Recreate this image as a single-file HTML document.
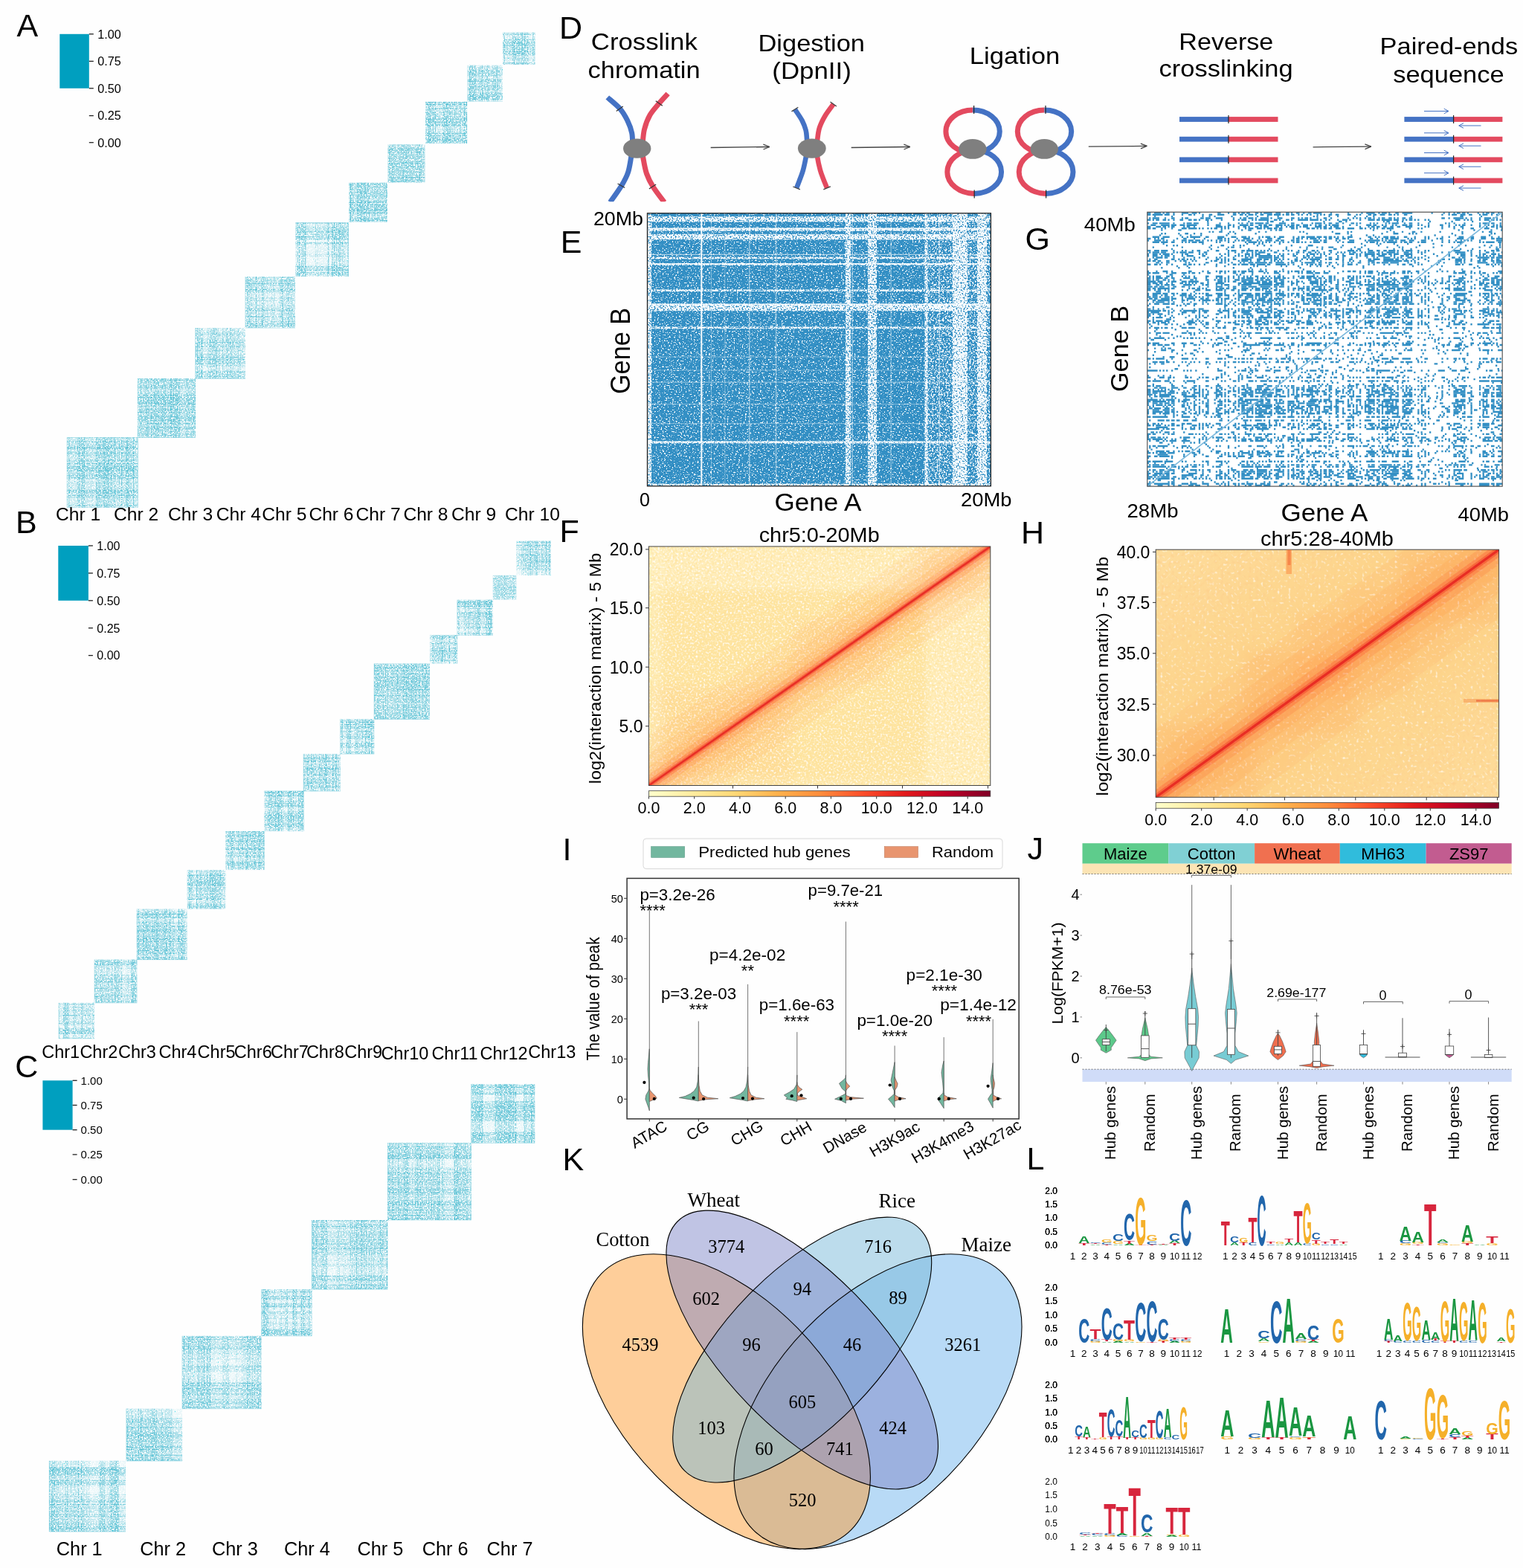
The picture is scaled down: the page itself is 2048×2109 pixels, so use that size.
<!DOCTYPE html>
<html><head><meta charset="utf-8"><title>Figure</title>
<style>
html,body{margin:0;padding:0;background:#fff;}
svg{display:block;}
.s{font-family:"Liberation Sans", Arial, sans-serif;}
.r{font-family:"Liberation Serif", "Times New Roman", serif;}
.b{font-family:"Liberation Sans", Arial, sans-serif;font-weight:bold;}
</style></head><body>
<svg width="2048" height="2109" viewBox="0 0 2048 2109">
<defs><pattern id="fine" width="2" height="2" patternUnits="userSpaceOnUse"><rect width="1" height="1" fill="rgba(0,160,190,0.35)"/></pattern><linearGradient id="ylorrd" x1="0" y1="0" x2="1" y2="0"><stop offset="0.000" stop-color="#ffffcc"/><stop offset="0.125" stop-color="#ffeda0"/><stop offset="0.250" stop-color="#fed976"/><stop offset="0.375" stop-color="#feb24c"/><stop offset="0.500" stop-color="#fd8d3c"/><stop offset="0.625" stop-color="#fc4e2a"/><stop offset="0.750" stop-color="#e31a1c"/><stop offset="0.875" stop-color="#bd0026"/><stop offset="1.000" stop-color="#800026"/></linearGradient></defs>
<rect width="2048" height="2109" fill="#fefefe"/>
<text class="s" x="22.5" y="49.3" font-size="43">A</text>
<rect x="80.3" y="45.8" width="39.5" height="73.0" fill="#009fbf"/>
<line x1="119.8" y1="45.8" x2="125.8" y2="45.8" stroke="#222" stroke-width="1.3"/>
<text class="s" x="131.3" y="51.6" font-size="16.2">1.00</text>
<line x1="119.8" y1="82.4" x2="125.8" y2="82.4" stroke="#222" stroke-width="1.3"/>
<text class="s" x="131.3" y="88.2" font-size="16.2">0.75</text>
<line x1="119.8" y1="118.8" x2="125.8" y2="118.8" stroke="#222" stroke-width="1.3"/>
<text class="s" x="131.3" y="124.6" font-size="16.2">0.50</text>
<line x1="119.8" y1="155.6" x2="125.8" y2="155.6" stroke="#222" stroke-width="1.3"/>
<text class="s" x="131.3" y="161.4" font-size="16.2">0.25</text>
<line x1="119.8" y1="191.7" x2="125.8" y2="191.7" stroke="#222" stroke-width="1.3"/>
<text class="s" x="131.3" y="197.5" font-size="16.2">0.00</text>
<rect x="90.0" y="588.5" width="95.3" height="94.1" fill="rgba(0,160,190,0.05)"/>
<rect x="90.0" y="678.5" width="95.3" height="4.06" fill="rgba(0,160,190,0.10)"/>
<rect x="90.0" y="588.5" width="4.11" height="94.1" fill="rgba(0,160,190,0.10)"/>
<rect x="90.0" y="667.7" width="95.3" height="10.88" fill="rgba(0,160,190,0.08)"/>
<rect x="94.1" y="588.5" width="11.02" height="94.1" fill="rgba(0,160,190,0.08)"/>
<rect x="90.0" y="658.9" width="95.3" height="8.80" fill="rgba(0,160,190,0.14)"/>
<rect x="105.1" y="588.5" width="8.91" height="94.1" fill="rgba(0,160,190,0.14)"/>
<rect x="90.0" y="652.4" width="95.3" height="6.49" fill="rgba(0,160,190,0.04)"/>
<rect x="114.0" y="588.5" width="6.58" height="94.1" fill="rgba(0,160,190,0.04)"/>
<rect x="90.0" y="645.0" width="95.3" height="7.34" fill="rgba(0,160,190,0.04)"/>
<rect x="120.6" y="588.5" width="7.43" height="94.1" fill="rgba(0,160,190,0.04)"/>
<rect x="90.0" y="636.0" width="95.3" height="9.06" fill="rgba(0,160,190,0.14)"/>
<rect x="128.0" y="588.5" width="9.18" height="94.1" fill="rgba(0,160,190,0.14)"/>
<rect x="90.0" y="632.7" width="95.3" height="3.23" fill="rgba(0,160,190,0.11)"/>
<rect x="137.2" y="588.5" width="3.27" height="94.1" fill="rgba(0,160,190,0.11)"/>
<rect x="90.0" y="627.1" width="95.3" height="5.66" fill="rgba(0,160,190,0.14)"/>
<rect x="140.5" y="588.5" width="5.74" height="94.1" fill="rgba(0,160,190,0.14)"/>
<rect x="90.0" y="617.2" width="95.3" height="9.93" fill="rgba(0,160,190,0.11)"/>
<rect x="146.2" y="588.5" width="10.05" height="94.1" fill="rgba(0,160,190,0.11)"/>
<rect x="90.0" y="606.2" width="95.3" height="10.96" fill="rgba(0,160,190,0.08)"/>
<rect x="156.3" y="588.5" width="11.10" height="94.1" fill="rgba(0,160,190,0.08)"/>
<rect x="90.0" y="601.8" width="95.3" height="4.42" fill="rgba(0,160,190,0.14)"/>
<rect x="167.4" y="588.5" width="4.48" height="94.1" fill="rgba(0,160,190,0.14)"/>
<rect x="90.0" y="595.8" width="95.3" height="5.96" fill="rgba(0,160,190,0.13)"/>
<rect x="171.9" y="588.5" width="6.03" height="94.1" fill="rgba(0,160,190,0.13)"/>
<rect x="90.0" y="588.5" width="95.3" height="7.31" fill="rgba(0,160,190,0.11)"/>
<rect x="177.9" y="588.5" width="7.41" height="94.1" fill="rgba(0,160,190,0.11)"/>
<path d="M90.0,682.6h95.3M90.0,663.5h95.3M90.0,657.4h95.3M90.0,655.2h95.3M90.0,653.1h95.3M90.0,650.2h95.3M90.0,648.5h95.3M90.0,637.9h95.3M90.0,635.7h95.3M90.0,625.3h95.3M90.0,620.7h95.3M90.0,615.0h95.3M90.0,599.4h95.3M90.0,597.7h95.3M90.0,588.5v94.1M109.4,588.5v94.1M115.5,588.5v94.1M117.7,588.5v94.1M119.9,588.5v94.1M122.8,588.5v94.1M124.5,588.5v94.1M135.3,588.5v94.1M137.5,588.5v94.1M148.1,588.5v94.1M152.7,588.5v94.1M158.4,588.5v94.1M174.3,588.5v94.1M176.0,588.5v94.1" stroke="rgb(0,160,190)" stroke-opacity="0.18" stroke-width="0.9" fill="none"/>
<path d="M90.0,679.8h95.3M90.0,668.5h95.3M90.0,612.9h95.3M90.0,608.3h95.3M90.0,588.5h95.3M92.9,588.5v94.1M104.3,588.5v94.1M160.6,588.5v94.1M165.2,588.5v94.1M185.3,588.5v94.1" stroke="rgb(0,160,190)" stroke-opacity="0.32" stroke-width="0.9" fill="none"/>
<path d="M90.0,666.3h95.3M90.0,661.7h95.3M90.0,659.6h95.3M90.0,642.8h95.3M90.0,640.0h95.3M90.0,633.5h95.3M90.0,631.8h95.3M90.0,629.6h95.3M90.0,627.4h95.3M90.0,623.5h95.3M90.0,619.0h95.3M90.0,610.0h95.3M90.0,603.3h95.3M90.0,601.6h95.3M90.0,594.2h95.3M106.5,588.5v94.1M111.1,588.5v94.1M113.3,588.5v94.1M130.3,588.5v94.1M133.1,588.5v94.1M139.7,588.5v94.1M141.5,588.5v94.1M143.7,588.5v94.1M145.9,588.5v94.1M149.8,588.5v94.1M154.5,588.5v94.1M163.5,588.5v94.1M170.3,588.5v94.1M172.1,588.5v94.1M179.5,588.5v94.1" stroke="rgb(0,160,190)" stroke-opacity="0.50" stroke-width="0.9" fill="none"/>
<rect x="185.3" y="509.0" width="77.7" height="79.5" fill="rgba(0,160,190,0.05)"/>
<rect x="185.3" y="582.0" width="77.7" height="6.54" fill="rgba(0,160,190,0.11)"/>
<rect x="185.3" y="509.0" width="6.39" height="79.5" fill="rgba(0,160,190,0.11)"/>
<rect x="185.3" y="573.1" width="77.7" height="8.88" fill="rgba(0,160,190,0.14)"/>
<rect x="191.7" y="509.0" width="8.68" height="79.5" fill="rgba(0,160,190,0.14)"/>
<rect x="185.3" y="567.3" width="77.7" height="5.73" fill="rgba(0,160,190,0.11)"/>
<rect x="200.4" y="509.0" width="5.60" height="79.5" fill="rgba(0,160,190,0.11)"/>
<rect x="185.3" y="560.7" width="77.7" height="6.69" fill="rgba(0,160,190,0.14)"/>
<rect x="206.0" y="509.0" width="6.54" height="79.5" fill="rgba(0,160,190,0.14)"/>
<rect x="185.3" y="554.8" width="77.7" height="5.86" fill="rgba(0,160,190,0.11)"/>
<rect x="212.5" y="509.0" width="5.73" height="79.5" fill="rgba(0,160,190,0.11)"/>
<rect x="185.3" y="550.1" width="77.7" height="4.74" fill="rgba(0,160,190,0.10)"/>
<rect x="218.2" y="509.0" width="4.63" height="79.5" fill="rgba(0,160,190,0.10)"/>
<rect x="185.3" y="547.2" width="77.7" height="2.89" fill="rgba(0,160,190,0.11)"/>
<rect x="222.9" y="509.0" width="2.82" height="79.5" fill="rgba(0,160,190,0.11)"/>
<rect x="185.3" y="543.6" width="77.7" height="3.54" fill="rgba(0,160,190,0.10)"/>
<rect x="225.7" y="509.0" width="3.46" height="79.5" fill="rgba(0,160,190,0.10)"/>
<rect x="185.3" y="535.7" width="77.7" height="7.89" fill="rgba(0,160,190,0.14)"/>
<rect x="229.2" y="509.0" width="7.71" height="79.5" fill="rgba(0,160,190,0.14)"/>
<rect x="185.3" y="532.0" width="77.7" height="3.76" fill="rgba(0,160,190,0.14)"/>
<rect x="236.9" y="509.0" width="3.67" height="79.5" fill="rgba(0,160,190,0.14)"/>
<rect x="185.3" y="527.9" width="77.7" height="4.09" fill="rgba(0,160,190,0.13)"/>
<rect x="240.5" y="509.0" width="4.00" height="79.5" fill="rgba(0,160,190,0.13)"/>
<rect x="185.3" y="522.5" width="77.7" height="5.41" fill="rgba(0,160,190,0.04)"/>
<rect x="244.5" y="509.0" width="5.28" height="79.5" fill="rgba(0,160,190,0.04)"/>
<rect x="185.3" y="517.0" width="77.7" height="5.46" fill="rgba(0,160,190,0.14)"/>
<rect x="249.8" y="509.0" width="5.34" height="79.5" fill="rgba(0,160,190,0.14)"/>
<rect x="185.3" y="513.1" width="77.7" height="3.90" fill="rgba(0,160,190,0.14)"/>
<rect x="255.2" y="509.0" width="3.81" height="79.5" fill="rgba(0,160,190,0.14)"/>
<rect x="185.3" y="509.0" width="77.7" height="4.12" fill="rgba(0,160,190,0.14)"/>
<rect x="259.0" y="509.0" width="4.02" height="79.5" fill="rgba(0,160,190,0.14)"/>
<path d="M185.3,585.6h77.7M185.3,577.9h77.7M185.3,566.9h77.7M185.3,557.0h77.7M185.3,527.0h77.7M185.3,523.0h77.7M185.3,518.5h77.7M185.3,514.0h77.7M185.3,509.5h77.7M188.2,509.0v79.5M195.6,509.0v79.5M206.4,509.0v79.5M216.1,509.0v79.5M245.4,509.0v79.5M249.3,509.0v79.5M253.7,509.0v79.5M258.1,509.0v79.5M262.5,509.0v79.5" stroke="rgb(0,160,190)" stroke-opacity="0.18" stroke-width="0.9" fill="none"/>
<path d="M185.3,588.5h77.7M185.3,583.8h77.7M185.3,576.1h77.7M185.3,574.3h77.7M185.3,552.5h77.7M185.3,546.6h77.7M185.3,520.7h77.7M185.3,511.7h77.7M185.3,509.0v79.5M189.9,509.0v79.5M197.4,509.0v79.5M199.2,509.0v79.5M220.5,509.0v79.5M226.2,509.0v79.5M251.5,509.0v79.5M260.3,509.0v79.5" stroke="rgb(0,160,190)" stroke-opacity="0.32" stroke-width="0.9" fill="none"/>
<path d="M185.3,569.8h77.7M185.3,565.1h77.7M185.3,562.2h77.7M185.3,559.9h77.7M185.3,554.7h77.7M185.3,550.7h77.7M185.3,543.7h77.7M185.3,541.9h77.7M185.3,539.0h77.7M185.3,536.7h77.7M185.3,534.5h77.7M185.3,531.6h77.7M203.6,509.0v79.5M208.2,509.0v79.5M211.0,509.0v79.5M213.2,509.0v79.5M218.3,509.0v79.5M222.3,509.0v79.5M229.1,509.0v79.5M230.8,509.0v79.5M233.7,509.0v79.5M235.9,509.0v79.5M238.1,509.0v79.5M241.0,509.0v79.5" stroke="rgb(0,160,190)" stroke-opacity="0.50" stroke-width="0.9" fill="none"/>
<rect x="263.0" y="441.0" width="67.0" height="68.0" fill="rgba(0,160,190,0.05)"/>
<rect x="263.0" y="506.1" width="67.0" height="2.95" fill="rgba(0,160,190,0.14)"/>
<rect x="263.0" y="441.0" width="2.90" height="68.0" fill="rgba(0,160,190,0.14)"/>
<rect x="263.0" y="503.0" width="67.0" height="3.08" fill="rgba(0,160,190,0.08)"/>
<rect x="265.9" y="441.0" width="3.03" height="68.0" fill="rgba(0,160,190,0.08)"/>
<rect x="263.0" y="498.6" width="67.0" height="4.39" fill="rgba(0,160,190,0.13)"/>
<rect x="268.9" y="441.0" width="4.33" height="68.0" fill="rgba(0,160,190,0.13)"/>
<rect x="263.0" y="493.1" width="67.0" height="5.51" fill="rgba(0,160,190,0.01)"/>
<rect x="273.3" y="441.0" width="5.42" height="68.0" fill="rgba(0,160,190,0.01)"/>
<rect x="263.0" y="486.6" width="67.0" height="6.47" fill="rgba(0,160,190,0.08)"/>
<rect x="278.7" y="441.0" width="6.38" height="68.0" fill="rgba(0,160,190,0.08)"/>
<rect x="263.0" y="480.1" width="67.0" height="6.54" fill="rgba(0,160,190,0.13)"/>
<rect x="285.1" y="441.0" width="6.44" height="68.0" fill="rgba(0,160,190,0.13)"/>
<rect x="263.0" y="475.3" width="67.0" height="4.74" fill="rgba(0,160,190,0.08)"/>
<rect x="291.5" y="441.0" width="4.67" height="68.0" fill="rgba(0,160,190,0.08)"/>
<rect x="263.0" y="472.8" width="67.0" height="2.56" fill="rgba(0,160,190,0.01)"/>
<rect x="296.2" y="441.0" width="2.52" height="68.0" fill="rgba(0,160,190,0.01)"/>
<rect x="263.0" y="466.5" width="67.0" height="6.26" fill="rgba(0,160,190,0.10)"/>
<rect x="298.7" y="441.0" width="6.17" height="68.0" fill="rgba(0,160,190,0.10)"/>
<rect x="263.0" y="459.0" width="67.0" height="7.54" fill="rgba(0,160,190,0.11)"/>
<rect x="304.9" y="441.0" width="7.43" height="68.0" fill="rgba(0,160,190,0.11)"/>
<rect x="263.0" y="452.6" width="67.0" height="6.41" fill="rgba(0,160,190,0.08)"/>
<rect x="312.3" y="441.0" width="6.32" height="68.0" fill="rgba(0,160,190,0.08)"/>
<rect x="263.0" y="447.5" width="67.0" height="5.04" fill="rgba(0,160,190,0.13)"/>
<rect x="318.6" y="441.0" width="4.97" height="68.0" fill="rgba(0,160,190,0.13)"/>
<rect x="263.0" y="441.6" width="67.0" height="5.90" fill="rgba(0,160,190,0.04)"/>
<rect x="323.6" y="441.0" width="5.81" height="68.0" fill="rgba(0,160,190,0.04)"/>
<rect x="263.0" y="441.0" width="67.0" height="0.61" fill="rgba(0,160,190,0.04)"/>
<rect x="329.4" y="441.0" width="0.60" height="68.0" fill="rgba(0,160,190,0.04)"/>
<path d="M263.0,491.8h67.0M263.0,478.6h67.0M263.0,463.9h67.0M263.0,455.9h67.0M263.0,450.7h67.0M263.0,447.8h67.0M263.0,444.9h67.0M279.9,441.0v68.0M292.9,441.0v68.0M307.4,441.0v68.0M315.4,441.0v68.0M320.4,441.0v68.0M323.3,441.0v68.0M326.1,441.0v68.0" stroke="rgb(0,160,190)" stroke-opacity="0.18" stroke-width="0.9" fill="none"/>
<path d="M263.0,503.2h67.0M263.0,486.7h67.0M263.0,476.4h67.0M263.0,471.9h67.0M263.0,458.1h67.0M268.7,441.0v68.0M285.0,441.0v68.0M295.1,441.0v68.0M299.5,441.0v68.0M313.2,441.0v68.0" stroke="rgb(0,160,190)" stroke-opacity="0.32" stroke-width="0.9" fill="none"/>
<path d="M263.0,509.0h67.0M263.0,506.1h67.0M263.0,500.3h67.0M263.0,488.9h67.0M263.0,483.8h67.0M263.0,480.9h67.0M263.0,466.1h67.0M263.0,461.0h67.0M263.0,441.0v68.0M265.9,441.0v68.0M271.6,441.0v68.0M282.8,441.0v68.0M287.9,441.0v68.0M290.7,441.0v68.0M305.2,441.0v68.0M310.3,441.0v68.0" stroke="rgb(0,160,190)" stroke-opacity="0.50" stroke-width="0.9" fill="none"/>
<rect x="330.0" y="372.0" width="67.0" height="69.0" fill="rgba(0,160,190,0.05)"/>
<rect x="330.0" y="432.9" width="67.0" height="8.15" fill="rgba(0,160,190,0.10)"/>
<rect x="330.0" y="372.0" width="7.91" height="69.0" fill="rgba(0,160,190,0.10)"/>
<rect x="330.0" y="425.0" width="67.0" height="7.87" fill="rgba(0,160,190,0.11)"/>
<rect x="337.9" y="372.0" width="7.64" height="69.0" fill="rgba(0,160,190,0.11)"/>
<rect x="330.0" y="418.6" width="67.0" height="6.35" fill="rgba(0,160,190,0.04)"/>
<rect x="345.6" y="372.0" width="6.17" height="69.0" fill="rgba(0,160,190,0.04)"/>
<rect x="330.0" y="412.5" width="67.0" height="6.13" fill="rgba(0,160,190,0.10)"/>
<rect x="351.7" y="372.0" width="5.96" height="69.0" fill="rgba(0,160,190,0.10)"/>
<rect x="330.0" y="404.9" width="67.0" height="7.60" fill="rgba(0,160,190,0.04)"/>
<rect x="357.7" y="372.0" width="7.37" height="69.0" fill="rgba(0,160,190,0.04)"/>
<rect x="330.0" y="399.8" width="67.0" height="5.11" fill="rgba(0,160,190,0.08)"/>
<rect x="365.1" y="372.0" width="4.96" height="69.0" fill="rgba(0,160,190,0.08)"/>
<rect x="330.0" y="396.3" width="67.0" height="3.45" fill="rgba(0,160,190,0.01)"/>
<rect x="370.0" y="372.0" width="3.35" height="69.0" fill="rgba(0,160,190,0.01)"/>
<rect x="330.0" y="394.0" width="67.0" height="2.34" fill="rgba(0,160,190,0.04)"/>
<rect x="373.4" y="372.0" width="2.28" height="69.0" fill="rgba(0,160,190,0.04)"/>
<rect x="330.0" y="387.6" width="67.0" height="6.36" fill="rgba(0,160,190,0.14)"/>
<rect x="375.6" y="372.0" width="6.18" height="69.0" fill="rgba(0,160,190,0.14)"/>
<rect x="330.0" y="384.4" width="67.0" height="3.21" fill="rgba(0,160,190,0.13)"/>
<rect x="381.8" y="372.0" width="3.12" height="69.0" fill="rgba(0,160,190,0.13)"/>
<rect x="330.0" y="377.0" width="67.0" height="7.42" fill="rgba(0,160,190,0.13)"/>
<rect x="384.9" y="372.0" width="7.20" height="69.0" fill="rgba(0,160,190,0.13)"/>
<rect x="330.0" y="373.5" width="67.0" height="3.48" fill="rgba(0,160,190,0.11)"/>
<rect x="392.1" y="372.0" width="3.38" height="69.0" fill="rgba(0,160,190,0.11)"/>
<rect x="330.0" y="372.0" width="67.0" height="1.53" fill="rgba(0,160,190,0.11)"/>
<rect x="395.5" y="372.0" width="1.49" height="69.0" fill="rgba(0,160,190,0.11)"/>
<path d="M330.0,423.1h67.0M330.0,421.3h67.0M330.0,410.6h67.0M330.0,404.7h67.0M330.0,401.1h67.0M330.0,391.4h67.0M330.0,383.7h67.0M330.0,379.1h67.0M330.0,373.9h67.0M347.4,372.0v69.0M349.1,372.0v69.0M359.5,372.0v69.0M365.2,372.0v69.0M368.7,372.0v69.0M378.2,372.0v69.0M385.7,372.0v69.0M390.1,372.0v69.0M395.1,372.0v69.0" stroke="rgb(0,160,190)" stroke-opacity="0.18" stroke-width="0.9" fill="none"/>
<path d="M330.0,441.0h67.0M330.0,432.8h67.0M330.0,415.9h67.0M330.0,376.9h67.0M330.0,372.0v69.0M337.9,372.0v69.0M354.4,372.0v69.0M392.3,372.0v69.0" stroke="rgb(0,160,190)" stroke-opacity="0.32" stroke-width="0.9" fill="none"/>
<path d="M330.0,438.1h67.0M330.0,435.8h67.0M330.0,426.0h67.0M330.0,417.7h67.0M330.0,389.6h67.0M330.0,381.4h67.0M332.9,372.0v69.0M335.1,372.0v69.0M344.5,372.0v69.0M352.7,372.0v69.0M379.9,372.0v69.0M387.9,372.0v69.0" stroke="rgb(0,160,190)" stroke-opacity="0.50" stroke-width="0.9" fill="none"/>
<rect x="397.4" y="299.6" width="71.1" height="72.4" fill="rgba(0,160,190,0.05)"/>
<rect x="397.4" y="363.6" width="71.1" height="8.43" fill="rgba(0,160,190,0.11)"/>
<rect x="397.4" y="299.6" width="8.28" height="72.4" fill="rgba(0,160,190,0.11)"/>
<rect x="397.4" y="356.6" width="71.1" height="6.94" fill="rgba(0,160,190,0.11)"/>
<rect x="405.7" y="299.6" width="6.82" height="72.4" fill="rgba(0,160,190,0.11)"/>
<rect x="397.4" y="351.9" width="71.1" height="4.72" fill="rgba(0,160,190,0.01)"/>
<rect x="412.5" y="299.6" width="4.64" height="72.4" fill="rgba(0,160,190,0.01)"/>
<rect x="397.4" y="345.1" width="71.1" height="6.82" fill="rgba(0,160,190,0.01)"/>
<rect x="417.1" y="299.6" width="6.70" height="72.4" fill="rgba(0,160,190,0.01)"/>
<rect x="397.4" y="337.0" width="71.1" height="8.12" fill="rgba(0,160,190,0.04)"/>
<rect x="423.8" y="299.6" width="7.97" height="72.4" fill="rgba(0,160,190,0.04)"/>
<rect x="397.4" y="329.0" width="71.1" height="8.01" fill="rgba(0,160,190,0.04)"/>
<rect x="431.8" y="299.6" width="7.86" height="72.4" fill="rgba(0,160,190,0.04)"/>
<rect x="397.4" y="326.3" width="71.1" height="2.67" fill="rgba(0,160,190,0.14)"/>
<rect x="439.7" y="299.6" width="2.62" height="72.4" fill="rgba(0,160,190,0.14)"/>
<rect x="397.4" y="321.7" width="71.1" height="4.57" fill="rgba(0,160,190,0.01)"/>
<rect x="442.3" y="299.6" width="4.49" height="72.4" fill="rgba(0,160,190,0.01)"/>
<rect x="397.4" y="313.9" width="71.1" height="7.79" fill="rgba(0,160,190,0.14)"/>
<rect x="446.8" y="299.6" width="7.65" height="72.4" fill="rgba(0,160,190,0.14)"/>
<rect x="397.4" y="309.2" width="71.1" height="4.72" fill="rgba(0,160,190,0.14)"/>
<rect x="454.4" y="299.6" width="4.64" height="72.4" fill="rgba(0,160,190,0.14)"/>
<rect x="397.4" y="300.9" width="71.1" height="8.34" fill="rgba(0,160,190,0.08)"/>
<rect x="459.1" y="299.6" width="8.19" height="72.4" fill="rgba(0,160,190,0.08)"/>
<rect x="397.4" y="299.6" width="71.1" height="1.26" fill="rgba(0,160,190,0.13)"/>
<rect x="467.3" y="299.6" width="1.24" height="72.4" fill="rgba(0,160,190,0.13)"/>
<path d="M397.4,344.4h71.1M397.4,342.2h71.1M397.4,304.6h71.1M424.5,299.6v72.4M426.7,299.6v72.4M463.6,299.6v72.4" stroke="rgb(0,160,190)" stroke-opacity="0.18" stroke-width="0.9" fill="none"/>
<path d="M397.4,369.1h71.1M397.4,361.0h71.1M397.4,315.8h71.1M397.4,312.9h71.1M397.4,308.2h71.1M397.4,306.4h71.1M400.3,299.6v72.4M408.2,299.6v72.4M452.6,299.6v72.4M455.5,299.6v72.4M460.1,299.6v72.4M461.9,299.6v72.4" stroke="rgb(0,160,190)" stroke-opacity="0.32" stroke-width="0.9" fill="none"/>
<path d="M397.4,366.8h71.1M397.4,363.3h71.1M397.4,358.8h71.1M397.4,326.7h71.1M397.4,321.6h71.1M397.4,318.7h71.1M397.4,311.1h71.1M397.4,299.9h71.1M402.5,299.6v72.4M406.0,299.6v72.4M410.4,299.6v72.4M441.8,299.6v72.4M446.9,299.6v72.4M449.8,299.6v72.4M457.2,299.6v72.4M468.2,299.6v72.4" stroke="rgb(0,160,190)" stroke-opacity="0.50" stroke-width="0.9" fill="none"/>
<rect x="469.3" y="245.7" width="51.7" height="52.9" fill="rgba(0,160,190,0.05)"/>
<rect x="469.3" y="292.8" width="51.7" height="5.77" fill="rgba(0,160,190,0.14)"/>
<rect x="469.3" y="245.7" width="5.64" height="52.9" fill="rgba(0,160,190,0.14)"/>
<rect x="469.3" y="288.5" width="51.7" height="4.35" fill="rgba(0,160,190,0.04)"/>
<rect x="474.9" y="245.7" width="4.25" height="52.9" fill="rgba(0,160,190,0.04)"/>
<rect x="469.3" y="282.4" width="51.7" height="6.12" fill="rgba(0,160,190,0.14)"/>
<rect x="479.2" y="245.7" width="5.98" height="52.9" fill="rgba(0,160,190,0.14)"/>
<rect x="469.3" y="278.3" width="51.7" height="4.08" fill="rgba(0,160,190,0.14)"/>
<rect x="485.2" y="245.7" width="3.99" height="52.9" fill="rgba(0,160,190,0.14)"/>
<rect x="469.3" y="275.3" width="51.7" height="2.98" fill="rgba(0,160,190,0.14)"/>
<rect x="489.2" y="245.7" width="2.91" height="52.9" fill="rgba(0,160,190,0.14)"/>
<rect x="469.3" y="272.9" width="51.7" height="2.38" fill="rgba(0,160,190,0.08)"/>
<rect x="492.1" y="245.7" width="2.32" height="52.9" fill="rgba(0,160,190,0.08)"/>
<rect x="469.3" y="270.9" width="51.7" height="2.06" fill="rgba(0,160,190,0.13)"/>
<rect x="494.4" y="245.7" width="2.02" height="52.9" fill="rgba(0,160,190,0.13)"/>
<rect x="469.3" y="267.6" width="51.7" height="3.26" fill="rgba(0,160,190,0.08)"/>
<rect x="496.4" y="245.7" width="3.19" height="52.9" fill="rgba(0,160,190,0.08)"/>
<rect x="469.3" y="262.0" width="51.7" height="5.62" fill="rgba(0,160,190,0.13)"/>
<rect x="499.6" y="245.7" width="5.49" height="52.9" fill="rgba(0,160,190,0.13)"/>
<rect x="469.3" y="256.4" width="51.7" height="5.54" fill="rgba(0,160,190,0.10)"/>
<rect x="505.1" y="245.7" width="5.41" height="52.9" fill="rgba(0,160,190,0.10)"/>
<rect x="469.3" y="250.7" width="51.7" height="5.78" fill="rgba(0,160,190,0.11)"/>
<rect x="510.5" y="245.7" width="5.65" height="52.9" fill="rgba(0,160,190,0.11)"/>
<rect x="469.3" y="245.7" width="51.7" height="4.95" fill="rgba(0,160,190,0.08)"/>
<rect x="516.2" y="245.7" width="4.84" height="52.9" fill="rgba(0,160,190,0.08)"/>
<rect x="469.3" y="245.7" width="51.7" height="0.01" fill="rgba(0,160,190,0.14)"/>
<rect x="521.0" y="245.7" width="0.01" height="52.9" fill="rgba(0,160,190,0.14)"/>
<path d="M469.3,292.3h51.7M469.3,289.4h51.7M469.3,279.5h51.7M469.3,266.2h51.7M469.3,257.4h51.7M469.3,255.2h51.7M469.3,250.7h51.7M475.5,245.7v52.9M478.3,245.7v52.9M488.0,245.7v52.9M501.0,245.7v52.9M509.6,245.7v52.9M511.8,245.7v52.9M516.2,245.7v52.9" stroke="rgb(0,160,190)" stroke-opacity="0.18" stroke-width="0.9" fill="none"/>
<path d="M469.3,294.5h51.7M469.3,270.7h51.7M469.3,263.3h51.7M469.3,261.0h51.7M469.3,259.2h51.7M469.3,252.9h51.7M469.3,248.9h51.7M473.3,245.7v52.9M496.6,245.7v52.9M503.8,245.7v52.9M506.0,245.7v52.9M507.8,245.7v52.9M514.0,245.7v52.9M517.9,245.7v52.9" stroke="rgb(0,160,190)" stroke-opacity="0.32" stroke-width="0.9" fill="none"/>
<path d="M469.3,296.3h51.7M469.3,286.4h51.7M469.3,283.5h51.7M469.3,281.7h51.7M469.3,277.2h51.7M469.3,275.4h51.7M469.3,272.5h51.7M469.3,247.1h51.7M471.5,245.7v52.9M481.2,245.7v52.9M484.0,245.7v52.9M485.8,245.7v52.9M490.2,245.7v52.9M492.0,245.7v52.9M494.8,245.7v52.9M519.7,245.7v52.9" stroke="rgb(0,160,190)" stroke-opacity="0.50" stroke-width="0.9" fill="none"/>
<rect x="521.5" y="194.2" width="49.9" height="51.5" fill="rgba(0,160,190,0.05)"/>
<rect x="521.5" y="240.9" width="49.9" height="4.84" fill="rgba(0,160,190,0.10)"/>
<rect x="521.5" y="194.2" width="4.69" height="51.5" fill="rgba(0,160,190,0.10)"/>
<rect x="521.5" y="239.2" width="49.9" height="1.62" fill="rgba(0,160,190,0.10)"/>
<rect x="526.2" y="194.2" width="1.57" height="51.5" fill="rgba(0,160,190,0.10)"/>
<rect x="521.5" y="237.4" width="49.9" height="1.81" fill="rgba(0,160,190,0.14)"/>
<rect x="527.8" y="194.2" width="1.75" height="51.5" fill="rgba(0,160,190,0.14)"/>
<rect x="521.5" y="232.2" width="49.9" height="5.27" fill="rgba(0,160,190,0.11)"/>
<rect x="529.5" y="194.2" width="5.11" height="51.5" fill="rgba(0,160,190,0.11)"/>
<rect x="521.5" y="226.9" width="49.9" height="5.30" fill="rgba(0,160,190,0.10)"/>
<rect x="534.6" y="194.2" width="5.13" height="51.5" fill="rgba(0,160,190,0.10)"/>
<rect x="521.5" y="223.6" width="49.9" height="3.23" fill="rgba(0,160,190,0.10)"/>
<rect x="539.8" y="194.2" width="3.13" height="51.5" fill="rgba(0,160,190,0.10)"/>
<rect x="521.5" y="218.7" width="49.9" height="4.98" fill="rgba(0,160,190,0.14)"/>
<rect x="542.9" y="194.2" width="4.82" height="51.5" fill="rgba(0,160,190,0.14)"/>
<rect x="521.5" y="213.9" width="49.9" height="4.74" fill="rgba(0,160,190,0.10)"/>
<rect x="547.7" y="194.2" width="4.60" height="51.5" fill="rgba(0,160,190,0.10)"/>
<rect x="521.5" y="211.1" width="49.9" height="2.83" fill="rgba(0,160,190,0.10)"/>
<rect x="552.3" y="194.2" width="2.75" height="51.5" fill="rgba(0,160,190,0.10)"/>
<rect x="521.5" y="206.5" width="49.9" height="4.55" fill="rgba(0,160,190,0.08)"/>
<rect x="555.1" y="194.2" width="4.41" height="51.5" fill="rgba(0,160,190,0.08)"/>
<rect x="521.5" y="203.7" width="49.9" height="2.82" fill="rgba(0,160,190,0.10)"/>
<rect x="559.5" y="194.2" width="2.73" height="51.5" fill="rgba(0,160,190,0.10)"/>
<rect x="521.5" y="200.5" width="49.9" height="3.17" fill="rgba(0,160,190,0.14)"/>
<rect x="562.2" y="194.2" width="3.08" height="51.5" fill="rgba(0,160,190,0.14)"/>
<rect x="521.5" y="197.4" width="49.9" height="3.16" fill="rgba(0,160,190,0.08)"/>
<rect x="565.3" y="194.2" width="3.06" height="51.5" fill="rgba(0,160,190,0.08)"/>
<rect x="521.5" y="195.2" width="49.9" height="2.19" fill="rgba(0,160,190,0.04)"/>
<rect x="568.3" y="194.2" width="2.13" height="51.5" fill="rgba(0,160,190,0.04)"/>
<rect x="521.5" y="194.2" width="49.9" height="0.97" fill="rgba(0,160,190,0.14)"/>
<rect x="570.5" y="194.2" width="0.94" height="51.5" fill="rgba(0,160,190,0.14)"/>
<path d="M521.5,233.7h49.9M521.5,229.1h49.9M521.5,222.3h49.9M521.5,208.0h49.9M521.5,202.8h49.9M521.5,196.2h49.9M533.2,194.2v51.5M537.6,194.2v51.5M544.2,194.2v51.5M558.0,194.2v51.5M563.1,194.2v51.5M569.5,194.2v51.5" stroke="rgb(0,160,190)" stroke-opacity="0.18" stroke-width="0.9" fill="none"/>
<path d="M521.5,241.2h49.9M521.5,235.9h49.9M521.5,231.4h49.9M521.5,226.9h49.9M521.5,217.8h49.9M521.5,214.8h49.9M521.5,212.6h49.9M521.5,210.3h49.9M521.5,199.2h49.9M525.9,194.2v51.5M531.0,194.2v51.5M535.4,194.2v51.5M539.8,194.2v51.5M548.6,194.2v51.5M551.4,194.2v51.5M553.6,194.2v51.5M555.8,194.2v51.5M566.6,194.2v51.5" stroke="rgb(0,160,190)" stroke-opacity="0.32" stroke-width="0.9" fill="none"/>
<path d="M521.5,243.4h49.9M521.5,238.9h49.9M521.5,224.6h49.9M521.5,220.0h49.9M521.5,205.1h49.9M521.5,201.0h49.9M523.7,194.2v51.5M528.1,194.2v51.5M542.0,194.2v51.5M546.4,194.2v51.5M560.9,194.2v51.5M564.8,194.2v51.5" stroke="rgb(0,160,190)" stroke-opacity="0.50" stroke-width="0.9" fill="none"/>
<rect x="572.0" y="136.9" width="56.2" height="56.2" fill="rgba(0,160,190,0.05)"/>
<rect x="572.0" y="190.2" width="56.2" height="2.93" fill="rgba(0,160,190,0.13)"/>
<rect x="572.0" y="136.9" width="2.93" height="56.2" fill="rgba(0,160,190,0.13)"/>
<rect x="572.0" y="186.0" width="56.2" height="4.13" fill="rgba(0,160,190,0.14)"/>
<rect x="574.9" y="136.9" width="4.13" height="56.2" fill="rgba(0,160,190,0.14)"/>
<rect x="572.0" y="179.5" width="56.2" height="6.53" fill="rgba(0,160,190,0.13)"/>
<rect x="579.1" y="136.9" width="6.53" height="56.2" fill="rgba(0,160,190,0.13)"/>
<rect x="572.0" y="172.8" width="56.2" height="6.74" fill="rgba(0,160,190,0.04)"/>
<rect x="585.6" y="136.9" width="6.74" height="56.2" fill="rgba(0,160,190,0.04)"/>
<rect x="572.0" y="169.8" width="56.2" height="2.95" fill="rgba(0,160,190,0.01)"/>
<rect x="592.3" y="136.9" width="2.95" height="56.2" fill="rgba(0,160,190,0.01)"/>
<rect x="572.0" y="164.6" width="56.2" height="5.27" fill="rgba(0,160,190,0.14)"/>
<rect x="595.3" y="136.9" width="5.27" height="56.2" fill="rgba(0,160,190,0.14)"/>
<rect x="572.0" y="158.6" width="56.2" height="5.96" fill="rgba(0,160,190,0.11)"/>
<rect x="600.5" y="136.9" width="5.96" height="56.2" fill="rgba(0,160,190,0.11)"/>
<rect x="572.0" y="156.0" width="56.2" height="2.63" fill="rgba(0,160,190,0.11)"/>
<rect x="606.5" y="136.9" width="2.63" height="56.2" fill="rgba(0,160,190,0.11)"/>
<rect x="572.0" y="149.6" width="56.2" height="6.35" fill="rgba(0,160,190,0.08)"/>
<rect x="609.1" y="136.9" width="6.35" height="56.2" fill="rgba(0,160,190,0.08)"/>
<rect x="572.0" y="146.7" width="56.2" height="2.92" fill="rgba(0,160,190,0.04)"/>
<rect x="615.5" y="136.9" width="2.92" height="56.2" fill="rgba(0,160,190,0.04)"/>
<rect x="572.0" y="144.6" width="56.2" height="2.07" fill="rgba(0,160,190,0.08)"/>
<rect x="618.4" y="136.9" width="2.07" height="56.2" fill="rgba(0,160,190,0.08)"/>
<rect x="572.0" y="142.6" width="56.2" height="2.01" fill="rgba(0,160,190,0.11)"/>
<rect x="620.5" y="136.9" width="2.01" height="56.2" fill="rgba(0,160,190,0.11)"/>
<rect x="572.0" y="140.1" width="56.2" height="2.46" fill="rgba(0,160,190,0.14)"/>
<rect x="622.5" y="136.9" width="2.46" height="56.2" fill="rgba(0,160,190,0.14)"/>
<rect x="572.0" y="138.0" width="56.2" height="2.13" fill="rgba(0,160,190,0.14)"/>
<rect x="625.0" y="136.9" width="2.13" height="56.2" fill="rgba(0,160,190,0.14)"/>
<rect x="572.0" y="136.9" width="56.2" height="1.12" fill="rgba(0,160,190,0.11)"/>
<rect x="627.1" y="136.9" width="1.12" height="56.2" fill="rgba(0,160,190,0.11)"/>
<path d="M572.0,184.7h56.2M572.0,177.5h56.2M572.0,174.6h56.2M572.0,158.6h56.2M572.0,156.4h56.2M572.0,149.1h56.2M580.4,136.9v56.2M587.6,136.9v56.2M590.5,136.9v56.2M606.5,136.9v56.2M608.7,136.9v56.2M616.0,136.9v56.2" stroke="rgb(0,160,190)" stroke-opacity="0.18" stroke-width="0.9" fill="none"/>
<path d="M572.0,190.9h56.2M572.0,182.5h56.2M572.0,167.1h56.2M572.0,162.5h56.2M572.0,153.5h56.2M572.0,151.3h56.2M574.2,136.9v56.2M582.6,136.9v56.2M598.0,136.9v56.2M602.6,136.9v56.2M611.6,136.9v56.2M613.8,136.9v56.2" stroke="rgb(0,160,190)" stroke-opacity="0.32" stroke-width="0.9" fill="none"/>
<path d="M572.0,188.7h56.2M572.0,186.9h56.2M572.0,179.7h56.2M572.0,168.9h56.2M572.0,164.3h56.2M572.0,160.3h56.2M572.0,146.2h56.2M572.0,140.5h56.2M572.0,137.7h56.2M576.4,136.9v56.2M578.2,136.9v56.2M585.4,136.9v56.2M596.2,136.9v56.2M600.8,136.9v56.2M604.8,136.9v56.2M618.9,136.9v56.2M624.6,136.9v56.2M627.4,136.9v56.2" stroke="rgb(0,160,190)" stroke-opacity="0.50" stroke-width="0.9" fill="none"/>
<rect x="628.8" y="87.7" width="47.2" height="48.6" fill="rgba(0,160,190,0.05)"/>
<rect x="628.8" y="134.3" width="47.2" height="2.03" fill="rgba(0,160,190,0.04)"/>
<rect x="628.8" y="87.7" width="1.97" height="48.6" fill="rgba(0,160,190,0.04)"/>
<rect x="628.8" y="129.0" width="47.2" height="5.31" fill="rgba(0,160,190,0.13)"/>
<rect x="630.8" y="87.7" width="5.16" height="48.6" fill="rgba(0,160,190,0.13)"/>
<rect x="628.8" y="124.3" width="47.2" height="4.64" fill="rgba(0,160,190,0.13)"/>
<rect x="635.9" y="87.7" width="4.51" height="48.6" fill="rgba(0,160,190,0.13)"/>
<rect x="628.8" y="122.0" width="47.2" height="2.31" fill="rgba(0,160,190,0.04)"/>
<rect x="640.4" y="87.7" width="2.25" height="48.6" fill="rgba(0,160,190,0.04)"/>
<rect x="628.8" y="119.2" width="47.2" height="2.77" fill="rgba(0,160,190,0.08)"/>
<rect x="642.7" y="87.7" width="2.69" height="48.6" fill="rgba(0,160,190,0.08)"/>
<rect x="628.8" y="116.9" width="47.2" height="2.34" fill="rgba(0,160,190,0.14)"/>
<rect x="645.4" y="87.7" width="2.27" height="48.6" fill="rgba(0,160,190,0.14)"/>
<rect x="628.8" y="114.6" width="47.2" height="2.29" fill="rgba(0,160,190,0.11)"/>
<rect x="647.6" y="87.7" width="2.23" height="48.6" fill="rgba(0,160,190,0.11)"/>
<rect x="628.8" y="112.8" width="47.2" height="1.83" fill="rgba(0,160,190,0.13)"/>
<rect x="649.9" y="87.7" width="1.78" height="48.6" fill="rgba(0,160,190,0.13)"/>
<rect x="628.8" y="110.9" width="47.2" height="1.90" fill="rgba(0,160,190,0.14)"/>
<rect x="651.6" y="87.7" width="1.85" height="48.6" fill="rgba(0,160,190,0.14)"/>
<rect x="628.8" y="106.5" width="47.2" height="4.34" fill="rgba(0,160,190,0.13)"/>
<rect x="653.5" y="87.7" width="4.21" height="48.6" fill="rgba(0,160,190,0.13)"/>
<rect x="628.8" y="104.1" width="47.2" height="2.39" fill="rgba(0,160,190,0.01)"/>
<rect x="657.7" y="87.7" width="2.32" height="48.6" fill="rgba(0,160,190,0.01)"/>
<rect x="628.8" y="99.4" width="47.2" height="4.72" fill="rgba(0,160,190,0.10)"/>
<rect x="660.0" y="87.7" width="4.58" height="48.6" fill="rgba(0,160,190,0.10)"/>
<rect x="628.8" y="97.8" width="47.2" height="1.61" fill="rgba(0,160,190,0.14)"/>
<rect x="664.6" y="87.7" width="1.56" height="48.6" fill="rgba(0,160,190,0.14)"/>
<rect x="628.8" y="92.0" width="47.2" height="5.78" fill="rgba(0,160,190,0.11)"/>
<rect x="666.2" y="87.7" width="5.62" height="48.6" fill="rgba(0,160,190,0.11)"/>
<rect x="628.8" y="89.7" width="47.2" height="2.34" fill="rgba(0,160,190,0.10)"/>
<rect x="671.8" y="87.7" width="2.27" height="48.6" fill="rgba(0,160,190,0.10)"/>
<rect x="628.8" y="87.7" width="47.2" height="1.99" fill="rgba(0,160,190,0.01)"/>
<rect x="674.1" y="87.7" width="1.93" height="48.6" fill="rgba(0,160,190,0.01)"/>
<path d="M628.8,136.3h47.2M628.8,118.9h47.2M628.8,87.7v48.6M645.7,87.7v48.6" stroke="rgb(0,160,190)" stroke-opacity="0.18" stroke-width="0.9" fill="none"/>
<path d="M628.8,125.2h47.2M628.8,120.7h47.2M628.8,106.9h47.2M628.8,101.0h47.2M628.8,98.0h47.2M639.6,87.7v48.6M644.0,87.7v48.6M657.4,87.7v48.6M663.1,87.7v48.6M666.0,87.7v48.6" stroke="rgb(0,160,190)" stroke-opacity="0.32" stroke-width="0.9" fill="none"/>
<path d="M628.8,133.4h47.2M628.8,131.5h47.2M628.8,129.3h47.2M628.8,127.0h47.2M628.8,115.9h47.2M628.8,109.1h47.2M628.8,95.8h47.2M631.7,87.7v48.6M633.4,87.7v48.6M635.6,87.7v48.6M637.8,87.7v48.6M648.6,87.7v48.6M655.2,87.7v48.6M668.2,87.7v48.6" stroke="rgb(0,160,190)" stroke-opacity="0.50" stroke-width="0.9" fill="none"/>
<rect x="676.0" y="43.6" width="43.6" height="43.5" fill="rgba(0,160,190,0.05)"/>
<rect x="676.0" y="84.7" width="43.6" height="2.40" fill="rgba(0,160,190,0.10)"/>
<rect x="676.0" y="43.6" width="2.41" height="43.5" fill="rgba(0,160,190,0.10)"/>
<rect x="676.0" y="81.6" width="43.6" height="3.07" fill="rgba(0,160,190,0.01)"/>
<rect x="678.4" y="43.6" width="3.07" height="43.5" fill="rgba(0,160,190,0.01)"/>
<rect x="676.0" y="79.9" width="43.6" height="1.70" fill="rgba(0,160,190,0.10)"/>
<rect x="681.5" y="43.6" width="1.71" height="43.5" fill="rgba(0,160,190,0.10)"/>
<rect x="676.0" y="74.9" width="43.6" height="5.05" fill="rgba(0,160,190,0.04)"/>
<rect x="683.2" y="43.6" width="5.06" height="43.5" fill="rgba(0,160,190,0.04)"/>
<rect x="676.0" y="70.5" width="43.6" height="4.40" fill="rgba(0,160,190,0.10)"/>
<rect x="688.2" y="43.6" width="4.41" height="43.5" fill="rgba(0,160,190,0.10)"/>
<rect x="676.0" y="67.2" width="43.6" height="3.29" fill="rgba(0,160,190,0.13)"/>
<rect x="692.7" y="43.6" width="3.29" height="43.5" fill="rgba(0,160,190,0.13)"/>
<rect x="676.0" y="62.6" width="43.6" height="4.59" fill="rgba(0,160,190,0.08)"/>
<rect x="695.9" y="43.6" width="4.60" height="43.5" fill="rgba(0,160,190,0.08)"/>
<rect x="676.0" y="57.7" width="43.6" height="4.88" fill="rgba(0,160,190,0.14)"/>
<rect x="700.5" y="43.6" width="4.89" height="43.5" fill="rgba(0,160,190,0.14)"/>
<rect x="676.0" y="53.0" width="43.6" height="4.76" fill="rgba(0,160,190,0.14)"/>
<rect x="705.4" y="43.6" width="4.77" height="43.5" fill="rgba(0,160,190,0.14)"/>
<rect x="676.0" y="51.4" width="43.6" height="1.56" fill="rgba(0,160,190,0.08)"/>
<rect x="710.2" y="43.6" width="1.57" height="43.5" fill="rgba(0,160,190,0.08)"/>
<rect x="676.0" y="47.6" width="43.6" height="3.77" fill="rgba(0,160,190,0.01)"/>
<rect x="711.8" y="43.6" width="3.77" height="43.5" fill="rgba(0,160,190,0.01)"/>
<rect x="676.0" y="43.6" width="43.6" height="4.04" fill="rgba(0,160,190,0.11)"/>
<rect x="715.6" y="43.6" width="4.05" height="43.5" fill="rgba(0,160,190,0.11)"/>
<path d="M676.0,78.1h43.6M676.0,63.2h43.6M685.0,43.6v43.5M700.0,43.6v43.5" stroke="rgb(0,160,190)" stroke-opacity="0.18" stroke-width="0.9" fill="none"/>
<path d="M676.0,73.5h43.6M676.0,66.7h43.6M676.0,64.9h43.6M676.0,56.4h43.6M676.0,53.5h43.6M676.0,46.3h43.6M689.6,43.6v43.5M696.5,43.6v43.5M698.2,43.6v43.5M706.8,43.6v43.5M709.7,43.6v43.5M716.9,43.6v43.5" stroke="rgb(0,160,190)" stroke-opacity="0.32" stroke-width="0.9" fill="none"/>
<path d="M676.0,84.9h43.6M676.0,71.7h43.6M676.0,69.5h43.6M676.0,61.0h43.6M676.0,58.1h43.6M678.2,43.6v43.5M691.4,43.6v43.5M693.6,43.6v43.5M702.2,43.6v43.5M705.0,43.6v43.5" stroke="rgb(0,160,190)" stroke-opacity="0.50" stroke-width="0.9" fill="none"/>
<text class="s" x="75.1" y="700.0" font-size="24.6">Chr 1</text>
<text class="s" x="153.0" y="700.0" font-size="24.6">Chr 2</text>
<text class="s" x="226.1" y="700.0" font-size="24.6">Chr 3</text>
<text class="s" x="290.8" y="700.0" font-size="24.6">Chr 4</text>
<text class="s" x="352.3" y="700.0" font-size="24.6">Chr 5</text>
<text class="s" x="415.4" y="700.0" font-size="24.6">Chr 6</text>
<text class="s" x="478.5" y="700.0" font-size="24.6">Chr 7</text>
<text class="s" x="542.4" y="700.0" font-size="24.6">Chr 8</text>
<text class="s" x="607.1" y="700.0" font-size="24.6">Chr 9</text>
<text class="s" x="679.0" y="700.0" font-size="24.6">Chr 10</text>
<text class="s" x="21.0" y="717.0" font-size="43">B</text>
<rect x="78.3" y="734.0" width="40.6" height="73.8" fill="#009fbf"/>
<line x1="118.9" y1="734.0" x2="124.9" y2="734.0" stroke="#222" stroke-width="1.3"/>
<text class="s" x="130.3" y="739.8" font-size="16">1.00</text>
<line x1="118.9" y1="770.9" x2="124.9" y2="770.9" stroke="#222" stroke-width="1.3"/>
<text class="s" x="130.3" y="776.7" font-size="16">0.75</text>
<line x1="118.9" y1="807.8" x2="124.9" y2="807.8" stroke="#222" stroke-width="1.3"/>
<text class="s" x="130.3" y="813.6" font-size="16">0.50</text>
<line x1="118.9" y1="844.7" x2="124.9" y2="844.7" stroke="#222" stroke-width="1.3"/>
<text class="s" x="130.3" y="850.5" font-size="16">0.25</text>
<line x1="118.9" y1="881.6" x2="124.9" y2="881.6" stroke="#222" stroke-width="1.3"/>
<text class="s" x="130.3" y="887.4" font-size="16">0.00</text>
<rect x="79.1" y="1348.8" width="48.0" height="48.0" fill="rgba(0,160,190,0.05)"/>
<rect x="79.1" y="1395.2" width="48.0" height="1.64" fill="rgba(0,160,190,0.11)"/>
<rect x="79.1" y="1348.8" width="1.64" height="48.0" fill="rgba(0,160,190,0.11)"/>
<rect x="79.1" y="1390.5" width="48.0" height="4.61" fill="rgba(0,160,190,0.01)"/>
<rect x="80.7" y="1348.8" width="4.61" height="48.0" fill="rgba(0,160,190,0.01)"/>
<rect x="79.1" y="1388.5" width="48.0" height="2.06" fill="rgba(0,160,190,0.14)"/>
<rect x="85.4" y="1348.8" width="2.06" height="48.0" fill="rgba(0,160,190,0.14)"/>
<rect x="79.1" y="1383.1" width="48.0" height="5.40" fill="rgba(0,160,190,0.10)"/>
<rect x="87.4" y="1348.8" width="5.40" height="48.0" fill="rgba(0,160,190,0.10)"/>
<rect x="79.1" y="1378.6" width="48.0" height="4.51" fill="rgba(0,160,190,0.01)"/>
<rect x="92.8" y="1348.8" width="4.51" height="48.0" fill="rgba(0,160,190,0.01)"/>
<rect x="79.1" y="1375.3" width="48.0" height="3.33" fill="rgba(0,160,190,0.10)"/>
<rect x="97.3" y="1348.8" width="3.33" height="48.0" fill="rgba(0,160,190,0.10)"/>
<rect x="79.1" y="1371.8" width="48.0" height="3.43" fill="rgba(0,160,190,0.11)"/>
<rect x="100.6" y="1348.8" width="3.43" height="48.0" fill="rgba(0,160,190,0.11)"/>
<rect x="79.1" y="1367.6" width="48.0" height="4.24" fill="rgba(0,160,190,0.04)"/>
<rect x="104.1" y="1348.8" width="4.24" height="48.0" fill="rgba(0,160,190,0.04)"/>
<rect x="79.1" y="1364.8" width="48.0" height="2.74" fill="rgba(0,160,190,0.13)"/>
<rect x="108.3" y="1348.8" width="2.74" height="48.0" fill="rgba(0,160,190,0.13)"/>
<rect x="79.1" y="1361.9" width="48.0" height="2.96" fill="rgba(0,160,190,0.04)"/>
<rect x="111.1" y="1348.8" width="2.96" height="48.0" fill="rgba(0,160,190,0.04)"/>
<rect x="79.1" y="1358.5" width="48.0" height="3.44" fill="rgba(0,160,190,0.11)"/>
<rect x="114.0" y="1348.8" width="3.44" height="48.0" fill="rgba(0,160,190,0.11)"/>
<rect x="79.1" y="1354.0" width="48.0" height="4.40" fill="rgba(0,160,190,0.10)"/>
<rect x="117.4" y="1348.8" width="4.40" height="48.0" fill="rgba(0,160,190,0.10)"/>
<rect x="79.1" y="1351.3" width="48.0" height="2.71" fill="rgba(0,160,190,0.04)"/>
<rect x="121.9" y="1348.8" width="2.71" height="48.0" fill="rgba(0,160,190,0.04)"/>
<rect x="79.1" y="1348.8" width="48.0" height="2.54" fill="rgba(0,160,190,0.08)"/>
<rect x="124.6" y="1348.8" width="2.54" height="48.0" fill="rgba(0,160,190,0.08)"/>
<path d="M79.1,1374.4h48.0M79.1,1370.0h48.0M79.1,1363.4h48.0M79.1,1359.4h48.0M79.1,1354.8h48.0M101.5,1348.8v48.0M105.9,1348.8v48.0M112.5,1348.8v48.0M116.5,1348.8v48.0M121.1,1348.8v48.0" stroke="rgb(0,160,190)" stroke-opacity="0.18" stroke-width="0.9" fill="none"/>
<path d="M79.1,1396.8h48.0M79.1,1383.4h48.0M79.1,1376.6h48.0M79.1,1350.8h48.0M79.1,1348.8v48.0M92.5,1348.8v48.0M99.3,1348.8v48.0M125.1,1348.8v48.0" stroke="rgb(0,160,190)" stroke-opacity="0.32" stroke-width="0.9" fill="none"/>
<path d="M79.1,1390.0h48.0M79.1,1387.8h48.0M79.1,1385.6h48.0M79.1,1365.6h48.0M85.9,1348.8v48.0M88.1,1348.8v48.0M90.3,1348.8v48.0M110.3,1348.8v48.0" stroke="rgb(0,160,190)" stroke-opacity="0.50" stroke-width="0.9" fill="none"/>
<rect x="127.1" y="1290.6" width="57.3" height="58.2" fill="rgba(0,160,190,0.05)"/>
<rect x="127.1" y="1346.7" width="57.3" height="2.10" fill="rgba(0,160,190,0.14)"/>
<rect x="127.1" y="1290.6" width="2.07" height="58.2" fill="rgba(0,160,190,0.14)"/>
<rect x="127.1" y="1342.8" width="57.3" height="3.95" fill="rgba(0,160,190,0.14)"/>
<rect x="129.2" y="1290.6" width="3.89" height="58.2" fill="rgba(0,160,190,0.14)"/>
<rect x="127.1" y="1339.3" width="57.3" height="3.45" fill="rgba(0,160,190,0.10)"/>
<rect x="133.1" y="1290.6" width="3.40" height="58.2" fill="rgba(0,160,190,0.10)"/>
<rect x="127.1" y="1334.3" width="57.3" height="5.00" fill="rgba(0,160,190,0.14)"/>
<rect x="136.5" y="1290.6" width="4.92" height="58.2" fill="rgba(0,160,190,0.14)"/>
<rect x="127.1" y="1330.2" width="57.3" height="4.11" fill="rgba(0,160,190,0.10)"/>
<rect x="141.4" y="1290.6" width="4.04" height="58.2" fill="rgba(0,160,190,0.10)"/>
<rect x="127.1" y="1327.7" width="57.3" height="2.48" fill="rgba(0,160,190,0.10)"/>
<rect x="145.4" y="1290.6" width="2.44" height="58.2" fill="rgba(0,160,190,0.10)"/>
<rect x="127.1" y="1325.6" width="57.3" height="2.07" fill="rgba(0,160,190,0.11)"/>
<rect x="147.9" y="1290.6" width="2.04" height="58.2" fill="rgba(0,160,190,0.11)"/>
<rect x="127.1" y="1322.8" width="57.3" height="2.87" fill="rgba(0,160,190,0.11)"/>
<rect x="149.9" y="1290.6" width="2.83" height="58.2" fill="rgba(0,160,190,0.11)"/>
<rect x="127.1" y="1321.0" width="57.3" height="1.82" fill="rgba(0,160,190,0.04)"/>
<rect x="152.7" y="1290.6" width="1.79" height="58.2" fill="rgba(0,160,190,0.04)"/>
<rect x="127.1" y="1318.0" width="57.3" height="3.00" fill="rgba(0,160,190,0.14)"/>
<rect x="154.5" y="1290.6" width="2.95" height="58.2" fill="rgba(0,160,190,0.14)"/>
<rect x="127.1" y="1311.3" width="57.3" height="6.70" fill="rgba(0,160,190,0.10)"/>
<rect x="157.5" y="1290.6" width="6.59" height="58.2" fill="rgba(0,160,190,0.10)"/>
<rect x="127.1" y="1306.0" width="57.3" height="5.23" fill="rgba(0,160,190,0.01)"/>
<rect x="164.1" y="1290.6" width="5.15" height="58.2" fill="rgba(0,160,190,0.01)"/>
<rect x="127.1" y="1299.5" width="57.3" height="6.48" fill="rgba(0,160,190,0.04)"/>
<rect x="169.2" y="1290.6" width="6.38" height="58.2" fill="rgba(0,160,190,0.04)"/>
<rect x="127.1" y="1293.8" width="57.3" height="5.73" fill="rgba(0,160,190,0.13)"/>
<rect x="175.6" y="1290.6" width="5.64" height="58.2" fill="rgba(0,160,190,0.13)"/>
<rect x="127.1" y="1290.6" width="57.3" height="3.22" fill="rgba(0,160,190,0.14)"/>
<rect x="181.2" y="1290.6" width="3.17" height="58.2" fill="rgba(0,160,190,0.14)"/>
<path d="M127.1,1343.7h57.3M127.1,1324.9h57.3M127.1,1302.5h57.3M132.2,1290.6v58.2M150.6,1290.6v58.2M172.6,1290.6v58.2" stroke="rgb(0,160,190)" stroke-opacity="0.18" stroke-width="0.9" fill="none"/>
<path d="M127.1,1348.8h57.3M127.1,1346.6h57.3M127.1,1340.8h57.3M127.1,1339.0h57.3M127.1,1331.6h57.3M127.1,1329.4h57.3M127.1,1318.0h57.3M127.1,1315.7h57.3M127.1,1311.7h57.3M127.1,1292.9h57.3M127.1,1290.6v58.2M129.3,1290.6v58.2M135.0,1290.6v58.2M136.8,1290.6v58.2M144.0,1290.6v58.2M146.2,1290.6v58.2M157.5,1290.6v58.2M159.7,1290.6v58.2M163.6,1290.6v58.2M182.1,1290.6v58.2" stroke="rgb(0,160,190)" stroke-opacity="0.32" stroke-width="0.9" fill="none"/>
<path d="M127.1,1320.9h57.3M127.1,1297.4h57.3M127.1,1295.2h57.3M154.6,1290.6v58.2M177.7,1290.6v58.2M179.9,1290.6v58.2" stroke="rgb(0,160,190)" stroke-opacity="0.50" stroke-width="0.9" fill="none"/>
<rect x="184.4" y="1222.6" width="67.3" height="68.0" fill="rgba(0,160,190,0.05)"/>
<rect x="184.4" y="1283.9" width="67.3" height="6.71" fill="rgba(0,160,190,0.10)"/>
<rect x="184.4" y="1222.6" width="6.65" height="68.0" fill="rgba(0,160,190,0.10)"/>
<rect x="184.4" y="1279.3" width="67.3" height="4.55" fill="rgba(0,160,190,0.11)"/>
<rect x="191.0" y="1222.6" width="4.50" height="68.0" fill="rgba(0,160,190,0.11)"/>
<rect x="184.4" y="1276.1" width="67.3" height="3.24" fill="rgba(0,160,190,0.13)"/>
<rect x="195.5" y="1222.6" width="3.21" height="68.0" fill="rgba(0,160,190,0.13)"/>
<rect x="184.4" y="1268.1" width="67.3" height="7.97" fill="rgba(0,160,190,0.13)"/>
<rect x="198.8" y="1222.6" width="7.89" height="68.0" fill="rgba(0,160,190,0.13)"/>
<rect x="184.4" y="1263.4" width="67.3" height="4.75" fill="rgba(0,160,190,0.10)"/>
<rect x="206.6" y="1222.6" width="4.70" height="68.0" fill="rgba(0,160,190,0.10)"/>
<rect x="184.4" y="1261.1" width="67.3" height="2.26" fill="rgba(0,160,190,0.14)"/>
<rect x="211.3" y="1222.6" width="2.24" height="68.0" fill="rgba(0,160,190,0.14)"/>
<rect x="184.4" y="1257.8" width="67.3" height="3.27" fill="rgba(0,160,190,0.10)"/>
<rect x="213.6" y="1222.6" width="3.24" height="68.0" fill="rgba(0,160,190,0.10)"/>
<rect x="184.4" y="1252.0" width="67.3" height="5.89" fill="rgba(0,160,190,0.11)"/>
<rect x="216.8" y="1222.6" width="5.83" height="68.0" fill="rgba(0,160,190,0.11)"/>
<rect x="184.4" y="1244.6" width="67.3" height="7.36" fill="rgba(0,160,190,0.14)"/>
<rect x="222.7" y="1222.6" width="7.28" height="68.0" fill="rgba(0,160,190,0.14)"/>
<rect x="184.4" y="1239.6" width="67.3" height="4.95" fill="rgba(0,160,190,0.13)"/>
<rect x="229.9" y="1222.6" width="4.90" height="68.0" fill="rgba(0,160,190,0.13)"/>
<rect x="184.4" y="1234.8" width="67.3" height="4.89" fill="rgba(0,160,190,0.01)"/>
<rect x="234.8" y="1222.6" width="4.84" height="68.0" fill="rgba(0,160,190,0.01)"/>
<rect x="184.4" y="1229.5" width="67.3" height="5.24" fill="rgba(0,160,190,0.14)"/>
<rect x="239.7" y="1222.6" width="5.18" height="68.0" fill="rgba(0,160,190,0.14)"/>
<rect x="184.4" y="1224.7" width="67.3" height="4.78" fill="rgba(0,160,190,0.10)"/>
<rect x="244.9" y="1222.6" width="4.73" height="68.0" fill="rgba(0,160,190,0.10)"/>
<rect x="184.4" y="1222.6" width="67.3" height="2.14" fill="rgba(0,160,190,0.01)"/>
<rect x="249.6" y="1222.6" width="2.12" height="68.0" fill="rgba(0,160,190,0.01)"/>
<path d="M184.4,1280.4h67.3M184.4,1273.7h67.3M184.4,1271.5h67.3M184.4,1259.5h67.3M184.4,1257.3h67.3M184.4,1255.0h67.3M184.4,1241.5h67.3M184.4,1231.2h67.3M184.4,1227.2h67.3M194.5,1222.6v68.0M201.1,1222.6v68.0M203.3,1222.6v68.0M215.2,1222.6v68.0M217.4,1222.6v68.0M219.6,1222.6v68.0M233.0,1222.6v68.0M243.1,1222.6v68.0M247.1,1222.6v68.0" stroke="rgb(0,160,190)" stroke-opacity="0.18" stroke-width="0.9" fill="none"/>
<path d="M184.4,1275.9h67.3M184.4,1269.3h67.3M198.9,1222.6v68.0M205.5,1222.6v68.0" stroke="rgb(0,160,190)" stroke-opacity="0.32" stroke-width="0.9" fill="none"/>
<path d="M184.4,1290.6h67.3M184.4,1288.4h67.3M184.4,1282.2h67.3M184.4,1278.2h67.3M184.4,1266.4h67.3M184.4,1264.1h67.3M184.4,1262.4h67.3M184.4,1252.8h67.3M184.4,1251.0h67.3M184.4,1245.9h67.3M184.4,1234.1h67.3M184.4,1229.5h67.3M184.4,1222.6v68.0M186.6,1222.6v68.0M192.8,1222.6v68.0M196.7,1222.6v68.0M208.4,1222.6v68.0M210.6,1222.6v68.0M212.3,1222.6v68.0M221.8,1222.6v68.0M223.6,1222.6v68.0M228.6,1222.6v68.0M240.3,1222.6v68.0M244.9,1222.6v68.0" stroke="rgb(0,160,190)" stroke-opacity="0.50" stroke-width="0.9" fill="none"/>
<rect x="251.7" y="1170.1" width="51.6" height="52.5" fill="rgba(0,160,190,0.05)"/>
<rect x="251.7" y="1220.6" width="51.6" height="2.00" fill="rgba(0,160,190,0.10)"/>
<rect x="251.7" y="1170.1" width="1.97" height="52.5" fill="rgba(0,160,190,0.10)"/>
<rect x="251.7" y="1216.2" width="51.6" height="4.41" fill="rgba(0,160,190,0.11)"/>
<rect x="253.7" y="1170.1" width="4.34" height="52.5" fill="rgba(0,160,190,0.11)"/>
<rect x="251.7" y="1214.5" width="51.6" height="1.71" fill="rgba(0,160,190,0.14)"/>
<rect x="258.0" y="1170.1" width="1.68" height="52.5" fill="rgba(0,160,190,0.14)"/>
<rect x="251.7" y="1210.0" width="51.6" height="4.47" fill="rgba(0,160,190,0.01)"/>
<rect x="259.7" y="1170.1" width="4.39" height="52.5" fill="rgba(0,160,190,0.01)"/>
<rect x="251.7" y="1204.8" width="51.6" height="5.24" fill="rgba(0,160,190,0.14)"/>
<rect x="264.1" y="1170.1" width="5.15" height="52.5" fill="rgba(0,160,190,0.14)"/>
<rect x="251.7" y="1200.2" width="51.6" height="4.61" fill="rgba(0,160,190,0.08)"/>
<rect x="269.2" y="1170.1" width="4.53" height="52.5" fill="rgba(0,160,190,0.08)"/>
<rect x="251.7" y="1198.0" width="51.6" height="2.13" fill="rgba(0,160,190,0.14)"/>
<rect x="273.8" y="1170.1" width="2.09" height="52.5" fill="rgba(0,160,190,0.14)"/>
<rect x="251.7" y="1193.8" width="51.6" height="4.28" fill="rgba(0,160,190,0.13)"/>
<rect x="275.9" y="1170.1" width="4.20" height="52.5" fill="rgba(0,160,190,0.13)"/>
<rect x="251.7" y="1190.1" width="51.6" height="3.67" fill="rgba(0,160,190,0.10)"/>
<rect x="280.1" y="1170.1" width="3.61" height="52.5" fill="rgba(0,160,190,0.10)"/>
<rect x="251.7" y="1185.0" width="51.6" height="5.12" fill="rgba(0,160,190,0.14)"/>
<rect x="283.7" y="1170.1" width="5.03" height="52.5" fill="rgba(0,160,190,0.14)"/>
<rect x="251.7" y="1178.9" width="51.6" height="6.02" fill="rgba(0,160,190,0.10)"/>
<rect x="288.7" y="1170.1" width="5.92" height="52.5" fill="rgba(0,160,190,0.10)"/>
<rect x="251.7" y="1174.5" width="51.6" height="4.39" fill="rgba(0,160,190,0.14)"/>
<rect x="294.6" y="1170.1" width="4.31" height="52.5" fill="rgba(0,160,190,0.14)"/>
<rect x="251.7" y="1170.1" width="51.6" height="4.45" fill="rgba(0,160,190,0.04)"/>
<rect x="298.9" y="1170.1" width="4.37" height="52.5" fill="rgba(0,160,190,0.04)"/>
<path d="M251.7,1204.9h51.6M251.7,1196.9h51.6M251.7,1172.2h51.6M269.1,1170.1v52.5M277.0,1170.1v52.5M301.2,1170.1v52.5" stroke="rgb(0,160,190)" stroke-opacity="0.18" stroke-width="0.9" fill="none"/>
<path d="M251.7,1217.5h51.6M251.7,1203.1h51.6M251.7,1194.6h51.6M251.7,1188.8h51.6M251.7,1182.5h51.6M251.7,1180.3h51.6M256.8,1170.1v52.5M270.8,1170.1v52.5M279.2,1170.1v52.5M284.9,1170.1v52.5M291.1,1170.1v52.5M293.3,1170.1v52.5" stroke="rgb(0,160,190)" stroke-opacity="0.32" stroke-width="0.9" fill="none"/>
<path d="M251.7,1219.7h51.6M251.7,1209.4h51.6M251.7,1190.6h51.6M251.7,1187.0h51.6M251.7,1184.8h51.6M251.7,1177.4h51.6M254.6,1170.1v52.5M264.7,1170.1v52.5M283.2,1170.1v52.5M286.7,1170.1v52.5M288.9,1170.1v52.5M296.1,1170.1v52.5" stroke="rgb(0,160,190)" stroke-opacity="0.50" stroke-width="0.9" fill="none"/>
<rect x="303.3" y="1118.1" width="52.1" height="52.0" fill="rgba(0,160,190,0.05)"/>
<rect x="303.3" y="1166.7" width="52.1" height="3.42" fill="rgba(0,160,190,0.04)"/>
<rect x="303.3" y="1118.1" width="3.42" height="52.0" fill="rgba(0,160,190,0.04)"/>
<rect x="303.3" y="1160.8" width="52.1" height="5.89" fill="rgba(0,160,190,0.11)"/>
<rect x="306.7" y="1118.1" width="5.90" height="52.0" fill="rgba(0,160,190,0.11)"/>
<rect x="303.3" y="1158.6" width="52.1" height="2.18" fill="rgba(0,160,190,0.10)"/>
<rect x="312.6" y="1118.1" width="2.19" height="52.0" fill="rgba(0,160,190,0.10)"/>
<rect x="303.3" y="1153.0" width="52.1" height="5.59" fill="rgba(0,160,190,0.04)"/>
<rect x="314.8" y="1118.1" width="5.61" height="52.0" fill="rgba(0,160,190,0.04)"/>
<rect x="303.3" y="1148.2" width="52.1" height="4.82" fill="rgba(0,160,190,0.08)"/>
<rect x="320.4" y="1118.1" width="4.83" height="52.0" fill="rgba(0,160,190,0.08)"/>
<rect x="303.3" y="1145.1" width="52.1" height="3.09" fill="rgba(0,160,190,0.13)"/>
<rect x="325.2" y="1118.1" width="3.10" height="52.0" fill="rgba(0,160,190,0.13)"/>
<rect x="303.3" y="1143.2" width="52.1" height="1.90" fill="rgba(0,160,190,0.04)"/>
<rect x="328.3" y="1118.1" width="1.90" height="52.0" fill="rgba(0,160,190,0.04)"/>
<rect x="303.3" y="1139.5" width="52.1" height="3.72" fill="rgba(0,160,190,0.14)"/>
<rect x="330.2" y="1118.1" width="3.72" height="52.0" fill="rgba(0,160,190,0.14)"/>
<rect x="303.3" y="1134.1" width="52.1" height="5.42" fill="rgba(0,160,190,0.08)"/>
<rect x="334.0" y="1118.1" width="5.43" height="52.0" fill="rgba(0,160,190,0.08)"/>
<rect x="303.3" y="1128.1" width="52.1" height="5.96" fill="rgba(0,160,190,0.11)"/>
<rect x="339.4" y="1118.1" width="5.97" height="52.0" fill="rgba(0,160,190,0.11)"/>
<rect x="303.3" y="1125.2" width="52.1" height="2.94" fill="rgba(0,160,190,0.11)"/>
<rect x="345.4" y="1118.1" width="2.94" height="52.0" fill="rgba(0,160,190,0.11)"/>
<rect x="303.3" y="1122.7" width="52.1" height="2.52" fill="rgba(0,160,190,0.14)"/>
<rect x="348.3" y="1118.1" width="2.52" height="52.0" fill="rgba(0,160,190,0.14)"/>
<rect x="303.3" y="1119.0" width="52.1" height="3.66" fill="rgba(0,160,190,0.11)"/>
<rect x="350.8" y="1118.1" width="3.67" height="52.0" fill="rgba(0,160,190,0.11)"/>
<rect x="303.3" y="1118.1" width="52.1" height="0.89" fill="rgba(0,160,190,0.14)"/>
<rect x="354.5" y="1118.1" width="0.89" height="52.0" fill="rgba(0,160,190,0.14)"/>
<path d="M303.3,1168.3h52.1M303.3,1127.7h52.1M303.3,1120.9h52.1M305.1,1118.1v52.0M345.8,1118.1v52.0M352.6,1118.1v52.0" stroke="rgb(0,160,190)" stroke-opacity="0.18" stroke-width="0.9" fill="none"/>
<path d="M303.3,1166.1h52.1M303.3,1163.3h52.1M303.3,1159.3h52.1M303.3,1152.5h52.1M303.3,1150.3h52.1M303.3,1147.5h52.1M303.3,1136.7h52.1M303.3,1134.5h52.1M303.3,1129.9h52.1M303.3,1123.1h52.1M307.3,1118.1v52.0M310.1,1118.1v52.0M314.1,1118.1v52.0M320.9,1118.1v52.0M323.1,1118.1v52.0M326.0,1118.1v52.0M336.7,1118.1v52.0M338.9,1118.1v52.0M343.6,1118.1v52.0M350.4,1118.1v52.0" stroke="rgb(0,160,190)" stroke-opacity="0.32" stroke-width="0.9" fill="none"/>
<path d="M303.3,1161.1h52.1M303.3,1142.4h52.1M303.3,1140.7h52.1M303.3,1131.7h52.1M303.3,1124.9h52.1M303.3,1118.7h52.1M312.3,1118.1v52.0M331.0,1118.1v52.0M332.8,1118.1v52.0M341.8,1118.1v52.0M348.6,1118.1v52.0M354.8,1118.1v52.0" stroke="rgb(0,160,190)" stroke-opacity="0.50" stroke-width="0.9" fill="none"/>
<rect x="355.4" y="1064.0" width="52.8" height="54.1" fill="rgba(0,160,190,0.05)"/>
<rect x="355.4" y="1114.4" width="52.8" height="3.74" fill="rgba(0,160,190,0.04)"/>
<rect x="355.4" y="1064.0" width="3.65" height="54.1" fill="rgba(0,160,190,0.04)"/>
<rect x="355.4" y="1110.1" width="52.8" height="4.23" fill="rgba(0,160,190,0.10)"/>
<rect x="359.0" y="1064.0" width="4.13" height="54.1" fill="rgba(0,160,190,0.10)"/>
<rect x="355.4" y="1106.2" width="52.8" height="3.90" fill="rgba(0,160,190,0.11)"/>
<rect x="363.2" y="1064.0" width="3.81" height="54.1" fill="rgba(0,160,190,0.11)"/>
<rect x="355.4" y="1099.9" width="52.8" height="6.35" fill="rgba(0,160,190,0.08)"/>
<rect x="367.0" y="1064.0" width="6.20" height="54.1" fill="rgba(0,160,190,0.08)"/>
<rect x="355.4" y="1097.8" width="52.8" height="2.10" fill="rgba(0,160,190,0.11)"/>
<rect x="373.2" y="1064.0" width="2.05" height="54.1" fill="rgba(0,160,190,0.11)"/>
<rect x="355.4" y="1095.5" width="52.8" height="2.24" fill="rgba(0,160,190,0.11)"/>
<rect x="375.2" y="1064.0" width="2.19" height="54.1" fill="rgba(0,160,190,0.11)"/>
<rect x="355.4" y="1091.1" width="52.8" height="4.47" fill="rgba(0,160,190,0.14)"/>
<rect x="377.4" y="1064.0" width="4.36" height="54.1" fill="rgba(0,160,190,0.14)"/>
<rect x="355.4" y="1085.9" width="52.8" height="5.17" fill="rgba(0,160,190,0.01)"/>
<rect x="381.8" y="1064.0" width="5.04" height="54.1" fill="rgba(0,160,190,0.01)"/>
<rect x="355.4" y="1081.8" width="52.8" height="4.10" fill="rgba(0,160,190,0.14)"/>
<rect x="386.8" y="1064.0" width="4.00" height="54.1" fill="rgba(0,160,190,0.14)"/>
<rect x="355.4" y="1077.1" width="52.8" height="4.67" fill="rgba(0,160,190,0.14)"/>
<rect x="390.8" y="1064.0" width="4.56" height="54.1" fill="rgba(0,160,190,0.14)"/>
<rect x="355.4" y="1071.3" width="52.8" height="5.79" fill="rgba(0,160,190,0.04)"/>
<rect x="395.4" y="1064.0" width="5.66" height="54.1" fill="rgba(0,160,190,0.04)"/>
<rect x="355.4" y="1069.2" width="52.8" height="2.13" fill="rgba(0,160,190,0.14)"/>
<rect x="401.1" y="1064.0" width="2.08" height="54.1" fill="rgba(0,160,190,0.14)"/>
<rect x="355.4" y="1064.0" width="52.8" height="5.19" fill="rgba(0,160,190,0.14)"/>
<rect x="403.1" y="1064.0" width="5.07" height="54.1" fill="rgba(0,160,190,0.14)"/>
<path d="M355.4,1115.8h52.8M355.4,1107.3h52.8M355.4,1075.0h52.8M355.4,1068.3h52.8M357.6,1064.0v54.1M366.0,1064.0v54.1M397.4,1064.0v54.1M404.0,1064.0v54.1" stroke="rgb(0,160,190)" stroke-opacity="0.18" stroke-width="0.9" fill="none"/>
<path d="M355.4,1105.0h52.8M355.4,1100.5h52.8M355.4,1094.7h52.8M355.4,1085.0h52.8M355.4,1083.2h52.8M355.4,1080.9h52.8M355.4,1078.0h52.8M368.2,1064.0v54.1M372.6,1064.0v54.1M378.3,1064.0v54.1M387.7,1064.0v54.1M389.5,1064.0v54.1M391.7,1064.0v54.1M394.6,1064.0v54.1" stroke="rgb(0,160,190)" stroke-opacity="0.32" stroke-width="0.9" fill="none"/>
<path d="M355.4,1111.3h52.8M355.4,1109.1h52.8M355.4,1102.8h52.8M355.4,1098.7h52.8M355.4,1096.9h52.8M355.4,1070.5h52.8M355.4,1066.0h52.8M355.4,1064.2h52.8M362.0,1064.0v54.1M364.2,1064.0v54.1M370.4,1064.0v54.1M374.3,1064.0v54.1M376.1,1064.0v54.1M401.8,1064.0v54.1M406.2,1064.0v54.1M408.0,1064.0v54.1" stroke="rgb(0,160,190)" stroke-opacity="0.50" stroke-width="0.9" fill="none"/>
<rect x="408.2" y="1014.0" width="49.6" height="50.0" fill="rgba(0,160,190,0.05)"/>
<rect x="408.2" y="1062.5" width="49.6" height="1.54" fill="rgba(0,160,190,0.14)"/>
<rect x="408.2" y="1014.0" width="1.53" height="50.0" fill="rgba(0,160,190,0.14)"/>
<rect x="408.2" y="1056.6" width="49.6" height="5.89" fill="rgba(0,160,190,0.11)"/>
<rect x="409.7" y="1014.0" width="5.84" height="50.0" fill="rgba(0,160,190,0.11)"/>
<rect x="408.2" y="1051.3" width="49.6" height="5.29" fill="rgba(0,160,190,0.11)"/>
<rect x="415.6" y="1014.0" width="5.25" height="50.0" fill="rgba(0,160,190,0.11)"/>
<rect x="408.2" y="1045.4" width="49.6" height="5.87" fill="rgba(0,160,190,0.08)"/>
<rect x="420.8" y="1014.0" width="5.83" height="50.0" fill="rgba(0,160,190,0.08)"/>
<rect x="408.2" y="1042.4" width="49.6" height="3.01" fill="rgba(0,160,190,0.08)"/>
<rect x="426.6" y="1014.0" width="2.99" height="50.0" fill="rgba(0,160,190,0.08)"/>
<rect x="408.2" y="1038.0" width="49.6" height="4.43" fill="rgba(0,160,190,0.11)"/>
<rect x="429.6" y="1014.0" width="4.39" height="50.0" fill="rgba(0,160,190,0.11)"/>
<rect x="408.2" y="1035.9" width="49.6" height="2.11" fill="rgba(0,160,190,0.11)"/>
<rect x="434.0" y="1014.0" width="2.09" height="50.0" fill="rgba(0,160,190,0.11)"/>
<rect x="408.2" y="1033.1" width="49.6" height="2.73" fill="rgba(0,160,190,0.13)"/>
<rect x="436.1" y="1014.0" width="2.71" height="50.0" fill="rgba(0,160,190,0.13)"/>
<rect x="408.2" y="1028.7" width="49.6" height="4.40" fill="rgba(0,160,190,0.14)"/>
<rect x="438.8" y="1014.0" width="4.36" height="50.0" fill="rgba(0,160,190,0.14)"/>
<rect x="408.2" y="1025.0" width="49.6" height="3.68" fill="rgba(0,160,190,0.04)"/>
<rect x="443.2" y="1014.0" width="3.66" height="50.0" fill="rgba(0,160,190,0.04)"/>
<rect x="408.2" y="1020.5" width="49.6" height="4.58" fill="rgba(0,160,190,0.14)"/>
<rect x="446.8" y="1014.0" width="4.54" height="50.0" fill="rgba(0,160,190,0.14)"/>
<rect x="408.2" y="1018.7" width="49.6" height="1.79" fill="rgba(0,160,190,0.14)"/>
<rect x="451.4" y="1014.0" width="1.78" height="50.0" fill="rgba(0,160,190,0.14)"/>
<rect x="408.2" y="1015.5" width="49.6" height="3.14" fill="rgba(0,160,190,0.04)"/>
<rect x="453.2" y="1014.0" width="3.12" height="50.0" fill="rgba(0,160,190,0.04)"/>
<rect x="408.2" y="1014.0" width="49.6" height="1.53" fill="rgba(0,160,190,0.11)"/>
<rect x="456.3" y="1014.0" width="1.52" height="50.0" fill="rgba(0,160,190,0.11)"/>
<path d="M408.2,1039.4h49.6M408.2,1028.5h49.6M408.2,1016.8h49.6M432.6,1014.0v50.0M443.4,1014.0v50.0M455.1,1014.0v50.0" stroke="rgb(0,160,190)" stroke-opacity="0.18" stroke-width="0.9" fill="none"/>
<path d="M408.2,1064.0h49.6M408.2,1058.9h49.6M408.2,1057.1h49.6M408.2,1050.2h49.6M408.2,1037.2h49.6M408.2,1014.0v50.0M413.3,1014.0v50.0M415.0,1014.0v50.0M421.8,1014.0v50.0M434.8,1014.0v50.0" stroke="rgb(0,160,190)" stroke-opacity="0.32" stroke-width="0.9" fill="none"/>
<path d="M408.2,1053.1h49.6M408.2,1048.0h49.6M408.2,1042.3h49.6M408.2,1034.9h49.6M408.2,1033.2h49.6M408.2,1024.1h49.6M408.2,1019.6h49.6M419.0,1014.0v50.0M424.0,1014.0v50.0M429.8,1014.0v50.0M437.0,1014.0v50.0M438.8,1014.0v50.0M447.8,1014.0v50.0M452.2,1014.0v50.0" stroke="rgb(0,160,190)" stroke-opacity="0.50" stroke-width="0.9" fill="none"/>
<rect x="457.8" y="967.2" width="45.5" height="46.8" fill="rgba(0,160,190,0.05)"/>
<rect x="457.8" y="1010.5" width="45.5" height="3.54" fill="rgba(0,160,190,0.11)"/>
<rect x="457.8" y="967.2" width="3.44" height="46.8" fill="rgba(0,160,190,0.11)"/>
<rect x="457.8" y="1005.9" width="45.5" height="4.53" fill="rgba(0,160,190,0.01)"/>
<rect x="461.2" y="967.2" width="4.40" height="46.8" fill="rgba(0,160,190,0.01)"/>
<rect x="457.8" y="1001.7" width="45.5" height="4.24" fill="rgba(0,160,190,0.14)"/>
<rect x="465.6" y="967.2" width="4.12" height="46.8" fill="rgba(0,160,190,0.14)"/>
<rect x="457.8" y="999.6" width="45.5" height="2.05" fill="rgba(0,160,190,0.10)"/>
<rect x="469.8" y="967.2" width="1.99" height="46.8" fill="rgba(0,160,190,0.10)"/>
<rect x="457.8" y="994.7" width="45.5" height="4.98" fill="rgba(0,160,190,0.01)"/>
<rect x="471.8" y="967.2" width="4.84" height="46.8" fill="rgba(0,160,190,0.01)"/>
<rect x="457.8" y="991.9" width="45.5" height="2.73" fill="rgba(0,160,190,0.08)"/>
<rect x="476.6" y="967.2" width="2.65" height="46.8" fill="rgba(0,160,190,0.08)"/>
<rect x="457.8" y="989.8" width="45.5" height="2.17" fill="rgba(0,160,190,0.14)"/>
<rect x="479.2" y="967.2" width="2.11" height="46.8" fill="rgba(0,160,190,0.14)"/>
<rect x="457.8" y="986.0" width="45.5" height="3.80" fill="rgba(0,160,190,0.10)"/>
<rect x="481.4" y="967.2" width="3.70" height="46.8" fill="rgba(0,160,190,0.10)"/>
<rect x="457.8" y="983.7" width="45.5" height="2.26" fill="rgba(0,160,190,0.13)"/>
<rect x="485.1" y="967.2" width="2.19" height="46.8" fill="rgba(0,160,190,0.13)"/>
<rect x="457.8" y="978.9" width="45.5" height="4.86" fill="rgba(0,160,190,0.08)"/>
<rect x="487.2" y="967.2" width="4.73" height="46.8" fill="rgba(0,160,190,0.08)"/>
<rect x="457.8" y="973.9" width="45.5" height="4.94" fill="rgba(0,160,190,0.14)"/>
<rect x="492.0" y="967.2" width="4.80" height="46.8" fill="rgba(0,160,190,0.14)"/>
<rect x="457.8" y="972.3" width="45.5" height="1.58" fill="rgba(0,160,190,0.08)"/>
<rect x="496.8" y="967.2" width="1.54" height="46.8" fill="rgba(0,160,190,0.08)"/>
<rect x="457.8" y="968.0" width="45.5" height="4.31" fill="rgba(0,160,190,0.14)"/>
<rect x="498.3" y="967.2" width="4.19" height="46.8" fill="rgba(0,160,190,0.14)"/>
<rect x="457.8" y="967.2" width="45.5" height="0.82" fill="rgba(0,160,190,0.14)"/>
<rect x="502.5" y="967.2" width="0.80" height="46.8" fill="rgba(0,160,190,0.14)"/>
<path d="M457.8,988.2h45.5M457.8,969.6h45.5M482.9,967.2v46.8M500.9,967.2v46.8" stroke="rgb(0,160,190)" stroke-opacity="0.18" stroke-width="0.9" fill="none"/>
<path d="M457.8,1014.0h45.5M457.8,1011.7h45.5M457.8,1004.7h45.5M457.8,1002.5h45.5M457.8,993.4h45.5M457.8,991.1h45.5M457.8,983.7h45.5M457.8,977.3h45.5M457.8,967.2v46.8M460.0,967.2v46.8M466.8,967.2v46.8M469.0,967.2v46.8M477.8,967.2v46.8M480.0,967.2v46.8M487.3,967.2v46.8M493.4,967.2v46.8" stroke="rgb(0,160,190)" stroke-opacity="0.32" stroke-width="0.9" fill="none"/>
<path d="M457.8,1000.2h45.5M457.8,979.2h45.5M457.8,974.4h45.5M457.8,971.5h45.5M471.2,967.2v46.8M491.7,967.2v46.8M496.3,967.2v46.8M499.2,967.2v46.8" stroke="rgb(0,160,190)" stroke-opacity="0.50" stroke-width="0.9" fill="none"/>
<rect x="503.3" y="892.6" width="74.6" height="74.6" fill="rgba(0,160,190,0.05)"/>
<rect x="503.3" y="963.1" width="74.6" height="4.11" fill="rgba(0,160,190,0.11)"/>
<rect x="503.3" y="892.6" width="4.11" height="74.6" fill="rgba(0,160,190,0.11)"/>
<rect x="503.3" y="960.5" width="74.6" height="2.61" fill="rgba(0,160,190,0.14)"/>
<rect x="507.4" y="892.6" width="2.61" height="74.6" fill="rgba(0,160,190,0.14)"/>
<rect x="503.3" y="952.5" width="74.6" height="7.97" fill="rgba(0,160,190,0.10)"/>
<rect x="510.0" y="892.6" width="7.97" height="74.6" fill="rgba(0,160,190,0.10)"/>
<rect x="503.3" y="948.5" width="74.6" height="3.96" fill="rgba(0,160,190,0.10)"/>
<rect x="518.0" y="892.6" width="3.96" height="74.6" fill="rgba(0,160,190,0.10)"/>
<rect x="503.3" y="944.0" width="74.6" height="4.55" fill="rgba(0,160,190,0.08)"/>
<rect x="522.0" y="892.6" width="4.55" height="74.6" fill="rgba(0,160,190,0.08)"/>
<rect x="503.3" y="940.8" width="74.6" height="3.14" fill="rgba(0,160,190,0.11)"/>
<rect x="526.5" y="892.6" width="3.14" height="74.6" fill="rgba(0,160,190,0.11)"/>
<rect x="503.3" y="936.6" width="74.6" height="4.25" fill="rgba(0,160,190,0.08)"/>
<rect x="529.7" y="892.6" width="4.25" height="74.6" fill="rgba(0,160,190,0.08)"/>
<rect x="503.3" y="928.1" width="74.6" height="8.54" fill="rgba(0,160,190,0.14)"/>
<rect x="533.9" y="892.6" width="8.54" height="74.6" fill="rgba(0,160,190,0.14)"/>
<rect x="503.3" y="923.3" width="74.6" height="4.77" fill="rgba(0,160,190,0.11)"/>
<rect x="542.4" y="892.6" width="4.77" height="74.6" fill="rgba(0,160,190,0.11)"/>
<rect x="503.3" y="919.5" width="74.6" height="3.75" fill="rgba(0,160,190,0.08)"/>
<rect x="547.2" y="892.6" width="3.75" height="74.6" fill="rgba(0,160,190,0.08)"/>
<rect x="503.3" y="913.6" width="74.6" height="5.94" fill="rgba(0,160,190,0.11)"/>
<rect x="551.0" y="892.6" width="5.94" height="74.6" fill="rgba(0,160,190,0.11)"/>
<rect x="503.3" y="911.0" width="74.6" height="2.57" fill="rgba(0,160,190,0.10)"/>
<rect x="556.9" y="892.6" width="2.57" height="74.6" fill="rgba(0,160,190,0.10)"/>
<rect x="503.3" y="906.3" width="74.6" height="4.74" fill="rgba(0,160,190,0.11)"/>
<rect x="559.5" y="892.6" width="4.74" height="74.6" fill="rgba(0,160,190,0.11)"/>
<rect x="503.3" y="898.0" width="74.6" height="8.27" fill="rgba(0,160,190,0.08)"/>
<rect x="564.2" y="892.6" width="8.27" height="74.6" fill="rgba(0,160,190,0.08)"/>
<rect x="503.3" y="892.6" width="74.6" height="5.42" fill="rgba(0,160,190,0.11)"/>
<rect x="572.5" y="892.6" width="5.42" height="74.6" fill="rgba(0,160,190,0.11)"/>
<path d="M503.3,961.5h74.6M503.3,957.1h74.6M503.3,942.3h74.6M503.3,940.1h74.6M503.3,937.9h74.6M503.3,909.3h74.6M503.3,904.3h74.6M503.3,893.1h74.6M509.0,892.6v74.6M513.4,892.6v74.6M528.2,892.6v74.6M530.4,892.6v74.6M532.6,892.6v74.6M561.2,892.6v74.6M566.2,892.6v74.6M577.4,892.6v74.6" stroke="rgb(0,160,190)" stroke-opacity="0.18" stroke-width="0.9" fill="none"/>
<path d="M503.3,965.4h74.6M503.3,963.2h74.6M503.3,959.3h74.6M503.3,954.9h74.6M503.3,952.0h74.6M503.3,949.2h74.6M503.3,944.5h74.6M503.3,926.1h74.6M503.3,919.5h74.6M503.3,912.9h74.6M503.3,895.3h74.6M505.1,892.6v74.6M507.3,892.6v74.6M511.2,892.6v74.6M515.6,892.6v74.6M518.5,892.6v74.6M521.3,892.6v74.6M526.0,892.6v74.6M544.4,892.6v74.6M551.0,892.6v74.6M557.6,892.6v74.6M575.2,892.6v74.6" stroke="rgb(0,160,190)" stroke-opacity="0.32" stroke-width="0.9" fill="none"/>
<path d="M503.3,967.2h74.6M503.3,935.7h74.6M503.3,927.8h74.6M503.3,923.9h74.6M503.3,921.7h74.6M503.3,917.3h74.6M503.3,915.1h74.6M503.3,911.1h74.6M503.3,906.5h74.6M503.3,902.1h74.6M503.3,899.2h74.6M503.3,897.5h74.6M503.3,892.6v74.6M534.8,892.6v74.6M542.7,892.6v74.6M546.6,892.6v74.6M548.8,892.6v74.6M553.2,892.6v74.6M555.4,892.6v74.6M559.4,892.6v74.6M564.0,892.6v74.6M568.4,892.6v74.6M571.3,892.6v74.6M573.0,892.6v74.6" stroke="rgb(0,160,190)" stroke-opacity="0.50" stroke-width="0.9" fill="none"/>
<rect x="577.9" y="854.5" width="36.9" height="38.1" fill="rgba(0,160,190,0.05)"/>
<rect x="577.9" y="889.5" width="36.9" height="3.05" fill="rgba(0,160,190,0.01)"/>
<rect x="577.9" y="854.5" width="2.96" height="38.1" fill="rgba(0,160,190,0.01)"/>
<rect x="577.9" y="887.8" width="36.9" height="1.72" fill="rgba(0,160,190,0.14)"/>
<rect x="580.9" y="854.5" width="1.67" height="38.1" fill="rgba(0,160,190,0.14)"/>
<rect x="577.9" y="886.4" width="36.9" height="1.46" fill="rgba(0,160,190,0.08)"/>
<rect x="582.5" y="854.5" width="1.41" height="38.1" fill="rgba(0,160,190,0.08)"/>
<rect x="577.9" y="885.0" width="36.9" height="1.41" fill="rgba(0,160,190,0.08)"/>
<rect x="583.9" y="854.5" width="1.37" height="38.1" fill="rgba(0,160,190,0.08)"/>
<rect x="577.9" y="881.4" width="36.9" height="3.59" fill="rgba(0,160,190,0.13)"/>
<rect x="585.3" y="854.5" width="3.47" height="38.1" fill="rgba(0,160,190,0.13)"/>
<rect x="577.9" y="879.1" width="36.9" height="2.24" fill="rgba(0,160,190,0.11)"/>
<rect x="588.8" y="854.5" width="2.17" height="38.1" fill="rgba(0,160,190,0.11)"/>
<rect x="577.9" y="877.0" width="36.9" height="2.11" fill="rgba(0,160,190,0.13)"/>
<rect x="590.9" y="854.5" width="2.05" height="38.1" fill="rgba(0,160,190,0.13)"/>
<rect x="577.9" y="874.2" width="36.9" height="2.83" fill="rgba(0,160,190,0.14)"/>
<rect x="593.0" y="854.5" width="2.74" height="38.1" fill="rgba(0,160,190,0.14)"/>
<rect x="577.9" y="872.8" width="36.9" height="1.40" fill="rgba(0,160,190,0.08)"/>
<rect x="595.7" y="854.5" width="1.36" height="38.1" fill="rgba(0,160,190,0.08)"/>
<rect x="577.9" y="870.9" width="36.9" height="1.92" fill="rgba(0,160,190,0.10)"/>
<rect x="597.1" y="854.5" width="1.86" height="38.1" fill="rgba(0,160,190,0.10)"/>
<rect x="577.9" y="867.5" width="36.9" height="3.37" fill="rgba(0,160,190,0.04)"/>
<rect x="599.0" y="854.5" width="3.27" height="38.1" fill="rgba(0,160,190,0.04)"/>
<rect x="577.9" y="863.8" width="36.9" height="3.70" fill="rgba(0,160,190,0.14)"/>
<rect x="602.2" y="854.5" width="3.58" height="38.1" fill="rgba(0,160,190,0.14)"/>
<rect x="577.9" y="859.5" width="36.9" height="4.29" fill="rgba(0,160,190,0.01)"/>
<rect x="605.8" y="854.5" width="4.15" height="38.1" fill="rgba(0,160,190,0.01)"/>
<rect x="577.9" y="857.3" width="36.9" height="2.16" fill="rgba(0,160,190,0.08)"/>
<rect x="610.0" y="854.5" width="2.09" height="38.1" fill="rgba(0,160,190,0.08)"/>
<rect x="577.9" y="854.5" width="36.9" height="2.85" fill="rgba(0,160,190,0.11)"/>
<rect x="612.0" y="854.5" width="2.76" height="38.1" fill="rgba(0,160,190,0.11)"/>
<path d="M577.9,886.7h36.9M577.9,883.7h36.9M577.9,881.5h36.9M577.9,876.9h36.9M577.9,869.9h36.9M583.6,854.5v38.1M586.5,854.5v38.1M588.7,854.5v38.1M593.1,854.5v38.1M599.9,854.5v38.1" stroke="rgb(0,160,190)" stroke-opacity="0.18" stroke-width="0.9" fill="none"/>
<path d="M577.9,888.5h36.9M577.9,879.2h36.9M577.9,872.2h36.9M577.9,859.2h36.9M577.9,854.7h36.9M581.9,854.5v38.1M590.9,854.5v38.1M597.7,854.5v38.1M610.2,854.5v38.1M614.6,854.5v38.1" stroke="rgb(0,160,190)" stroke-opacity="0.32" stroke-width="0.9" fill="none"/>
<path d="M577.9,875.1h36.9M577.9,865.1h36.9M577.9,856.9h36.9M594.8,854.5v38.1M604.5,854.5v38.1M612.4,854.5v38.1" stroke="rgb(0,160,190)" stroke-opacity="0.50" stroke-width="0.9" fill="none"/>
<rect x="614.8" y="806.6" width="48.0" height="47.9" fill="rgba(0,160,190,0.05)"/>
<rect x="614.8" y="851.4" width="48.0" height="3.10" fill="rgba(0,160,190,0.13)"/>
<rect x="614.8" y="806.6" width="3.10" height="47.9" fill="rgba(0,160,190,0.13)"/>
<rect x="614.8" y="845.9" width="48.0" height="5.46" fill="rgba(0,160,190,0.01)"/>
<rect x="617.9" y="806.6" width="5.47" height="47.9" fill="rgba(0,160,190,0.01)"/>
<rect x="614.8" y="841.7" width="48.0" height="4.27" fill="rgba(0,160,190,0.11)"/>
<rect x="623.4" y="806.6" width="4.27" height="47.9" fill="rgba(0,160,190,0.11)"/>
<rect x="614.8" y="840.1" width="48.0" height="1.61" fill="rgba(0,160,190,0.08)"/>
<rect x="627.6" y="806.6" width="1.61" height="47.9" fill="rgba(0,160,190,0.08)"/>
<rect x="614.8" y="838.1" width="48.0" height="1.94" fill="rgba(0,160,190,0.10)"/>
<rect x="629.3" y="806.6" width="1.94" height="47.9" fill="rgba(0,160,190,0.10)"/>
<rect x="614.8" y="833.5" width="48.0" height="4.60" fill="rgba(0,160,190,0.04)"/>
<rect x="631.2" y="806.6" width="4.61" height="47.9" fill="rgba(0,160,190,0.04)"/>
<rect x="614.8" y="829.8" width="48.0" height="3.74" fill="rgba(0,160,190,0.10)"/>
<rect x="635.8" y="806.6" width="3.75" height="47.9" fill="rgba(0,160,190,0.10)"/>
<rect x="614.8" y="827.8" width="48.0" height="2.00" fill="rgba(0,160,190,0.13)"/>
<rect x="639.6" y="806.6" width="2.00" height="47.9" fill="rgba(0,160,190,0.13)"/>
<rect x="614.8" y="822.3" width="48.0" height="5.50" fill="rgba(0,160,190,0.14)"/>
<rect x="641.6" y="806.6" width="5.51" height="47.9" fill="rgba(0,160,190,0.14)"/>
<rect x="614.8" y="817.5" width="48.0" height="4.78" fill="rgba(0,160,190,0.04)"/>
<rect x="647.1" y="806.6" width="4.79" height="47.9" fill="rgba(0,160,190,0.04)"/>
<rect x="614.8" y="811.8" width="48.0" height="5.74" fill="rgba(0,160,190,0.14)"/>
<rect x="651.9" y="806.6" width="5.75" height="47.9" fill="rgba(0,160,190,0.14)"/>
<rect x="614.8" y="807.8" width="48.0" height="4.01" fill="rgba(0,160,190,0.14)"/>
<rect x="657.6" y="806.6" width="4.02" height="47.9" fill="rgba(0,160,190,0.14)"/>
<rect x="614.8" y="806.6" width="48.0" height="1.16" fill="rgba(0,160,190,0.04)"/>
<rect x="661.6" y="806.6" width="1.16" height="47.9" fill="rgba(0,160,190,0.04)"/>
<path d="M614.8,854.5h48.0M614.8,836.7h48.0M614.8,835.0h48.0M614.8,832.8h48.0M614.8,830.6h48.0M614.8,818.3h48.0M614.8,806.6v47.9M632.6,806.6v47.9M634.4,806.6v47.9M636.6,806.6v47.9M638.8,806.6v47.9M651.1,806.6v47.9" stroke="rgb(0,160,190)" stroke-opacity="0.18" stroke-width="0.9" fill="none"/>
<path d="M614.8,852.3h48.0M614.8,844.0h48.0M614.8,838.9h48.0M614.8,828.4h48.0M614.8,826.2h48.0M617.0,806.6v47.9M625.4,806.6v47.9M630.4,806.6v47.9M641.0,806.6v47.9M643.2,806.6v47.9" stroke="rgb(0,160,190)" stroke-opacity="0.32" stroke-width="0.9" fill="none"/>
<path d="M614.8,824.4h48.0M614.8,815.4h48.0M614.8,812.6h48.0M614.8,810.8h48.0M614.8,809.1h48.0M644.9,806.6v47.9M654.0,806.6v47.9M656.8,806.6v47.9M658.6,806.6v47.9M660.3,806.6v47.9" stroke="rgb(0,160,190)" stroke-opacity="0.50" stroke-width="0.9" fill="none"/>
<rect x="662.8" y="773.8" width="31.5" height="32.8" fill="rgba(0,160,190,0.05)"/>
<rect x="662.8" y="803.9" width="31.5" height="2.65" fill="rgba(0,160,190,0.11)"/>
<rect x="662.8" y="773.8" width="2.55" height="32.8" fill="rgba(0,160,190,0.11)"/>
<rect x="662.8" y="802.9" width="31.5" height="1.05" fill="rgba(0,160,190,0.14)"/>
<rect x="665.3" y="773.8" width="1.00" height="32.8" fill="rgba(0,160,190,0.14)"/>
<rect x="662.8" y="800.2" width="31.5" height="2.66" fill="rgba(0,160,190,0.08)"/>
<rect x="666.4" y="773.8" width="2.56" height="32.8" fill="rgba(0,160,190,0.08)"/>
<rect x="662.8" y="798.0" width="31.5" height="2.21" fill="rgba(0,160,190,0.13)"/>
<rect x="668.9" y="773.8" width="2.12" height="32.8" fill="rgba(0,160,190,0.13)"/>
<rect x="662.8" y="795.3" width="31.5" height="2.74" fill="rgba(0,160,190,0.08)"/>
<rect x="671.0" y="773.8" width="2.64" height="32.8" fill="rgba(0,160,190,0.08)"/>
<rect x="662.8" y="793.2" width="31.5" height="2.07" fill="rgba(0,160,190,0.11)"/>
<rect x="673.7" y="773.8" width="1.99" height="32.8" fill="rgba(0,160,190,0.11)"/>
<rect x="662.8" y="789.4" width="31.5" height="3.83" fill="rgba(0,160,190,0.14)"/>
<rect x="675.7" y="773.8" width="3.68" height="32.8" fill="rgba(0,160,190,0.14)"/>
<rect x="662.8" y="786.8" width="31.5" height="2.58" fill="rgba(0,160,190,0.10)"/>
<rect x="679.3" y="773.8" width="2.47" height="32.8" fill="rgba(0,160,190,0.10)"/>
<rect x="662.8" y="785.4" width="31.5" height="1.36" fill="rgba(0,160,190,0.11)"/>
<rect x="681.8" y="773.8" width="1.31" height="32.8" fill="rgba(0,160,190,0.11)"/>
<rect x="662.8" y="781.8" width="31.5" height="3.65" fill="rgba(0,160,190,0.08)"/>
<rect x="683.1" y="773.8" width="3.50" height="32.8" fill="rgba(0,160,190,0.08)"/>
<rect x="662.8" y="778.7" width="31.5" height="3.09" fill="rgba(0,160,190,0.04)"/>
<rect x="686.6" y="773.8" width="2.97" height="32.8" fill="rgba(0,160,190,0.04)"/>
<rect x="662.8" y="775.8" width="31.5" height="2.94" fill="rgba(0,160,190,0.14)"/>
<rect x="689.6" y="773.8" width="2.82" height="32.8" fill="rgba(0,160,190,0.14)"/>
<rect x="662.8" y="774.1" width="31.5" height="1.61" fill="rgba(0,160,190,0.11)"/>
<rect x="692.4" y="773.8" width="1.55" height="32.8" fill="rgba(0,160,190,0.11)"/>
<rect x="662.8" y="773.8" width="31.5" height="0.35" fill="rgba(0,160,190,0.13)"/>
<rect x="694.0" y="773.8" width="0.33" height="32.8" fill="rgba(0,160,190,0.13)"/>
<path d="M662.8,802.5h31.5M662.8,800.2h31.5M662.8,793.1h31.5M662.8,787.8h31.5M662.8,785.5h31.5M662.8,782.5h31.5M662.8,780.7h31.5M666.8,773.8v32.8M669.0,773.8v32.8M675.8,773.8v32.8M680.8,773.8v32.8M683.0,773.8v32.8M685.9,773.8v32.8M687.7,773.8v32.8" stroke="rgb(0,160,190)" stroke-opacity="0.18" stroke-width="0.9" fill="none"/>
<path d="M662.8,797.9h31.5M662.8,794.9h31.5M662.8,790.1h31.5M662.8,778.4h31.5M671.2,773.8v32.8M674.0,773.8v32.8M678.6,773.8v32.8M689.9,773.8v32.8" stroke="rgb(0,160,190)" stroke-opacity="0.32" stroke-width="0.9" fill="none"/>
<rect x="694.3" y="727.5" width="46.4" height="46.3" fill="rgba(0,160,190,0.05)"/>
<rect x="694.3" y="770.8" width="46.4" height="3.04" fill="rgba(0,160,190,0.01)"/>
<rect x="694.3" y="727.5" width="3.05" height="46.3" fill="rgba(0,160,190,0.01)"/>
<rect x="694.3" y="766.4" width="46.4" height="4.33" fill="rgba(0,160,190,0.01)"/>
<rect x="697.3" y="727.5" width="4.34" height="46.3" fill="rgba(0,160,190,0.01)"/>
<rect x="694.3" y="763.8" width="46.4" height="2.64" fill="rgba(0,160,190,0.08)"/>
<rect x="701.7" y="727.5" width="2.65" height="46.3" fill="rgba(0,160,190,0.08)"/>
<rect x="694.3" y="761.8" width="46.4" height="2.04" fill="rgba(0,160,190,0.01)"/>
<rect x="704.3" y="727.5" width="2.04" height="46.3" fill="rgba(0,160,190,0.01)"/>
<rect x="694.3" y="759.1" width="46.4" height="2.61" fill="rgba(0,160,190,0.08)"/>
<rect x="706.4" y="727.5" width="2.62" height="46.3" fill="rgba(0,160,190,0.08)"/>
<rect x="694.3" y="753.6" width="46.4" height="5.50" fill="rgba(0,160,190,0.14)"/>
<rect x="709.0" y="727.5" width="5.51" height="46.3" fill="rgba(0,160,190,0.14)"/>
<rect x="694.3" y="749.6" width="46.4" height="4.06" fill="rgba(0,160,190,0.08)"/>
<rect x="714.5" y="727.5" width="4.06" height="46.3" fill="rgba(0,160,190,0.08)"/>
<rect x="694.3" y="745.0" width="46.4" height="4.61" fill="rgba(0,160,190,0.13)"/>
<rect x="718.6" y="727.5" width="4.62" height="46.3" fill="rgba(0,160,190,0.13)"/>
<rect x="694.3" y="742.4" width="46.4" height="2.59" fill="rgba(0,160,190,0.04)"/>
<rect x="723.2" y="727.5" width="2.60" height="46.3" fill="rgba(0,160,190,0.04)"/>
<rect x="694.3" y="739.7" width="46.4" height="2.67" fill="rgba(0,160,190,0.01)"/>
<rect x="725.8" y="727.5" width="2.67" height="46.3" fill="rgba(0,160,190,0.01)"/>
<rect x="694.3" y="737.7" width="46.4" height="2.06" fill="rgba(0,160,190,0.10)"/>
<rect x="728.5" y="727.5" width="2.06" height="46.3" fill="rgba(0,160,190,0.10)"/>
<rect x="694.3" y="735.1" width="46.4" height="2.59" fill="rgba(0,160,190,0.14)"/>
<rect x="730.5" y="727.5" width="2.60" height="46.3" fill="rgba(0,160,190,0.14)"/>
<rect x="694.3" y="732.9" width="46.4" height="2.20" fill="rgba(0,160,190,0.14)"/>
<rect x="733.1" y="727.5" width="2.21" height="46.3" fill="rgba(0,160,190,0.14)"/>
<rect x="694.3" y="729.1" width="46.4" height="3.79" fill="rgba(0,160,190,0.10)"/>
<rect x="735.3" y="727.5" width="3.80" height="46.3" fill="rgba(0,160,190,0.10)"/>
<rect x="694.3" y="727.5" width="46.4" height="1.57" fill="rgba(0,160,190,0.08)"/>
<rect x="739.1" y="727.5" width="1.57" height="46.3" fill="rgba(0,160,190,0.08)"/>
<path d="M694.3,766.3h46.4M694.3,759.1h46.4M694.3,756.9h46.4M694.3,750.3h46.4M694.3,748.6h46.4M694.3,744.6h46.4M694.3,742.4h46.4M701.8,727.5v46.3M709.0,727.5v46.3M711.2,727.5v46.3M717.8,727.5v46.3M719.6,727.5v46.3M723.6,727.5v46.3M725.8,727.5v46.3" stroke="rgb(0,160,190)" stroke-opacity="0.18" stroke-width="0.9" fill="none"/>
<path d="M694.3,764.1h46.4M694.3,761.3h46.4M694.3,752.5h46.4M694.3,739.6h46.4M704.0,727.5v46.3M706.8,727.5v46.3M715.6,727.5v46.3M728.6,727.5v46.3" stroke="rgb(0,160,190)" stroke-opacity="0.32" stroke-width="0.9" fill="none"/>
<path d="M694.3,754.7h46.4M694.3,746.4h46.4M694.3,733.8h46.4M694.3,729.2h46.4M713.4,727.5v46.3M721.8,727.5v46.3M734.3,727.5v46.3M739.0,727.5v46.3" stroke="rgb(0,160,190)" stroke-opacity="0.50" stroke-width="0.9" fill="none"/>
<text class="s" x="56.2" y="1422.6" font-size="23.5">Chr1</text>
<text class="s" x="107.4" y="1422.6" font-size="23.5">Chr2</text>
<text class="s" x="159.0" y="1422.6" font-size="23.5">Chr3</text>
<text class="s" x="213.5" y="1422.6" font-size="23.5">Chr4</text>
<text class="s" x="265.6" y="1422.6" font-size="23.5">Chr5</text>
<text class="s" x="314.8" y="1422.6" font-size="23.5">Chr6</text>
<text class="s" x="364.0" y="1422.6" font-size="23.5">Chr7</text>
<text class="s" x="411.9" y="1422.6" font-size="23.5">Chr8</text>
<text class="s" x="463.2" y="1422.6" font-size="23.5">Chr9</text>
<text class="s" x="512.4" y="1424.6" font-size="23.5">Chr10</text>
<text class="s" x="580.4" y="1424.6" font-size="23.5">Chr11</text>
<text class="s" x="645.6" y="1424.6" font-size="23.5">Chr12</text>
<text class="s" x="710.3" y="1422.6" font-size="23.5">Chr13</text>
<text class="s" x="20.3" y="1448.6" font-size="43">C</text>
<rect x="57.4" y="1453.3" width="40.2" height="66.4" fill="#009fbf"/>
<line x1="97.6" y1="1453.3" x2="103.6" y2="1453.3" stroke="#222" stroke-width="1.3"/>
<text class="s" x="108.6" y="1458.7" font-size="15">1.00</text>
<line x1="97.6" y1="1486.5" x2="103.6" y2="1486.5" stroke="#222" stroke-width="1.3"/>
<text class="s" x="108.6" y="1491.9" font-size="15">0.75</text>
<line x1="97.6" y1="1519.7" x2="103.6" y2="1519.7" stroke="#222" stroke-width="1.3"/>
<text class="s" x="108.6" y="1525.1" font-size="15">0.50</text>
<line x1="97.6" y1="1552.9" x2="103.6" y2="1552.9" stroke="#222" stroke-width="1.3"/>
<text class="s" x="108.6" y="1558.3" font-size="15">0.25</text>
<line x1="97.6" y1="1586.5" x2="103.6" y2="1586.5" stroke="#222" stroke-width="1.3"/>
<text class="s" x="108.6" y="1591.9" font-size="15">0.00</text>
<rect x="66.4" y="1964.8" width="102.5" height="95.1" fill="rgba(0,160,190,0.05)"/>
<rect x="66.4" y="2051.9" width="102.5" height="7.97" fill="rgba(0,160,190,0.14)"/>
<rect x="66.4" y="1964.8" width="8.59" height="95.1" fill="rgba(0,160,190,0.14)"/>
<rect x="66.4" y="2040.8" width="102.5" height="11.13" fill="rgba(0,160,190,0.10)"/>
<rect x="75.0" y="1964.8" width="12.00" height="95.1" fill="rgba(0,160,190,0.10)"/>
<rect x="66.4" y="2035.0" width="102.5" height="5.82" fill="rgba(0,160,190,0.13)"/>
<rect x="87.0" y="1964.8" width="6.27" height="95.1" fill="rgba(0,160,190,0.13)"/>
<rect x="66.4" y="2027.2" width="102.5" height="7.75" fill="rgba(0,160,190,0.08)"/>
<rect x="93.3" y="1964.8" width="8.35" height="95.1" fill="rgba(0,160,190,0.08)"/>
<rect x="66.4" y="2023.0" width="102.5" height="4.24" fill="rgba(0,160,190,0.13)"/>
<rect x="101.6" y="1964.8" width="4.57" height="95.1" fill="rgba(0,160,190,0.13)"/>
<rect x="66.4" y="2017.3" width="102.5" height="5.69" fill="rgba(0,160,190,0.08)"/>
<rect x="106.2" y="1964.8" width="6.14" height="95.1" fill="rgba(0,160,190,0.08)"/>
<rect x="66.4" y="2009.0" width="102.5" height="8.26" fill="rgba(0,160,190,0.04)"/>
<rect x="112.3" y="1964.8" width="8.90" height="95.1" fill="rgba(0,160,190,0.04)"/>
<rect x="66.4" y="1998.5" width="102.5" height="10.53" fill="rgba(0,160,190,0.01)"/>
<rect x="121.2" y="1964.8" width="11.35" height="95.1" fill="rgba(0,160,190,0.01)"/>
<rect x="66.4" y="1989.8" width="102.5" height="8.76" fill="rgba(0,160,190,0.14)"/>
<rect x="132.6" y="1964.8" width="9.44" height="95.1" fill="rgba(0,160,190,0.14)"/>
<rect x="66.4" y="1984.4" width="102.5" height="5.34" fill="rgba(0,160,190,0.04)"/>
<rect x="142.0" y="1964.8" width="5.75" height="95.1" fill="rgba(0,160,190,0.04)"/>
<rect x="66.4" y="1973.4" width="102.5" height="11.04" fill="rgba(0,160,190,0.14)"/>
<rect x="147.8" y="1964.8" width="11.90" height="95.1" fill="rgba(0,160,190,0.14)"/>
<rect x="66.4" y="1965.6" width="102.5" height="7.78" fill="rgba(0,160,190,0.01)"/>
<rect x="159.7" y="1964.8" width="8.38" height="95.1" fill="rgba(0,160,190,0.01)"/>
<rect x="66.4" y="1964.8" width="102.5" height="0.79" fill="rgba(0,160,190,0.04)"/>
<rect x="168.0" y="1964.8" width="0.85" height="95.1" fill="rgba(0,160,190,0.04)"/>
<path d="M66.4,2046.2h102.5M66.4,2043.6h102.5M66.4,2031.5h102.5M66.4,2027.2h102.5M66.4,2015.8h102.5M66.4,2013.2h102.5M66.4,2010.5h102.5M66.4,1986.8h102.5M81.1,1964.8v95.1M84.0,1964.8v95.1M97.0,1964.8v95.1M101.6,1964.8v95.1M113.9,1964.8v95.1M116.8,1964.8v95.1M119.6,1964.8v95.1M145.2,1964.8v95.1" stroke="rgb(0,160,190)" stroke-opacity="0.18" stroke-width="0.9" fill="none"/>
<path d="M66.4,2057.2h102.5M66.4,2050.9h102.5M66.4,2048.9h102.5M66.4,2039.5h102.5M66.4,2037.4h102.5M66.4,2033.2h102.5M66.4,2028.9h102.5M66.4,2017.9h102.5M66.4,1996.2h102.5M66.4,1994.2h102.5M66.4,1991.5h102.5M66.4,1984.2h102.5M66.4,1980.1h102.5M69.3,1964.8v95.1M76.1,1964.8v95.1M78.3,1964.8v95.1M88.4,1964.8v95.1M90.6,1964.8v95.1M95.2,1964.8v95.1M99.8,1964.8v95.1M111.7,1964.8v95.1M135.0,1964.8v95.1M137.2,1964.8v95.1M140.1,1964.8v95.1M148.0,1964.8v95.1M152.4,1964.8v95.1" stroke="rgb(0,160,190)" stroke-opacity="0.32" stroke-width="0.9" fill="none"/>
<path d="M66.4,2059.9h102.5M66.4,2055.6h102.5M66.4,2053.6h102.5M66.4,2023.6h102.5M66.4,2019.9h102.5M66.4,1982.1h102.5M66.4,1978.0h102.5M66.4,1976.4h102.5M66.4,1974.4h102.5M66.4,1964.8v95.1M71.0,1964.8v95.1M73.2,1964.8v95.1M105.6,1964.8v95.1M109.5,1964.8v95.1M150.2,1964.8v95.1M154.6,1964.8v95.1M156.4,1964.8v95.1M158.6,1964.8v95.1" stroke="rgb(0,160,190)" stroke-opacity="0.50" stroke-width="0.9" fill="none"/>
<rect x="170.1" y="1894.7" width="75.0" height="70.1" fill="rgba(0,160,190,0.05)"/>
<rect x="170.1" y="1960.2" width="75.0" height="4.62" fill="rgba(0,160,190,0.10)"/>
<rect x="170.1" y="1894.7" width="4.94" height="70.1" fill="rgba(0,160,190,0.10)"/>
<rect x="170.1" y="1954.7" width="75.0" height="5.52" fill="rgba(0,160,190,0.11)"/>
<rect x="175.0" y="1894.7" width="5.91" height="70.1" fill="rgba(0,160,190,0.11)"/>
<rect x="170.1" y="1946.6" width="75.0" height="8.09" fill="rgba(0,160,190,0.14)"/>
<rect x="180.9" y="1894.7" width="8.66" height="70.1" fill="rgba(0,160,190,0.14)"/>
<rect x="170.1" y="1943.7" width="75.0" height="2.85" fill="rgba(0,160,190,0.11)"/>
<rect x="189.6" y="1894.7" width="3.05" height="70.1" fill="rgba(0,160,190,0.11)"/>
<rect x="170.1" y="1938.3" width="75.0" height="5.39" fill="rgba(0,160,190,0.08)"/>
<rect x="192.7" y="1894.7" width="5.77" height="70.1" fill="rgba(0,160,190,0.08)"/>
<rect x="170.1" y="1935.6" width="75.0" height="2.70" fill="rgba(0,160,190,0.10)"/>
<rect x="198.4" y="1894.7" width="2.89" height="70.1" fill="rgba(0,160,190,0.10)"/>
<rect x="170.1" y="1927.2" width="75.0" height="8.37" fill="rgba(0,160,190,0.14)"/>
<rect x="201.3" y="1894.7" width="8.95" height="70.1" fill="rgba(0,160,190,0.14)"/>
<rect x="170.1" y="1924.9" width="75.0" height="2.32" fill="rgba(0,160,190,0.08)"/>
<rect x="210.3" y="1894.7" width="2.48" height="70.1" fill="rgba(0,160,190,0.08)"/>
<rect x="170.1" y="1921.0" width="75.0" height="3.93" fill="rgba(0,160,190,0.14)"/>
<rect x="212.8" y="1894.7" width="4.20" height="70.1" fill="rgba(0,160,190,0.14)"/>
<rect x="170.1" y="1912.8" width="75.0" height="8.19" fill="rgba(0,160,190,0.11)"/>
<rect x="217.0" y="1894.7" width="8.76" height="70.1" fill="rgba(0,160,190,0.11)"/>
<rect x="170.1" y="1906.8" width="75.0" height="6.00" fill="rgba(0,160,190,0.10)"/>
<rect x="225.7" y="1894.7" width="6.42" height="70.1" fill="rgba(0,160,190,0.10)"/>
<rect x="170.1" y="1898.9" width="75.0" height="7.92" fill="rgba(0,160,190,0.01)"/>
<rect x="232.1" y="1894.7" width="8.47" height="70.1" fill="rgba(0,160,190,0.01)"/>
<rect x="170.1" y="1894.7" width="75.0" height="4.19" fill="rgba(0,160,190,0.01)"/>
<rect x="240.6" y="1894.7" width="4.49" height="70.1" fill="rgba(0,160,190,0.01)"/>
<path d="M170.1,1961.1h75.0M170.1,1959.0h75.0M170.1,1953.3h75.0M170.1,1943.6h75.0M170.1,1925.7h75.0M170.1,1910.5h75.0M170.1,1908.5h75.0M174.1,1894.7v70.1M176.3,1894.7v70.1M182.4,1894.7v70.1M192.8,1894.7v70.1M211.9,1894.7v70.1M228.2,1894.7v70.1M230.4,1894.7v70.1" stroke="rgb(0,160,190)" stroke-opacity="0.18" stroke-width="0.9" fill="none"/>
<path d="M170.1,1940.9h75.0M170.1,1938.9h75.0M170.1,1936.8h75.0M170.1,1934.2h75.0M170.1,1915.2h75.0M170.1,1912.6h75.0M195.6,1894.7v70.1M197.8,1894.7v70.1M200.0,1894.7v70.1M202.9,1894.7v70.1M223.1,1894.7v70.1M226.0,1894.7v70.1" stroke="rgb(0,160,190)" stroke-opacity="0.32" stroke-width="0.9" fill="none"/>
<path d="M170.1,1964.8h75.0M170.1,1963.2h75.0M170.1,1957.4h75.0M170.1,1949.6h75.0M170.1,1946.9h75.0M170.1,1945.3h75.0M170.1,1932.1h75.0M170.1,1930.0h75.0M170.1,1927.4h75.0M170.1,1920.0h75.0M170.1,1894.7v70.1M171.9,1894.7v70.1M178.0,1894.7v70.1M186.4,1894.7v70.1M189.2,1894.7v70.1M191.0,1894.7v70.1M205.1,1894.7v70.1M207.3,1894.7v70.1M210.1,1894.7v70.1M218.1,1894.7v70.1" stroke="rgb(0,160,190)" stroke-opacity="0.50" stroke-width="0.9" fill="none"/>
<rect x="245.1" y="1796.8" width="106.6" height="97.9" fill="rgba(0,160,190,0.05)"/>
<rect x="245.1" y="1883.3" width="106.6" height="11.44" fill="rgba(0,160,190,0.13)"/>
<rect x="245.1" y="1796.8" width="12.46" height="97.9" fill="rgba(0,160,190,0.13)"/>
<rect x="245.1" y="1876.1" width="106.6" height="7.12" fill="rgba(0,160,190,0.11)"/>
<rect x="257.6" y="1796.8" width="7.75" height="97.9" fill="rgba(0,160,190,0.11)"/>
<rect x="245.1" y="1866.0" width="106.6" height="10.10" fill="rgba(0,160,190,0.13)"/>
<rect x="265.3" y="1796.8" width="10.99" height="97.9" fill="rgba(0,160,190,0.13)"/>
<rect x="245.1" y="1859.6" width="106.6" height="6.44" fill="rgba(0,160,190,0.13)"/>
<rect x="276.3" y="1796.8" width="7.01" height="97.9" fill="rgba(0,160,190,0.13)"/>
<rect x="245.1" y="1853.7" width="106.6" height="5.93" fill="rgba(0,160,190,0.04)"/>
<rect x="283.3" y="1796.8" width="6.46" height="97.9" fill="rgba(0,160,190,0.04)"/>
<rect x="245.1" y="1844.9" width="106.6" height="8.75" fill="rgba(0,160,190,0.01)"/>
<rect x="289.8" y="1796.8" width="9.53" height="97.9" fill="rgba(0,160,190,0.01)"/>
<rect x="245.1" y="1836.3" width="106.6" height="8.57" fill="rgba(0,160,190,0.08)"/>
<rect x="299.3" y="1796.8" width="9.33" height="97.9" fill="rgba(0,160,190,0.08)"/>
<rect x="245.1" y="1829.0" width="106.6" height="7.35" fill="rgba(0,160,190,0.01)"/>
<rect x="308.6" y="1796.8" width="8.00" height="97.9" fill="rgba(0,160,190,0.01)"/>
<rect x="245.1" y="1820.1" width="106.6" height="8.92" fill="rgba(0,160,190,0.04)"/>
<rect x="316.6" y="1796.8" width="9.71" height="97.9" fill="rgba(0,160,190,0.04)"/>
<rect x="245.1" y="1809.5" width="106.6" height="10.54" fill="rgba(0,160,190,0.13)"/>
<rect x="326.4" y="1796.8" width="11.47" height="97.9" fill="rgba(0,160,190,0.13)"/>
<rect x="245.1" y="1799.1" width="106.6" height="10.42" fill="rgba(0,160,190,0.10)"/>
<rect x="337.8" y="1796.8" width="11.35" height="97.9" fill="rgba(0,160,190,0.10)"/>
<rect x="245.1" y="1796.8" width="106.6" height="2.32" fill="rgba(0,160,190,0.10)"/>
<rect x="349.2" y="1796.8" width="2.53" height="97.9" fill="rgba(0,160,190,0.10)"/>
<path d="M245.1,1889.0h106.6M245.1,1871.5h106.6M245.1,1861.8h106.6M245.1,1844.2h106.6M245.1,1842.2h106.6M245.1,1840.1h106.6M245.1,1827.8h106.6M245.1,1821.0h106.6M245.1,1810.4h106.6M245.1,1803.2h106.6M251.3,1796.8v97.9M270.4,1796.8v97.9M281.0,1796.8v97.9M300.1,1796.8v97.9M302.3,1796.8v97.9M304.5,1796.8v97.9M317.9,1796.8v97.9M325.4,1796.8v97.9M336.8,1796.8v97.9M344.8,1796.8v97.9" stroke="rgb(0,160,190)" stroke-opacity="0.18" stroke-width="0.9" fill="none"/>
<path d="M245.1,1894.7h106.6M245.1,1885.0h106.6M245.1,1882.4h106.6M245.1,1875.7h106.6M245.1,1874.1h106.6M245.1,1869.8h106.6M245.1,1838.1h106.6M245.1,1812.1h106.6M245.1,1807.8h106.6M245.1,1805.2h106.6M245.1,1796.8v97.9M255.7,1796.8v97.9M258.5,1796.8v97.9M265.8,1796.8v97.9M267.5,1796.8v97.9M272.2,1796.8v97.9M306.7,1796.8v97.9M335.1,1796.8v97.9M339.7,1796.8v97.9M342.6,1796.8v97.9" stroke="rgb(0,160,190)" stroke-opacity="0.32" stroke-width="0.9" fill="none"/>
<path d="M245.1,1892.7h106.6M245.1,1887.0h106.6M245.1,1867.8h106.6M245.1,1863.8h106.6M245.1,1860.2h106.6M245.1,1814.1h106.6M245.1,1801.2h106.6M245.1,1798.5h106.6M247.3,1796.8v97.9M253.5,1796.8v97.9M274.4,1796.8v97.9M278.8,1796.8v97.9M282.7,1796.8v97.9M332.9,1796.8v97.9M347.0,1796.8v97.9M349.8,1796.8v97.9" stroke="rgb(0,160,190)" stroke-opacity="0.50" stroke-width="0.9" fill="none"/>
<rect x="351.7" y="1734.0" width="68.0" height="62.8" fill="rgba(0,160,190,0.05)"/>
<rect x="351.7" y="1794.7" width="68.0" height="2.06" fill="rgba(0,160,190,0.11)"/>
<rect x="351.7" y="1734.0" width="2.23" height="62.8" fill="rgba(0,160,190,0.11)"/>
<rect x="351.7" y="1792.3" width="68.0" height="2.40" fill="rgba(0,160,190,0.14)"/>
<rect x="353.9" y="1734.0" width="2.60" height="62.8" fill="rgba(0,160,190,0.14)"/>
<rect x="351.7" y="1787.2" width="68.0" height="5.09" fill="rgba(0,160,190,0.13)"/>
<rect x="356.5" y="1734.0" width="5.51" height="62.8" fill="rgba(0,160,190,0.13)"/>
<rect x="351.7" y="1784.5" width="68.0" height="2.78" fill="rgba(0,160,190,0.10)"/>
<rect x="362.0" y="1734.0" width="3.01" height="62.8" fill="rgba(0,160,190,0.10)"/>
<rect x="351.7" y="1778.1" width="68.0" height="6.35" fill="rgba(0,160,190,0.04)"/>
<rect x="365.0" y="1734.0" width="6.87" height="62.8" fill="rgba(0,160,190,0.04)"/>
<rect x="351.7" y="1774.8" width="68.0" height="3.33" fill="rgba(0,160,190,0.01)"/>
<rect x="371.9" y="1734.0" width="3.61" height="62.8" fill="rgba(0,160,190,0.01)"/>
<rect x="351.7" y="1769.5" width="68.0" height="5.24" fill="rgba(0,160,190,0.04)"/>
<rect x="375.5" y="1734.0" width="5.67" height="62.8" fill="rgba(0,160,190,0.04)"/>
<rect x="351.7" y="1763.7" width="68.0" height="5.81" fill="rgba(0,160,190,0.08)"/>
<rect x="381.2" y="1734.0" width="6.29" height="62.8" fill="rgba(0,160,190,0.08)"/>
<rect x="351.7" y="1759.1" width="68.0" height="4.67" fill="rgba(0,160,190,0.01)"/>
<rect x="387.5" y="1734.0" width="5.06" height="62.8" fill="rgba(0,160,190,0.01)"/>
<rect x="351.7" y="1752.5" width="68.0" height="6.53" fill="rgba(0,160,190,0.13)"/>
<rect x="392.6" y="1734.0" width="7.07" height="62.8" fill="rgba(0,160,190,0.13)"/>
<rect x="351.7" y="1749.1" width="68.0" height="3.47" fill="rgba(0,160,190,0.01)"/>
<rect x="399.6" y="1734.0" width="3.75" height="62.8" fill="rgba(0,160,190,0.01)"/>
<rect x="351.7" y="1745.9" width="68.0" height="3.18" fill="rgba(0,160,190,0.14)"/>
<rect x="403.4" y="1734.0" width="3.44" height="62.8" fill="rgba(0,160,190,0.14)"/>
<rect x="351.7" y="1743.2" width="68.0" height="2.72" fill="rgba(0,160,190,0.11)"/>
<rect x="406.8" y="1734.0" width="2.95" height="62.8" fill="rgba(0,160,190,0.11)"/>
<rect x="351.7" y="1738.0" width="68.0" height="5.21" fill="rgba(0,160,190,0.04)"/>
<rect x="409.8" y="1734.0" width="5.64" height="62.8" fill="rgba(0,160,190,0.04)"/>
<rect x="351.7" y="1734.0" width="68.0" height="3.95" fill="rgba(0,160,190,0.14)"/>
<rect x="415.4" y="1734.0" width="4.28" height="62.8" fill="rgba(0,160,190,0.14)"/>
<path d="M351.7,1782.4h68.0M351.7,1780.3h68.0M351.7,1778.3h68.0M351.7,1773.6h68.0M351.7,1772.0h68.0M351.7,1742.6h68.0M351.7,1739.9h68.0M367.3,1734.0v62.8M369.5,1734.0v62.8M371.7,1734.0v62.8M376.8,1734.0v62.8M378.5,1734.0v62.8M410.4,1734.0v62.8M413.3,1734.0v62.8" stroke="rgb(0,160,190)" stroke-opacity="0.18" stroke-width="0.9" fill="none"/>
<path d="M351.7,1796.8h68.0M351.7,1766.3h68.0M351.7,1764.7h68.0M351.7,1755.8h68.0M351.7,1753.7h68.0M351.7,1734.0v62.8M384.7,1734.0v62.8M386.5,1734.0v62.8M396.1,1734.0v62.8M398.3,1734.0v62.8" stroke="rgb(0,160,190)" stroke-opacity="0.32" stroke-width="0.9" fill="none"/>
<path d="M351.7,1794.8h68.0M351.7,1793.1h68.0M351.7,1791.1h68.0M351.7,1789.1h68.0M351.7,1757.4h68.0M351.7,1746.8h68.0M351.7,1744.2h68.0M351.7,1737.9h68.0M353.9,1734.0v62.8M355.7,1734.0v62.8M357.9,1734.0v62.8M360.1,1734.0v62.8M394.4,1734.0v62.8M405.8,1734.0v62.8M408.7,1734.0v62.8M415.5,1734.0v62.8" stroke="rgb(0,160,190)" stroke-opacity="0.50" stroke-width="0.9" fill="none"/>
<rect x="419.7" y="1641.0" width="101.7" height="93.0" fill="rgba(0,160,190,0.05)"/>
<rect x="419.7" y="1730.1" width="101.7" height="3.91" fill="rgba(0,160,190,0.13)"/>
<rect x="419.7" y="1641.0" width="4.28" height="93.0" fill="rgba(0,160,190,0.13)"/>
<rect x="419.7" y="1723.1" width="101.7" height="7.00" fill="rgba(0,160,190,0.10)"/>
<rect x="424.0" y="1641.0" width="7.65" height="93.0" fill="rgba(0,160,190,0.10)"/>
<rect x="419.7" y="1719.8" width="101.7" height="3.25" fill="rgba(0,160,190,0.14)"/>
<rect x="431.6" y="1641.0" width="3.56" height="93.0" fill="rgba(0,160,190,0.14)"/>
<rect x="419.7" y="1715.0" width="101.7" height="4.84" fill="rgba(0,160,190,0.11)"/>
<rect x="435.2" y="1641.0" width="5.29" height="93.0" fill="rgba(0,160,190,0.11)"/>
<rect x="419.7" y="1704.0" width="101.7" height="11.04" fill="rgba(0,160,190,0.01)"/>
<rect x="440.5" y="1641.0" width="12.08" height="93.0" fill="rgba(0,160,190,0.01)"/>
<rect x="419.7" y="1700.7" width="101.7" height="3.23" fill="rgba(0,160,190,0.14)"/>
<rect x="452.6" y="1641.0" width="3.53" height="93.0" fill="rgba(0,160,190,0.14)"/>
<rect x="419.7" y="1690.2" width="101.7" height="10.57" fill="rgba(0,160,190,0.04)"/>
<rect x="456.1" y="1641.0" width="11.56" height="93.0" fill="rgba(0,160,190,0.04)"/>
<rect x="419.7" y="1684.9" width="101.7" height="5.30" fill="rgba(0,160,190,0.08)"/>
<rect x="467.6" y="1641.0" width="5.80" height="93.0" fill="rgba(0,160,190,0.08)"/>
<rect x="419.7" y="1680.5" width="101.7" height="4.35" fill="rgba(0,160,190,0.13)"/>
<rect x="473.4" y="1641.0" width="4.76" height="93.0" fill="rgba(0,160,190,0.13)"/>
<rect x="419.7" y="1673.9" width="101.7" height="6.62" fill="rgba(0,160,190,0.14)"/>
<rect x="478.2" y="1641.0" width="7.24" height="93.0" fill="rgba(0,160,190,0.14)"/>
<rect x="419.7" y="1663.1" width="101.7" height="10.78" fill="rgba(0,160,190,0.11)"/>
<rect x="485.4" y="1641.0" width="11.79" height="93.0" fill="rgba(0,160,190,0.11)"/>
<rect x="419.7" y="1657.7" width="101.7" height="5.38" fill="rgba(0,160,190,0.10)"/>
<rect x="497.2" y="1641.0" width="5.88" height="93.0" fill="rgba(0,160,190,0.10)"/>
<rect x="419.7" y="1652.3" width="101.7" height="5.48" fill="rgba(0,160,190,0.08)"/>
<rect x="503.1" y="1641.0" width="5.99" height="93.0" fill="rgba(0,160,190,0.08)"/>
<rect x="419.7" y="1647.2" width="101.7" height="5.04" fill="rgba(0,160,190,0.14)"/>
<rect x="509.1" y="1641.0" width="5.51" height="93.0" fill="rgba(0,160,190,0.14)"/>
<rect x="419.7" y="1641.0" width="101.7" height="6.21" fill="rgba(0,160,190,0.10)"/>
<rect x="514.6" y="1641.0" width="6.80" height="93.0" fill="rgba(0,160,190,0.10)"/>
<path d="M419.7,1730.4h101.7M419.7,1718.5h101.7M419.7,1700.4h101.7M419.7,1695.2h101.7M419.7,1693.2h101.7M419.7,1681.3h101.7M419.7,1677.3h101.7M419.7,1674.7h101.7M419.7,1671.0h101.7M419.7,1658.6h101.7M419.7,1652.3h101.7M423.7,1641.0v93.0M436.6,1641.0v93.0M456.4,1641.0v93.0M462.2,1641.0v93.0M464.4,1641.0v93.0M477.3,1641.0v93.0M481.7,1641.0v93.0M484.6,1641.0v93.0M488.6,1641.0v93.0M502.2,1641.0v93.0M509.0,1641.0v93.0" stroke="rgb(0,160,190)" stroke-opacity="0.18" stroke-width="0.9" fill="none"/>
<path d="M419.7,1732.4h101.7M419.7,1722.1h101.7M419.7,1720.5h101.7M419.7,1686.9h101.7M419.7,1684.9h101.7M419.7,1669.4h101.7M419.7,1667.4h101.7M419.7,1663.8h101.7M419.7,1661.2h101.7M419.7,1656.9h101.7M419.7,1647.1h101.7M421.5,1641.0v93.0M432.7,1641.0v93.0M434.4,1641.0v93.0M471.2,1641.0v93.0M473.4,1641.0v93.0M490.3,1641.0v93.0M492.5,1641.0v93.0M496.5,1641.0v93.0M499.3,1641.0v93.0M504.0,1641.0v93.0M514.7,1641.0v93.0" stroke="rgb(0,160,190)" stroke-opacity="0.32" stroke-width="0.9" fill="none"/>
<path d="M419.7,1734.0h101.7M419.7,1728.4h101.7M419.7,1716.5h101.7M419.7,1679.3h101.7M419.7,1673.0h101.7M419.7,1649.7h101.7M419.7,1641.9h101.7M419.7,1641.0v93.0M425.9,1641.0v93.0M438.8,1641.0v93.0M479.5,1641.0v93.0M486.4,1641.0v93.0M511.9,1641.0v93.0M520.5,1641.0v93.0" stroke="rgb(0,160,190)" stroke-opacity="0.50" stroke-width="0.9" fill="none"/>
<rect x="521.4" y="1537.3" width="112.3" height="103.7" fill="rgba(0,160,190,0.05)"/>
<rect x="521.4" y="1636.2" width="112.3" height="4.82" fill="rgba(0,160,190,0.13)"/>
<rect x="521.4" y="1537.3" width="5.21" height="103.7" fill="rgba(0,160,190,0.13)"/>
<rect x="521.4" y="1627.2" width="112.3" height="9.00" fill="rgba(0,160,190,0.14)"/>
<rect x="526.6" y="1537.3" width="9.75" height="103.7" fill="rgba(0,160,190,0.14)"/>
<rect x="521.4" y="1619.2" width="112.3" height="7.96" fill="rgba(0,160,190,0.08)"/>
<rect x="536.4" y="1537.3" width="8.62" height="103.7" fill="rgba(0,160,190,0.08)"/>
<rect x="521.4" y="1614.4" width="112.3" height="4.84" fill="rgba(0,160,190,0.14)"/>
<rect x="545.0" y="1537.3" width="5.24" height="103.7" fill="rgba(0,160,190,0.14)"/>
<rect x="521.4" y="1604.8" width="112.3" height="9.58" fill="rgba(0,160,190,0.08)"/>
<rect x="550.2" y="1537.3" width="10.37" height="103.7" fill="rgba(0,160,190,0.08)"/>
<rect x="521.4" y="1594.0" width="112.3" height="10.80" fill="rgba(0,160,190,0.10)"/>
<rect x="560.6" y="1537.3" width="11.69" height="103.7" fill="rgba(0,160,190,0.10)"/>
<rect x="521.4" y="1581.8" width="112.3" height="12.20" fill="rgba(0,160,190,0.10)"/>
<rect x="572.3" y="1537.3" width="13.22" height="103.7" fill="rgba(0,160,190,0.10)"/>
<rect x="521.4" y="1576.7" width="112.3" height="5.15" fill="rgba(0,160,190,0.11)"/>
<rect x="585.5" y="1537.3" width="5.58" height="103.7" fill="rgba(0,160,190,0.11)"/>
<rect x="521.4" y="1571.1" width="112.3" height="5.60" fill="rgba(0,160,190,0.08)"/>
<rect x="591.1" y="1537.3" width="6.07" height="103.7" fill="rgba(0,160,190,0.08)"/>
<rect x="521.4" y="1558.9" width="112.3" height="12.13" fill="rgba(0,160,190,0.01)"/>
<rect x="597.1" y="1537.3" width="13.13" height="103.7" fill="rgba(0,160,190,0.01)"/>
<rect x="521.4" y="1552.5" width="112.3" height="6.41" fill="rgba(0,160,190,0.14)"/>
<rect x="610.3" y="1537.3" width="6.94" height="103.7" fill="rgba(0,160,190,0.14)"/>
<rect x="521.4" y="1541.2" width="112.3" height="11.35" fill="rgba(0,160,190,0.11)"/>
<rect x="617.2" y="1537.3" width="12.29" height="103.7" fill="rgba(0,160,190,0.11)"/>
<rect x="521.4" y="1537.3" width="112.3" height="3.87" fill="rgba(0,160,190,0.08)"/>
<rect x="629.5" y="1537.3" width="4.19" height="103.7" fill="rgba(0,160,190,0.08)"/>
<path d="M521.4,1637.3h112.3M521.4,1631.0h112.3M521.4,1622.7h112.3M521.4,1615.0h112.3M521.4,1610.3h112.3M521.4,1588.2h112.3M521.4,1581.9h112.3M521.4,1571.1h112.3M521.4,1549.2h112.3M525.4,1537.3v103.7M532.2,1537.3v103.7M541.2,1537.3v103.7M549.6,1537.3v103.7M554.6,1537.3v103.7M578.6,1537.3v103.7M585.4,1537.3v103.7M597.1,1537.3v103.7M620.8,1537.3v103.7" stroke="rgb(0,160,190)" stroke-opacity="0.18" stroke-width="0.9" fill="none"/>
<path d="M521.4,1641.0h112.3M521.4,1624.7h112.3M521.4,1606.3h112.3M521.4,1602.2h112.3M521.4,1598.1h112.3M521.4,1592.9h112.3M521.4,1590.2h112.3M521.4,1586.6h112.3M521.4,1583.9h112.3M521.4,1579.2h112.3M521.4,1573.1h112.3M521.4,1551.2h112.3M521.4,1546.5h112.3M521.4,1544.5h112.3M521.4,1542.5h112.3M521.4,1537.8h112.3M521.4,1537.3v103.7M539.0,1537.3v103.7M559.0,1537.3v103.7M563.4,1537.3v103.7M567.8,1537.3v103.7M573.5,1537.3v103.7M576.4,1537.3v103.7M580.4,1537.3v103.7M583.2,1537.3v103.7M588.3,1537.3v103.7M594.9,1537.3v103.7M618.6,1537.3v103.7M623.7,1537.3v103.7M625.9,1537.3v103.7M628.1,1537.3v103.7M633.2,1537.3v103.7" stroke="rgb(0,160,190)" stroke-opacity="0.32" stroke-width="0.9" fill="none"/>
<path d="M521.4,1639.4h112.3M521.4,1634.7h112.3M521.4,1627.4h112.3M521.4,1620.7h112.3M521.4,1619.1h112.3M521.4,1617.0h112.3M521.4,1604.2h112.3M521.4,1600.2h112.3M521.4,1577.2h112.3M521.4,1557.9h112.3M521.4,1555.9h112.3M521.4,1553.8h112.3M523.2,1537.3v103.7M528.2,1537.3v103.7M536.1,1537.3v103.7M543.4,1537.3v103.7M545.2,1537.3v103.7M547.4,1537.3v103.7M561.2,1537.3v103.7M565.6,1537.3v103.7M590.5,1537.3v103.7M611.4,1537.3v103.7M613.6,1537.3v103.7M615.8,1537.3v103.7" stroke="rgb(0,160,190)" stroke-opacity="0.50" stroke-width="0.9" fill="none"/>
<rect x="633.7" y="1458.2" width="85.6" height="79.1" fill="rgba(0,160,190,0.05)"/>
<rect x="633.7" y="1531.9" width="85.6" height="5.43" fill="rgba(0,160,190,0.11)"/>
<rect x="633.7" y="1458.2" width="5.88" height="79.1" fill="rgba(0,160,190,0.11)"/>
<rect x="633.7" y="1527.5" width="85.6" height="4.35" fill="rgba(0,160,190,0.11)"/>
<rect x="639.6" y="1458.2" width="4.71" height="79.1" fill="rgba(0,160,190,0.11)"/>
<rect x="633.7" y="1522.2" width="85.6" height="5.30" fill="rgba(0,160,190,0.13)"/>
<rect x="644.3" y="1458.2" width="5.74" height="79.1" fill="rgba(0,160,190,0.13)"/>
<rect x="633.7" y="1515.1" width="85.6" height="7.16" fill="rgba(0,160,190,0.01)"/>
<rect x="650.0" y="1458.2" width="7.75" height="79.1" fill="rgba(0,160,190,0.01)"/>
<rect x="633.7" y="1508.4" width="85.6" height="6.62" fill="rgba(0,160,190,0.01)"/>
<rect x="657.8" y="1458.2" width="7.16" height="79.1" fill="rgba(0,160,190,0.01)"/>
<rect x="633.7" y="1499.9" width="85.6" height="8.54" fill="rgba(0,160,190,0.14)"/>
<rect x="664.9" y="1458.2" width="9.24" height="79.1" fill="rgba(0,160,190,0.14)"/>
<rect x="633.7" y="1497.0" width="85.6" height="2.90" fill="rgba(0,160,190,0.14)"/>
<rect x="674.2" y="1458.2" width="3.14" height="79.1" fill="rgba(0,160,190,0.14)"/>
<rect x="633.7" y="1487.7" width="85.6" height="9.31" fill="rgba(0,160,190,0.13)"/>
<rect x="677.3" y="1458.2" width="10.08" height="79.1" fill="rgba(0,160,190,0.13)"/>
<rect x="633.7" y="1483.9" width="85.6" height="3.77" fill="rgba(0,160,190,0.13)"/>
<rect x="687.4" y="1458.2" width="4.08" height="79.1" fill="rgba(0,160,190,0.13)"/>
<rect x="633.7" y="1481.1" width="85.6" height="2.81" fill="rgba(0,160,190,0.14)"/>
<rect x="691.5" y="1458.2" width="3.05" height="79.1" fill="rgba(0,160,190,0.14)"/>
<rect x="633.7" y="1472.1" width="85.6" height="9.01" fill="rgba(0,160,190,0.01)"/>
<rect x="694.5" y="1458.2" width="9.75" height="79.1" fill="rgba(0,160,190,0.01)"/>
<rect x="633.7" y="1465.4" width="85.6" height="6.72" fill="rgba(0,160,190,0.14)"/>
<rect x="704.3" y="1458.2" width="7.28" height="79.1" fill="rgba(0,160,190,0.14)"/>
<rect x="633.7" y="1458.2" width="85.6" height="7.16" fill="rgba(0,160,190,0.14)"/>
<rect x="711.6" y="1458.2" width="7.74" height="79.1" fill="rgba(0,160,190,0.14)"/>
<path d="M633.7,1505.2h85.6M633.7,1497.9h85.6M633.7,1491.8h85.6M633.7,1486.5h85.6M633.7,1465.1h85.6M633.7,1459.2h85.6M668.5,1458.2v79.1M676.4,1458.2v79.1M683.0,1458.2v79.1M688.7,1458.2v79.1M711.8,1458.2v79.1M718.2,1458.2v79.1" stroke="rgb(0,160,190)" stroke-opacity="0.18" stroke-width="0.9" fill="none"/>
<path d="M633.7,1537.3h85.6M633.7,1535.3h85.6M633.7,1533.2h85.6M633.7,1531.6h85.6M633.7,1529.6h85.6M633.7,1525.9h85.6M633.7,1506.8h85.6M633.7,1503.1h85.6M633.7,1499.5h85.6M633.7,1484.9h85.6M633.7,1469.4h85.6M633.7,1460.9h85.6M633.7,1458.2v79.1M635.9,1458.2v79.1M638.1,1458.2v79.1M639.9,1458.2v79.1M642.1,1458.2v79.1M646.0,1458.2v79.1M666.7,1458.2v79.1M670.7,1458.2v79.1M674.6,1458.2v79.1M690.5,1458.2v79.1M707.2,1458.2v79.1M716.4,1458.2v79.1" stroke="rgb(0,160,190)" stroke-opacity="0.32" stroke-width="0.9" fill="none"/>
<path d="M633.7,1527.5h85.6M633.7,1523.9h85.6M633.7,1501.1h85.6M633.7,1495.8h85.6M633.7,1493.8h85.6M633.7,1490.1h85.6M633.7,1488.1h85.6M633.7,1482.2h85.6M633.7,1471.4h85.6M633.7,1462.5h85.6M644.3,1458.2v79.1M648.2,1458.2v79.1M672.9,1458.2v79.1M678.6,1458.2v79.1M680.8,1458.2v79.1M684.7,1458.2v79.1M686.9,1458.2v79.1M693.3,1458.2v79.1M705.0,1458.2v79.1M714.7,1458.2v79.1" stroke="rgb(0,160,190)" stroke-opacity="0.50" stroke-width="0.9" fill="none"/>
<text class="s" x="75.8" y="2091.9" font-size="25.3">Chr 1</text>
<text class="s" x="188.2" y="2091.9" font-size="25.3">Chr 2</text>
<text class="s" x="284.9" y="2091.9" font-size="25.3">Chr 3</text>
<text class="s" x="382.0" y="2091.9" font-size="25.3">Chr 4</text>
<text class="s" x="480.4" y="2091.9" font-size="25.3">Chr 5</text>
<text class="s" x="567.7" y="2091.9" font-size="25.3">Chr 6</text>
<text class="s" x="654.6" y="2091.9" font-size="25.3">Chr 7</text>
<filter id="abcw" filterUnits="userSpaceOnUse" x="0" y="0" width="760" height="2109"><feTurbulence type="fractalNoise" baseFrequency="0.55" numOctaves="2" seed="4"/><feColorMatrix type="matrix" values="0 0 0 0 1 0 0 0 0 1 0 0 0 0 1 6 0 0 0 -3.0"/><feComposite in2="SourceAlpha" operator="in"/></filter>
<filter id="abcc" filterUnits="userSpaceOnUse" x="0" y="0" width="760" height="2109"><feTurbulence type="fractalNoise" baseFrequency="0.6" numOctaves="2" seed="9"/><feColorMatrix type="matrix" values="0 0 0 0 0 0 0 0 0 0.63 0 0 0 0 0.75 5 0 0 0 -3.5"/><feComposite in2="SourceAlpha" operator="in"/></filter>
<g filter="url(#abcc)"><rect x="90.0" y="588.5" width="95.3" height="94.1"/><rect x="185.3" y="509.0" width="77.7" height="79.5"/><rect x="263.0" y="441.0" width="67.0" height="68.0"/><rect x="330.0" y="372.0" width="67.0" height="69.0"/><rect x="397.4" y="299.6" width="71.1" height="72.4"/><rect x="469.3" y="245.7" width="51.7" height="52.9"/><rect x="521.5" y="194.2" width="49.9" height="51.5"/><rect x="572.0" y="136.9" width="56.2" height="56.2"/><rect x="628.8" y="87.7" width="47.2" height="48.6"/><rect x="676.0" y="43.6" width="43.6" height="43.5"/><rect x="79.1" y="1348.8" width="48.0" height="48.0"/><rect x="127.1" y="1290.6" width="57.3" height="58.2"/><rect x="184.4" y="1222.6" width="67.3" height="68.0"/><rect x="251.7" y="1170.1" width="51.6" height="52.5"/><rect x="303.3" y="1118.1" width="52.1" height="52.0"/><rect x="355.4" y="1064.0" width="52.8" height="54.1"/><rect x="408.2" y="1014.0" width="49.6" height="50.0"/><rect x="457.8" y="967.2" width="45.5" height="46.8"/><rect x="503.3" y="892.6" width="74.6" height="74.6"/><rect x="577.9" y="854.5" width="36.9" height="38.1"/><rect x="614.8" y="806.6" width="48.0" height="47.9"/><rect x="662.8" y="773.8" width="31.5" height="32.8"/><rect x="694.3" y="727.5" width="46.4" height="46.3"/><rect x="66.4" y="1964.8" width="102.5" height="95.1"/><rect x="170.1" y="1894.7" width="75.0" height="70.1"/><rect x="245.1" y="1796.8" width="106.6" height="97.9"/><rect x="351.7" y="1734.0" width="68.0" height="62.8"/><rect x="419.7" y="1641.0" width="101.7" height="93.0"/><rect x="521.4" y="1537.3" width="112.3" height="103.7"/><rect x="633.7" y="1458.2" width="85.6" height="79.1"/></g>
<g filter="url(#abcw)"><rect x="90.0" y="588.5" width="95.3" height="94.1"/><rect x="185.3" y="509.0" width="77.7" height="79.5"/><rect x="263.0" y="441.0" width="67.0" height="68.0"/><rect x="330.0" y="372.0" width="67.0" height="69.0"/><rect x="397.4" y="299.6" width="71.1" height="72.4"/><rect x="469.3" y="245.7" width="51.7" height="52.9"/><rect x="521.5" y="194.2" width="49.9" height="51.5"/><rect x="572.0" y="136.9" width="56.2" height="56.2"/><rect x="628.8" y="87.7" width="47.2" height="48.6"/><rect x="676.0" y="43.6" width="43.6" height="43.5"/><rect x="79.1" y="1348.8" width="48.0" height="48.0"/><rect x="127.1" y="1290.6" width="57.3" height="58.2"/><rect x="184.4" y="1222.6" width="67.3" height="68.0"/><rect x="251.7" y="1170.1" width="51.6" height="52.5"/><rect x="303.3" y="1118.1" width="52.1" height="52.0"/><rect x="355.4" y="1064.0" width="52.8" height="54.1"/><rect x="408.2" y="1014.0" width="49.6" height="50.0"/><rect x="457.8" y="967.2" width="45.5" height="46.8"/><rect x="503.3" y="892.6" width="74.6" height="74.6"/><rect x="577.9" y="854.5" width="36.9" height="38.1"/><rect x="614.8" y="806.6" width="48.0" height="47.9"/><rect x="662.8" y="773.8" width="31.5" height="32.8"/><rect x="694.3" y="727.5" width="46.4" height="46.3"/><rect x="66.4" y="1964.8" width="102.5" height="95.1"/><rect x="170.1" y="1894.7" width="75.0" height="70.1"/><rect x="245.1" y="1796.8" width="106.6" height="97.9"/><rect x="351.7" y="1734.0" width="68.0" height="62.8"/><rect x="419.7" y="1641.0" width="101.7" height="93.0"/><rect x="521.4" y="1537.3" width="112.3" height="103.7"/><rect x="633.7" y="1458.2" width="85.6" height="79.1"/></g>
<text class="s" x="752.0" y="52.0" font-size="43">D</text>
<text class="s" x="794.8" y="67.3" font-size="31.5" textLength="143.0" lengthAdjust="spacingAndGlyphs">Crosslink</text>
<text class="s" x="790.6" y="105.0" font-size="31.5" textLength="151.0" lengthAdjust="spacingAndGlyphs">chromatin</text>
<text class="s" x="1019.5" y="69.4" font-size="31.5" textLength="143.5" lengthAdjust="spacingAndGlyphs">Digestion</text>
<text class="s" x="1038.3" y="105.8" font-size="31.5" textLength="106.5" lengthAdjust="spacingAndGlyphs">(DpnII)</text>
<text class="s" x="1303.8" y="86.2" font-size="31.5" textLength="121.5" lengthAdjust="spacingAndGlyphs">Ligation</text>
<text class="s" x="1585.3" y="66.7" font-size="31.5" textLength="127.0" lengthAdjust="spacingAndGlyphs">Reverse</text>
<text class="s" x="1558.6" y="103.2" font-size="31.5" textLength="180.0" lengthAdjust="spacingAndGlyphs">crosslinking</text>
<text class="s" x="1855.6" y="72.8" font-size="31.5" textLength="185.5" lengthAdjust="spacingAndGlyphs">Paired-ends</text>
<text class="s" x="1873.2" y="110.9" font-size="31.5" textLength="149.5" lengthAdjust="spacingAndGlyphs">sequence</text>
<clipPath id="xclip"><rect x="790" y="100" width="130" height="171.2"/></clipPath>
<g clip-path="url(#xclip)">
<path d="M816.8,131.0 C819.6,133.5 829.2,141.0 833.7,146.2 C838.2,151.4 841.1,156.7 843.8,162.2 C846.5,167.7 848.6,173.5 849.7,179.0 C850.8,184.5 850.5,192.3 850.6,195.0" fill="none" stroke="#4472c4" stroke-width="7"/>
<path d="M849.5,204.0 C849.3,205.5 849.2,208.3 848.4,213.0 C847.6,217.7 846.5,226.0 844.5,232.0 C842.5,238.0 840.2,242.3 836.2,249.0 C832.2,255.7 823.1,268.2 820.5,272.0" fill="none" stroke="#4472c4" stroke-width="7"/>
<path d="M898.1,126.0 C896.2,128.1 890.7,133.8 886.7,138.6 C882.7,143.4 877.5,148.7 874.1,154.6 C870.7,160.5 868.2,167.3 866.5,174.0 C864.8,180.7 864.4,191.5 864.0,195.0" fill="none" stroke="#e34a5f" stroke-width="7"/>
<path d="M864.3,204.0 C864.4,205.3 863.9,207.1 864.8,212.0 C865.7,216.9 867.2,226.9 869.5,233.5 C871.8,240.1 874.3,245.0 878.3,251.4 C882.3,257.8 890.8,268.6 893.3,272.0" fill="none" stroke="#e34a5f" stroke-width="7"/>
</g>
<line x1="828.8" y1="149.4" x2="837.8" y2="143.0" stroke="#333" stroke-width="1.2"/>
<line x1="830.6" y1="246.9" x2="840.2" y2="252.4" stroke="#333" stroke-width="1.2"/>
<line x1="881.8" y1="135.8" x2="890.8" y2="142.2" stroke="#333" stroke-width="1.2"/>
<line x1="872.9" y1="254.0" x2="882.1" y2="248.0" stroke="#333" stroke-width="1.2"/>
<ellipse cx="856.7" cy="199.7" rx="18.7" ry="13.1" fill="#7f7f7f"/>
<path d="M1068.9,147.1 C1070.5,149.6 1076.1,157.4 1078.6,162.1 C1081.0,166.8 1082.5,170.8 1083.6,175.0 C1084.7,179.2 1084.7,183.0 1085.0,187.1 C1085.3,191.2 1085.7,195.4 1085.5,199.6 C1085.3,203.8 1084.5,207.3 1083.6,212.1 C1082.7,216.9 1081.4,223.5 1080.0,228.6 C1078.6,233.7 1076.5,238.8 1075.0,242.9 C1073.5,247.0 1071.8,251.2 1071.1,252.9" fill="none" stroke="#4472c4" stroke-width="6.6"/>
<path d="M1120.7,140.0 C1118.9,142.5 1113.1,149.8 1110.0,155.0 C1106.9,160.2 1103.9,166.1 1102.1,171.4 C1100.3,176.8 1099.8,182.4 1099.3,187.1 C1098.8,191.8 1098.8,195.4 1098.8,199.6 C1098.8,203.8 1098.6,207.3 1099.3,212.1 C1100.0,216.9 1101.6,223.8 1102.9,228.6 C1104.2,233.4 1105.6,236.6 1107.1,240.7 C1108.6,244.8 1111.3,250.9 1112.1,252.9" fill="none" stroke="#e34a5f" stroke-width="6.6"/>
<line x1="1073.3" y1="144.3" x2="1064.5" y2="149.9" stroke="#444" stroke-width="1.3"/>
<line x1="1066.3" y1="251.0" x2="1075.9" y2="254.8" stroke="#444" stroke-width="1.3"/>
<line x1="1124.9" y1="143.0" x2="1116.5" y2="137.0" stroke="#444" stroke-width="1.3"/>
<line x1="1107.3" y1="254.9" x2="1116.9" y2="250.9" stroke="#444" stroke-width="1.3"/>
<ellipse cx="1091.8" cy="199.6" rx="18.9" ry="13.2" fill="#7f7f7f"/>
<line x1="955.7" y1="198.5" x2="1034.8" y2="197.5" stroke="#444" stroke-width="1.3"/>
<line x1="1034.8" y1="197.5" x2="1026.5" y2="201.0" stroke="#444" stroke-width="1.3"/>
<line x1="1034.8" y1="197.5" x2="1026.4" y2="194.2" stroke="#444" stroke-width="1.3"/>
<line x1="1144.7" y1="198.5" x2="1223.8" y2="197.5" stroke="#444" stroke-width="1.3"/>
<line x1="1223.8" y1="197.5" x2="1215.5" y2="201.0" stroke="#444" stroke-width="1.3"/>
<line x1="1223.8" y1="197.5" x2="1215.4" y2="194.2" stroke="#444" stroke-width="1.3"/>
<line x1="1463.8" y1="197.2" x2="1542.3" y2="196.4" stroke="#444" stroke-width="1.3"/>
<line x1="1542.3" y1="196.4" x2="1534.0" y2="199.9" stroke="#444" stroke-width="1.3"/>
<line x1="1542.3" y1="196.4" x2="1533.9" y2="193.1" stroke="#444" stroke-width="1.3"/>
<line x1="1765.6" y1="197.8" x2="1843.8" y2="197.2" stroke="#444" stroke-width="1.3"/>
<line x1="1843.8" y1="197.2" x2="1835.5" y2="200.6" stroke="#444" stroke-width="1.3"/>
<line x1="1843.8" y1="197.2" x2="1835.4" y2="193.9" stroke="#444" stroke-width="1.3"/>
<path d="M1308.1,148.0 A36.2,28.8 0 0 0 1308.1,205.6" fill="none" stroke="#e34a5f" stroke-width="7"/>
<path d="M1308.1,148.0 A36.2,28.8 0 0 1 1308.1,205.6" fill="none" stroke="#4472c4" stroke-width="7"/>
<line x1="1309.6" y1="142.0" x2="1309.6" y2="153.0" stroke="#222" stroke-width="1.2"/>
<path d="M1310.2,202.0 A36.4,29.2 0 0 0 1310.2,260.4" fill="none" stroke="#e34a5f" stroke-width="7"/>
<path d="M1310.2,202.0 A36.4,29.2 0 0 1 1310.2,260.4" fill="none" stroke="#4472c4" stroke-width="7"/>
<line x1="1310.2" y1="255.4" x2="1310.2" y2="266.4" stroke="#222" stroke-width="1.2"/>
<ellipse cx="1307.9" cy="200.4" rx="18.7" ry="13.4" fill="#7f7f7f"/>
<path d="M1404.5,148.0 A36.2,28.8 0 0 0 1404.5,205.6" fill="none" stroke="#e34a5f" stroke-width="7"/>
<path d="M1404.5,148.0 A36.2,28.8 0 0 1 1404.5,205.6" fill="none" stroke="#4472c4" stroke-width="7"/>
<line x1="1406.0" y1="142.0" x2="1406.0" y2="153.0" stroke="#222" stroke-width="1.2"/>
<path d="M1406.6,202.0 A36.4,29.2 0 0 0 1406.6,260.4" fill="none" stroke="#e34a5f" stroke-width="7"/>
<path d="M1406.6,202.0 A36.4,29.2 0 0 1 1406.6,260.4" fill="none" stroke="#4472c4" stroke-width="7"/>
<line x1="1406.6" y1="255.4" x2="1406.6" y2="266.4" stroke="#222" stroke-width="1.2"/>
<ellipse cx="1404.3" cy="200.4" rx="18.7" ry="13.4" fill="#7f7f7f"/>
<rect x="1586.0" y="157.1" width="66.0" height="6.8" fill="#4472c4"/>
<rect x="1652.0" y="157.1" width="66.5" height="6.8" fill="#e34a5f"/>
<line x1="1652.0" y1="155.0" x2="1652.0" y2="166.0" stroke="#222" stroke-width="1.2"/>
<rect x="1888.4" y="157.1" width="66.2" height="6.8" fill="#4472c4"/>
<rect x="1954.6" y="157.1" width="65.8" height="6.8" fill="#e34a5f"/>
<line x1="1954.6" y1="155.0" x2="1954.6" y2="166.0" stroke="#222" stroke-width="1.2"/>
<rect x="1586.0" y="183.8" width="66.0" height="6.8" fill="#4472c4"/>
<rect x="1652.0" y="183.8" width="66.5" height="6.8" fill="#e34a5f"/>
<line x1="1652.0" y1="181.7" x2="1652.0" y2="192.7" stroke="#222" stroke-width="1.2"/>
<rect x="1888.4" y="183.8" width="66.2" height="6.8" fill="#4472c4"/>
<rect x="1954.6" y="183.8" width="65.8" height="6.8" fill="#e34a5f"/>
<line x1="1954.6" y1="181.7" x2="1954.6" y2="192.7" stroke="#222" stroke-width="1.2"/>
<rect x="1586.0" y="211.4" width="66.0" height="6.8" fill="#4472c4"/>
<rect x="1652.0" y="211.4" width="66.5" height="6.8" fill="#e34a5f"/>
<line x1="1652.0" y1="209.3" x2="1652.0" y2="220.3" stroke="#222" stroke-width="1.2"/>
<rect x="1888.4" y="211.4" width="66.2" height="6.8" fill="#4472c4"/>
<rect x="1954.6" y="211.4" width="65.8" height="6.8" fill="#e34a5f"/>
<line x1="1954.6" y1="209.3" x2="1954.6" y2="220.3" stroke="#222" stroke-width="1.2"/>
<rect x="1586.0" y="239.5" width="66.0" height="6.8" fill="#4472c4"/>
<rect x="1652.0" y="239.5" width="66.5" height="6.8" fill="#e34a5f"/>
<line x1="1652.0" y1="237.4" x2="1652.0" y2="248.4" stroke="#222" stroke-width="1.2"/>
<rect x="1888.4" y="239.5" width="66.2" height="6.8" fill="#4472c4"/>
<rect x="1954.6" y="239.5" width="65.8" height="6.8" fill="#e34a5f"/>
<line x1="1954.6" y1="237.4" x2="1954.6" y2="248.4" stroke="#222" stroke-width="1.2"/>
<line x1="1915.0" y1="149.5" x2="1948.0" y2="149.5" stroke="#4472c4" stroke-width="1.0"/>
<line x1="1948.0" y1="149.5" x2="1941.8" y2="152.8" stroke="#4472c4" stroke-width="1.0"/>
<line x1="1948.0" y1="149.5" x2="1941.8" y2="146.2" stroke="#4472c4" stroke-width="1.0"/>
<line x1="1915.0" y1="178.8" x2="1948.0" y2="178.8" stroke="#4472c4" stroke-width="1.0"/>
<line x1="1948.0" y1="178.8" x2="1941.8" y2="182.1" stroke="#4472c4" stroke-width="1.0"/>
<line x1="1948.0" y1="178.8" x2="1941.8" y2="175.5" stroke="#4472c4" stroke-width="1.0"/>
<line x1="1915.0" y1="205.5" x2="1948.0" y2="205.5" stroke="#4472c4" stroke-width="1.0"/>
<line x1="1948.0" y1="205.5" x2="1941.8" y2="208.8" stroke="#4472c4" stroke-width="1.0"/>
<line x1="1948.0" y1="205.5" x2="1941.8" y2="202.2" stroke="#4472c4" stroke-width="1.0"/>
<line x1="1915.0" y1="232.7" x2="1948.0" y2="232.7" stroke="#4472c4" stroke-width="1.0"/>
<line x1="1948.0" y1="232.7" x2="1941.8" y2="236.0" stroke="#4472c4" stroke-width="1.0"/>
<line x1="1948.0" y1="232.7" x2="1941.8" y2="229.4" stroke="#4472c4" stroke-width="1.0"/>
<line x1="1991.5" y1="169.0" x2="1961.8" y2="169.0" stroke="#4472c4" stroke-width="1.0"/>
<line x1="1961.8" y1="169.0" x2="1968.0" y2="165.7" stroke="#4472c4" stroke-width="1.0"/>
<line x1="1961.8" y1="169.0" x2="1968.0" y2="172.3" stroke="#4472c4" stroke-width="1.0"/>
<line x1="1991.5" y1="196.2" x2="1961.8" y2="196.2" stroke="#4472c4" stroke-width="1.0"/>
<line x1="1961.8" y1="196.2" x2="1968.0" y2="192.9" stroke="#4472c4" stroke-width="1.0"/>
<line x1="1961.8" y1="196.2" x2="1968.0" y2="199.5" stroke="#4472c4" stroke-width="1.0"/>
<line x1="1991.5" y1="224.2" x2="1961.8" y2="224.2" stroke="#4472c4" stroke-width="1.0"/>
<line x1="1961.8" y1="224.2" x2="1968.0" y2="220.9" stroke="#4472c4" stroke-width="1.0"/>
<line x1="1961.8" y1="224.2" x2="1968.0" y2="227.5" stroke="#4472c4" stroke-width="1.0"/>
<line x1="1991.5" y1="253.0" x2="1961.8" y2="253.0" stroke="#4472c4" stroke-width="1.0"/>
<line x1="1961.8" y1="253.0" x2="1968.0" y2="249.7" stroke="#4472c4" stroke-width="1.0"/>
<line x1="1961.8" y1="253.0" x2="1968.0" y2="256.3" stroke="#4472c4" stroke-width="1.0"/>
<text class="s" x="753.8" y="340.0" font-size="43">E</text>
<rect x="870.5" y="286.8" width="461.9" height="367.0" fill="rgb(51,143,196)"/>
<filter id="esp1" filterUnits="userSpaceOnUse" x="870.5" y="286.8" width="461.9" height="367.0"><feTurbulence type="fractalNoise" baseFrequency="0.45 0.6" numOctaves="2" seed="3"/><feColorMatrix type="matrix" values="0 0 0 0 1 0 0 0 0 1 0 0 0 0 1 10 0 0 0 -6.000"/></filter>
<rect x="870.5" y="286.8" width="461.9" height="367.0" fill="#fff" filter="url(#esp1)"/>
<filter id="esp2" filterUnits="userSpaceOnUse" x="1244" y="286.8" width="88.4" height="367.0"><feTurbulence type="fractalNoise" baseFrequency="0.5 0.4" numOctaves="2" seed="8"/><feColorMatrix type="matrix" values="0 0 0 0 1 0 0 0 0 1 0 0 0 0 1 8 0 0 0 -4.400"/></filter>
<rect x="1244" y="286.8" width="88.4" height="367.0" fill="#fff" filter="url(#esp2)"/>
<filter id="eband" filterUnits="userSpaceOnUse" x="870.5" y="286.8" width="461.9" height="367.0"><feTurbulence type="fractalNoise" baseFrequency="0.5 0.5" numOctaves="2" seed="21"/><feColorMatrix type="matrix" values="0 0 0 0 1 0 0 0 0 1 0 0 0 0 1 9 0 0 0 -3.7"/><feComposite in2="SourceAlpha" operator="in"/></filter>
<g filter="url(#eband)">
<rect x="870.5" y="291.3" width="461.9" height="7.1" fill="#000"/>
<rect x="870.5" y="306.6" width="461.9" height="4.1" fill="#000"/>
<rect x="870.5" y="314.8" width="461.9" height="7.5" fill="#000"/>
<rect x="870.5" y="345.6" width="461.9" height="2.7" fill="#000"/>
<rect x="870.5" y="354.0" width="461.9" height="2.8" fill="#000"/>
<rect x="870.5" y="389.3" width="461.9" height="2.7" fill="#000"/>
<rect x="870.5" y="408.5" width="461.9" height="9.7" fill="#000"/>
<rect x="870.5" y="439.4" width="461.9" height="2.8" fill="#000"/>
<rect x="870.5" y="593.5" width="461.9" height="3.0" fill="#000"/>
<rect x="870.5" y="650.5" width="461.9" height="3.3" fill="#000"/>
<rect x="870.5" y="286.8" width="5.5" height="367.0" fill="#000"/>
<rect x="1137.0" y="286.8" width="7.0" height="367.0" fill="#000"/>
<rect x="1167.0" y="286.8" width="12.0" height="367.0" fill="#000"/>
<rect x="1243.5" y="286.8" width="4.0" height="367.0" fill="#000"/>
<rect x="1281.0" y="286.8" width="20.0" height="367.0" fill="#000"/>
<rect x="1314.0" y="286.8" width="13.0" height="367.0" fill="#000"/>
</g>
<rect x="870.5" y="306.6" width="461.9" height="1.9" fill="#fff" opacity="0.8"/>
<rect x="870.5" y="341.8" width="461.9" height="1.2" fill="#fff" opacity="0.6"/>
<rect x="870.5" y="354.0" width="461.9" height="1.5" fill="#fff" opacity="0.8"/>
<rect x="870.5" y="408.5" width="461.9" height="2.0" fill="#fff" opacity="0.7"/>
<rect x="870.5" y="479.5" width="461.9" height="1.0" fill="#fff" opacity="0.35"/>
<rect x="870.5" y="497.5" width="461.9" height="1.0" fill="#fff" opacity="0.35"/>
<rect x="870.5" y="513.5" width="461.9" height="1.3" fill="#fff" opacity="0.4"/>
<rect x="870.5" y="543.0" width="461.9" height="1.2" fill="#fff" opacity="0.35"/>
<rect x="870.5" y="569.0" width="461.9" height="1.2" fill="#fff" opacity="0.35"/>
<rect x="870.5" y="593.5" width="461.9" height="1.5" fill="#fff" opacity="0.6"/>
<rect x="942.3" y="286.8" width="2.0" height="367.0" fill="#fff" opacity="0.95"/>
<rect x="956.0" y="286.8" width="1.0" height="367.0" fill="#fff" opacity="0.35"/>
<rect x="974.3" y="286.8" width="1.0" height="367.0" fill="#fff" opacity="0.35"/>
<rect x="1007.0" y="286.8" width="1.5" height="367.0" fill="#fff" opacity="0.45"/>
<rect x="1042.8" y="286.8" width="1.5" height="367.0" fill="#fff" opacity="0.45"/>
<rect x="1145.5" y="286.8" width="1.3" height="367.0" fill="#fff" opacity="0.45"/>
<rect x="1197.5" y="286.8" width="1.3" height="367.0" fill="#fff" opacity="0.4"/>
<rect x="1262.5" y="286.8" width="1.5" height="367.0" fill="#fff" opacity="0.45"/>
<line x1="870.5" y1="653.8" x2="1332.4" y2="286.8" stroke="#2a7fb5" stroke-width="1" opacity="0.5"/>
<rect x="870.5" y="286.8" width="461.9" height="367.0" fill="none" stroke="#222" stroke-width="1.3"/>
<text class="s" x="864.9" y="302.6" font-size="26" text-anchor="end" textLength="67.0" lengthAdjust="spacingAndGlyphs">20Mb</text>
<text class="s" x="860.0" y="681.2" font-size="25">0</text>
<text class="s" x="1041.5" y="687.0" font-size="33" textLength="117.0" lengthAdjust="spacingAndGlyphs">Gene A</text>
<text class="s" x="1292.0" y="681.0" font-size="26" textLength="68.5" lengthAdjust="spacingAndGlyphs">20Mb</text>
<text class="s" font-size="36" transform="translate(846.5,530) rotate(-90)" textLength="116" lengthAdjust="spacingAndGlyphs">Gene B</text>
<text class="s" x="1378.5" y="336.0" font-size="43">G</text>
<rect x="1542.8" y="285.3" width="477.4" height="368.8" fill="#fff"/>
<path d="M1542.8,286.53h477.4" stroke="rgb(51,143,196)" stroke-width="2.46" stroke-dasharray="4.6,4.6,9.2,2.3,2.3,2.3,4.6,4.6,2.3,9.2,9.2,4.6,6.9,2.3,2.3,23,4.6,9.2,2.3,4.6,4.6,2.3,2.3,2.3,4.6,2.3,4.6,6.9,4.6,2.3,2.3,2.3,11.5,4.6,6.9,6.9,4.6,2.3,2.3,4.6,4.6,4.6,2.3,4.6,4.6,2.3,11.5,11.5,2.3,20.7,2.3,16.1,2.3,4.6,11.5,4.6,2.3,2.3,6.9,2.3,2.3,6.9,4.6,4.6,13.8,25.2,2.3,13.8,2.3,4.6,2.3,4.6,2.3,2.3,4.6,2.3,4.6,2.3,2.3,11.5,2.3,4.6,2.3,2.3,4.6,2.3,4.6,4.6,2.3,4.6"/>
<path d="M1542.8,288.83h477.4" stroke="rgb(51,143,196)" stroke-width="2.46" stroke-dasharray="4.6,2.3,13.8,2.3,6.9,4.6,2.3,9.2,2.3,6.9,4.6,2.3,2.3,9.2,2.3,6.9,4.6,6.9,9.2,11.5,4.6,4.6,4.6,2.3,2.3,2.3,6.9,2.3,2.3,4.6,4.6,4.6,6.9,2.3,9.2,2.3,2.3,2.3,4.6,2.3,4.6,4.6,2.3,2.3,2.3,4.6,2.3,2.3,2.3,6.9,2.3,2.3,2.3,2.3,2.3,4.6,4.6,4.6,4.6,11.5,4.6,6.9,2.3,2.3,2.3,9.2,4.6,2.3,4.6,4.6,6.9,4.6,4.6,2.3,2.3,2.3,2.3,6.9,4.6,45.9,2.3,6.9,2.3,2.3,6.9,4.6,6.9,4.6,4.6,9.2,2.3,2.3,6.9,4.6,2.3,4.6,2.3,4.6,2.3,0"/>
<path d="M1542.8,291.14h477.4" stroke="rgb(51,143,196)" stroke-width="2.46" stroke-dasharray="0,9.2,2.3,20.7,2.3,39,2.3,6.9,2.3,4.6,2.3,20.7,2.3,18.4,2.3,11.5,2.3,11.5,2.3,11.5,2.3,45.9,2.3,2.3,2.3,13.8,2.3,9.2,2.3,20.7,2.3,13.8,2.3,6.9,2.3,48.2,2.3,64.3,4.6,23,2.3,25.2,2.3,0"/>
<path d="M1542.8,293.44h477.4" stroke="rgb(51,143,196)" stroke-width="2.46" stroke-dasharray="0,2.3,2.3,2.3,9.2,6.9,2.3,6.9,4.6,9.2,2.3,2.3,4.6,16.1,4.6,2.3,6.9,6.9,9.2,13.8,2.3,6.9,2.3,2.3,4.6,2.3,6.9,2.3,2.3,4.6,11.5,2.3,2.3,6.9,6.9,11.5,4.6,4.6,2.3,2.3,2.3,2.3,4.6,2.3,2.3,6.9,2.3,6.9,4.6,4.6,2.3,20.7,2.3,4.6,2.3,2.3,2.3,2.3,2.3,4.6,2.3,2.3,4.6,2.3,2.3,4.6,2.3,2.3,4.6,4.6,4.6,2.3,2.3,2.3,2.3,4.6,4.6,4.6,4.6,39,4.6,4.6,2.3,4.6,13.8,2.3,2.3,4.6,2.3,9.2,2.3,4.6,9.2,2.3,2.3,2.3,2.3,6.9"/>
<path d="M1542.8,295.75h477.4" stroke="rgb(51,143,196)" stroke-width="2.46" stroke-dasharray="4.6,2.3,2.3,2.3,4.6,4.6,4.6,2.3,2.3,4.6,2.3,6.9,4.6,6.9,4.6,2.3,4.6,2.3,2.3,6.9,4.6,2.3,2.3,11.5,2.3,13.8,2.3,4.6,2.3,2.3,6.9,6.9,2.3,2.3,2.3,2.3,13.8,6.9,4.6,2.3,2.3,6.9,4.6,2.3,2.3,6.9,13.8,2.3,11.5,2.3,2.3,4.6,2.3,2.3,2.3,9.2,2.3,4.6,6.9,2.3,2.3,11.5,2.3,9.2,9.2,2.3,4.6,2.3,13.8,2.3,6.9,4.6,2.3,2.3,2.3,2.3,4.6,2.3,2.3,2.3,2.3,6.9,2.3,2.3,2.3,34.4,6.9,4.6,2.3,2.3,2.3,2.3,2.3,9.2,2.3,4.6,6.9,2.3,4.6,2.3,2.3,2.3,2.3,2.3"/>
<path d="M1542.8,298.05h477.4" stroke="rgb(51,143,196)" stroke-width="2.46" stroke-dasharray="0,80.3,2.3,52.8,2.3,23,2.3,2.3,4.6,11.5,2.3,52.8,2.3,18.4,4.6,4.6,2.3,48.2,2.3,2.3,4.6,9.2,2.3,4.6,2.3,34.4,2.3,27.5,2.3,25.2,2.3,20.7,2.3,16.1"/>
<path d="M1542.8,300.36h477.4" stroke="rgb(51,143,196)" stroke-width="2.46" stroke-dasharray="2.3,4.6,6.9,2.3,13.8,4.6,2.3,11.5,2.3,2.3,6.9,2.3,6.9,11.5,2.3,13.8,2.3,9.2,2.3,11.5,2.3,2.3,2.3,4.6,2.3,2.3,4.6,2.3,11.5,2.3,4.6,13.8,9.2,6.9,4.6,9.2,2.3,11.5,2.3,2.3,9.2,2.3,2.3,4.6,4.6,4.6,4.6,4.6,2.3,9.2,4.6,2.3,2.3,2.3,2.3,11.5,2.3,2.3,2.3,2.3,2.3,9.2,2.3,2.3,2.3,2.3,9.2,6.9,2.3,4.6,4.6,6.9,2.3,11.5,2.3,20.7,2.3,2.3,2.3,4.6,2.3,11.5,2.3,18.4,2.3,2.3,9.2,2.3,4.6,6.9,2.3,2.3"/>
<path d="M1542.8,302.66h477.4" stroke="rgb(51,143,196)" stroke-width="2.46" stroke-dasharray="0,4.6,6.9,6.9,11.5,2.3,6.9,4.6,6.9,2.3,13.8,13.8,2.3,9.2,6.9,9.2,4.6,2.3,2.3,6.9,11.5,2.3,4.6,6.9,4.6,2.3,4.6,2.3,4.6,4.6,9.2,2.3,2.3,2.3,2.3,2.3,4.6,2.3,4.6,4.6,6.9,2.3,2.3,4.6,2.3,2.3,4.6,4.6,2.3,2.3,2.3,2.3,9.2,13.8,2.3,6.9,2.3,11.5,6.9,2.3,4.6,6.9,2.3,2.3,2.3,6.9,2.3,2.3,2.3,6.9,6.9,2.3,4.6,6.9,2.3,2.3,2.3,6.9,2.3,13.8,4.6,6.9,2.3,6.9,2.3,2.3,2.3,2.3,4.6,6.9,2.3,9.2,2.3,4.6,2.3,2.3,2.3,4.6,2.3,2.3,2.3,2.3,2.3,2.3"/>
<path d="M1542.8,304.97h477.4" stroke="rgb(51,143,196)" stroke-width="2.46" stroke-dasharray="4.6,6.9,6.9,2.3,4.6,2.3,2.3,2.3,4.6,11.5,2.3,2.3,4.6,4.6,2.3,27.5,9.2,2.3,2.3,2.3,2.3,4.6,2.3,4.6,2.3,4.6,4.6,2.3,2.3,6.9,4.6,2.3,2.3,2.3,6.9,9.2,4.6,2.3,2.3,4.6,2.3,2.3,6.9,2.3,2.3,2.3,2.3,2.3,6.9,9.2,9.2,2.3,4.6,4.6,2.3,2.3,6.9,4.6,2.3,20.7,2.3,9.2,2.3,2.3,4.6,2.3,4.6,4.6,4.6,4.6,4.6,4.6,4.6,6.9,9.2,16.1,2.3,2.3,2.3,16.1,2.3,6.9,2.3,4.6,2.3,6.9,4.6,20.7,2.3,6.9,2.3,4.6,4.6,2.3,2.3,2.3,4.6,0"/>
<path d="M1542.8,307.27h477.4" stroke="rgb(51,143,196)" stroke-width="2.46" stroke-dasharray="4.6,2.3,4.6,6.9,2.3,2.3,2.3,6.9,2.3,11.5,6.9,2.3,11.5,2.3,2.3,2.3,2.3,4.6,2.3,2.3,2.3,2.3,4.6,4.6,2.3,2.3,2.3,2.3,2.3,11.5,2.3,6.9,2.3,2.3,6.9,4.6,6.9,2.3,2.3,2.3,6.9,2.3,4.6,2.3,4.6,11.5,4.6,2.3,2.3,11.5,4.6,2.3,4.6,2.3,2.3,2.3,2.3,2.3,4.6,2.3,4.6,4.6,6.9,2.3,2.3,4.6,9.2,6.9,4.6,2.3,2.3,4.6,2.3,2.3,2.3,2.3,2.3,4.6,4.6,2.3,9.2,20.7,2.3,9.2,2.3,2.3,2.3,25.2,2.3,13.8,2.3,9.2,2.3,9.2,4.6,13.8,6.9,9.2,2.3,4.6,2.3,0"/>
<path d="M1542.8,309.58h477.4" stroke="rgb(51,143,196)" stroke-width="2.46" stroke-dasharray="0,18.4,2.3,20.7,4.6,52.8,2.3,25.2,2.3,6.9,4.6,25.2,2.3,4.6,2.3,2.3,4.6,121.6,2.3,20.7,2.3,89.5,2.3,18.4,2.3,20.7,2.3,11.5,2.3,0"/>
<path d="M1542.8,311.88h477.4" stroke="rgb(51,143,196)" stroke-width="2.46" stroke-dasharray="0,82.6,2.3,2.3,2.3,6.9,4.6,9.2,2.3,2.3,2.3,32.1,2.3,6.9,2.3,43.6,2.3,2.3,2.3,36.7,2.3,18.4,2.3,2.3,2.3,45.9,2.3,6.9,2.3,9.2,2.3,11.5,4.6,6.9,2.3,23,2.3,27.5,2.3,25.2,2.3,6.9,4.6,13.8"/>
<path d="M1542.8,314.19h477.4" stroke="rgb(51,143,196)" stroke-width="2.46" stroke-dasharray="0,18.4,2.3,2.3,2.3,16.1,2.3,6.9,4.6,6.9,2.3,6.9,2.3,34.4,2.3,6.9,2.3,25.2,2.3,66.6,2.3,36.7,6.9,9.2,2.3,43.6,2.3,13.8,6.9,13.8,2.3,2.3,2.3,2.3,2.3,45.9,2.3,11.5,2.3,36.7,2.3,2.3,2.3,9.2"/>
<path d="M1542.8,316.49h477.4" stroke="rgb(51,143,196)" stroke-width="2.46" stroke-dasharray="0,16.1,2.3,25.2,2.3,11.5,2.3,11.5,2.3,32.1,2.3,165.3,2.3,18.4,2.3,6.9,2.3,80.3,2.3,25.2,2.3,43.6,2.3,16.1"/>
<path d="M1542.8,318.80h477.4" stroke="rgb(51,143,196)" stroke-width="2.46" stroke-dasharray="0,6.9,9.2,4.6,9.2,16.1,2.3,4.6,2.3,2.3,13.8,6.9,4.6,11.5,9.2,9.2,6.9,6.9,6.9,2.3,2.3,11.5,2.3,2.3,2.3,2.3,6.9,4.6,2.3,4.6,6.9,11.5,2.3,4.6,2.3,2.3,4.6,2.3,11.5,2.3,6.9,2.3,4.6,2.3,4.6,2.3,2.3,2.3,2.3,4.6,2.3,4.6,6.9,20.7,4.6,4.6,2.3,2.3,2.3,4.6,6.9,2.3,6.9,2.3,2.3,6.9,4.6,9.2,2.3,11.5,2.3,2.3,2.3,16.1,2.3,6.9,2.3,11.5,6.9,9.2,4.6,9.2,6.9,6.9,2.3,6.9,2.3,4.6"/>
<path d="M1542.8,321.10h477.4" stroke="rgb(51,143,196)" stroke-width="2.46" stroke-dasharray="4.6,4.6,2.3,2.3,2.3,2.3,4.6,16.1,2.3,6.9,4.6,9.2,2.3,11.5,2.3,16.1,6.9,2.3,2.3,2.3,2.3,9.2,2.3,6.9,9.2,2.3,2.3,6.9,2.3,9.2,6.9,6.9,4.6,16.1,2.3,2.3,4.6,2.3,2.3,4.6,2.3,2.3,9.2,2.3,2.3,6.9,2.3,2.3,4.6,4.6,4.6,4.6,4.6,2.3,2.3,13.8,2.3,11.5,4.6,4.6,2.3,4.6,2.3,2.3,4.6,2.3,11.5,11.5,2.3,2.3,2.3,2.3,2.3,11.5,2.3,2.3,2.3,9.2,2.3,2.3,4.6,18.4,9.2,9.2,4.6,9.2,6.9,6.9,4.6,2.3,9.2,0"/>
<path d="M1542.8,323.41h477.4" stroke="rgb(51,143,196)" stroke-width="2.46" stroke-dasharray="2.3,6.9,9.2,2.3,2.3,2.3,2.3,6.9,2.3,9.2,6.9,2.3,6.9,2.3,6.9,2.3,2.3,4.6,2.3,2.3,2.3,4.6,2.3,2.3,4.6,2.3,2.3,2.3,2.3,6.9,2.3,2.3,2.3,2.3,4.6,2.3,6.9,6.9,2.3,2.3,2.3,4.6,9.2,4.6,4.6,2.3,4.6,9.2,4.6,2.3,4.6,18.4,6.9,2.3,2.3,2.3,4.6,11.5,2.3,2.3,2.3,11.5,6.9,13.8,2.3,2.3,16.1,2.3,2.3,2.3,2.3,2.3,6.9,2.3,2.3,4.6,6.9,4.6,6.9,9.2,6.9,6.9,2.3,11.5,2.3,6.9,2.3,6.9,2.3,4.6,2.3,2.3,2.3,2.3,2.3,2.3,2.3,9.2,2.3,20.7,9.2,0"/>
<path d="M1542.8,325.71h477.4" stroke="rgb(51,143,196)" stroke-width="2.46" stroke-dasharray="0,6.9,9.2,2.3,9.2,4.6,4.6,9.2,2.3,2.3,2.3,2.3,2.3,2.3,6.9,2.3,6.9,16.1,2.3,2.3,2.3,9.2,2.3,4.6,2.3,13.8,2.3,2.3,11.5,2.3,2.3,2.3,2.3,2.3,2.3,2.3,2.3,4.6,2.3,4.6,2.3,2.3,2.3,4.6,2.3,4.6,2.3,2.3,4.6,2.3,2.3,2.3,2.3,4.6,2.3,2.3,9.2,4.6,4.6,13.8,2.3,4.6,2.3,4.6,9.2,16.1,2.3,2.3,6.9,2.3,2.3,6.9,2.3,2.3,13.8,4.6,2.3,2.3,4.6,2.3,4.6,6.9,2.3,2.3,6.9,20.7,2.3,6.9,2.3,4.6,2.3,2.3,9.2,20.7,2.3,2.3,2.3,2.3,11.5,4.6,4.6,2.3"/>
<path d="M1542.8,328.02h477.4" stroke="rgb(51,143,196)" stroke-width="2.46" stroke-dasharray="0,20.7,2.3,50.5,2.3,57.4,2.3,6.9,2.3,4.6,2.3,2.3,2.3,20.7,2.3,107.9,2.3,18.4,2.3,2.3,2.3,16.1,2.3,16.1,2.3,32.1,2.3,34.4,2.3,50.5,2.3,2.3"/>
<path d="M1542.8,330.32h477.4" stroke="rgb(51,143,196)" stroke-width="2.46" stroke-dasharray="0,25.2,2.3,6.9,2.3,2.3,2.3,43.6,2.3,11.5,4.6,11.5,2.3,6.9,2.3,2.3,2.3,16.1,2.3,6.9,2.3,6.9,2.3,25.2,2.3,20.7,6.9,39,2.3,27.5,2.3,16.1,2.3,23,2.3,27.5,2.3,27.5,2.3,20.7,2.3,6.9,2.3,23,2.3,6.9,2.3,9.2,2.3,2.3"/>
<path d="M1542.8,332.63h477.4" stroke="rgb(51,143,196)" stroke-width="2.46" stroke-dasharray="0,6.9,2.3,36.7,2.3,34.4,2.3,9.2,2.3,11.5,2.3,2.3,4.6,6.9,2.3,59.7,2.3,16.1,2.3,6.9,2.3,11.5,2.3,4.6,2.3,6.9,6.9,9.2,2.3,16.1,2.3,6.9,2.3,32.1,2.3,13.8,2.3,2.3,2.3,16.1,2.3,20.7,2.3,23,2.3,34.4,2.3,11.5,2.3,6.9,2.3,2.3,2.3,2.3"/>
<path d="M1542.8,334.93h477.4" stroke="rgb(51,143,196)" stroke-width="2.46" stroke-dasharray="0,32.1,2.3,50.5,2.3,18.4,2.3,27.5,2.3,25.2,2.3,20.7,2.3,25.2,2.3,18.4,2.3,13.8,4.6,18.4,2.3,6.9,4.6,9.2,2.3,32.1,2.3,9.2,2.3,9.2,2.3,64.3,2.3,13.8,2.3,29.8,4.6,4.6"/>
<path d="M1542.8,337.24h477.4" stroke="rgb(51,143,196)" stroke-width="2.46" stroke-dasharray="4.6,4.6,6.9,2.3,9.2,6.9,2.3,9.2,2.3,2.3,2.3,6.9,2.3,4.6,4.6,9.2,2.3,9.2,4.6,11.5,2.3,2.3,6.9,6.9,4.6,2.3,9.2,2.3,4.6,2.3,2.3,2.3,2.3,2.3,2.3,2.3,2.3,6.9,2.3,4.6,2.3,4.6,2.3,2.3,2.3,6.9,2.3,4.6,4.6,6.9,4.6,2.3,2.3,13.8,4.6,20.7,9.2,2.3,2.3,2.3,2.3,9.2,6.9,4.6,4.6,4.6,4.6,2.3,9.2,2.3,2.3,4.6,2.3,2.3,9.2,6.9,2.3,6.9,2.3,2.3,2.3,32.1,9.2,9.2,2.3,2.3,2.3,9.2,2.3,4.6,2.3,6.9,4.6,2.3,4.6,4.6"/>
<path d="M1542.8,339.54h477.4" stroke="rgb(51,143,196)" stroke-width="2.46" stroke-dasharray="0,2.3,2.3,2.3,9.2,2.3,6.9,9.2,2.3,2.3,2.3,2.3,9.2,2.3,6.9,6.9,2.3,4.6,4.6,27.5,2.3,6.9,2.3,6.9,2.3,4.6,2.3,4.6,2.3,2.3,2.3,2.3,9.2,11.5,4.6,25.2,4.6,4.6,2.3,4.6,4.6,4.6,2.3,2.3,2.3,4.6,2.3,6.9,2.3,6.9,2.3,2.3,2.3,2.3,2.3,4.6,2.3,2.3,4.6,6.9,2.3,2.3,2.3,2.3,9.2,4.6,2.3,2.3,2.3,4.6,11.5,2.3,2.3,6.9,6.9,2.3,2.3,6.9,2.3,2.3,2.3,2.3,2.3,20.7,2.3,6.9,2.3,6.9,13.8,6.9,2.3,9.2,2.3,6.9,4.6,4.6,2.3,9.2,2.3,0"/>
<path d="M1542.8,341.85h477.4" stroke="rgb(51,143,196)" stroke-width="2.46" stroke-dasharray="2.3,4.6,6.9,2.3,2.3,2.3,9.2,2.3,2.3,11.5,2.3,2.3,4.6,13.8,2.3,2.3,2.3,2.3,2.3,16.1,2.3,4.6,2.3,2.3,2.3,11.5,2.3,6.9,6.9,2.3,2.3,2.3,6.9,9.2,4.6,11.5,2.3,2.3,2.3,4.6,2.3,4.6,2.3,2.3,2.3,11.5,2.3,2.3,6.9,2.3,2.3,2.3,2.3,2.3,2.3,4.6,2.3,6.9,2.3,6.9,2.3,6.9,6.9,2.3,2.3,2.3,2.3,4.6,13.8,2.3,4.6,2.3,6.9,2.3,4.6,2.3,6.9,6.9,11.5,11.5,2.3,13.8,2.3,18.4,2.3,9.2,2.3,2.3,6.9,6.9,2.3,9.2,2.3,2.3,4.6,6.9,6.9,2.3,2.3,4.6"/>
<path d="M1542.8,344.15h477.4" stroke="rgb(51,143,196)" stroke-width="2.46" stroke-dasharray="2.3,4.6,6.9,4.6,2.3,2.3,6.9,4.6,2.3,9.2,2.3,4.6,9.2,11.5,4.6,20.7,2.3,6.9,2.3,6.9,2.3,2.3,2.3,2.3,2.3,2.3,2.3,2.3,2.3,2.3,2.3,2.3,2.3,2.3,18.4,2.3,2.3,2.3,2.3,2.3,4.6,11.5,4.6,9.2,2.3,2.3,4.6,4.6,2.3,6.9,2.3,4.6,2.3,13.8,2.3,4.6,4.6,13.8,2.3,2.3,2.3,4.6,4.6,4.6,4.6,4.6,9.2,6.9,2.3,2.3,2.3,6.9,4.6,2.3,4.6,2.3,2.3,16.1,2.3,13.8,2.3,13.8,2.3,13.8,6.9,6.9,2.3,4.6,2.3,2.3,2.3,2.3,2.3,2.3,2.3,2.3,2.3,2.3,2.3,4.6,6.9,0"/>
<path d="M1542.8,346.46h477.4" stroke="rgb(51,143,196)" stroke-width="2.46" stroke-dasharray="0,6.9,2.3,2.3,9.2,2.3,4.6,6.9,2.3,11.5,2.3,11.5,2.3,4.6,2.3,9.2,2.3,9.2,2.3,2.3,2.3,4.6,2.3,9.2,2.3,13.8,4.6,2.3,4.6,6.9,18.4,2.3,6.9,4.6,2.3,16.1,2.3,6.9,4.6,2.3,2.3,2.3,2.3,2.3,9.2,9.2,4.6,6.9,2.3,4.6,2.3,9.2,2.3,4.6,2.3,11.5,2.3,6.9,2.3,2.3,2.3,6.9,9.2,4.6,2.3,2.3,2.3,2.3,2.3,6.9,6.9,2.3,2.3,2.3,2.3,2.3,2.3,6.9,2.3,29.8,4.6,4.6,2.3,2.3,4.6,16.1,16.1,2.3,4.6,2.3,9.2,0"/>
<path d="M1542.8,348.76h477.4" stroke="rgb(51,143,196)" stroke-width="2.46" stroke-dasharray="0,2.3,2.3,4.6,4.6,18.4,4.6,4.6,2.3,2.3,4.6,2.3,2.3,2.3,2.3,2.3,2.3,13.8,2.3,11.5,4.6,2.3,2.3,2.3,2.3,2.3,2.3,4.6,4.6,6.9,13.8,6.9,6.9,2.3,6.9,2.3,2.3,2.3,4.6,2.3,2.3,2.3,2.3,4.6,2.3,6.9,4.6,4.6,2.3,4.6,2.3,2.3,13.8,6.9,2.3,2.3,4.6,4.6,4.6,4.6,2.3,6.9,4.6,20.7,4.6,2.3,9.2,4.6,13.8,2.3,4.6,4.6,2.3,2.3,2.3,6.9,2.3,4.6,2.3,6.9,2.3,20.7,4.6,4.6,2.3,6.9,9.2,2.3,2.3,6.9,2.3,9.2,2.3,2.3,6.9,4.6,2.3,4.6,4.6,4.6"/>
<path d="M1542.8,351.07h477.4" stroke="rgb(51,143,196)" stroke-width="2.46" stroke-dasharray="4.6,2.3,4.6,2.3,4.6,6.9,4.6,6.9,2.3,4.6,2.3,2.3,4.6,6.9,2.3,2.3,2.3,18.4,2.3,2.3,4.6,4.6,2.3,2.3,2.3,2.3,2.3,11.5,2.3,2.3,9.2,2.3,2.3,6.9,4.6,4.6,2.3,6.9,2.3,2.3,2.3,2.3,2.3,2.3,2.3,11.5,2.3,2.3,4.6,2.3,2.3,13.8,4.6,2.3,2.3,2.3,2.3,27.5,2.3,6.9,2.3,2.3,2.3,6.9,2.3,9.2,9.2,11.5,25.2,2.3,6.9,2.3,2.3,2.3,2.3,16.1,2.3,11.5,4.6,18.4,9.2,2.3,2.3,6.9,2.3,6.9,4.6,2.3,4.6,6.9,4.6,2.3,6.9,2.3"/>
<path d="M1542.8,353.37h477.4" stroke="rgb(51,143,196)" stroke-width="2.46" stroke-dasharray="0,11.5,4.6,2.3,2.3,4.6,4.6,20.7,2.3,2.3,2.3,20.7,4.6,13.8,4.6,2.3,2.3,6.9,2.3,9.2,2.3,2.3,2.3,4.6,6.9,2.3,16.1,2.3,4.6,4.6,11.5,4.6,2.3,2.3,4.6,9.2,2.3,2.3,13.8,4.6,4.6,4.6,2.3,2.3,4.6,4.6,2.3,6.9,2.3,4.6,2.3,2.3,2.3,6.9,4.6,9.2,2.3,2.3,4.6,2.3,4.6,2.3,9.2,2.3,11.5,11.5,2.3,6.9,2.3,2.3,2.3,25.2,2.3,4.6,2.3,13.8,4.6,2.3,2.3,2.3,2.3,16.1,13.8,6.9,2.3,2.3,9.2,0"/>
<path d="M1542.8,355.68h477.4" stroke="rgb(51,143,196)" stroke-width="2.46" stroke-dasharray="4.6,4.6,4.6,2.3,2.3,6.9,2.3,4.6,2.3,13.8,4.6,2.3,4.6,2.3,2.3,4.6,2.3,4.6,2.3,13.8,2.3,13.8,2.3,4.6,4.6,2.3,2.3,2.3,9.2,2.3,6.9,2.3,11.5,2.3,4.6,6.9,13.8,2.3,2.3,4.6,2.3,9.2,2.3,4.6,2.3,2.3,4.6,2.3,2.3,2.3,4.6,9.2,2.3,9.2,2.3,4.6,2.3,4.6,6.9,4.6,2.3,13.8,2.3,4.6,2.3,11.5,2.3,4.6,2.3,9.2,2.3,4.6,4.6,4.6,4.6,6.9,2.3,2.3,2.3,18.4,2.3,23,6.9,2.3,2.3,6.9,4.6,18.4,4.6,2.3,2.3,2.3,2.3,2.3,2.3,2.3,2.3,0"/>
<path d="M1542.8,357.98h477.4" stroke="rgb(51,143,196)" stroke-width="2.46" stroke-dasharray="0,39,2.3,11.5,2.3,36.7,2.3,9.2,2.3,36.7,2.3,2.3,2.3,9.2,2.3,18.4,2.3,4.6,2.3,13.8,2.3,13.8,2.3,6.9,2.3,2.3,2.3,6.9,2.3,4.6,2.3,11.5,2.3,25.2,2.3,64.3,2.3,23,2.3,11.5,2.3,45.9,2.3,18.4,2.3,9.2,2.3,0"/>
<path d="M1542.8,360.29h477.4" stroke="rgb(51,143,196)" stroke-width="2.46" stroke-dasharray="0,18.4,2.3,20.7,2.3,11.5,2.3,57.4,2.3,20.7,2.3,64.3,2.3,43.6,2.3,36.7,2.3,146.9,2.3,4.6,2.3,29.8"/>
<path d="M1542.8,362.59h477.4" stroke="rgb(51,143,196)" stroke-width="2.46" stroke-dasharray="0,135.4,2.3,2.3,2.3,9.2,2.3,4.6,2.3,20.7,2.3,25.2,2.3,158.4,2.3,20.7,2.3,27.5,2.3,52.8"/>
<path d="M1542.8,364.90h477.4" stroke="rgb(51,143,196)" stroke-width="2.46" stroke-dasharray="2.3,9.2,2.3,6.9,6.9,4.6,2.3,20.7,4.6,13.8,2.3,4.6,2.3,9.2,2.3,2.3,4.6,2.3,2.3,2.3,2.3,4.6,4.6,2.3,2.3,2.3,6.9,2.3,6.9,6.9,6.9,2.3,2.3,9.2,4.6,2.3,2.3,2.3,2.3,4.6,2.3,2.3,2.3,2.3,6.9,2.3,2.3,4.6,6.9,2.3,2.3,11.5,2.3,4.6,2.3,16.1,2.3,4.6,4.6,2.3,4.6,4.6,2.3,4.6,2.3,2.3,6.9,4.6,2.3,6.9,2.3,11.5,2.3,9.2,4.6,2.3,4.6,6.9,4.6,6.9,2.3,13.8,2.3,4.6,2.3,4.6,2.3,6.9,2.3,9.2,4.6,6.9,2.3,9.2,2.3,23,6.9,0"/>
<path d="M1542.8,367.20h477.4" stroke="rgb(51,143,196)" stroke-width="2.46" stroke-dasharray="4.6,2.3,9.2,9.2,2.3,4.6,6.9,6.9,6.9,2.3,2.3,2.3,4.6,4.6,2.3,9.2,4.6,11.5,2.3,4.6,2.3,9.2,4.6,6.9,4.6,9.2,2.3,13.8,2.3,2.3,2.3,6.9,6.9,11.5,2.3,11.5,2.3,2.3,2.3,4.6,9.2,2.3,6.9,4.6,6.9,11.5,2.3,27.5,2.3,4.6,2.3,2.3,6.9,6.9,2.3,2.3,9.2,2.3,6.9,2.3,2.3,4.6,4.6,2.3,2.3,2.3,2.3,6.9,2.3,11.5,2.3,32.1,4.6,2.3,9.2,6.9,2.3,2.3,2.3,4.6,2.3,2.3,4.6,9.2,2.3,2.3,2.3,2.3,4.6,0"/>
<path d="M1542.8,369.51h477.4" stroke="rgb(51,143,196)" stroke-width="2.46" stroke-dasharray="2.3,27.5,4.6,13.8,2.3,68.9,2.3,2.3,2.3,13.8,2.3,34.4,2.3,43.6,2.3,84.9,2.3,2.3,2.3,9.2,2.3,98.7,2.3,18.4,2.3,6.9,2.3,18.4"/>
<path d="M1542.8,371.81h477.4" stroke="rgb(51,143,196)" stroke-width="2.46" stroke-dasharray="0,2.3,2.3,2.3,2.3,2.3,6.9,6.9,4.6,2.3,2.3,11.5,2.3,2.3,2.3,2.3,2.3,4.6,2.3,13.8,4.6,9.2,9.2,6.9,2.3,4.6,2.3,4.6,2.3,4.6,2.3,2.3,2.3,2.3,2.3,4.6,4.6,4.6,2.3,2.3,2.3,2.3,2.3,4.6,2.3,2.3,4.6,2.3,2.3,11.5,2.3,4.6,2.3,2.3,4.6,2.3,11.5,2.3,2.3,4.6,2.3,6.9,4.6,2.3,2.3,16.1,4.6,2.3,2.3,2.3,2.3,2.3,2.3,2.3,2.3,2.3,6.9,2.3,2.3,13.8,4.6,20.7,6.9,2.3,2.3,16.1,2.3,2.3,2.3,25.2,4.6,2.3,2.3,9.2,2.3,9.2,2.3,13.8,2.3,4.6,2.3,6.9,6.9,4.6"/>
<path d="M1542.8,374.12h477.4" stroke="rgb(51,143,196)" stroke-width="2.46" stroke-dasharray="4.6,2.3,2.3,2.3,9.2,2.3,4.6,4.6,4.6,11.5,9.2,4.6,4.6,11.5,2.3,11.5,2.3,2.3,4.6,2.3,2.3,2.3,2.3,4.6,2.3,4.6,2.3,2.3,4.6,2.3,9.2,4.6,2.3,2.3,6.9,2.3,2.3,2.3,2.3,2.3,9.2,2.3,4.6,2.3,2.3,4.6,2.3,6.9,6.9,2.3,6.9,2.3,4.6,2.3,4.6,2.3,2.3,4.6,4.6,2.3,2.3,9.2,2.3,4.6,2.3,2.3,4.6,2.3,2.3,2.3,2.3,13.8,4.6,4.6,2.3,2.3,2.3,2.3,2.3,4.6,2.3,2.3,2.3,6.9,11.5,13.8,2.3,4.6,2.3,20.7,2.3,6.9,2.3,11.5,9.2,6.9,2.3,9.2,2.3,4.6,4.6,4.6,9.2,4.6,2.3,0"/>
<path d="M1542.8,376.42h477.4" stroke="rgb(51,143,196)" stroke-width="2.46" stroke-dasharray="4.6,2.3,2.3,2.3,4.6,4.6,4.6,2.3,2.3,4.6,2.3,6.9,2.3,11.5,4.6,2.3,2.3,11.5,4.6,6.9,2.3,2.3,6.9,2.3,2.3,2.3,2.3,6.9,6.9,2.3,16.1,2.3,4.6,2.3,4.6,2.3,6.9,4.6,4.6,2.3,6.9,16.1,2.3,13.8,4.6,4.6,4.6,2.3,2.3,4.6,2.3,2.3,4.6,2.3,2.3,2.3,2.3,4.6,2.3,6.9,6.9,2.3,2.3,9.2,2.3,2.3,2.3,4.6,2.3,2.3,4.6,2.3,2.3,4.6,2.3,4.6,6.9,6.9,2.3,2.3,2.3,2.3,4.6,6.9,2.3,2.3,2.3,2.3,2.3,11.5,2.3,6.9,2.3,6.9,2.3,4.6,13.8,16.1,2.3,6.9,9.2,2.3,4.6,2.3,9.2,0"/>
<path d="M1542.8,378.73h477.4" stroke="rgb(51,143,196)" stroke-width="2.46" stroke-dasharray="11.5,2.3,6.9,6.9,2.3,2.3,6.9,6.9,6.9,2.3,13.8,11.5,2.3,11.5,6.9,2.3,2.3,2.3,2.3,4.6,4.6,6.9,6.9,2.3,6.9,4.6,4.6,2.3,6.9,2.3,4.6,2.3,4.6,4.6,4.6,4.6,2.3,2.3,2.3,4.6,4.6,2.3,2.3,9.2,11.5,2.3,2.3,2.3,4.6,2.3,4.6,6.9,2.3,9.2,6.9,6.9,2.3,2.3,2.3,4.6,2.3,2.3,4.6,9.2,2.3,2.3,13.8,2.3,2.3,2.3,2.3,6.9,4.6,2.3,6.9,9.2,2.3,2.3,2.3,2.3,2.3,9.2,2.3,4.6,2.3,4.6,4.6,9.2,6.9,2.3,2.3,2.3,2.3,2.3,2.3,9.2,2.3,2.3,2.3,9.2,4.6,2.3,4.6,2.3,2.3,0"/>
<path d="M1542.8,381.03h477.4" stroke="rgb(51,143,196)" stroke-width="2.46" stroke-dasharray="4.6,2.3,6.9,2.3,4.6,4.6,2.3,4.6,2.3,9.2,4.6,2.3,2.3,2.3,2.3,2.3,2.3,2.3,2.3,4.6,4.6,4.6,2.3,9.2,11.5,18.4,4.6,2.3,23,2.3,13.8,4.6,11.5,9.2,4.6,2.3,2.3,6.9,2.3,6.9,11.5,2.3,2.3,2.3,2.3,6.9,2.3,6.9,2.3,13.8,6.9,2.3,6.9,9.2,2.3,4.6,2.3,2.3,4.6,4.6,9.2,2.3,4.6,4.6,2.3,2.3,9.2,2.3,2.3,6.9,2.3,4.6,2.3,4.6,2.3,2.3,2.3,2.3,2.3,4.6,4.6,2.3,2.3,6.9,2.3,2.3,6.9,2.3,4.6,18.4,6.9,2.3,4.6,2.3,4.6,2.3,4.6,2.3,2.3,0"/>
<path d="M1542.8,383.34h477.4" stroke="rgb(51,143,196)" stroke-width="2.46" stroke-dasharray="4.6,6.9,4.6,2.3,2.3,2.3,6.9,2.3,4.6,11.5,11.5,2.3,2.3,9.2,2.3,2.3,4.6,9.2,2.3,4.6,2.3,2.3,6.9,11.5,2.3,2.3,13.8,9.2,18.4,2.3,6.9,2.3,4.6,9.2,2.3,4.6,2.3,18.4,2.3,4.6,2.3,2.3,4.6,2.3,2.3,11.5,4.6,4.6,2.3,2.3,2.3,2.3,2.3,11.5,4.6,2.3,13.8,2.3,29.8,4.6,13.8,20.7,2.3,4.6,2.3,18.4,2.3,4.6,2.3,4.6,2.3,4.6,2.3,11.5,2.3,4.6,4.6,2.3,4.6,6.9,9.2,2.3,2.3,0"/>
<path d="M1542.8,385.64h477.4" stroke="rgb(51,143,196)" stroke-width="2.46" stroke-dasharray="6.9,2.3,4.6,2.3,6.9,4.6,2.3,4.6,4.6,6.9,4.6,4.6,2.3,11.5,2.3,9.2,2.3,9.2,9.2,6.9,2.3,4.6,4.6,6.9,6.9,2.3,11.5,4.6,13.8,4.6,4.6,2.3,6.9,4.6,2.3,11.5,2.3,4.6,2.3,2.3,4.6,4.6,11.5,2.3,2.3,4.6,2.3,6.9,4.6,13.8,9.2,2.3,2.3,11.5,9.2,4.6,6.9,4.6,4.6,2.3,9.2,6.9,11.5,16.1,2.3,29.8,2.3,9.2,2.3,4.6,4.6,6.9,2.3,16.1,6.9,2.3,2.3,4.6,2.3,2.3,4.6,0"/>
<path d="M1542.8,387.95h477.4" stroke="rgb(51,143,196)" stroke-width="2.46" stroke-dasharray="4.6,2.3,4.6,2.3,16.1,2.3,4.6,18.4,2.3,2.3,4.6,2.3,4.6,2.3,2.3,2.3,2.3,11.5,2.3,2.3,6.9,2.3,4.6,4.6,4.6,6.9,9.2,4.6,2.3,2.3,6.9,2.3,9.2,2.3,2.3,4.6,2.3,13.8,2.3,4.6,4.6,2.3,9.2,2.3,4.6,2.3,4.6,4.6,4.6,2.3,2.3,6.9,4.6,2.3,4.6,6.9,2.3,2.3,2.3,4.6,2.3,6.9,2.3,6.9,4.6,2.3,4.6,2.3,2.3,4.6,2.3,2.3,2.3,2.3,9.2,2.3,16.1,20.7,2.3,2.3,2.3,6.9,2.3,6.9,2.3,2.3,6.9,4.6,11.5,2.3,2.3,6.9,2.3,2.3,2.3,4.6,2.3,2.3,4.6,11.5,2.3,2.3,6.9,0"/>
<path d="M1542.8,390.25h477.4" stroke="rgb(51,143,196)" stroke-width="2.46" stroke-dasharray="4.6,4.6,2.3,2.3,4.6,4.6,2.3,2.3,2.3,16.1,2.3,4.6,2.3,9.2,6.9,6.9,6.9,6.9,9.2,2.3,2.3,6.9,4.6,4.6,2.3,2.3,6.9,4.6,2.3,4.6,6.9,2.3,2.3,2.3,2.3,2.3,2.3,4.6,4.6,2.3,2.3,9.2,2.3,4.6,2.3,4.6,2.3,2.3,2.3,4.6,4.6,2.3,2.3,2.3,16.1,2.3,4.6,6.9,2.3,4.6,2.3,4.6,2.3,4.6,2.3,16.1,11.5,2.3,4.6,4.6,9.2,4.6,2.3,2.3,4.6,6.9,2.3,2.3,4.6,6.9,2.3,2.3,2.3,9.2,2.3,23,2.3,4.6,16.1,25.2,11.5,4.6,2.3,2.3,2.3,2.3"/>
<path d="M1542.8,392.56h477.4" stroke="rgb(51,143,196)" stroke-width="2.46" stroke-dasharray="0,11.5,6.9,9.2,2.3,32.1,2.3,39,2.3,16.1,2.3,34.4,9.2,9.2,2.3,2.3,2.3,25.2,2.3,6.9,2.3,13.8,2.3,4.6,2.3,13.8,2.3,6.9,2.3,4.6,2.3,20.7,2.3,13.8,2.3,2.3,2.3,4.6,2.3,2.3,2.3,18.4,2.3,2.3,2.3,25.2,2.3,48.2,4.6,25.2,2.3,13.8"/>
<path d="M1542.8,394.86h477.4" stroke="rgb(51,143,196)" stroke-width="2.46" stroke-dasharray="2.3,4.6,11.5,2.3,6.9,4.6,4.6,2.3,2.3,4.6,6.9,4.6,2.3,4.6,2.3,2.3,2.3,2.3,2.3,2.3,4.6,9.2,9.2,2.3,2.3,11.5,2.3,2.3,2.3,2.3,13.8,4.6,6.9,2.3,13.8,4.6,11.5,4.6,2.3,2.3,4.6,2.3,4.6,4.6,2.3,2.3,4.6,2.3,9.2,2.3,2.3,2.3,2.3,6.9,2.3,4.6,2.3,9.2,2.3,4.6,6.9,2.3,2.3,2.3,2.3,2.3,2.3,2.3,4.6,9.2,2.3,4.6,6.9,4.6,2.3,4.6,4.6,2.3,2.3,2.3,4.6,2.3,4.6,2.3,2.3,4.6,2.3,4.6,2.3,2.3,2.3,9.2,2.3,6.9,2.3,6.9,2.3,4.6,16.1,16.1,2.3,2.3,9.2,2.3,2.3,2.3,4.6,2.3,2.3,2.3"/>
<path d="M1542.8,397.17h477.4" stroke="rgb(51,143,196)" stroke-width="2.46" stroke-dasharray="2.3,4.6,6.9,4.6,2.3,2.3,4.6,6.9,2.3,6.9,9.2,2.3,4.6,2.3,2.3,13.8,9.2,6.9,6.9,2.3,6.9,4.6,2.3,4.6,6.9,4.6,9.2,2.3,6.9,2.3,2.3,2.3,4.6,2.3,2.3,4.6,2.3,2.3,9.2,2.3,2.3,2.3,2.3,4.6,4.6,2.3,2.3,4.6,20.7,9.2,4.6,4.6,2.3,9.2,2.3,2.3,4.6,11.5,2.3,9.2,4.6,2.3,2.3,2.3,4.6,2.3,2.3,2.3,6.9,4.6,6.9,9.2,2.3,2.3,4.6,4.6,4.6,6.9,2.3,20.7,2.3,13.8,16.1,6.9,2.3,9.2,2.3,4.6,2.3,2.3,2.3,2.3,4.6,2.3,2.3,4.6,2.3,0"/>
<path d="M1542.8,399.47h477.4" stroke="rgb(51,143,196)" stroke-width="2.46" stroke-dasharray="4.6,2.3,6.9,2.3,2.3,4.6,6.9,2.3,2.3,11.5,2.3,2.3,2.3,2.3,6.9,2.3,2.3,2.3,2.3,2.3,2.3,4.6,2.3,11.5,4.6,9.2,2.3,11.5,4.6,4.6,11.5,2.3,2.3,2.3,2.3,2.3,6.9,4.6,2.3,6.9,2.3,4.6,2.3,4.6,2.3,6.9,2.3,2.3,2.3,2.3,4.6,9.2,6.9,2.3,2.3,4.6,4.6,2.3,4.6,4.6,4.6,13.8,4.6,2.3,4.6,18.4,4.6,2.3,4.6,4.6,2.3,2.3,2.3,2.3,2.3,2.3,6.9,4.6,9.2,2.3,2.3,11.5,2.3,2.3,2.3,2.3,2.3,11.5,2.3,9.2,4.6,4.6,4.6,9.2,2.3,23,2.3,2.3,4.6,2.3,2.3,6.9,2.3,2.3,2.3,0"/>
<path d="M1542.8,401.78h477.4" stroke="rgb(51,143,196)" stroke-width="2.46" stroke-dasharray="0,2.3,4.6,2.3,4.6,4.6,11.5,2.3,6.9,6.9,2.3,4.6,11.5,6.9,4.6,2.3,4.6,9.2,4.6,2.3,2.3,2.3,6.9,6.9,2.3,2.3,2.3,6.9,4.6,4.6,2.3,2.3,2.3,2.3,9.2,4.6,4.6,2.3,11.5,25.2,4.6,2.3,6.9,2.3,2.3,2.3,2.3,2.3,2.3,2.3,4.6,2.3,4.6,4.6,4.6,4.6,2.3,4.6,4.6,2.3,2.3,6.9,2.3,4.6,2.3,2.3,6.9,4.6,4.6,6.9,9.2,4.6,4.6,4.6,9.2,2.3,2.3,11.5,2.3,6.9,2.3,16.1,2.3,6.9,2.3,6.9,6.9,4.6,4.6,23,4.6,4.6,2.3,6.9,2.3,4.6"/>
<path d="M1542.8,404.08h477.4" stroke="rgb(51,143,196)" stroke-width="2.46" stroke-dasharray="2.3,4.6,4.6,2.3,16.1,2.3,2.3,11.5,4.6,2.3,2.3,6.9,2.3,4.6,2.3,2.3,11.5,2.3,2.3,2.3,4.6,2.3,2.3,2.3,2.3,6.9,2.3,6.9,2.3,2.3,6.9,6.9,4.6,2.3,11.5,2.3,9.2,2.3,2.3,2.3,2.3,2.3,2.3,9.2,2.3,11.5,4.6,2.3,2.3,2.3,2.3,2.3,11.5,2.3,2.3,9.2,2.3,2.3,4.6,4.6,4.6,4.6,2.3,6.9,2.3,6.9,2.3,2.3,2.3,2.3,6.9,4.6,2.3,4.6,4.6,2.3,2.3,4.6,6.9,4.6,2.3,2.3,4.6,2.3,2.3,11.5,2.3,2.3,2.3,2.3,2.3,16.1,2.3,4.6,2.3,9.2,13.8,2.3,4.6,11.5,2.3,6.9,4.6,2.3,4.6,6.9,2.3,2.3"/>
<path d="M1542.8,406.39h477.4" stroke="rgb(51,143,196)" stroke-width="2.46" stroke-dasharray="0,6.9,2.3,2.3,11.5,4.6,2.3,4.6,2.3,9.2,2.3,9.2,2.3,13.8,2.3,2.3,2.3,13.8,2.3,2.3,2.3,2.3,2.3,4.6,2.3,4.6,2.3,6.9,16.1,4.6,2.3,4.6,13.8,2.3,2.3,2.3,2.3,4.6,2.3,4.6,2.3,4.6,2.3,2.3,4.6,4.6,2.3,4.6,2.3,2.3,6.9,4.6,2.3,2.3,4.6,2.3,4.6,6.9,6.9,6.9,2.3,13.8,2.3,6.9,11.5,2.3,4.6,4.6,18.4,6.9,13.8,11.5,2.3,2.3,2.3,6.9,2.3,11.5,2.3,13.8,4.6,6.9,4.6,4.6,2.3,9.2,2.3,6.9,2.3,4.6,4.6,6.9,6.9,0"/>
<path d="M1542.8,408.69h477.4" stroke="rgb(51,143,196)" stroke-width="2.46" stroke-dasharray="0,2.3,2.3,4.6,6.9,4.6,9.2,2.3,4.6,11.5,2.3,2.3,4.6,4.6,4.6,6.9,2.3,4.6,2.3,9.2,9.2,2.3,2.3,2.3,2.3,4.6,2.3,4.6,2.3,2.3,4.6,2.3,2.3,4.6,2.3,2.3,6.9,2.3,2.3,4.6,2.3,2.3,2.3,2.3,9.2,2.3,2.3,4.6,2.3,2.3,4.6,11.5,9.2,4.6,11.5,2.3,4.6,2.3,4.6,2.3,4.6,13.8,2.3,4.6,2.3,13.8,9.2,4.6,6.9,4.6,4.6,2.3,6.9,2.3,6.9,2.3,6.9,2.3,6.9,4.6,2.3,6.9,2.3,18.4,4.6,13.8,4.6,2.3,6.9,9.2,2.3,9.2,2.3,2.3,2.3,4.6,2.3,2.3,2.3,4.6,9.2,0"/>
<path d="M1542.8,411.00h477.4" stroke="rgb(51,143,196)" stroke-width="2.46" stroke-dasharray="2.3,36.7,2.3,2.3,2.3,4.6,2.3,9.2,2.3,39,4.6,9.2,2.3,9.2,2.3,11.5,2.3,2.3,2.3,4.6,4.6,6.9,2.3,9.2,2.3,20.7,2.3,25.2,2.3,2.3,2.3,2.3,2.3,18.4,2.3,9.2,2.3,11.5,2.3,2.3,2.3,87.2,2.3,18.4,2.3,18.4,2.3,13.8,2.3,36.7,2.3,2.3"/>
<path d="M1542.8,413.30h477.4" stroke="rgb(51,143,196)" stroke-width="2.46" stroke-dasharray="0,6.9,2.3,16.1,4.6,73.4,2.3,29.8,4.6,9.2,2.3,11.5,4.6,32.1,2.3,2.3,2.3,32.1,2.3,39,2.3,18.4,2.3,4.6,2.3,9.2,2.3,4.6,2.3,2.3,2.3,6.9,2.3,4.6,2.3,34.4,2.3,4.6,4.6,4.6,2.3,16.1,2.3,4.6,2.3,29.8,2.3,18.4"/>
<path d="M1542.8,415.61h477.4" stroke="rgb(51,143,196)" stroke-width="2.46" stroke-dasharray="4.6,2.3,2.3,4.6,2.3,4.6,2.3,9.2,2.3,11.5,2.3,13.8,2.3,4.6,6.9,20.7,2.3,4.6,2.3,2.3,2.3,2.3,2.3,6.9,2.3,2.3,4.6,4.6,2.3,2.3,2.3,2.3,9.2,4.6,4.6,2.3,2.3,2.3,4.6,9.2,2.3,6.9,4.6,11.5,2.3,2.3,2.3,2.3,6.9,2.3,6.9,11.5,4.6,2.3,2.3,6.9,2.3,2.3,9.2,4.6,2.3,16.1,6.9,2.3,4.6,2.3,11.5,2.3,9.2,6.9,4.6,2.3,4.6,6.9,2.3,6.9,2.3,2.3,2.3,11.5,2.3,4.6,2.3,4.6,2.3,2.3,6.9,2.3,2.3,13.8,2.3,13.8,9.2,4.6,2.3,2.3,2.3,6.9"/>
<path d="M1542.8,417.91h477.4" stroke="rgb(51,143,196)" stroke-width="2.46" stroke-dasharray="18.4,2.3,4.6,2.3,2.3,4.6,2.3,6.9,2.3,2.3,18.4,2.3,2.3,2.3,9.2,11.5,4.6,2.3,9.2,6.9,2.3,2.3,2.3,2.3,13.8,4.6,4.6,2.3,4.6,4.6,6.9,6.9,6.9,6.9,2.3,9.2,4.6,4.6,2.3,2.3,6.9,2.3,2.3,4.6,4.6,2.3,2.3,6.9,13.8,2.3,2.3,6.9,6.9,2.3,6.9,4.6,2.3,2.3,9.2,2.3,4.6,9.2,16.1,6.9,9.2,9.2,2.3,2.3,2.3,6.9,2.3,11.5,2.3,2.3,2.3,6.9,2.3,4.6,11.5,2.3,4.6,2.3,2.3,11.5,9.2,2.3,2.3,2.3,4.6,2.3,2.3,2.3,2.3,2.3"/>
<path d="M1542.8,420.22h477.4" stroke="rgb(51,143,196)" stroke-width="2.46" stroke-dasharray="2.3,2.3,11.5,11.5,2.3,2.3,2.3,11.5,6.9,6.9,4.6,4.6,2.3,4.6,4.6,16.1,4.6,6.9,2.3,4.6,4.6,6.9,11.5,9.2,16.1,2.3,2.3,2.3,4.6,2.3,6.9,4.6,2.3,2.3,4.6,4.6,2.3,2.3,2.3,9.2,9.2,2.3,2.3,6.9,2.3,2.3,2.3,6.9,2.3,6.9,2.3,2.3,6.9,2.3,2.3,2.3,2.3,2.3,2.3,6.9,6.9,6.9,4.6,6.9,11.5,4.6,2.3,4.6,2.3,2.3,9.2,6.9,2.3,2.3,2.3,6.9,2.3,13.8,2.3,2.3,2.3,11.5,2.3,6.9,2.3,2.3,2.3,6.9,2.3,13.8,9.2,2.3,2.3,4.6,9.2,0"/>
<path d="M1542.8,422.52h477.4" stroke="rgb(51,143,196)" stroke-width="2.46" stroke-dasharray="4.6,2.3,2.3,4.6,6.9,6.9,2.3,11.5,2.3,2.3,2.3,20.7,2.3,20.7,4.6,11.5,2.3,4.6,2.3,11.5,11.5,20.7,4.6,4.6,2.3,2.3,4.6,9.2,2.3,2.3,4.6,4.6,2.3,16.1,4.6,2.3,2.3,6.9,4.6,4.6,2.3,2.3,4.6,6.9,2.3,2.3,4.6,13.8,2.3,11.5,2.3,6.9,2.3,6.9,9.2,2.3,6.9,2.3,2.3,4.6,6.9,2.3,2.3,6.9,2.3,2.3,2.3,25.2,2.3,16.1,11.5,20.7,2.3,2.3,2.3,4.6,9.2,4.6,2.3,2.3,2.3,0"/>
<path d="M1542.8,424.83h477.4" stroke="rgb(51,143,196)" stroke-width="2.46" stroke-dasharray="4.6,11.5,2.3,4.6,2.3,6.9,2.3,20.7,2.3,6.9,2.3,2.3,2.3,2.3,2.3,4.6,2.3,20.7,2.3,2.3,2.3,4.6,4.6,2.3,2.3,2.3,2.3,4.6,2.3,2.3,4.6,9.2,4.6,4.6,4.6,4.6,9.2,2.3,2.3,13.8,2.3,16.1,4.6,2.3,4.6,9.2,4.6,2.3,4.6,4.6,6.9,2.3,2.3,6.9,2.3,6.9,2.3,9.2,2.3,2.3,2.3,2.3,2.3,4.6,2.3,2.3,2.3,2.3,2.3,2.3,6.9,13.8,2.3,2.3,4.6,11.5,6.9,2.3,2.3,2.3,2.3,6.9,4.6,13.8,2.3,4.6,4.6,9.2,2.3,6.9,2.3,16.1,4.6,2.3,2.3,2.3,2.3,2.3,4.6,4.6"/>
<path d="M1542.8,427.13h477.4" stroke="rgb(51,143,196)" stroke-width="2.46" stroke-dasharray="2.3,4.6,2.3,2.3,9.2,9.2,2.3,2.3,2.3,13.8,2.3,11.5,2.3,2.3,2.3,4.6,4.6,11.5,2.3,4.6,2.3,2.3,2.3,2.3,2.3,6.9,2.3,2.3,2.3,2.3,4.6,2.3,4.6,2.3,2.3,6.9,18.4,2.3,4.6,2.3,4.6,6.9,2.3,2.3,2.3,2.3,2.3,6.9,2.3,6.9,4.6,4.6,2.3,4.6,2.3,4.6,2.3,4.6,2.3,4.6,4.6,4.6,2.3,4.6,4.6,6.9,2.3,9.2,9.2,2.3,2.3,2.3,4.6,6.9,6.9,2.3,11.5,4.6,2.3,2.3,9.2,4.6,2.3,2.3,2.3,6.9,2.3,16.1,2.3,6.9,2.3,4.6,4.6,9.2,2.3,6.9,4.6,6.9,2.3,2.3,2.3,18.4,2.3,2.3,2.3,0"/>
<path d="M1542.8,429.44h477.4" stroke="rgb(51,143,196)" stroke-width="2.46" stroke-dasharray="0,6.9,2.3,16.1,6.9,27.5,2.3,4.6,2.3,18.4,2.3,45.9,2.3,6.9,2.3,2.3,4.6,2.3,4.6,16.1,2.3,18.4,2.3,16.1,2.3,34.4,2.3,2.3,2.3,55.1,2.3,25.2,2.3,41.3,6.9,2.3,2.3,2.3,2.3,2.3,2.3,6.9,2.3,39,2.3,20.7"/>
<path d="M1542.8,431.74h477.4" stroke="rgb(51,143,196)" stroke-width="2.46" stroke-dasharray="4.6,2.3,2.3,2.3,9.2,2.3,6.9,4.6,2.3,18.4,6.9,2.3,2.3,2.3,2.3,2.3,2.3,16.1,6.9,18.4,2.3,2.3,2.3,2.3,4.6,2.3,6.9,4.6,9.2,4.6,4.6,2.3,2.3,6.9,2.3,2.3,4.6,2.3,4.6,2.3,4.6,2.3,6.9,6.9,6.9,4.6,2.3,34.4,2.3,4.6,4.6,2.3,2.3,2.3,2.3,2.3,2.3,4.6,2.3,2.3,9.2,4.6,2.3,2.3,4.6,2.3,2.3,2.3,6.9,2.3,2.3,4.6,2.3,2.3,2.3,4.6,2.3,11.5,2.3,39,4.6,6.9,4.6,27.5,2.3,4.6,6.9,2.3,4.6,4.6"/>
<path d="M1542.8,434.05h477.4" stroke="rgb(51,143,196)" stroke-width="2.46" stroke-dasharray="2.3,4.6,4.6,2.3,2.3,2.3,6.9,2.3,2.3,23,11.5,6.9,2.3,4.6,4.6,11.5,2.3,6.9,2.3,2.3,4.6,2.3,4.6,9.2,2.3,4.6,4.6,4.6,4.6,4.6,4.6,2.3,2.3,2.3,2.3,2.3,4.6,2.3,2.3,9.2,6.9,6.9,2.3,2.3,4.6,2.3,9.2,4.6,2.3,2.3,2.3,9.2,2.3,6.9,6.9,2.3,4.6,4.6,2.3,2.3,2.3,13.8,11.5,4.6,4.6,2.3,18.4,9.2,4.6,2.3,6.9,6.9,2.3,2.3,2.3,2.3,2.3,2.3,2.3,16.1,2.3,6.9,2.3,4.6,2.3,4.6,4.6,4.6,2.3,20.7,2.3,4.6,4.6,16.1"/>
<path d="M1542.8,436.35h477.4" stroke="rgb(51,143,196)" stroke-width="2.46" stroke-dasharray="0,2.3,2.3,9.2,2.3,6.9,4.6,4.6,2.3,4.6,2.3,6.9,2.3,4.6,4.6,4.6,2.3,6.9,2.3,2.3,4.6,9.2,2.3,23,6.9,2.3,2.3,4.6,4.6,6.9,9.2,2.3,6.9,6.9,6.9,4.6,2.3,16.1,4.6,9.2,9.2,13.8,2.3,4.6,4.6,6.9,2.3,4.6,2.3,9.2,4.6,13.8,2.3,4.6,2.3,6.9,4.6,4.6,4.6,2.3,4.6,6.9,2.3,9.2,9.2,6.9,2.3,2.3,2.3,2.3,4.6,27.5,2.3,4.6,9.2,2.3,4.6,6.9,2.3,6.9,16.1,4.6,2.3,2.3,6.9,2.3"/>
<path d="M1542.8,438.66h477.4" stroke="rgb(51,143,196)" stroke-width="2.46" stroke-dasharray="0,4.6,2.3,36.7,2.3,29.8,2.3,13.8,2.3,9.2,2.3,20.7,2.3,9.2,2.3,9.2,2.3,82.6,2.3,2.3,2.3,20.7,2.3,16.1,2.3,16.1,4.6,73.4,2.3,9.2,2.3,11.5,4.6,45.9,2.3,18.4,2.3,2.3"/>
<path d="M1542.8,440.96h477.4" stroke="rgb(51,143,196)" stroke-width="2.46" stroke-dasharray="0,2.3,2.3,4.6,6.9,2.3,2.3,2.3,4.6,4.6,2.3,11.5,6.9,2.3,9.2,13.8,4.6,4.6,2.3,4.6,4.6,2.3,4.6,9.2,4.6,13.8,2.3,2.3,4.6,2.3,4.6,2.3,4.6,2.3,4.6,2.3,2.3,4.6,11.5,2.3,4.6,11.5,2.3,2.3,4.6,2.3,2.3,6.9,2.3,4.6,4.6,4.6,2.3,2.3,4.6,6.9,2.3,4.6,2.3,11.5,2.3,2.3,2.3,2.3,4.6,2.3,4.6,4.6,4.6,2.3,2.3,4.6,2.3,2.3,4.6,2.3,2.3,2.3,6.9,4.6,2.3,2.3,9.2,6.9,2.3,11.5,2.3,27.5,2.3,4.6,2.3,6.9,4.6,23,9.2,2.3,4.6,2.3,6.9,2.3"/>
<path d="M1542.8,443.27h477.4" stroke="rgb(51,143,196)" stroke-width="2.46" stroke-dasharray="0,11.5,2.3,23,2.3,29.8,2.3,43.6,2.3,6.9,2.3,20.7,2.3,2.3,2.3,6.9,2.3,13.8,2.3,4.6,4.6,9.2,2.3,29.8,2.3,27.5,2.3,4.6,2.3,43.6,2.3,32.1,2.3,4.6,2.3,36.7,4.6,27.5,2.3,45.9,2.3,2.3"/>
<path d="M1542.8,445.57h477.4" stroke="rgb(51,143,196)" stroke-width="2.46" stroke-dasharray="0,9.2,2.3,41.3,2.3,16.1,2.3,13.8,2.3,36.7,2.3,34.4,2.3,2.3,2.3,52.8,2.3,52.8,2.3,2.3,4.6,43.6,2.3,11.5,2.3,32.1,2.3,50.5,2.3,27.5,2.3,9.2,2.3,2.3"/>
<path d="M1542.8,447.88h477.4" stroke="rgb(51,143,196)" stroke-width="2.46" stroke-dasharray="0,2.3,2.3,6.9,6.9,2.3,9.2,16.1,6.9,2.3,4.6,2.3,2.3,4.6,2.3,2.3,2.3,2.3,2.3,9.2,2.3,2.3,2.3,6.9,2.3,9.2,4.6,4.6,2.3,2.3,2.3,2.3,6.9,4.6,9.2,4.6,2.3,2.3,4.6,2.3,2.3,2.3,2.3,9.2,4.6,2.3,4.6,2.3,2.3,4.6,2.3,4.6,2.3,2.3,4.6,2.3,2.3,9.2,2.3,6.9,2.3,2.3,4.6,16.1,6.9,2.3,2.3,6.9,2.3,4.6,2.3,2.3,2.3,9.2,18.4,2.3,9.2,2.3,6.9,11.5,2.3,2.3,2.3,2.3,2.3,20.7,2.3,13.8,6.9,4.6,2.3,11.5,2.3,4.6,4.6,2.3,6.9,4.6,2.3,4.6,6.9,2.3"/>
<path d="M1542.8,450.18h477.4" stroke="rgb(51,143,196)" stroke-width="2.46" stroke-dasharray="0,11.5,2.3,18.4,2.3,23,2.3,2.3,2.3,71.2,2.3,78,2.3,4.6,2.3,18.4,2.3,6.9,2.3,18.4,2.3,32.1,2.3,25.2,2.3,4.6,2.3,34.4,2.3,2.3,2.3,48.2,2.3,6.9,2.3,11.5,2.3,18.4"/>
<path d="M1542.8,452.49h477.4" stroke="rgb(51,143,196)" stroke-width="2.46" stroke-dasharray="0,16.1,2.3,20.7,2.3,2.3,2.3,59.7,4.6,13.8,2.3,4.6,2.3,2.3,2.3,64.3,2.3,2.3,2.3,13.8,2.3,11.5,2.3,34.4,4.6,2.3,2.3,34.4,2.3,9.2,2.3,16.1,2.3,2.3,4.6,71.2,2.3,18.4,2.3,27.5"/>
<path d="M1542.8,454.79h477.4" stroke="rgb(51,143,196)" stroke-width="2.46" stroke-dasharray="0,2.3,2.3,4.6,13.8,4.6,2.3,4.6,2.3,11.5,2.3,2.3,2.3,2.3,4.6,2.3,2.3,2.3,2.3,4.6,2.3,16.1,6.9,4.6,4.6,6.9,2.3,9.2,2.3,6.9,2.3,11.5,16.1,6.9,4.6,9.2,2.3,2.3,4.6,2.3,2.3,4.6,4.6,6.9,2.3,4.6,2.3,4.6,2.3,2.3,2.3,4.6,6.9,4.6,2.3,4.6,2.3,4.6,2.3,4.6,2.3,2.3,2.3,11.5,2.3,2.3,2.3,6.9,4.6,4.6,4.6,4.6,9.2,16.1,2.3,9.2,2.3,11.5,2.3,2.3,2.3,6.9,2.3,2.3,2.3,6.9,2.3,4.6,9.2,2.3,2.3,9.2,2.3,9.2,2.3,2.3,2.3,2.3,4.6,4.6,2.3,6.9,4.6,0"/>
<path d="M1542.8,457.10h477.4" stroke="rgb(51,143,196)" stroke-width="2.46" stroke-dasharray="0,4.6,4.6,13.8,2.3,59.7,2.3,4.6,2.3,6.9,2.3,9.2,2.3,48.2,2.3,41.3,2.3,43.6,4.6,80.3,2.3,32.1,2.3,11.5,2.3,2.3,2.3,27.5,2.3,13.8,2.3,20.7,2.3,6.9,2.3,6.9"/>
<path d="M1542.8,459.40h477.4" stroke="rgb(51,143,196)" stroke-width="2.46" stroke-dasharray="0,71.2,2.3,29.8,4.6,18.4,2.3,27.5,2.3,2.3,2.3,140,2.3,18.4,2.3,23,4.6,2.3,2.3,27.5,2.3,18.4,2.3,13.8,2.3,27.5,2.3,6.9,2.3,13.8"/>
<path d="M1542.8,461.71h477.4" stroke="rgb(51,143,196)" stroke-width="2.46" stroke-dasharray="4.6,2.3,9.2,16.1,4.6,9.2,6.9,4.6,4.6,11.5,2.3,4.6,2.3,6.9,2.3,2.3,6.9,13.8,4.6,9.2,4.6,11.5,2.3,2.3,11.5,2.3,4.6,9.2,2.3,2.3,2.3,9.2,4.6,9.2,2.3,4.6,20.7,4.6,2.3,2.3,2.3,4.6,6.9,13.8,2.3,2.3,2.3,13.8,2.3,2.3,4.6,2.3,2.3,2.3,4.6,4.6,6.9,4.6,2.3,2.3,4.6,4.6,2.3,2.3,9.2,34.4,2.3,11.5,2.3,11.5,4.6,11.5,4.6,6.9,2.3,2.3,11.5,2.3,2.3,2.3,2.3,6.9"/>
<path d="M1542.8,464.01h477.4" stroke="rgb(51,143,196)" stroke-width="2.46" stroke-dasharray="2.3,4.6,4.6,2.3,6.9,2.3,6.9,4.6,2.3,11.5,2.3,11.5,4.6,2.3,2.3,16.1,2.3,2.3,4.6,6.9,2.3,2.3,2.3,18.4,23,4.6,9.2,4.6,13.8,4.6,2.3,2.3,4.6,4.6,2.3,2.3,2.3,2.3,6.9,2.3,4.6,2.3,4.6,4.6,4.6,13.8,2.3,11.5,4.6,6.9,2.3,2.3,4.6,2.3,2.3,4.6,2.3,2.3,2.3,4.6,2.3,2.3,6.9,2.3,2.3,4.6,2.3,9.2,11.5,9.2,2.3,4.6,4.6,20.7,4.6,2.3,4.6,6.9,9.2,2.3,2.3,6.9,2.3,6.9,2.3,6.9,4.6,4.6,2.3,4.6,2.3,2.3,4.6,0"/>
<path d="M1542.8,466.32h477.4" stroke="rgb(51,143,196)" stroke-width="2.46" stroke-dasharray="0,20.7,2.3,25.2,2.3,36.7,2.3,32.1,2.3,4.6,2.3,6.9,2.3,43.6,2.3,4.6,2.3,9.2,2.3,34.4,2.3,20.7,2.3,34.4,2.3,16.1,2.3,13.8,2.3,52.8,2.3,6.9,2.3,13.8,6.9,6.9,4.6,39,2.3,4.6"/>
<path d="M1542.8,468.62h477.4" stroke="rgb(51,143,196)" stroke-width="2.46" stroke-dasharray="0,9.2,2.3,6.9,2.3,2.3,2.3,2.3,4.6,36.7,2.3,41.3,2.3,18.4,2.3,2.3,2.3,18.4,2.3,2.3,2.3,13.8,2.3,9.2,2.3,91.8,2.3,59.7,2.3,4.6,2.3,27.5,2.3,2.3,2.3,27.5,4.6,2.3,2.3,18.4,2.3,29.8"/>
<path d="M1542.8,470.93h477.4" stroke="rgb(51,143,196)" stroke-width="2.46" stroke-dasharray="2.3,16.1,6.9,6.9,4.6,9.2,2.3,13.8,4.6,29.8,2.3,4.6,2.3,2.3,2.3,18.4,9.2,18.4,2.3,2.3,2.3,9.2,4.6,2.3,4.6,18.4,2.3,16.1,4.6,2.3,6.9,11.5,2.3,6.9,2.3,4.6,2.3,4.6,2.3,4.6,2.3,4.6,4.6,9.2,4.6,18.4,2.3,4.6,2.3,4.6,2.3,9.2,2.3,2.3,6.9,11.5,2.3,2.3,2.3,16.1,2.3,9.2,2.3,4.6,11.5,2.3,2.3,20.7,2.3,2.3,9.2,2.3,2.3,6.9,6.9,0"/>
<path d="M1542.8,473.23h477.4" stroke="rgb(51,143,196)" stroke-width="2.46" stroke-dasharray="0,9.2,2.3,20.7,2.3,32.1,2.3,4.6,2.3,16.1,2.3,32.1,2.3,2.3,2.3,59.7,2.3,13.8,2.3,20.7,2.3,11.5,2.3,43.6,2.3,13.8,2.3,87.2,2.3,57.4,2.3,18.4"/>
<path d="M1542.8,475.54h477.4" stroke="rgb(51,143,196)" stroke-width="2.46" stroke-dasharray="0,39,2.3,9.2,2.3,4.6,4.6,34.4,2.3,41.3,4.6,4.6,2.3,39,2.3,9.2,2.3,29.8,2.3,11.5,2.3,13.8,2.3,16.1,2.3,16.1,2.3,11.5,2.3,20.7,4.6,27.5,2.3,18.4,2.3,6.9,2.3,18.4,2.3,6.9,2.3,25.2,2.3,18.4"/>
<path d="M1542.8,477.84h477.4" stroke="rgb(51,143,196)" stroke-width="2.46" stroke-dasharray="0,6.9,2.3,36.7,2.3,13.8,2.3,41.3,4.6,18.4,2.3,6.9,2.3,18.4,2.3,25.2,2.3,66.6,2.3,16.1,2.3,13.8,2.3,20.7,4.6,112.5,2.3,45.9"/>
<path d="M1542.8,480.15h477.4" stroke="rgb(51,143,196)" stroke-width="2.46" stroke-dasharray="0,20.7,2.3,6.9,6.9,71.2,6.9,36.7,2.3,32.1,2.3,2.3,2.3,34.4,2.3,39,2.3,32.1,2.3,4.6,2.3,16.1,2.3,36.7,2.3,107.9"/>
<path d="M1542.8,482.45h477.4" stroke="rgb(51,143,196)" stroke-width="2.46" stroke-dasharray="4.6,2.3,2.3,2.3,11.5,9.2,2.3,11.5,9.2,4.6,2.3,2.3,2.3,11.5,4.6,11.5,6.9,2.3,2.3,11.5,2.3,2.3,2.3,2.3,4.6,2.3,2.3,2.3,4.6,4.6,13.8,2.3,4.6,4.6,2.3,4.6,6.9,2.3,4.6,9.2,2.3,2.3,2.3,2.3,6.9,4.6,11.5,4.6,2.3,2.3,4.6,4.6,2.3,6.9,2.3,9.2,4.6,2.3,2.3,4.6,2.3,9.2,2.3,2.3,2.3,9.2,9.2,4.6,9.2,4.6,11.5,6.9,2.3,9.2,4.6,18.4,2.3,4.6,2.3,6.9,4.6,2.3,2.3,2.3,4.6,18.4,2.3,2.3,6.9,4.6,4.6,2.3,2.3,2.3,2.3,2.3"/>
<path d="M1542.8,484.76h477.4" stroke="rgb(51,143,196)" stroke-width="2.46" stroke-dasharray="0,25.2,2.3,146.9,2.3,13.8,2.3,2.3,2.3,16.1,2.3,20.7,2.3,18.4,2.3,27.5,2.3,16.1,6.9,13.8,2.3,34.4,2.3,48.2,2.3,9.2,2.3,34.4,2.3,4.6,2.3,6.9"/>
<path d="M1542.8,487.06h477.4" stroke="rgb(51,143,196)" stroke-width="2.46" stroke-dasharray="0,6.9,6.9,2.3,6.9,2.3,4.6,4.6,2.3,9.2,2.3,2.3,2.3,4.6,2.3,2.3,2.3,4.6,2.3,6.9,4.6,9.2,2.3,2.3,2.3,4.6,2.3,2.3,2.3,4.6,4.6,2.3,2.3,2.3,4.6,2.3,2.3,2.3,2.3,6.9,2.3,6.9,2.3,4.6,2.3,6.9,4.6,2.3,4.6,2.3,4.6,4.6,2.3,11.5,2.3,2.3,2.3,4.6,2.3,2.3,4.6,16.1,4.6,2.3,4.6,13.8,6.9,2.3,2.3,2.3,2.3,4.6,2.3,6.9,2.3,4.6,2.3,4.6,2.3,2.3,11.5,9.2,4.6,2.3,9.2,6.9,2.3,2.3,2.3,2.3,2.3,20.7,2.3,13.8,2.3,11.5,2.3,6.9,2.3,9.2,2.3,2.3,2.3,2.3,4.6,2.3,2.3,4.6,6.9,2.3"/>
<path d="M1542.8,489.37h477.4" stroke="rgb(51,143,196)" stroke-width="2.46" stroke-dasharray="0,2.3,2.3,4.6,2.3,6.9,4.6,32.1,2.3,20.7,2.3,2.3,2.3,18.4,2.3,43.6,2.3,6.9,2.3,36.7,2.3,20.7,2.3,55.1,2.3,16.1,2.3,2.3,2.3,16.1,2.3,27.5,2.3,34.4,4.6,39,2.3,13.8,4.6,27.5"/>
<path d="M1542.8,491.67h477.4" stroke="rgb(51,143,196)" stroke-width="2.46" stroke-dasharray="0,41.3,2.3,9.2,2.3,48.2,2.3,39,2.3,2.3,2.3,48.2,2.3,32.1,2.3,32.1,2.3,39,2.3,133.1,2.3,20.7,2.3,6.9"/>
<path d="M1542.8,493.98h477.4" stroke="rgb(51,143,196)" stroke-width="2.46" stroke-dasharray="0,2.3,2.3,75.7,2.3,25.2,2.3,6.9,2.3,16.1,2.3,23,2.3,6.9,2.3,4.6,2.3,6.9,4.6,9.2,2.3,32.1,2.3,20.7,4.6,34.4,2.3,34.4,2.3,4.6,2.3,11.5,2.3,48.2,2.3,20.7,2.3,16.1,2.3,29.8"/>
<path d="M1542.8,496.28h477.4" stroke="rgb(51,143,196)" stroke-width="2.46" stroke-dasharray="0,36.7,4.6,52.8,2.3,34.4,2.3,4.6,2.3,4.6,2.3,18.4,2.3,18.4,2.3,11.5,2.3,4.6,2.3,20.7,2.3,32.1,2.3,9.2,2.3,16.1,2.3,4.6,4.6,101,2.3,18.4,4.6,11.5,2.3,25.2,2.3,4.6"/>
<path d="M1542.8,498.59h477.4" stroke="rgb(51,143,196)" stroke-width="2.46" stroke-dasharray="13.8,2.3,2.3,2.3,2.3,2.3,2.3,4.6,2.3,13.8,2.3,2.3,2.3,2.3,2.3,4.6,2.3,27.5,6.9,20.7,2.3,2.3,6.9,4.6,4.6,2.3,4.6,9.2,6.9,4.6,9.2,9.2,2.3,2.3,2.3,4.6,2.3,11.5,2.3,2.3,9.2,4.6,4.6,2.3,4.6,9.2,2.3,16.1,4.6,4.6,2.3,2.3,2.3,6.9,4.6,2.3,4.6,2.3,18.4,4.6,2.3,2.3,2.3,6.9,2.3,2.3,6.9,11.5,2.3,6.9,2.3,11.5,9.2,9.2,6.9,4.6,6.9,27.5,2.3,2.3,4.6,6.9,2.3,2.3,2.3,0"/>
<path d="M1542.8,500.89h477.4" stroke="rgb(51,143,196)" stroke-width="2.46" stroke-dasharray="0,103.3,2.3,11.5,2.3,16.1,2.3,2.3,2.3,27.5,2.3,20.7,2.3,11.5,2.3,2.3,2.3,20.7,2.3,11.5,2.3,2.3,2.3,34.4,2.3,16.1,2.3,2.3,2.3,13.8,2.3,9.2,4.6,13.8,2.3,71.2,2.3,43.6"/>
<path d="M1542.8,503.20h477.4" stroke="rgb(51,143,196)" stroke-width="2.46" stroke-dasharray="0,73.4,2.3,23,2.3,2.3,2.3,18.4,2.3,11.5,2.3,50.5,2.3,23,2.3,6.9,2.3,11.5,2.3,6.9,2.3,9.2,2.3,45.9,2.3,64.3,2.3,9.2,2.3,29.8,2.3,48.2,2.3,6.9"/>
<path d="M1542.8,505.50h477.4" stroke="rgb(51,143,196)" stroke-width="2.46" stroke-dasharray="2.3,11.5,2.3,4.6,2.3,6.9,2.3,18.4,2.3,45.9,2.3,6.9,2.3,11.5,2.3,2.3,2.3,4.6,2.3,9.2,2.3,6.9,2.3,2.3,2.3,43.6,2.3,11.5,2.3,9.2,4.6,27.5,2.3,4.6,2.3,64.3,4.6,4.6,2.3,29.8,2.3,4.6,2.3,73.4,2.3,16.1"/>
<path d="M1542.8,507.81h477.4" stroke="rgb(51,143,196)" stroke-width="2.46" stroke-dasharray="4.6,11.5,6.9,4.6,4.6,2.3,2.3,13.8,4.6,2.3,2.3,9.2,2.3,2.3,2.3,2.3,4.6,9.2,4.6,2.3,2.3,20.7,2.3,2.3,2.3,4.6,6.9,6.9,9.2,6.9,2.3,6.9,4.6,2.3,4.6,2.3,2.3,4.6,2.3,6.9,2.3,2.3,2.3,4.6,6.9,6.9,4.6,4.6,2.3,6.9,2.3,2.3,4.6,6.9,2.3,6.9,2.3,2.3,2.3,2.3,2.3,2.3,2.3,6.9,4.6,2.3,4.6,2.3,4.6,2.3,4.6,2.3,9.2,2.3,2.3,6.9,2.3,4.6,2.3,11.5,2.3,6.9,2.3,20.7,4.6,16.1,2.3,4.6,4.6,2.3,2.3,13.8,2.3,2.3,4.6,2.3,2.3,2.3,4.6,2.3,9.2,0"/>
<path d="M1542.8,510.11h477.4" stroke="rgb(51,143,196)" stroke-width="2.46" stroke-dasharray="0,9.2,2.3,16.1,2.3,36.7,2.3,18.4,2.3,2.3,2.3,16.1,2.3,9.2,2.3,2.3,2.3,32.1,2.3,39,2.3,18.4,2.3,36.7,2.3,64.3,2.3,27.5,2.3,6.9,2.3,13.8,2.3,16.1,2.3,9.2,2.3,6.9,2.3,13.8,2.3,36.7"/>
<path d="M1542.8,512.42h477.4" stroke="rgb(51,143,196)" stroke-width="2.46" stroke-dasharray="4.6,2.3,11.5,4.6,6.9,4.6,2.3,11.5,2.3,2.3,11.5,13.8,4.6,16.1,2.3,2.3,2.3,9.2,4.6,2.3,2.3,11.5,6.9,2.3,2.3,4.6,9.2,2.3,4.6,2.3,4.6,2.3,2.3,2.3,2.3,6.9,2.3,2.3,2.3,9.2,2.3,2.3,4.6,2.3,2.3,2.3,2.3,2.3,4.6,4.6,2.3,6.9,2.3,20.7,4.6,2.3,2.3,6.9,2.3,9.2,9.2,2.3,2.3,4.6,2.3,2.3,6.9,4.6,6.9,4.6,4.6,2.3,2.3,11.5,2.3,6.9,2.3,2.3,2.3,2.3,2.3,13.8,2.3,4.6,2.3,2.3,2.3,4.6,2.3,6.9,2.3,18.4,13.8,2.3,16.1,0"/>
<path d="M1542.8,514.72h477.4" stroke="rgb(51,143,196)" stroke-width="2.46" stroke-dasharray="0,29.8,2.3,18.4,2.3,9.2,2.3,112.5,2.3,36.7,2.3,29.8,2.3,4.6,2.3,43.6,2.3,32.1,2.3,4.6,2.3,23,2.3,34.4,2.3,57.4,2.3,9.2,2.3,0"/>
<path d="M1542.8,517.03h477.4" stroke="rgb(51,143,196)" stroke-width="2.46" stroke-dasharray="0,6.9,2.3,23,2.3,59.7,2.3,36.7,2.3,20.7,4.6,68.9,2.3,2.3,2.3,4.6,2.3,27.5,2.3,6.9,4.6,4.6,2.3,11.5,2.3,6.9,2.3,2.3,4.6,87.2,2.3,66.6"/>
<path d="M1542.8,519.33h477.4" stroke="rgb(51,143,196)" stroke-width="2.46" stroke-dasharray="4.6,2.3,2.3,2.3,6.9,13.8,4.6,9.2,2.3,13.8,4.6,2.3,2.3,6.9,4.6,9.2,6.9,9.2,2.3,6.9,2.3,6.9,4.6,2.3,2.3,11.5,9.2,4.6,6.9,4.6,4.6,2.3,2.3,2.3,2.3,2.3,2.3,2.3,4.6,11.5,2.3,4.6,2.3,2.3,6.9,4.6,2.3,4.6,2.3,2.3,4.6,13.8,2.3,4.6,9.2,2.3,2.3,9.2,2.3,2.3,9.2,2.3,4.6,4.6,6.9,4.6,2.3,4.6,2.3,4.6,2.3,2.3,2.3,2.3,2.3,9.2,2.3,2.3,2.3,2.3,2.3,2.3,2.3,6.9,2.3,6.9,2.3,6.9,2.3,2.3,4.6,4.6,11.5,2.3,2.3,11.5,2.3,6.9,4.6,2.3,2.3,4.6,6.9,2.3"/>
<path d="M1542.8,521.64h477.4" stroke="rgb(51,143,196)" stroke-width="2.46" stroke-dasharray="0,9.2,4.6,2.3,9.2,6.9,9.2,6.9,4.6,6.9,4.6,4.6,2.3,13.8,2.3,4.6,2.3,2.3,4.6,9.2,2.3,2.3,2.3,4.6,2.3,4.6,2.3,2.3,6.9,6.9,6.9,4.6,4.6,9.2,2.3,11.5,2.3,4.6,4.6,2.3,4.6,2.3,4.6,4.6,6.9,2.3,2.3,2.3,2.3,11.5,4.6,6.9,2.3,6.9,2.3,2.3,2.3,2.3,2.3,4.6,2.3,9.2,2.3,6.9,4.6,9.2,4.6,2.3,6.9,6.9,2.3,2.3,2.3,4.6,4.6,2.3,2.3,13.8,4.6,16.1,2.3,2.3,2.3,13.8,4.6,6.9,4.6,6.9,2.3,9.2,2.3,2.3,2.3,6.9,2.3,2.3,2.3,4.6,4.6,2.3"/>
<path d="M1542.8,523.94h477.4" stroke="rgb(51,143,196)" stroke-width="2.46" stroke-dasharray="4.6,2.3,2.3,4.6,2.3,2.3,2.3,2.3,2.3,2.3,2.3,2.3,2.3,6.9,2.3,13.8,2.3,2.3,4.6,2.3,2.3,2.3,2.3,2.3,2.3,11.5,4.6,2.3,2.3,2.3,2.3,9.2,2.3,4.6,2.3,2.3,6.9,2.3,4.6,4.6,9.2,2.3,9.2,2.3,2.3,2.3,9.2,6.9,2.3,4.6,2.3,2.3,4.6,2.3,4.6,2.3,9.2,4.6,2.3,9.2,2.3,2.3,4.6,4.6,2.3,6.9,2.3,6.9,4.6,9.2,2.3,6.9,4.6,2.3,2.3,4.6,2.3,4.6,6.9,2.3,6.9,4.6,2.3,4.6,2.3,2.3,2.3,2.3,4.6,2.3,2.3,2.3,2.3,2.3,6.9,29.8,2.3,6.9,9.2,2.3,2.3,18.4,2.3,4.6,6.9,4.6,2.3,2.3,6.9,2.3"/>
<path d="M1542.8,526.25h477.4" stroke="rgb(51,143,196)" stroke-width="2.46" stroke-dasharray="4.6,2.3,18.4,4.6,6.9,11.5,2.3,2.3,2.3,6.9,2.3,4.6,2.3,2.3,2.3,4.6,2.3,9.2,6.9,9.2,4.6,2.3,4.6,2.3,2.3,6.9,4.6,2.3,4.6,2.3,2.3,2.3,2.3,2.3,6.9,11.5,6.9,2.3,2.3,4.6,2.3,4.6,2.3,2.3,2.3,6.9,2.3,2.3,18.4,2.3,4.6,4.6,2.3,6.9,6.9,2.3,2.3,4.6,4.6,2.3,2.3,6.9,2.3,9.2,2.3,2.3,11.5,2.3,4.6,6.9,2.3,2.3,2.3,9.2,2.3,2.3,2.3,2.3,2.3,13.8,2.3,25.2,2.3,13.8,6.9,2.3,6.9,6.9,2.3,16.1,6.9,13.8,2.3,2.3"/>
<path d="M1542.8,528.55h477.4" stroke="rgb(51,143,196)" stroke-width="2.46" stroke-dasharray="4.6,2.3,6.9,2.3,2.3,4.6,2.3,2.3,9.2,2.3,2.3,4.6,6.9,2.3,2.3,4.6,9.2,2.3,2.3,4.6,2.3,6.9,4.6,2.3,4.6,2.3,2.3,2.3,2.3,11.5,2.3,2.3,16.1,2.3,25.2,2.3,2.3,6.9,2.3,4.6,2.3,4.6,2.3,2.3,2.3,4.6,2.3,9.2,4.6,2.3,4.6,6.9,4.6,4.6,2.3,4.6,4.6,4.6,2.3,2.3,2.3,2.3,2.3,2.3,2.3,6.9,2.3,6.9,4.6,2.3,2.3,2.3,6.9,4.6,13.8,2.3,4.6,6.9,2.3,2.3,6.9,11.5,2.3,2.3,2.3,13.8,2.3,4.6,2.3,4.6,2.3,6.9,16.1,2.3,6.9,9.2,2.3,2.3,9.2,2.3,4.6,2.3,9.2,0"/>
<path d="M1542.8,530.86h477.4" stroke="rgb(51,143,196)" stroke-width="2.46" stroke-dasharray="6.9,2.3,2.3,4.6,16.1,13.8,6.9,6.9,4.6,4.6,2.3,2.3,2.3,2.3,4.6,9.2,9.2,2.3,2.3,9.2,4.6,6.9,6.9,2.3,6.9,11.5,13.8,4.6,6.9,9.2,2.3,2.3,4.6,2.3,4.6,2.3,16.1,4.6,2.3,6.9,4.6,2.3,2.3,6.9,2.3,13.8,2.3,4.6,2.3,18.4,9.2,4.6,9.2,6.9,6.9,2.3,2.3,6.9,11.5,2.3,2.3,4.6,2.3,4.6,2.3,20.7,2.3,6.9,2.3,4.6,4.6,4.6,6.9,6.9,2.3,9.2,2.3,2.3,2.3,2.3,2.3,4.6,2.3,4.6,6.9,2.3"/>
<path d="M1542.8,533.16h477.4" stroke="rgb(51,143,196)" stroke-width="2.46" stroke-dasharray="0,2.3,2.3,4.6,4.6,2.3,13.8,2.3,4.6,11.5,18.4,2.3,2.3,2.3,2.3,2.3,2.3,11.5,4.6,2.3,2.3,2.3,2.3,2.3,2.3,6.9,2.3,2.3,2.3,4.6,4.6,4.6,4.6,2.3,4.6,2.3,6.9,2.3,6.9,2.3,4.6,2.3,9.2,2.3,2.3,6.9,6.9,2.3,2.3,4.6,4.6,2.3,4.6,6.9,2.3,9.2,4.6,6.9,2.3,2.3,6.9,4.6,6.9,2.3,6.9,6.9,6.9,2.3,2.3,2.3,4.6,4.6,2.3,4.6,4.6,4.6,4.6,4.6,6.9,2.3,4.6,6.9,2.3,2.3,2.3,2.3,2.3,2.3,2.3,9.2,2.3,4.6,2.3,13.8,4.6,6.9,4.6,6.9,4.6,11.5,6.9,4.6,4.6,2.3,9.2,0"/>
<path d="M1542.8,535.47h477.4" stroke="rgb(51,143,196)" stroke-width="2.46" stroke-dasharray="0,4.6,2.3,11.5,2.3,11.5,2.3,2.3,2.3,11.5,2.3,9.2,2.3,11.5,4.6,11.5,2.3,29.8,4.6,29.8,2.3,36.7,4.6,18.4,2.3,20.7,2.3,13.8,2.3,11.5,2.3,20.7,2.3,27.5,2.3,50.5,2.3,6.9,2.3,4.6,2.3,34.4,2.3,43.6"/>
<path d="M1542.8,537.77h477.4" stroke="rgb(51,143,196)" stroke-width="2.46" stroke-dasharray="13.8,2.3,2.3,2.3,2.3,2.3,11.5,4.6,2.3,4.6,9.2,6.9,2.3,2.3,2.3,9.2,2.3,6.9,2.3,4.6,2.3,4.6,2.3,2.3,2.3,11.5,6.9,2.3,18.4,2.3,4.6,2.3,6.9,4.6,4.6,2.3,4.6,18.4,2.3,16.1,11.5,2.3,2.3,2.3,9.2,6.9,4.6,11.5,2.3,2.3,2.3,4.6,6.9,6.9,11.5,2.3,4.6,4.6,20.7,4.6,2.3,2.3,9.2,6.9,2.3,2.3,2.3,6.9,2.3,13.8,2.3,18.4,4.6,2.3,6.9,4.6,4.6,11.5,4.6,2.3,2.3,4.6,4.6,4.6,2.3,2.3,2.3,0"/>
<path d="M1542.8,540.08h477.4" stroke="rgb(51,143,196)" stroke-width="2.46" stroke-dasharray="4.6,2.3,18.4,2.3,2.3,2.3,4.6,4.6,2.3,2.3,6.9,9.2,2.3,9.2,2.3,4.6,2.3,11.5,6.9,2.3,2.3,2.3,4.6,4.6,2.3,2.3,2.3,2.3,9.2,2.3,2.3,6.9,9.2,4.6,4.6,6.9,2.3,2.3,2.3,2.3,2.3,4.6,9.2,2.3,4.6,4.6,2.3,4.6,11.5,2.3,4.6,2.3,4.6,2.3,4.6,4.6,11.5,4.6,2.3,9.2,2.3,2.3,2.3,4.6,2.3,2.3,9.2,4.6,2.3,2.3,11.5,2.3,2.3,2.3,4.6,4.6,4.6,2.3,4.6,2.3,2.3,9.2,2.3,4.6,4.6,6.9,2.3,25.2,13.8,4.6,2.3,11.5,2.3,2.3,6.9,4.6,4.6,2.3,2.3,2.3,2.3,2.3"/>
<path d="M1542.8,542.38h477.4" stroke="rgb(51,143,196)" stroke-width="2.46" stroke-dasharray="2.3,4.6,6.9,2.3,4.6,2.3,6.9,2.3,4.6,11.5,2.3,2.3,2.3,2.3,2.3,2.3,2.3,4.6,2.3,2.3,2.3,2.3,4.6,6.9,2.3,4.6,4.6,13.8,4.6,2.3,9.2,2.3,6.9,4.6,4.6,2.3,4.6,2.3,6.9,6.9,11.5,4.6,9.2,4.6,9.2,2.3,11.5,4.6,2.3,6.9,2.3,4.6,2.3,4.6,4.6,4.6,2.3,4.6,2.3,2.3,2.3,9.2,2.3,4.6,2.3,2.3,9.2,2.3,2.3,4.6,2.3,2.3,11.5,2.3,2.3,6.9,2.3,2.3,9.2,6.9,2.3,27.5,4.6,11.5,9.2,4.6,2.3,4.6,2.3,2.3,2.3,9.2,2.3,2.3,2.3,2.3,2.3,6.9,2.3,2.3,4.6,2.3,2.3,0"/>
<path d="M1542.8,544.69h477.4" stroke="rgb(51,143,196)" stroke-width="2.46" stroke-dasharray="2.3,4.6,2.3,2.3,9.2,2.3,2.3,2.3,4.6,2.3,2.3,9.2,4.6,2.3,2.3,6.9,4.6,11.5,4.6,11.5,6.9,2.3,2.3,2.3,2.3,4.6,2.3,4.6,2.3,2.3,9.2,4.6,2.3,2.3,23,2.3,2.3,2.3,2.3,11.5,4.6,2.3,4.6,2.3,2.3,9.2,16.1,16.1,2.3,4.6,2.3,13.8,4.6,2.3,2.3,2.3,2.3,2.3,2.3,4.6,6.9,4.6,2.3,4.6,6.9,2.3,4.6,2.3,4.6,2.3,2.3,9.2,9.2,4.6,2.3,6.9,4.6,39,2.3,2.3,11.5,6.9,2.3,9.2,2.3,2.3,2.3,2.3,4.6,2.3,4.6,4.6,6.9,0"/>
<path d="M1542.8,546.99h477.4" stroke="rgb(51,143,196)" stroke-width="2.46" stroke-dasharray="0,2.3,2.3,2.3,2.3,11.5,2.3,2.3,2.3,4.6,2.3,11.5,4.6,4.6,2.3,4.6,2.3,4.6,2.3,6.9,4.6,11.5,2.3,6.9,2.3,11.5,2.3,2.3,2.3,2.3,4.6,9.2,2.3,4.6,4.6,2.3,13.8,4.6,6.9,2.3,2.3,4.6,2.3,2.3,4.6,2.3,4.6,2.3,4.6,4.6,4.6,4.6,6.9,4.6,11.5,2.3,6.9,11.5,4.6,2.3,2.3,2.3,2.3,4.6,2.3,2.3,9.2,9.2,2.3,2.3,23,4.6,4.6,20.7,2.3,16.1,2.3,6.9,4.6,4.6,2.3,4.6,11.5,2.3,2.3,6.9,2.3,13.8,9.2,2.3,6.9,4.6,4.6,0"/>
<path d="M1542.8,549.30h477.4" stroke="rgb(51,143,196)" stroke-width="2.46" stroke-dasharray="0,2.3,4.6,2.3,9.2,4.6,6.9,4.6,2.3,13.8,2.3,2.3,2.3,4.6,2.3,4.6,2.3,9.2,2.3,9.2,2.3,2.3,4.6,9.2,2.3,4.6,2.3,6.9,4.6,2.3,9.2,2.3,2.3,2.3,4.6,4.6,6.9,4.6,11.5,6.9,2.3,2.3,2.3,2.3,11.5,4.6,2.3,2.3,4.6,2.3,2.3,2.3,2.3,4.6,2.3,4.6,4.6,4.6,4.6,4.6,2.3,16.1,2.3,4.6,2.3,2.3,2.3,2.3,9.2,2.3,2.3,4.6,2.3,4.6,2.3,2.3,11.5,4.6,2.3,2.3,4.6,2.3,4.6,9.2,2.3,6.9,2.3,4.6,2.3,13.8,4.6,9.2,2.3,2.3,4.6,2.3,2.3,6.9,2.3,9.2,2.3,4.6,2.3,6.9,4.6,2.3,9.2,0"/>
<path d="M1542.8,551.60h477.4" stroke="rgb(51,143,196)" stroke-width="2.46" stroke-dasharray="2.3,4.6,9.2,4.6,9.2,2.3,4.6,13.8,2.3,4.6,2.3,2.3,2.3,4.6,2.3,2.3,2.3,4.6,2.3,9.2,6.9,4.6,2.3,2.3,2.3,4.6,2.3,2.3,4.6,2.3,16.1,2.3,16.1,4.6,2.3,4.6,4.6,2.3,6.9,2.3,9.2,9.2,4.6,2.3,2.3,2.3,4.6,2.3,2.3,2.3,2.3,4.6,6.9,2.3,2.3,4.6,4.6,4.6,2.3,4.6,4.6,2.3,2.3,2.3,2.3,9.2,2.3,2.3,4.6,2.3,2.3,2.3,4.6,2.3,2.3,4.6,11.5,2.3,2.3,4.6,6.9,2.3,4.6,6.9,2.3,2.3,2.3,2.3,2.3,27.5,4.6,4.6,6.9,2.3,2.3,11.5,2.3,2.3,4.6,6.9,6.9,6.9,2.3,6.9,2.3,2.3"/>
<path d="M1542.8,553.91h477.4" stroke="rgb(51,143,196)" stroke-width="2.46" stroke-dasharray="2.3,4.6,13.8,2.3,6.9,2.3,4.6,2.3,2.3,4.6,4.6,4.6,2.3,6.9,2.3,2.3,2.3,2.3,2.3,2.3,4.6,9.2,4.6,6.9,6.9,2.3,4.6,9.2,4.6,2.3,4.6,2.3,2.3,2.3,2.3,2.3,11.5,2.3,4.6,4.6,6.9,2.3,2.3,4.6,2.3,2.3,4.6,2.3,2.3,4.6,2.3,2.3,4.6,2.3,2.3,6.9,4.6,2.3,9.2,9.2,4.6,4.6,2.3,11.5,2.3,2.3,6.9,4.6,11.5,4.6,4.6,2.3,2.3,2.3,11.5,4.6,2.3,4.6,13.8,6.9,2.3,2.3,6.9,2.3,2.3,16.1,2.3,4.6,4.6,4.6,9.2,4.6,2.3,6.9,2.3,13.8,2.3,2.3,2.3,6.9,13.8,0"/>
<path d="M1542.8,556.21h477.4" stroke="rgb(51,143,196)" stroke-width="2.46" stroke-dasharray="2.3,4.6,4.6,4.6,2.3,2.3,9.2,4.6,2.3,11.5,4.6,4.6,2.3,2.3,4.6,2.3,2.3,6.9,4.6,4.6,2.3,4.6,6.9,2.3,2.3,2.3,2.3,11.5,2.3,2.3,9.2,4.6,2.3,2.3,9.2,2.3,11.5,2.3,2.3,2.3,11.5,6.9,2.3,4.6,4.6,2.3,2.3,2.3,2.3,2.3,9.2,2.3,4.6,6.9,2.3,2.3,4.6,4.6,2.3,6.9,4.6,4.6,2.3,2.3,6.9,2.3,2.3,9.2,4.6,2.3,2.3,4.6,2.3,2.3,2.3,2.3,6.9,2.3,9.2,6.9,9.2,9.2,2.3,2.3,2.3,2.3,2.3,2.3,2.3,18.4,2.3,11.5,6.9,4.6,4.6,6.9,2.3,13.8,2.3,2.3,2.3,4.6,2.3,6.9,6.9,0"/>
<path d="M1542.8,558.52h477.4" stroke="rgb(51,143,196)" stroke-width="2.46" stroke-dasharray="0,23,2.3,9.2,2.3,2.3,2.3,4.6,2.3,18.4,2.3,6.9,2.3,13.8,6.9,34.4,2.3,13.8,6.9,9.2,2.3,25.2,2.3,20.7,2.3,36.7,2.3,16.1,2.3,6.9,2.3,50.5,2.3,6.9,2.3,23,2.3,20.7,2.3,2.3,2.3,11.5,2.3,36.7,2.3,13.8,2.3,2.3,2.3,4.6"/>
<path d="M1542.8,560.82h477.4" stroke="rgb(51,143,196)" stroke-width="2.46" stroke-dasharray="4.6,2.3,20.7,6.9,2.3,9.2,11.5,4.6,2.3,13.8,2.3,4.6,2.3,2.3,2.3,2.3,4.6,9.2,2.3,18.4,2.3,2.3,9.2,2.3,13.8,2.3,4.6,9.2,4.6,2.3,4.6,2.3,9.2,4.6,2.3,2.3,4.6,2.3,4.6,4.6,2.3,4.6,4.6,9.2,2.3,6.9,4.6,4.6,2.3,4.6,9.2,16.1,4.6,2.3,4.6,2.3,4.6,2.3,4.6,2.3,2.3,4.6,11.5,2.3,4.6,2.3,2.3,4.6,2.3,13.8,2.3,2.3,2.3,11.5,2.3,2.3,2.3,4.6,2.3,11.5,2.3,4.6,4.6,2.3,6.9,9.2,2.3,2.3,9.2,9.2,9.2,0"/>
<path d="M1542.8,563.13h477.4" stroke="rgb(51,143,196)" stroke-width="2.46" stroke-dasharray="0,64.3,2.3,32.1,2.3,18.4,2.3,4.6,2.3,101,2.3,43.6,2.3,45.9,2.3,16.1,2.3,18.4,2.3,13.8,2.3,39,2.3,43.6,2.3,9.2"/>
<path d="M1542.8,565.43h477.4" stroke="rgb(51,143,196)" stroke-width="2.46" stroke-dasharray="0,2.3,2.3,9.2,9.2,2.3,4.6,2.3,4.6,2.3,4.6,4.6,6.9,4.6,6.9,29.8,4.6,6.9,2.3,18.4,6.9,2.3,2.3,4.6,9.2,2.3,2.3,4.6,2.3,4.6,6.9,2.3,4.6,9.2,4.6,2.3,2.3,4.6,2.3,4.6,2.3,2.3,2.3,2.3,11.5,9.2,2.3,9.2,2.3,9.2,6.9,2.3,2.3,6.9,2.3,4.6,9.2,9.2,2.3,2.3,9.2,2.3,2.3,2.3,2.3,4.6,2.3,6.9,4.6,11.5,2.3,2.3,4.6,16.1,4.6,32.1,2.3,6.9,2.3,9.2,2.3,2.3,2.3,11.5,2.3,2.3,4.6,2.3,2.3,0"/>
<path d="M1542.8,567.74h477.4" stroke="rgb(51,143,196)" stroke-width="2.46" stroke-dasharray="0,130.8,2.3,29.8,2.3,6.9,2.3,32.1,2.3,25.2,2.3,78,2.3,20.7,2.3,25.2,2.3,96.4,2.3,11.5"/>
<path d="M1542.8,570.04h477.4" stroke="rgb(51,143,196)" stroke-width="2.46" stroke-dasharray="2.3,4.6,4.6,2.3,2.3,2.3,2.3,11.5,4.6,9.2,4.6,2.3,6.9,9.2,2.3,2.3,2.3,2.3,2.3,2.3,2.3,6.9,6.9,18.4,2.3,2.3,2.3,6.9,2.3,13.8,11.5,4.6,2.3,6.9,2.3,2.3,2.3,9.2,4.6,2.3,2.3,4.6,2.3,4.6,2.3,2.3,2.3,4.6,4.6,2.3,4.6,4.6,4.6,2.3,2.3,13.8,4.6,4.6,4.6,2.3,2.3,6.9,2.3,9.2,9.2,4.6,2.3,2.3,4.6,2.3,2.3,2.3,2.3,2.3,2.3,2.3,2.3,2.3,9.2,2.3,2.3,4.6,2.3,2.3,2.3,2.3,2.3,2.3,2.3,2.3,2.3,4.6,2.3,16.1,4.6,4.6,9.2,13.8,2.3,6.9,4.6,2.3,9.2,2.3,4.6,9.2,2.3,0"/>
<path d="M1542.8,572.35h477.4" stroke="rgb(51,143,196)" stroke-width="2.46" stroke-dasharray="4.6,2.3,2.3,2.3,6.9,4.6,2.3,2.3,2.3,2.3,4.6,2.3,4.6,2.3,2.3,11.5,6.9,2.3,2.3,2.3,2.3,2.3,4.6,4.6,2.3,6.9,2.3,16.1,4.6,6.9,13.8,2.3,6.9,2.3,9.2,2.3,4.6,2.3,4.6,2.3,2.3,9.2,2.3,4.6,2.3,4.6,2.3,2.3,2.3,9.2,11.5,6.9,2.3,4.6,4.6,4.6,4.6,11.5,2.3,2.3,4.6,2.3,2.3,9.2,2.3,4.6,4.6,2.3,2.3,2.3,2.3,6.9,4.6,2.3,6.9,2.3,2.3,2.3,2.3,6.9,2.3,2.3,2.3,11.5,2.3,2.3,2.3,32.1,2.3,2.3,2.3,6.9,2.3,23,2.3,2.3,9.2,11.5,6.9,0"/>
<path d="M1542.8,574.65h477.4" stroke="rgb(51,143,196)" stroke-width="2.46" stroke-dasharray="0,11.5,16.1,18.4,2.3,9.2,2.3,2.3,2.3,4.6,2.3,2.3,2.3,4.6,2.3,2.3,2.3,11.5,2.3,2.3,2.3,2.3,2.3,6.9,2.3,2.3,2.3,4.6,4.6,6.9,2.3,2.3,6.9,2.3,6.9,2.3,2.3,16.1,4.6,6.9,6.9,2.3,2.3,11.5,4.6,2.3,2.3,4.6,2.3,4.6,4.6,11.5,4.6,11.5,4.6,2.3,2.3,6.9,2.3,4.6,2.3,6.9,4.6,2.3,4.6,2.3,16.1,2.3,4.6,4.6,2.3,2.3,2.3,2.3,2.3,41.3,2.3,6.9,2.3,9.2,6.9,4.6,2.3,4.6,2.3,6.9,2.3,4.6,9.2,6.9,4.6,6.9"/>
<path d="M1542.8,576.96h477.4" stroke="rgb(51,143,196)" stroke-width="2.46" stroke-dasharray="16.1,4.6,2.3,2.3,4.6,2.3,4.6,9.2,2.3,2.3,2.3,4.6,6.9,4.6,2.3,2.3,2.3,18.4,6.9,6.9,2.3,9.2,4.6,6.9,4.6,2.3,4.6,4.6,16.1,6.9,2.3,16.1,2.3,2.3,2.3,6.9,2.3,4.6,2.3,2.3,2.3,4.6,2.3,4.6,6.9,2.3,4.6,2.3,4.6,20.7,4.6,20.7,11.5,2.3,2.3,2.3,11.5,4.6,2.3,2.3,2.3,6.9,6.9,2.3,4.6,13.8,4.6,20.7,2.3,6.9,2.3,2.3,6.9,9.2,2.3,6.9,2.3,18.4,2.3,4.6,2.3,6.9,2.3,2.3,2.3,0"/>
<path d="M1542.8,579.26h477.4" stroke="rgb(51,143,196)" stroke-width="2.46" stroke-dasharray="0,18.4,2.3,117.1,2.3,13.8,2.3,94.1,2.3,66.6,2.3,4.6,2.3,29.8,2.3,34.4,2.3,18.4,2.3,13.8,2.3,13.8,2.3,25.2,2.3,0"/>
<path d="M1542.8,581.57h477.4" stroke="rgb(51,143,196)" stroke-width="2.46" stroke-dasharray="0,4.6,4.6,2.3,2.3,2.3,2.3,4.6,6.9,4.6,2.3,11.5,2.3,27.5,2.3,11.5,2.3,18.4,4.6,13.8,2.3,71.2,2.3,23,4.6,6.9,2.3,4.6,2.3,6.9,2.3,62,2.3,9.2,2.3,4.6,2.3,20.7,2.3,2.3,2.3,9.2,2.3,39,2.3,39,4.6,11.5"/>
<path d="M1542.8,583.87h477.4" stroke="rgb(51,143,196)" stroke-width="2.46" stroke-dasharray="4.6,2.3,4.6,9.2,2.3,4.6,2.3,2.3,4.6,18.4,6.9,2.3,2.3,2.3,2.3,2.3,2.3,4.6,2.3,13.8,4.6,2.3,2.3,2.3,2.3,4.6,2.3,4.6,2.3,6.9,9.2,2.3,2.3,4.6,4.6,2.3,2.3,2.3,6.9,2.3,2.3,20.7,4.6,4.6,2.3,2.3,4.6,6.9,13.8,4.6,4.6,4.6,2.3,4.6,4.6,4.6,4.6,2.3,9.2,6.9,2.3,23,2.3,2.3,2.3,2.3,4.6,4.6,4.6,2.3,2.3,4.6,2.3,2.3,11.5,9.2,2.3,2.3,2.3,25.2,2.3,9.2,2.3,2.3,4.6,2.3,4.6,6.9,2.3,13.8,2.3,2.3,4.6,4.6,2.3,6.9,4.6,0"/>
<path d="M1542.8,586.18h477.4" stroke="rgb(51,143,196)" stroke-width="2.46" stroke-dasharray="2.3,73.4,2.3,39,2.3,16.1,2.3,4.6,2.3,13.8,4.6,18.4,4.6,9.2,2.3,23,2.3,20.7,2.3,23,2.3,57.4,2.3,29.8,2.3,34.4,2.3,11.5,4.6,25.2,2.3,23,2.3,9.2"/>
<path d="M1542.8,588.48h477.4" stroke="rgb(51,143,196)" stroke-width="2.46" stroke-dasharray="2.3,2.3,6.9,2.3,4.6,2.3,2.3,2.3,2.3,16.1,2.3,2.3,9.2,4.6,2.3,9.2,2.3,2.3,2.3,6.9,2.3,2.3,9.2,6.9,4.6,2.3,4.6,2.3,2.3,4.6,2.3,13.8,9.2,4.6,2.3,9.2,2.3,2.3,2.3,4.6,2.3,4.6,4.6,2.3,2.3,2.3,2.3,18.4,2.3,2.3,4.6,6.9,4.6,2.3,4.6,4.6,2.3,13.8,9.2,2.3,2.3,18.4,2.3,6.9,2.3,2.3,2.3,4.6,2.3,2.3,2.3,2.3,2.3,2.3,2.3,4.6,4.6,2.3,6.9,6.9,2.3,2.3,6.9,11.5,4.6,4.6,2.3,18.4,2.3,2.3,9.2,16.1,2.3,4.6,9.2,2.3,2.3,2.3,6.9,2.3"/>
<path d="M1542.8,590.79h477.4" stroke="rgb(51,143,196)" stroke-width="2.46" stroke-dasharray="4.6,2.3,13.8,2.3,2.3,6.9,2.3,2.3,2.3,9.2,4.6,16.1,2.3,2.3,2.3,2.3,2.3,13.8,2.3,4.6,2.3,13.8,2.3,6.9,6.9,2.3,4.6,4.6,4.6,2.3,6.9,2.3,2.3,2.3,2.3,6.9,2.3,2.3,2.3,6.9,9.2,2.3,2.3,4.6,4.6,2.3,13.8,2.3,2.3,20.7,4.6,4.6,4.6,2.3,2.3,2.3,2.3,2.3,2.3,4.6,2.3,13.8,4.6,2.3,2.3,11.5,11.5,9.2,2.3,2.3,2.3,4.6,2.3,11.5,2.3,4.6,4.6,6.9,2.3,11.5,2.3,2.3,2.3,9.2,6.9,2.3,2.3,2.3,2.3,18.4,4.6,2.3,2.3,4.6,2.3,4.6,6.9,0"/>
<path d="M1542.8,593.09h477.4" stroke="rgb(51,143,196)" stroke-width="2.46" stroke-dasharray="0,2.3,2.3,6.9,4.6,4.6,2.3,2.3,2.3,2.3,9.2,6.9,11.5,11.5,2.3,6.9,2.3,11.5,4.6,2.3,2.3,4.6,2.3,9.2,2.3,2.3,2.3,2.3,6.9,4.6,4.6,2.3,11.5,4.6,6.9,4.6,2.3,2.3,4.6,6.9,2.3,4.6,2.3,2.3,4.6,2.3,4.6,2.3,9.2,4.6,6.9,2.3,2.3,4.6,2.3,2.3,2.3,9.2,4.6,6.9,4.6,4.6,2.3,2.3,2.3,6.9,4.6,4.6,2.3,4.6,2.3,6.9,4.6,2.3,2.3,2.3,6.9,6.9,4.6,4.6,2.3,9.2,4.6,2.3,2.3,2.3,4.6,9.2,2.3,2.3,2.3,6.9,2.3,4.6,4.6,4.6,6.9,6.9,2.3,13.8,13.8,2.3,4.6,2.3,4.6,0"/>
<path d="M1542.8,595.40h477.4" stroke="rgb(51,143,196)" stroke-width="2.46" stroke-dasharray="0,16.1,4.6,11.5,2.3,13.8,2.3,6.9,2.3,2.3,2.3,4.6,2.3,4.6,2.3,87.2,2.3,25.2,2.3,9.2,2.3,36.7,2.3,2.3,2.3,36.7,2.3,23,2.3,34.4,2.3,2.3,4.6,9.2,2.3,16.1,2.3,20.7,2.3,2.3,2.3,9.2,2.3,50.5"/>
<path d="M1542.8,597.70h477.4" stroke="rgb(51,143,196)" stroke-width="2.46" stroke-dasharray="0,27.5,2.3,48.2,2.3,101,2.3,18.4,2.3,91.8,2.3,25.2,2.3,9.2,2.3,9.2,2.3,27.5,2.3,32.1,2.3,43.6,2.3,18.4"/>
<path d="M1542.8,600.01h477.4" stroke="rgb(51,143,196)" stroke-width="2.46" stroke-dasharray="0,2.3,2.3,2.3,4.6,2.3,13.8,6.9,2.3,9.2,6.9,2.3,2.3,23,2.3,9.2,2.3,2.3,2.3,9.2,2.3,11.5,2.3,11.5,4.6,6.9,9.2,2.3,2.3,11.5,2.3,2.3,2.3,2.3,2.3,9.2,4.6,4.6,2.3,2.3,2.3,9.2,2.3,9.2,4.6,2.3,4.6,2.3,4.6,13.8,2.3,4.6,9.2,2.3,2.3,2.3,2.3,2.3,6.9,4.6,4.6,4.6,2.3,2.3,2.3,2.3,4.6,4.6,2.3,11.5,4.6,2.3,6.9,2.3,2.3,2.3,2.3,25.2,2.3,2.3,2.3,6.9,2.3,4.6,13.8,2.3,2.3,4.6,4.6,4.6,4.6,4.6,2.3,6.9,4.6,4.6,2.3,4.6"/>
<path d="M1542.8,602.31h477.4" stroke="rgb(51,143,196)" stroke-width="2.46" stroke-dasharray="0,2.3,2.3,6.9,2.3,6.9,2.3,16.1,2.3,4.6,2.3,4.6,2.3,2.3,2.3,23,2.3,23,2.3,6.9,2.3,36.7,2.3,16.1,2.3,4.6,2.3,23,2.3,29.8,2.3,11.5,2.3,20.7,2.3,20.7,2.3,13.8,2.3,4.6,2.3,80.3,2.3,4.6,2.3,9.2,2.3,16.1,2.3,25.2,2.3,2.3,2.3,2.3"/>
<path d="M1542.8,604.62h477.4" stroke="rgb(51,143,196)" stroke-width="2.46" stroke-dasharray="0,4.6,2.3,52.8,2.3,6.9,2.3,16.1,2.3,52.8,2.3,52.8,6.9,9.2,2.3,27.5,2.3,55.1,2.3,9.2,2.3,2.3,2.3,4.6,2.3,23,2.3,18.4,2.3,29.8,2.3,9.2,2.3,11.5,2.3,4.6,2.3,27.5,2.3,11.5"/>
<path d="M1542.8,606.92h477.4" stroke="rgb(51,143,196)" stroke-width="2.46" stroke-dasharray="2.3,9.2,11.5,2.3,4.6,4.6,2.3,4.6,2.3,2.3,2.3,2.3,6.9,9.2,4.6,13.8,2.3,4.6,6.9,25.2,4.6,6.9,2.3,2.3,2.3,4.6,4.6,2.3,2.3,2.3,4.6,6.9,2.3,2.3,9.2,9.2,4.6,4.6,2.3,9.2,4.6,6.9,2.3,2.3,4.6,18.4,4.6,4.6,2.3,9.2,2.3,4.6,2.3,11.5,11.5,2.3,2.3,4.6,6.9,2.3,4.6,2.3,2.3,2.3,4.6,2.3,9.2,2.3,2.3,11.5,2.3,2.3,2.3,13.8,2.3,4.6,2.3,2.3,2.3,2.3,2.3,11.5,4.6,2.3,2.3,6.9,2.3,13.8,4.6,4.6,2.3,2.3,2.3,4.6,6.9,0"/>
<path d="M1542.8,609.23h477.4" stroke="rgb(51,143,196)" stroke-width="2.46" stroke-dasharray="4.6,2.3,2.3,2.3,2.3,2.3,9.2,2.3,9.2,23,4.6,4.6,2.3,20.7,4.6,6.9,2.3,2.3,2.3,4.6,2.3,4.6,2.3,2.3,11.5,2.3,2.3,4.6,11.5,2.3,4.6,9.2,2.3,2.3,2.3,20.7,2.3,4.6,2.3,2.3,4.6,2.3,11.5,2.3,2.3,2.3,2.3,6.9,2.3,20.7,2.3,2.3,2.3,2.3,2.3,13.8,11.5,6.9,2.3,2.3,13.8,2.3,2.3,9.2,4.6,11.5,2.3,6.9,2.3,2.3,2.3,6.9,2.3,27.5,2.3,2.3,4.6,9.2,2.3,13.8,6.9,4.6,2.3,11.5,2.3,0"/>
<path d="M1542.8,611.53h477.4" stroke="rgb(51,143,196)" stroke-width="2.46" stroke-dasharray="0,13.8,13.8,20.7,2.3,11.5,4.6,6.9,2.3,23,2.3,2.3,2.3,2.3,2.3,4.6,2.3,4.6,2.3,2.3,2.3,6.9,6.9,4.6,4.6,6.9,9.2,4.6,4.6,11.5,2.3,2.3,4.6,9.2,2.3,9.2,2.3,2.3,2.3,11.5,2.3,4.6,4.6,4.6,4.6,11.5,4.6,2.3,2.3,2.3,2.3,11.5,2.3,2.3,6.9,2.3,2.3,6.9,2.3,9.2,2.3,2.3,4.6,4.6,2.3,2.3,4.6,2.3,2.3,6.9,2.3,6.9,2.3,2.3,2.3,32.1,4.6,2.3,2.3,4.6,2.3,18.4,2.3,2.3,2.3,2.3,4.6,4.6,2.3,9.2,2.3,0"/>
<path d="M1542.8,613.84h477.4" stroke="rgb(51,143,196)" stroke-width="2.46" stroke-dasharray="4.6,4.6,4.6,2.3,13.8,2.3,2.3,13.8,2.3,11.5,2.3,13.8,4.6,13.8,4.6,6.9,4.6,2.3,4.6,2.3,9.2,6.9,4.6,6.9,4.6,2.3,4.6,2.3,2.3,6.9,11.5,4.6,2.3,2.3,2.3,4.6,2.3,2.3,4.6,4.6,4.6,4.6,2.3,4.6,4.6,2.3,2.3,6.9,4.6,2.3,2.3,16.1,2.3,2.3,2.3,6.9,2.3,4.6,4.6,4.6,4.6,4.6,2.3,2.3,4.6,2.3,2.3,4.6,2.3,2.3,4.6,4.6,13.8,6.9,2.3,2.3,2.3,2.3,2.3,36.7,4.6,2.3,2.3,2.3,4.6,18.4,2.3,2.3,6.9,4.6,4.6,4.6,4.6,2.3"/>
<path d="M1542.8,616.14h477.4" stroke="rgb(51,143,196)" stroke-width="2.46" stroke-dasharray="2.3,29.8,2.3,59.7,2.3,23,2.3,13.8,4.6,59.7,2.3,2.3,2.3,18.4,2.3,27.5,2.3,20.7,2.3,84.9,2.3,16.1,2.3,39,2.3,2.3,2.3,45.9"/>
<path d="M1542.8,618.45h477.4" stroke="rgb(51,143,196)" stroke-width="2.46" stroke-dasharray="0,25.2,2.3,135.4,2.3,36.7,2.3,2.3,4.6,89.5,2.3,78,2.3,6.9,2.3,34.4,2.3,45.9,2.3,0"/>
<path d="M1542.8,620.75h477.4" stroke="rgb(51,143,196)" stroke-width="2.46" stroke-dasharray="4.6,2.3,13.8,2.3,11.5,11.5,2.3,2.3,2.3,9.2,2.3,9.2,2.3,2.3,4.6,9.2,9.2,2.3,2.3,2.3,2.3,16.1,4.6,2.3,2.3,2.3,4.6,6.9,2.3,2.3,2.3,2.3,2.3,2.3,4.6,2.3,2.3,2.3,2.3,2.3,4.6,4.6,2.3,2.3,2.3,4.6,2.3,2.3,4.6,4.6,2.3,4.6,2.3,2.3,6.9,4.6,4.6,2.3,2.3,11.5,2.3,2.3,2.3,4.6,2.3,6.9,4.6,2.3,2.3,6.9,11.5,4.6,2.3,2.3,6.9,6.9,9.2,6.9,2.3,4.6,4.6,9.2,2.3,9.2,4.6,13.8,2.3,20.7,9.2,2.3,2.3,18.4,2.3,2.3,4.6,4.6,2.3,4.6,6.9,0"/>
<path d="M1542.8,623.06h477.4" stroke="rgb(51,143,196)" stroke-width="2.46" stroke-dasharray="2.3,6.9,2.3,11.5,2.3,55.1,2.3,16.1,2.3,4.6,2.3,16.1,2.3,6.9,2.3,6.9,2.3,2.3,2.3,29.8,2.3,55.1,2.3,25.2,2.3,4.6,2.3,75.7,2.3,57.4,2.3,2.3,2.3,20.7,2.3,39"/>
<path d="M1542.8,625.36h477.4" stroke="rgb(51,143,196)" stroke-width="2.46" stroke-dasharray="0,2.3,2.3,2.3,9.2,2.3,4.6,9.2,4.6,16.1,2.3,2.3,2.3,2.3,4.6,2.3,2.3,2.3,2.3,4.6,2.3,13.8,4.6,20.7,2.3,2.3,4.6,2.3,4.6,2.3,2.3,2.3,2.3,2.3,2.3,2.3,2.3,4.6,4.6,6.9,2.3,2.3,2.3,2.3,2.3,4.6,2.3,2.3,4.6,2.3,4.6,2.3,4.6,4.6,2.3,2.3,6.9,11.5,2.3,2.3,4.6,4.6,4.6,4.6,4.6,4.6,4.6,9.2,2.3,9.2,2.3,2.3,4.6,6.9,16.1,2.3,2.3,2.3,4.6,4.6,2.3,2.3,6.9,6.9,2.3,2.3,6.9,2.3,2.3,6.9,2.3,2.3,2.3,6.9,2.3,2.3,4.6,2.3,6.9,2.3,6.9,4.6,4.6,11.5,2.3,2.3,2.3,11.5,6.9,2.3,2.3,0"/>
<path d="M1542.8,627.67h477.4" stroke="rgb(51,143,196)" stroke-width="2.46" stroke-dasharray="4.6,2.3,18.4,2.3,2.3,2.3,6.9,2.3,2.3,2.3,2.3,2.3,4.6,4.6,6.9,6.9,2.3,11.5,2.3,2.3,6.9,9.2,2.3,16.1,16.1,2.3,9.2,2.3,9.2,6.9,4.6,2.3,6.9,2.3,2.3,9.2,4.6,2.3,2.3,4.6,2.3,4.6,4.6,6.9,2.3,6.9,4.6,2.3,2.3,2.3,4.6,4.6,2.3,6.9,6.9,2.3,2.3,13.8,9.2,4.6,2.3,2.3,6.9,2.3,13.8,4.6,4.6,2.3,2.3,2.3,2.3,4.6,4.6,4.6,2.3,29.8,2.3,6.9,2.3,2.3,2.3,2.3,2.3,2.3,2.3,25.2,6.9,2.3,2.3,4.6,2.3,6.9"/>
<path d="M1542.8,629.97h477.4" stroke="rgb(51,143,196)" stroke-width="2.46" stroke-dasharray="0,25.2,2.3,13.8,2.3,4.6,2.3,62,2.3,32.1,2.3,27.5,2.3,16.1,2.3,25.2,2.3,48.2,2.3,2.3,2.3,6.9,2.3,23,2.3,4.6,2.3,2.3,2.3,4.6,4.6,4.6,2.3,11.5,2.3,36.7,4.6,45.9,2.3,23,2.3,6.9"/>
<path d="M1542.8,632.28h477.4" stroke="rgb(51,143,196)" stroke-width="2.46" stroke-dasharray="0,2.3,2.3,2.3,4.6,4.6,6.9,4.6,9.2,9.2,4.6,6.9,9.2,2.3,2.3,2.3,2.3,4.6,4.6,11.5,2.3,9.2,2.3,2.3,6.9,9.2,6.9,2.3,4.6,4.6,13.8,4.6,2.3,2.3,9.2,2.3,2.3,4.6,2.3,2.3,4.6,2.3,4.6,2.3,2.3,9.2,2.3,2.3,4.6,4.6,2.3,2.3,4.6,2.3,4.6,6.9,2.3,4.6,2.3,4.6,9.2,2.3,2.3,6.9,2.3,2.3,2.3,2.3,13.8,2.3,4.6,2.3,2.3,2.3,11.5,4.6,4.6,2.3,4.6,9.2,4.6,6.9,4.6,20.7,2.3,2.3,2.3,4.6,11.5,2.3,4.6,13.8,2.3,2.3,6.9,2.3,2.3,2.3,4.6,2.3,2.3,2.3,2.3,2.3"/>
<path d="M1542.8,634.58h477.4" stroke="rgb(51,143,196)" stroke-width="2.46" stroke-dasharray="2.3,4.6,2.3,2.3,2.3,2.3,4.6,2.3,6.9,4.6,2.3,9.2,2.3,4.6,2.3,9.2,2.3,6.9,2.3,6.9,2.3,6.9,2.3,2.3,4.6,6.9,2.3,4.6,2.3,2.3,4.6,2.3,6.9,2.3,9.2,2.3,13.8,2.3,2.3,9.2,9.2,4.6,2.3,4.6,2.3,6.9,6.9,4.6,6.9,2.3,4.6,2.3,2.3,2.3,4.6,2.3,6.9,9.2,2.3,4.6,4.6,2.3,2.3,2.3,4.6,2.3,2.3,6.9,4.6,4.6,2.3,2.3,2.3,4.6,2.3,2.3,2.3,2.3,2.3,2.3,9.2,6.9,9.2,13.8,2.3,2.3,2.3,2.3,2.3,11.5,2.3,2.3,2.3,13.8,2.3,4.6,2.3,25.2,2.3,2.3,6.9,6.9,2.3,6.9,4.6,0"/>
<path d="M1542.8,636.89h477.4" stroke="rgb(51,143,196)" stroke-width="2.46" stroke-dasharray="4.6,4.6,11.5,2.3,6.9,2.3,4.6,18.4,11.5,6.9,2.3,20.7,4.6,2.3,2.3,2.3,2.3,6.9,2.3,2.3,2.3,2.3,4.6,2.3,6.9,2.3,2.3,2.3,9.2,2.3,2.3,2.3,4.6,4.6,4.6,4.6,2.3,4.6,2.3,4.6,2.3,2.3,4.6,2.3,4.6,6.9,2.3,2.3,6.9,2.3,2.3,2.3,4.6,2.3,2.3,2.3,2.3,4.6,4.6,2.3,2.3,4.6,9.2,6.9,2.3,6.9,2.3,4.6,4.6,4.6,2.3,2.3,2.3,2.3,18.4,4.6,6.9,2.3,4.6,11.5,2.3,2.3,2.3,9.2,2.3,25.2,2.3,2.3,9.2,9.2,2.3,13.8,2.3,4.6,4.6,2.3,2.3,2.3,2.3,2.3,2.3,2.3"/>
<path d="M1542.8,639.19h477.4" stroke="rgb(51,143,196)" stroke-width="2.46" stroke-dasharray="2.3,4.6,6.9,2.3,2.3,2.3,2.3,2.3,4.6,16.1,16.1,9.2,4.6,4.6,2.3,9.2,6.9,4.6,4.6,6.9,2.3,4.6,2.3,2.3,11.5,9.2,6.9,2.3,4.6,2.3,2.3,4.6,6.9,4.6,2.3,4.6,2.3,2.3,6.9,2.3,2.3,2.3,2.3,9.2,4.6,4.6,6.9,4.6,2.3,2.3,4.6,2.3,6.9,11.5,4.6,2.3,4.6,11.5,6.9,4.6,4.6,9.2,4.6,4.6,9.2,9.2,9.2,18.4,2.3,11.5,2.3,4.6,4.6,6.9,2.3,4.6,4.6,6.9,2.3,9.2,2.3,4.6,2.3,2.3,2.3,2.3,2.3,2.3,4.6,9.2,4.6,2.3,2.3,0"/>
<path d="M1542.8,641.50h477.4" stroke="rgb(51,143,196)" stroke-width="2.46" stroke-dasharray="6.9,2.3,2.3,2.3,2.3,2.3,11.5,4.6,4.6,6.9,6.9,6.9,2.3,2.3,2.3,4.6,2.3,4.6,2.3,11.5,2.3,2.3,4.6,2.3,2.3,2.3,2.3,4.6,2.3,4.6,2.3,2.3,4.6,6.9,4.6,4.6,4.6,2.3,4.6,2.3,4.6,6.9,9.2,6.9,2.3,2.3,4.6,2.3,4.6,4.6,2.3,4.6,2.3,6.9,4.6,2.3,2.3,2.3,9.2,9.2,9.2,4.6,9.2,2.3,9.2,6.9,6.9,4.6,4.6,2.3,2.3,4.6,9.2,11.5,4.6,2.3,6.9,6.9,2.3,6.9,2.3,20.7,2.3,6.9,2.3,2.3,2.3,4.6,4.6,2.3,2.3,9.2,2.3,2.3,2.3,4.6,2.3,2.3,6.9,4.6,4.6,2.3,9.2,0"/>
<path d="M1542.8,643.80h477.4" stroke="rgb(51,143,196)" stroke-width="2.46" stroke-dasharray="4.6,2.3,2.3,2.3,18.4,2.3,4.6,4.6,2.3,2.3,4.6,2.3,2.3,6.9,4.6,2.3,2.3,2.3,2.3,2.3,2.3,2.3,2.3,6.9,2.3,2.3,4.6,2.3,2.3,2.3,4.6,4.6,2.3,6.9,16.1,2.3,4.6,6.9,6.9,2.3,2.3,4.6,4.6,11.5,2.3,4.6,2.3,2.3,2.3,2.3,6.9,2.3,4.6,2.3,4.6,4.6,4.6,11.5,2.3,20.7,11.5,6.9,2.3,2.3,2.3,2.3,6.9,4.6,4.6,4.6,4.6,4.6,11.5,4.6,2.3,2.3,11.5,4.6,2.3,2.3,4.6,4.6,2.3,4.6,4.6,13.8,2.3,4.6,2.3,2.3,2.3,2.3,6.9,9.2,2.3,9.2,6.9,4.6,2.3,2.3,6.9,4.6,2.3,2.3"/>
<path d="M1542.8,646.11h477.4" stroke="rgb(51,143,196)" stroke-width="2.46" stroke-dasharray="0,13.8,4.6,16.1,2.3,48.2,2.3,25.2,2.3,6.9,2.3,91.8,2.3,9.2,2.3,2.3,2.3,9.2,2.3,4.6,2.3,6.9,2.3,18.4,4.6,11.5,2.3,4.6,2.3,2.3,4.6,16.1,2.3,9.2,2.3,2.3,2.3,20.7,2.3,43.6,4.6,45.9,2.3,11.5"/>
<path d="M1542.8,648.41h477.4" stroke="rgb(51,143,196)" stroke-width="2.46" stroke-dasharray="0,2.3,2.3,2.3,2.3,18.4,2.3,2.3,4.6,20.7,2.3,13.8,2.3,13.8,2.3,9.2,2.3,4.6,2.3,23,2.3,20.7,2.3,4.6,2.3,4.6,4.6,29.8,2.3,2.3,2.3,4.6,2.3,18.4,2.3,13.8,4.6,29.8,2.3,20.7,4.6,2.3,2.3,11.5,2.3,45.9,2.3,13.8,2.3,6.9,2.3,71.2"/>
<path d="M1542.8,650.72h477.4" stroke="rgb(51,143,196)" stroke-width="2.46" stroke-dasharray="4.6,4.6,20.7,2.3,4.6,9.2,9.2,2.3,9.2,6.9,9.2,9.2,4.6,2.3,2.3,2.3,2.3,2.3,2.3,4.6,4.6,2.3,2.3,2.3,4.6,2.3,9.2,2.3,2.3,4.6,6.9,2.3,4.6,13.8,4.6,4.6,2.3,2.3,2.3,11.5,4.6,2.3,2.3,2.3,2.3,2.3,4.6,4.6,2.3,4.6,2.3,4.6,2.3,4.6,2.3,4.6,4.6,6.9,4.6,4.6,2.3,2.3,2.3,11.5,2.3,6.9,4.6,2.3,6.9,9.2,2.3,2.3,4.6,9.2,2.3,2.3,2.3,11.5,2.3,2.3,2.3,9.2,4.6,2.3,2.3,6.9,2.3,2.3,2.3,6.9,13.8,2.3,2.3,2.3,2.3,9.2,13.8,2.3,4.6,2.3,9.2,0"/>
<path d="M1542.8,653.02h477.4" stroke="rgb(51,143,196)" stroke-width="2.46" stroke-dasharray="4.6,9.2,6.9,6.9,2.3,4.6,2.3,4.6,4.6,9.2,6.9,2.3,6.9,9.2,2.3,13.8,2.3,4.6,2.3,2.3,2.3,6.9,2.3,2.3,2.3,6.9,2.3,2.3,4.6,4.6,9.2,2.3,9.2,11.5,4.6,4.6,2.3,6.9,2.3,16.1,4.6,2.3,4.6,4.6,2.3,4.6,4.6,4.6,2.3,4.6,4.6,11.5,9.2,2.3,2.3,9.2,6.9,2.3,4.6,2.3,2.3,4.6,2.3,2.3,4.6,11.5,2.3,4.6,2.3,2.3,6.9,6.9,2.3,4.6,2.3,2.3,2.3,29.8,2.3,13.8,4.6,9.2,2.3,9.2,13.8,4.6,2.3,2.3,4.6,4.6"/>
<line x1="1542.8" y1="654.1" x2="2020.2" y2="285.3" stroke="#7ab8dc" stroke-width="1.6"/>
<rect x="1542.8" y="285.3" width="477.4" height="368.8" fill="none" stroke="#555" stroke-width="1.2"/>
<text class="s" x="1526.8" y="311.0" font-size="26" text-anchor="end" textLength="69.0" lengthAdjust="spacingAndGlyphs">40Mb</text>
<text class="s" x="1515.5" y="695.7" font-size="26" textLength="69.0" lengthAdjust="spacingAndGlyphs">28Mb</text>
<text class="s" x="1722.5" y="701.0" font-size="33" textLength="117.0" lengthAdjust="spacingAndGlyphs">Gene A</text>
<text class="s" x="1960.5" y="701.0" font-size="26" textLength="68.5" lengthAdjust="spacingAndGlyphs">40Mb</text>
<text class="s" font-size="33" transform="translate(1516.5,527) rotate(-90)" textLength="116" lengthAdjust="spacingAndGlyphs">Gene B</text>
<text class="s" x="752.6" y="729.0" font-size="43">F</text>
<clipPath id="cf"><rect x="872.4" y="735" width="459.4" height="321.5"/></clipPath>
<g clip-path="url(#cf)">
<rect x="872.4" y="735.0" width="459.4" height="321.5" fill="#fee29a"/>
<linearGradient id="cfg" gradientUnits="userSpaceOnUse" x1="951.1" y1="679.9" x2="1253.1" y2="1111.6"><stop offset="0" stop-color="#fff6d0" stop-opacity="0.20"/><stop offset="0.32" stop-color="#fff6d0" stop-opacity="0.09"/><stop offset="0.5" stop-color="#fff6d0" stop-opacity="0"/><stop offset="0.68" stop-color="#fff6d0" stop-opacity="0.09"/><stop offset="1" stop-color="#fff6d0" stop-opacity="0.20"/></linearGradient>
<rect x="872.4" y="735" width="459.4" height="321.5" fill="url(#cfg)"/>
<filter id="cfs" filterUnits="userSpaceOnUse" x="852.4" y="715" width="499.4" height="361.5"><feGaussianBlur stdDeviation="5"/></filter>
<g filter="url(#cfs)">
<rect x="872.4" y="735.0" width="459.4" height="59.0" fill="#fff3c8" opacity="0.55"/>
<rect x="1245.0" y="794.0" width="86.8" height="262.5" fill="#fff3c8" opacity="0.55"/>
<rect x="872.4" y="735.0" width="17.6" height="321.5" fill="#fff3c8" opacity="0.45"/>
<rect x="872.4" y="1048.0" width="459.4" height="8.5" fill="#fff3c8" opacity="0.4"/>
<rect x="872.4" y="921.5" width="192.9" height="135.0" fill="#fd8d3c" opacity="0.05"/>
<rect x="886.2" y="931.1" width="165.4" height="115.7" fill="#fd8d3c" opacity="0.04"/>
<rect x="918.3" y="960.0" width="91.9" height="64.3" fill="#fd8d3c" opacity="0.05"/>
<rect x="1065.3" y="831.5" width="128.6" height="90.0" fill="#fd8d3c" opacity="0.05"/>
<rect x="1079.1" y="841.1" width="101.1" height="70.7" fill="#fd8d3c" opacity="0.04"/>
<rect x="1125.1" y="799.3" width="114.9" height="80.4" fill="#fd8d3c" opacity="0.04"/>
<rect x="1230.7" y="735.0" width="101.1" height="70.7" fill="#fd8d3c" opacity="0.05"/>
<rect x="1244.5" y="744.6" width="73.5" height="51.4" fill="#fd8d3c" opacity="0.04"/>
</g>
<filter id="cfn" filterUnits="userSpaceOnUse" x="872.4" y="735" width="459.4" height="321.5"><feTurbulence type="fractalNoise" baseFrequency="0.391" numOctaves="1" seed="21"/><feColorMatrix type="matrix" values="0 0 0 0 1 0 0 0 0 1 0 0 0 0 1 3.2 0 0 0 -1.55"/></filter>
<rect x="872.4" y="735" width="459.4" height="321.5" fill="#fff" filter="url(#cfn)"/>
<filter id="cfm" filterUnits="userSpaceOnUse" x="872.4" y="735" width="459.4" height="321.5"><feTurbulence type="fractalNoise" baseFrequency="0.304" numOctaves="1" seed="26"/><feColorMatrix type="matrix" values="0 0 0 0 0.99 0 0 0 0 0.76 0 0 0 0 0.33 3.0 0 0 0 -1.5"/></filter>
<rect x="872.4" y="735" width="459.4" height="321.5" fill="#fff" filter="url(#cfm)"/>
<line x1="872.4" y1="1056.5" x2="1331.8" y2="735.0" stroke="#fd8d3c" stroke-width="110.0" stroke-opacity="0.08"/>
<line x1="872.4" y1="1056.5" x2="1331.8" y2="735.0" stroke="#fd8d3c" stroke-width="70.0" stroke-opacity="0.1"/>
<line x1="872.4" y1="1056.5" x2="1331.8" y2="735.0" stroke="#fd8d3c" stroke-width="42.0" stroke-opacity="0.14"/>
<line x1="872.4" y1="1056.5" x2="1331.8" y2="735.0" stroke="#fc6a30" stroke-width="24.0" stroke-opacity="0.2"/>
<line x1="872.4" y1="1056.5" x2="1331.8" y2="735.0" stroke="#fc4e2a" stroke-width="12.0" stroke-opacity="0.3"/>
<line x1="872.4" y1="1056.5" x2="1331.8" y2="735.0" stroke="#f03020" stroke-width="6.0" stroke-opacity="0.4"/>
<line x1="872.4" y1="1056.5" x2="1331.8" y2="735.0" stroke="#e31a1c" stroke-width="2.6" stroke-opacity="0.75"/>
</g>
<rect x="872.4" y="735" width="459.4" height="321.5" fill="none" stroke="#444" stroke-width="1"/>
<text class="s" x="1101.7" y="729.0" font-size="28" text-anchor="middle" textLength="162.0" lengthAdjust="spacingAndGlyphs">chr5:0-20Mb</text>
<text class="s" x="864.5" y="747.2" font-size="23" text-anchor="end">20.0</text>
<line x1="868.0" y1="738.9" x2="872.4" y2="738.9" stroke="#333" stroke-width="1"/>
<text class="s" x="864.5" y="826.0" font-size="23" text-anchor="end">15.0</text>
<line x1="868.0" y1="817.7" x2="872.4" y2="817.7" stroke="#333" stroke-width="1"/>
<text class="s" x="864.5" y="905.5" font-size="23" text-anchor="end">10.0</text>
<line x1="868.0" y1="897.2" x2="872.4" y2="897.2" stroke="#333" stroke-width="1"/>
<text class="s" x="864.5" y="985.0" font-size="23" text-anchor="end">5.0</text>
<line x1="868.0" y1="976.7" x2="872.4" y2="976.7" stroke="#333" stroke-width="1"/>
<text class="s" font-size="22.5" transform="translate(808,1054.2) rotate(-90)" textLength="310.4" lengthAdjust="spacingAndGlyphs">log2(interaction matrix) - 5 Mb</text>
<line x1="985.5" y1="1056.5" x2="985.5" y2="1060.5" stroke="#333" stroke-width="1"/>
<line x1="1099.5" y1="1056.5" x2="1099.5" y2="1060.5" stroke="#333" stroke-width="1"/>
<line x1="1213.5" y1="1056.5" x2="1213.5" y2="1060.5" stroke="#333" stroke-width="1"/>
<line x1="1328.5" y1="1056.5" x2="1328.5" y2="1060.5" stroke="#333" stroke-width="1"/>
<rect x="872.4" y="1063.7" width="459.4" height="7.5" fill="url(#ylorrd)" stroke="#444" stroke-width="0.8"/>
<line x1="872.4" y1="1071.2" x2="872.4" y2="1074.5" stroke="#333" stroke-width="1"/>
<text class="s" x="872.4" y="1094.0" font-size="21.5" text-anchor="middle">0.0</text>
<line x1="933.7" y1="1071.2" x2="933.7" y2="1074.5" stroke="#333" stroke-width="1"/>
<text class="s" x="933.7" y="1094.0" font-size="21.5" text-anchor="middle">2.0</text>
<line x1="994.9" y1="1071.2" x2="994.9" y2="1074.5" stroke="#333" stroke-width="1"/>
<text class="s" x="994.9" y="1094.0" font-size="21.5" text-anchor="middle">4.0</text>
<line x1="1056.2" y1="1071.2" x2="1056.2" y2="1074.5" stroke="#333" stroke-width="1"/>
<text class="s" x="1056.2" y="1094.0" font-size="21.5" text-anchor="middle">6.0</text>
<line x1="1117.4" y1="1071.2" x2="1117.4" y2="1074.5" stroke="#333" stroke-width="1"/>
<text class="s" x="1117.4" y="1094.0" font-size="21.5" text-anchor="middle">8.0</text>
<line x1="1178.7" y1="1071.2" x2="1178.7" y2="1074.5" stroke="#333" stroke-width="1"/>
<text class="s" x="1178.7" y="1094.0" font-size="21.5" text-anchor="middle">10.0</text>
<line x1="1239.9" y1="1071.2" x2="1239.9" y2="1074.5" stroke="#333" stroke-width="1"/>
<text class="s" x="1239.9" y="1094.0" font-size="21.5" text-anchor="middle">12.0</text>
<line x1="1301.2" y1="1071.2" x2="1301.2" y2="1074.5" stroke="#333" stroke-width="1"/>
<text class="s" x="1301.2" y="1094.0" font-size="21.5" text-anchor="middle">14.0</text>
<text class="s" x="1373.0" y="731.0" font-size="43">H</text>
<clipPath id="ch"><rect x="1554.2" y="739.2" width="461.4" height="333.1"/></clipPath>
<g clip-path="url(#ch)">
<rect x="1554.2" y="739.2" width="461.4" height="333.1" fill="#fdca78"/>
<linearGradient id="chg" gradientUnits="userSpaceOnUse" x1="1626.8" y1="686.8" x2="1943.0" y2="1124.7"><stop offset="0" stop-color="#fff6d0" stop-opacity="0.38"/><stop offset="0.32" stop-color="#fff6d0" stop-opacity="0.17"/><stop offset="0.5" stop-color="#fff6d0" stop-opacity="0"/><stop offset="0.68" stop-color="#fff6d0" stop-opacity="0.17"/><stop offset="1" stop-color="#fff6d0" stop-opacity="0.38"/></linearGradient>
<rect x="1554.2" y="739.2" width="461.4" height="333.1" fill="url(#chg)"/>
<filter id="chs" filterUnits="userSpaceOnUse" x="1534.2" y="719.2" width="501.4" height="373.1"><feGaussianBlur stdDeviation="5"/></filter>
<g filter="url(#chs)">
<rect x="1554.2" y="739.2" width="461.4" height="333.1" fill="#fee6a8" opacity="0.15"/>
<rect x="1554.2" y="972.4" width="138.4" height="99.9" fill="#fd8d3c" opacity="0.06"/>
<rect x="1568.0" y="982.4" width="110.7" height="79.9" fill="#fd8d3c" opacity="0.05"/>
<rect x="1669.5" y="872.4" width="161.5" height="116.6" fill="#fd8d3c" opacity="0.06"/>
<rect x="1683.4" y="882.4" width="133.8" height="96.6" fill="#fd8d3c" opacity="0.05"/>
<rect x="1738.8" y="822.5" width="161.5" height="116.6" fill="#fd8d3c" opacity="0.05"/>
<rect x="1877.2" y="739.2" width="138.4" height="99.9" fill="#fd8d3c" opacity="0.06"/>
<rect x="1891.0" y="749.2" width="110.7" height="79.9" fill="#fd8d3c" opacity="0.05"/>
<rect x="1808.0" y="789.2" width="138.4" height="99.9" fill="#fd8d3c" opacity="0.04"/>
</g>
<filter id="chn" filterUnits="userSpaceOnUse" x="1554.2" y="739.2" width="461.4" height="333.1"><feTurbulence type="fractalNoise" baseFrequency="0.273" numOctaves="1" seed="31"/><feColorMatrix type="matrix" values="0 0 0 0 1 0 0 0 0 1 0 0 0 0 1 3.0 0 0 0 -1.75"/></filter>
<rect x="1554.2" y="739.2" width="461.4" height="333.1" fill="#fff" filter="url(#chn)"/>
<filter id="chm" filterUnits="userSpaceOnUse" x="1554.2" y="739.2" width="461.4" height="333.1"><feTurbulence type="fractalNoise" baseFrequency="0.212" numOctaves="1" seed="36"/><feColorMatrix type="matrix" values="0 0 0 0 0.98 0 0 0 0 0.62 0 0 0 0 0.26 2.6 0 0 0 -1.35"/></filter>
<rect x="1554.2" y="739.2" width="461.4" height="333.1" fill="#fff" filter="url(#chm)"/>
<line x1="1554.2" y1="1072.3" x2="2015.6" y2="739.2" stroke="#fd8d3c" stroke-width="148.5" stroke-opacity="0.08"/>
<line x1="1554.2" y1="1072.3" x2="2015.6" y2="739.2" stroke="#fd8d3c" stroke-width="94.5" stroke-opacity="0.1"/>
<line x1="1554.2" y1="1072.3" x2="2015.6" y2="739.2" stroke="#fd8d3c" stroke-width="56.7" stroke-opacity="0.14"/>
<line x1="1554.2" y1="1072.3" x2="2015.6" y2="739.2" stroke="#fc6a30" stroke-width="32.4" stroke-opacity="0.2"/>
<line x1="1554.2" y1="1072.3" x2="2015.6" y2="739.2" stroke="#fc4e2a" stroke-width="16.2" stroke-opacity="0.3"/>
<line x1="1554.2" y1="1072.3" x2="2015.6" y2="739.2" stroke="#f03020" stroke-width="8.1" stroke-opacity="0.4"/>
<line x1="1554.2" y1="1072.3" x2="2015.6" y2="739.2" stroke="#e31a1c" stroke-width="3.2" stroke-opacity="0.75"/>
</g>
<rect x="1554.2" y="739.2" width="461.4" height="333.1" fill="none" stroke="#444" stroke-width="1"/>
<rect x="1729.5" y="739.5" width="7.5" height="32.5" fill="#fb8a40" opacity="0.55"/>
<rect x="1731.5" y="739.5" width="4.0" height="20.5" fill="#f06030" opacity="0.5"/>
<rect x="1968.0" y="940.0" width="47.0" height="5.0" fill="#f58a45" opacity="0.45"/>
<rect x="1985.0" y="941.3" width="30.0" height="2.4" fill="#e8502a" opacity="0.6"/>
<text class="s" x="1784.5" y="733.5" font-size="28" text-anchor="middle" textLength="179.0" lengthAdjust="spacingAndGlyphs">chr5:28-40Mb</text>
<text class="s" x="1546.4" y="750.7" font-size="23" text-anchor="end">40.0</text>
<line x1="1550.0" y1="742.4" x2="1554.2" y2="742.4" stroke="#333" stroke-width="1"/>
<text class="s" x="1546.4" y="818.7" font-size="23" text-anchor="end">37.5</text>
<line x1="1550.0" y1="810.4" x2="1554.2" y2="810.4" stroke="#333" stroke-width="1"/>
<text class="s" x="1546.4" y="887.1" font-size="23" text-anchor="end">35.0</text>
<line x1="1550.0" y1="878.8" x2="1554.2" y2="878.8" stroke="#333" stroke-width="1"/>
<text class="s" x="1546.4" y="955.5" font-size="23" text-anchor="end">32.5</text>
<line x1="1550.0" y1="947.2" x2="1554.2" y2="947.2" stroke="#333" stroke-width="1"/>
<text class="s" x="1546.4" y="1024.3" font-size="23" text-anchor="end">30.0</text>
<line x1="1550.0" y1="1016.0" x2="1554.2" y2="1016.0" stroke="#333" stroke-width="1"/>
<text class="s" font-size="22.5" transform="translate(1490.3,1070.5) rotate(-90)" textLength="321.7" lengthAdjust="spacingAndGlyphs">log2(interaction matrix) - 5 Mb</text>
<line x1="1632.2" y1="1072.3" x2="1632.2" y2="1076.3" stroke="#333" stroke-width="1"/>
<line x1="1727.5" y1="1072.3" x2="1727.5" y2="1076.3" stroke="#333" stroke-width="1"/>
<line x1="1822.8" y1="1072.3" x2="1822.8" y2="1076.3" stroke="#333" stroke-width="1"/>
<line x1="1918.2" y1="1072.3" x2="1918.2" y2="1076.3" stroke="#333" stroke-width="1"/>
<line x1="2013.5" y1="1072.3" x2="2013.5" y2="1076.3" stroke="#333" stroke-width="1"/>
<rect x="1554.2" y="1079.4" width="461.4" height="7.8" fill="url(#ylorrd)" stroke="#444" stroke-width="0.8"/>
<line x1="1554.2" y1="1087.2" x2="1554.2" y2="1090.5" stroke="#333" stroke-width="1"/>
<text class="s" x="1554.2" y="1110.0" font-size="21.5" text-anchor="middle">0.0</text>
<line x1="1615.7" y1="1087.2" x2="1615.7" y2="1090.5" stroke="#333" stroke-width="1"/>
<text class="s" x="1615.7" y="1110.0" font-size="21.5" text-anchor="middle">2.0</text>
<line x1="1677.2" y1="1087.2" x2="1677.2" y2="1090.5" stroke="#333" stroke-width="1"/>
<text class="s" x="1677.2" y="1110.0" font-size="21.5" text-anchor="middle">4.0</text>
<line x1="1738.8" y1="1087.2" x2="1738.8" y2="1090.5" stroke="#333" stroke-width="1"/>
<text class="s" x="1738.8" y="1110.0" font-size="21.5" text-anchor="middle">6.0</text>
<line x1="1800.3" y1="1087.2" x2="1800.3" y2="1090.5" stroke="#333" stroke-width="1"/>
<text class="s" x="1800.3" y="1110.0" font-size="21.5" text-anchor="middle">8.0</text>
<line x1="1861.8" y1="1087.2" x2="1861.8" y2="1090.5" stroke="#333" stroke-width="1"/>
<text class="s" x="1861.8" y="1110.0" font-size="21.5" text-anchor="middle">10.0</text>
<line x1="1923.3" y1="1087.2" x2="1923.3" y2="1090.5" stroke="#333" stroke-width="1"/>
<text class="s" x="1923.3" y="1110.0" font-size="21.5" text-anchor="middle">12.0</text>
<line x1="1984.8" y1="1087.2" x2="1984.8" y2="1090.5" stroke="#333" stroke-width="1"/>
<text class="s" x="1984.8" y="1110.0" font-size="21.5" text-anchor="middle">14.0</text>
<text class="s" x="756.5" y="1156.5" font-size="43">I</text>
<rect x="865" y="1128" width="483" height="40.6" rx="4" fill="#fff" stroke="#d8d8d8" stroke-width="1"/>
<rect x="875.7" y="1138.7" width="44.9" height="14.6" fill="#72b79f" stroke="#5a9a85" stroke-width="0.6"/>
<text class="s" x="939.2" y="1153.3" font-size="21" textLength="204.5" lengthAdjust="spacingAndGlyphs">Predicted hub genes</text>
<rect x="1189.4" y="1138.7" width="45.0" height="14.6" fill="#e8956f" stroke="#c07a5a" stroke-width="0.6"/>
<text class="s" x="1253.0" y="1153.3" font-size="21" textLength="83.0" lengthAdjust="spacingAndGlyphs">Random</text>
<line x1="839.1" y1="1478.3" x2="843.1" y2="1478.3" stroke="#333" stroke-width="1"/>
<text class="s" x="837.8" y="1483.5" font-size="14.5" text-anchor="end">0</text>
<line x1="839.1" y1="1424.3" x2="843.1" y2="1424.3" stroke="#333" stroke-width="1"/>
<text class="s" x="837.8" y="1429.5" font-size="14.5" text-anchor="end">10</text>
<line x1="839.1" y1="1370.3" x2="843.1" y2="1370.3" stroke="#333" stroke-width="1"/>
<text class="s" x="837.8" y="1375.5" font-size="14.5" text-anchor="end">20</text>
<line x1="839.1" y1="1316.3" x2="843.1" y2="1316.3" stroke="#333" stroke-width="1"/>
<text class="s" x="837.8" y="1321.5" font-size="14.5" text-anchor="end">30</text>
<line x1="839.1" y1="1262.3" x2="843.1" y2="1262.3" stroke="#333" stroke-width="1"/>
<text class="s" x="837.8" y="1267.5" font-size="14.5" text-anchor="end">40</text>
<line x1="839.1" y1="1208.3" x2="843.1" y2="1208.3" stroke="#333" stroke-width="1"/>
<text class="s" x="837.8" y="1213.5" font-size="14.5" text-anchor="end">50</text>
<text class="s" font-size="23" transform="translate(806,1426.4) rotate(-90)" textLength="166" lengthAdjust="spacingAndGlyphs">The value of peak</text>
<line x1="873.3" y1="1504.9" x2="873.3" y2="1508.4" stroke="#333" stroke-width="1"/>
<line x1="939.3" y1="1504.9" x2="939.3" y2="1508.4" stroke="#333" stroke-width="1"/>
<line x1="1005.6" y1="1504.9" x2="1005.6" y2="1508.4" stroke="#333" stroke-width="1"/>
<line x1="1071.8" y1="1504.9" x2="1071.8" y2="1508.4" stroke="#333" stroke-width="1"/>
<line x1="1137.4" y1="1504.9" x2="1137.4" y2="1508.4" stroke="#333" stroke-width="1"/>
<line x1="1203.1" y1="1504.9" x2="1203.1" y2="1508.4" stroke="#333" stroke-width="1"/>
<line x1="1269.2" y1="1504.9" x2="1269.2" y2="1508.4" stroke="#333" stroke-width="1"/>
<line x1="1335.2" y1="1504.9" x2="1335.2" y2="1508.4" stroke="#333" stroke-width="1"/>
<line x1="873.3" y1="1478.3" x2="873.3" y2="1222.3" stroke="#666" stroke-width="0.9"/>
<path d="M873.30,1493.96 L873.30,1493.96 L871.80,1489.10 L869.80,1483.70 L867.90,1478.30 L868.80,1472.90 L871.80,1467.50 L872.70,1464.80 L872.50,1456.70 L871.50,1445.90 L871.00,1437.80 L871.50,1429.70 L872.50,1418.90 L873.30,1410.80 L873.30,1410.80 Z" fill="#72b79f" stroke="#555" stroke-width="0.7" stroke-linejoin="round"/>
<path d="M873.30,1481.54 L873.30,1481.54 L878.30,1479.38 L883.20,1477.22 L881.30,1473.98 L877.30,1470.20 L874.10,1466.42 L873.30,1464.26 L873.30,1464.26 Z" fill="#e8956f" stroke="#555" stroke-width="0.7" stroke-linejoin="round"/>
<circle cx="866.4" cy="1455.9" r="2.1" fill="#000"/>
<circle cx="879.8" cy="1477.9" r="2.1" fill="#000"/>
<line x1="939.3" y1="1478.3" x2="939.3" y2="1373.5" stroke="#666" stroke-width="0.9"/>
<path d="M939.30,1481.00 L939.30,1481.00 L931.30,1479.38 L913.30,1476.41 L921.30,1474.52 L928.30,1471.28 L933.30,1467.50 L936.80,1462.10 L938.30,1454.00 L939.00,1443.20 L939.30,1435.10 L939.30,1435.10 Z" fill="#72b79f" stroke="#555" stroke-width="0.7" stroke-linejoin="round"/>
<path d="M939.30,1480.46 L939.30,1480.46 L949.30,1478.84 L965.70,1477.76 L951.30,1476.14 L944.30,1472.90 L941.30,1467.50 L939.90,1459.40 L939.30,1445.90 L939.30,1445.90 Z" fill="#e8956f" stroke="#555" stroke-width="0.7" stroke-linejoin="round"/>
<circle cx="932.7" cy="1476.7" r="2.1" fill="#000"/>
<circle cx="946.1" cy="1478.1" r="2.1" fill="#000"/>
<line x1="1005.6" y1="1478.3" x2="1005.6" y2="1323.9" stroke="#666" stroke-width="0.9"/>
<path d="M1005.60,1481.00 L1005.60,1481.00 L997.60,1479.38 L981.30,1476.68 L988.60,1474.52 L995.60,1471.28 L1000.10,1467.50 L1003.10,1462.10 L1004.60,1454.00 L1005.30,1443.20 L1005.60,1435.10 L1005.60,1435.10 Z" fill="#72b79f" stroke="#555" stroke-width="0.7" stroke-linejoin="round"/>
<path d="M1005.60,1480.46 L1005.60,1480.46 L1015.60,1478.84 L1027.80,1477.76 L1016.60,1476.14 L1010.10,1472.90 L1007.60,1467.50 L1006.20,1459.40 L1005.60,1445.90 L1005.60,1445.90 Z" fill="#e8956f" stroke="#555" stroke-width="0.7" stroke-linejoin="round"/>
<circle cx="999" cy="1477" r="2.1" fill="#000"/>
<circle cx="1012" cy="1477.6" r="2.1" fill="#000"/>
<line x1="1071.8" y1="1478.3" x2="1071.8" y2="1388.1" stroke="#666" stroke-width="0.9"/>
<path d="M1071.80,1481.54 L1071.80,1481.54 L1065.80,1479.92 L1056.80,1478.30 L1058.80,1476.68 L1057.30,1475.60 L1054.30,1472.90 L1061.40,1469.12 L1067.80,1464.80 L1071.00,1458.86 L1071.60,1451.30 L1071.80,1445.90 L1071.80,1445.90 Z" fill="#72b79f" stroke="#555" stroke-width="0.7" stroke-linejoin="round"/>
<path d="M1071.80,1479.92 L1071.80,1479.92 L1084.70,1477.76 L1077.80,1475.06 L1072.30,1473.44 L1072.30,1470.74 L1074.80,1468.04 L1078.80,1465.34 L1074.80,1462.64 L1072.10,1458.86 L1071.80,1455.62 L1071.80,1455.62 Z" fill="#e8956f" stroke="#555" stroke-width="0.7" stroke-linejoin="round"/>
<circle cx="1064.7" cy="1474.2" r="2.1" fill="#000"/>
<circle cx="1077.5" cy="1473.3" r="2.1" fill="#000"/>
<line x1="1137.4" y1="1478.3" x2="1137.4" y2="1239.6" stroke="#666" stroke-width="0.9"/>
<path d="M1137.40,1483.70 L1137.40,1483.70 L1131.40,1480.46 L1122.60,1478.30 L1129.40,1475.06 L1136.90,1471.28 L1136.90,1468.04 L1132.40,1464.26 L1128.50,1457.24 L1134.40,1452.38 L1136.90,1449.68 L1137.40,1445.90 L1137.40,1445.90 Z" fill="#72b79f" stroke="#555" stroke-width="0.7" stroke-linejoin="round"/>
<path d="M1137.40,1479.92 L1137.40,1479.92 L1145.40,1478.30 L1161.40,1477.22 L1143.40,1475.60 L1137.70,1473.44 L1137.70,1466.96 L1139.40,1464.26 L1142.80,1461.02 L1139.40,1457.78 L1137.40,1454.00 L1137.40,1454.00 Z" fill="#e8956f" stroke="#555" stroke-width="0.7" stroke-linejoin="round"/>
<circle cx="1130.8" cy="1477.9" r="2.1" fill="#000"/>
<circle cx="1144" cy="1477.9" r="2.1" fill="#000"/>
<line x1="1203.1" y1="1478.3" x2="1203.1" y2="1406.5" stroke="#666" stroke-width="0.9"/>
<path d="M1203.10,1489.64 L1203.10,1489.64 L1199.10,1483.70 L1194.50,1478.30 L1199.10,1474.52 L1202.30,1471.28 L1202.30,1466.96 L1200.10,1462.10 L1198.10,1452.92 L1200.10,1443.20 L1203.10,1428.62 L1203.10,1428.62 Z" fill="#72b79f" stroke="#555" stroke-width="0.7" stroke-linejoin="round"/>
<path d="M1203.10,1481.00 L1203.10,1481.00 L1209.10,1478.84 L1218.10,1477.76 L1208.10,1475.60 L1203.40,1472.90 L1203.40,1466.42 L1206.10,1462.10 L1207.10,1457.78 L1205.10,1453.46 L1203.10,1448.60 L1203.10,1448.60 Z" fill="#e8956f" stroke="#555" stroke-width="0.7" stroke-linejoin="round"/>
<circle cx="1196.7" cy="1459.5" r="2.1" fill="#000"/>
<circle cx="1210.1" cy="1477.9" r="2.1" fill="#000"/>
<line x1="1269.2" y1="1478.3" x2="1269.2" y2="1395.1" stroke="#666" stroke-width="0.9"/>
<path d="M1269.20,1490.72 L1269.20,1490.72 L1264.70,1483.70 L1260.60,1478.30 L1264.20,1473.98 L1268.00,1470.20 L1268.40,1465.34 L1267.70,1456.70 L1266.00,1442.66 L1267.70,1432.40 L1269.20,1427.00 L1269.20,1427.00 Z" fill="#72b79f" stroke="#555" stroke-width="0.7" stroke-linejoin="round"/>
<path d="M1269.20,1481.00 L1269.20,1481.00 L1275.20,1478.84 L1286.20,1477.76 L1274.20,1475.60 L1269.70,1472.90 L1269.20,1470.20 L1269.20,1470.20 Z" fill="#e8956f" stroke="#555" stroke-width="0.7" stroke-linejoin="round"/>
<circle cx="1262.8" cy="1477.9" r="2.1" fill="#000"/>
<circle cx="1275.8" cy="1477.9" r="2.1" fill="#000"/>
<line x1="1335.2" y1="1478.3" x2="1335.2" y2="1370.8" stroke="#666" stroke-width="0.9"/>
<path d="M1335.20,1490.18 L1335.20,1490.18 L1331.70,1483.70 L1328.60,1478.30 L1331.20,1473.98 L1334.00,1470.20 L1334.00,1465.34 L1332.70,1456.70 L1332.20,1450.76 L1333.70,1440.50 L1335.20,1429.70 L1335.20,1429.70 Z" fill="#72b79f" stroke="#555" stroke-width="0.7" stroke-linejoin="round"/>
<path d="M1335.20,1481.54 L1335.20,1481.54 L1340.20,1478.84 L1346.50,1477.76 L1339.20,1475.06 L1335.70,1472.90 L1335.70,1466.42 L1337.00,1462.10 L1337.50,1456.70 L1336.20,1451.30 L1335.20,1445.90 L1335.20,1445.90 Z" fill="#e8956f" stroke="#555" stroke-width="0.7" stroke-linejoin="round"/>
<circle cx="1328.6" cy="1460.8" r="2.1" fill="#000"/>
<circle cx="1342" cy="1477.9" r="2.1" fill="#000"/>
<rect x="843.1" y="1181.4" width="527.1" height="323.5" fill="none" stroke="#333" stroke-width="1.5"/>
<text class="s" x="860.4" y="1210.9" font-size="21.5" textLength="101.3" lengthAdjust="spacingAndGlyphs">p=3.2e-26</text>
<text class="s" x="877.7" y="1232.0" font-size="22" text-anchor="middle">****</text>
<text class="s" x="888.9" y="1344.0" font-size="21.5" textLength="101.2" lengthAdjust="spacingAndGlyphs">p=3.2e-03</text>
<text class="s" x="939.5" y="1364.6" font-size="22" text-anchor="middle">***</text>
<text class="s" x="954.0" y="1292.4" font-size="21.5" textLength="102.2" lengthAdjust="spacingAndGlyphs">p=4.2e-02</text>
<text class="s" x="1005.4" y="1313.0" font-size="22" text-anchor="middle">**</text>
<text class="s" x="1020.8" y="1359.2" font-size="21.5" textLength="101.2" lengthAdjust="spacingAndGlyphs">p=1.6e-63</text>
<text class="s" x="1071.2" y="1380.5" font-size="22" text-anchor="middle">****</text>
<text class="s" x="1086.6" y="1204.5" font-size="21.5" textLength="100.6" lengthAdjust="spacingAndGlyphs">p=9.7e-21</text>
<text class="s" x="1137.6" y="1226.5" font-size="22" text-anchor="middle">****</text>
<text class="s" x="1152.4" y="1379.8" font-size="21.5" textLength="101.6" lengthAdjust="spacingAndGlyphs">p=1.0e-20</text>
<text class="s" x="1203.1" y="1400.8" font-size="22" text-anchor="middle">****</text>
<text class="s" x="1218.6" y="1318.5" font-size="21.5" textLength="102.2" lengthAdjust="spacingAndGlyphs">p=2.1e-30</text>
<text class="s" x="1269.9" y="1339.5" font-size="22" text-anchor="middle">****</text>
<text class="s" x="1264.2" y="1359.2" font-size="21.5" textLength="102.8" lengthAdjust="spacingAndGlyphs">p=1.4e-12</text>
<text class="s" x="1316.0" y="1380.5" font-size="22" text-anchor="middle">****</text>
<text class="s" font-size="20.8" text-anchor="middle" x="873.2" y="1532.9" transform="rotate(-30 873.2 1527)">ATAC</text>
<text class="s" font-size="20.8" text-anchor="middle" x="938.7" y="1527.7" transform="rotate(-30 938.7 1521.8)">CG</text>
<text class="s" font-size="20.8" text-anchor="middle" x="1004.8" y="1530.9" transform="rotate(-30 1004.8 1525)">CHG</text>
<text class="s" font-size="20.8" text-anchor="middle" x="1070.8" y="1531.5" transform="rotate(-30 1070.8 1525.6)">CHH</text>
<text class="s" font-size="20.8" text-anchor="middle" x="1136.5" y="1536.9" transform="rotate(-30 1136.5 1531)">DNase</text>
<text class="s" font-size="20.8" text-anchor="middle" x="1203.5" y="1539.1" transform="rotate(-30 1203.5 1533.2)">H3K9ac</text>
<text class="s" font-size="20.8" text-anchor="middle" x="1268.2" y="1542.9" transform="rotate(-30 1268.2 1537)">H3K4me3</text>
<text class="s" font-size="20.8" text-anchor="middle" x="1334.8" y="1539.6" transform="rotate(-30 1334.8 1533.7)">H3K27ac</text>
<text class="s" x="1381.5" y="1156.3" font-size="43">J</text>
<rect x="1455.5" y="1134.2" width="115.8" height="27.5" fill="#5ecc8c"/>
<text class="s" x="1513.4" y="1156.3" font-size="22" text-anchor="middle">Maize</text>
<rect x="1571.3" y="1134.2" width="115.8" height="27.5" fill="#80d0d4"/>
<text class="s" x="1629.2" y="1156.3" font-size="22" text-anchor="middle">Cotton</text>
<rect x="1687.1" y="1134.2" width="114.7" height="27.5" fill="#f07050"/>
<text class="s" x="1744.4" y="1156.3" font-size="22" text-anchor="middle">Wheat</text>
<rect x="1801.8" y="1134.2" width="115.8" height="27.5" fill="#30bcdc"/>
<text class="s" x="1859.7" y="1156.3" font-size="22" text-anchor="middle">MH63</text>
<rect x="1917.6" y="1134.2" width="115.1" height="27.5" fill="#c25c90"/>
<text class="s" x="1975.2" y="1156.3" font-size="22" text-anchor="middle">ZS97</text>
<rect x="1455.5" y="1161.7" width="577.2" height="13.8" fill="#fce4b4"/>
<line x1="1455.5" y1="1175.5" x2="2032.7" y2="1175.5" stroke="#555" stroke-width="0.8" stroke-dasharray="2,2"/>
<rect x="1455.5" y="1438.2" width="577.2" height="16.9" fill="#d0dcf8"/>
<line x1="1455.5" y1="1438.2" x2="2032.7" y2="1438.2" stroke="#555" stroke-width="0.8" stroke-dasharray="2,2"/>
<line x1="1452.5" y1="1422.8" x2="1455.0" y2="1422.8" stroke="#666" stroke-width="0.8"/>
<text class="s" x="1451.5" y="1430.0" font-size="20" text-anchor="end">0</text>
<line x1="1452.5" y1="1367.9" x2="1455.0" y2="1367.9" stroke="#666" stroke-width="0.8"/>
<text class="s" x="1451.5" y="1375.1" font-size="20" text-anchor="end">1</text>
<line x1="1452.5" y1="1313.0" x2="1455.0" y2="1313.0" stroke="#666" stroke-width="0.8"/>
<text class="s" x="1451.5" y="1320.2" font-size="20" text-anchor="end">2</text>
<line x1="1452.5" y1="1258.1" x2="1455.0" y2="1258.1" stroke="#666" stroke-width="0.8"/>
<text class="s" x="1451.5" y="1265.3" font-size="20" text-anchor="end">3</text>
<line x1="1452.5" y1="1203.2" x2="1455.0" y2="1203.2" stroke="#666" stroke-width="0.8"/>
<text class="s" x="1451.5" y="1210.4" font-size="20" text-anchor="end">4</text>
<text class="s" font-size="21" transform="translate(1429.3,1377.5) rotate(-90)" textLength="137" lengthAdjust="spacingAndGlyphs">Log(FPKM+1)</text>
<path d="M1487.30,1416.21 L1487.30,1416.21 L1480.30,1412.37 L1480.40,1409.08 L1478.30,1406.33 L1473.50,1399.19 L1478.30,1392.61 L1483.80,1385.47 L1487.30,1381.62 L1487.30,1381.62 L1490.80,1385.47 L1496.30,1392.61 L1501.10,1399.19 L1496.30,1406.33 L1494.20,1409.08 L1494.30,1412.37 L1487.30,1416.21 Z" fill="#5cc98a" stroke="#555" stroke-width="0.6" stroke-linejoin="round"/>
<line x1="1487.3" y1="1414.0" x2="1487.3" y2="1378.0" stroke="#444" stroke-width="0.9"/>
<rect x="1482.3" y="1397.7" width="10.0" height="7.7" fill="#fff" stroke="#444" stroke-width="0.8"/>
<line x1="1482.3" y1="1401.4" x2="1492.3" y2="1401.4" stroke="#444" stroke-width="0.9"/>
<line x1="1484.3" y1="1385.5" x2="1490.3" y2="1385.5" stroke="#444" stroke-width="0.9"/>
<line x1="1487.3" y1="1382.5" x2="1487.3" y2="1388.5" stroke="#444" stroke-width="0.9"/>
<path d="M1539.80,1426.64 L1539.80,1426.64 L1531.80,1423.90 L1516.30,1422.80 L1531.80,1421.15 L1536.30,1417.31 L1535.00,1406.33 L1534.60,1395.35 L1536.30,1384.37 L1538.80,1373.39 L1539.80,1369.00 L1539.80,1369.00 L1540.80,1373.39 L1543.30,1384.37 L1545.00,1395.35 L1544.60,1406.33 L1543.30,1417.31 L1547.80,1421.15 L1563.30,1422.80 L1547.80,1423.90 L1539.80,1426.64 Z" fill="#5cc98a" stroke="#555" stroke-width="0.6" stroke-linejoin="round"/>
<line x1="1539.8" y1="1422.3" x2="1539.8" y2="1360.0" stroke="#444" stroke-width="0.9"/>
<rect x="1534.5" y="1392.9" width="10.6" height="29.4" fill="#fff" stroke="#444" stroke-width="0.8"/>
<line x1="1534.5" y1="1410.6" x2="1545.1" y2="1410.6" stroke="#444" stroke-width="0.9"/>
<line x1="1536.8" y1="1363.1" x2="1542.8" y2="1363.1" stroke="#444" stroke-width="0.9"/>
<line x1="1539.8" y1="1360.1" x2="1539.8" y2="1366.1" stroke="#444" stroke-width="0.9"/>
<path d="M1602.70,1440.37 L1602.70,1440.37 L1597.70,1431.03 L1593.20,1422.80 L1592.90,1414.57 L1596.70,1406.33 L1595.70,1395.35 L1594.20,1378.88 L1593.90,1367.90 L1594.70,1356.92 L1597.70,1340.45 L1600.20,1323.98 L1602.20,1307.51 L1602.70,1302.02 L1602.70,1302.02 L1603.20,1307.51 L1605.20,1323.98 L1607.70,1340.45 L1610.70,1356.92 L1611.50,1367.90 L1611.20,1378.88 L1609.70,1395.35 L1608.70,1406.33 L1612.50,1414.57 L1612.20,1422.80 L1607.70,1431.03 L1602.70,1440.37 Z" fill="#78ccd4" stroke="#555" stroke-width="0.6" stroke-linejoin="round"/>
<line x1="1602.7" y1="1290.0" x2="1602.7" y2="1190.2" stroke="#444" stroke-width="0.8"/>
<line x1="1602.7" y1="1422.8" x2="1602.7" y2="1283.1" stroke="#444" stroke-width="0.9"/>
<rect x="1597.5" y="1356.7" width="10.4" height="49.1" fill="#fff" stroke="#444" stroke-width="0.8"/>
<line x1="1597.5" y1="1377.3" x2="1607.9" y2="1377.3" stroke="#444" stroke-width="0.9"/>
<line x1="1599.7" y1="1283.1" x2="1605.7" y2="1283.1" stroke="#444" stroke-width="0.9"/>
<line x1="1602.7" y1="1280.1" x2="1602.7" y2="1286.1" stroke="#444" stroke-width="0.9"/>
<path d="M1655.40,1430.49 L1655.40,1430.49 L1649.40,1425.54 L1632.00,1420.06 L1645.40,1414.57 L1649.90,1406.33 L1649.90,1389.86 L1648.40,1373.39 L1647.60,1362.41 L1648.90,1351.43 L1652.40,1329.47 L1654.40,1307.51 L1655.40,1296.53 L1655.40,1296.53 L1656.40,1307.51 L1658.40,1329.47 L1661.90,1351.43 L1663.20,1362.41 L1662.40,1373.39 L1660.90,1389.86 L1660.90,1406.33 L1665.40,1414.57 L1678.80,1420.06 L1661.40,1425.54 L1655.40,1430.49 Z" fill="#78ccd4" stroke="#555" stroke-width="0.6" stroke-linejoin="round"/>
<line x1="1655.4" y1="1290.0" x2="1655.4" y2="1190.2" stroke="#444" stroke-width="0.8"/>
<line x1="1655.4" y1="1422.8" x2="1655.4" y2="1265.6" stroke="#444" stroke-width="0.9"/>
<rect x="1650.5" y="1357.6" width="9.8" height="60.7" fill="#fff" stroke="#444" stroke-width="0.8"/>
<line x1="1650.5" y1="1383.0" x2="1660.3" y2="1383.0" stroke="#444" stroke-width="0.9"/>
<line x1="1652.4" y1="1265.6" x2="1658.4" y2="1265.6" stroke="#444" stroke-width="0.9"/>
<line x1="1655.4" y1="1262.6" x2="1655.4" y2="1268.6" stroke="#444" stroke-width="0.9"/>
<path d="M1718.50,1425.54 L1718.50,1425.54 L1711.50,1420.06 L1707.90,1414.57 L1709.50,1409.08 L1712.50,1400.84 L1716.50,1392.61 L1718.50,1389.86 L1718.50,1389.86 L1720.50,1392.61 L1724.50,1400.84 L1727.50,1409.08 L1729.10,1414.57 L1725.50,1420.06 L1718.50,1425.54 Z" fill="#f06e4e" stroke="#555" stroke-width="0.6" stroke-linejoin="round"/>
<line x1="1718.5" y1="1420.0" x2="1718.5" y2="1385.0" stroke="#444" stroke-width="0.9"/>
<rect x="1713.5" y="1407.3" width="10.0" height="10.1" fill="#fff" stroke="#444" stroke-width="0.8"/>
<line x1="1713.5" y1="1411.9" x2="1723.5" y2="1411.9" stroke="#444" stroke-width="0.9"/>
<line x1="1715.5" y1="1388.9" x2="1721.5" y2="1388.9" stroke="#444" stroke-width="0.9"/>
<line x1="1718.5" y1="1385.9" x2="1718.5" y2="1391.9" stroke="#444" stroke-width="0.9"/>
<path d="M1770.60,1436.52 L1770.60,1436.52 L1762.60,1434.88 L1747.20,1433.23 L1762.60,1431.03 L1766.60,1425.54 L1767.60,1411.82 L1767.40,1400.84 L1768.60,1389.86 L1770.60,1376.13 L1770.60,1376.13 L1772.60,1389.86 L1773.80,1400.84 L1773.60,1411.82 L1774.60,1425.54 L1778.60,1431.03 L1794.00,1433.23 L1778.60,1434.88 L1770.60,1436.52 Z" fill="#f06e4e" stroke="#555" stroke-width="0.6" stroke-linejoin="round"/>
<line x1="1770.6" y1="1434.3" x2="1770.6" y2="1362.0" stroke="#444" stroke-width="0.9"/>
<rect x="1765.6" y="1405.4" width="10.0" height="28.9" fill="#fff" stroke="#444" stroke-width="0.8"/>
<line x1="1765.6" y1="1427.5" x2="1775.6" y2="1427.5" stroke="#444" stroke-width="0.9"/>
<line x1="1767.6" y1="1366.4" x2="1773.6" y2="1366.4" stroke="#444" stroke-width="0.9"/>
<line x1="1770.6" y1="1363.4" x2="1770.6" y2="1369.4" stroke="#444" stroke-width="0.9"/>
<path d="M1833.50,1422.80 L1833.50,1422.80 L1829.50,1420.06 L1828.30,1417.86 L1833.50,1417.31 L1833.50,1417.31 L1838.70,1417.86 L1837.50,1420.06 L1833.50,1422.80 Z" fill="#30bcde" stroke="#555" stroke-width="0.6" stroke-linejoin="round"/>
<line x1="1833.5" y1="1417.7" x2="1833.5" y2="1385.2" stroke="#444" stroke-width="0.9"/>
<rect x="1828.3" y="1405.4" width="10.4" height="12.3" fill="#fff" stroke="#444" stroke-width="0.8"/>
<line x1="1828.3" y1="1417.7" x2="1838.7" y2="1417.7" stroke="#444" stroke-width="0.9"/>
<line x1="1830.5" y1="1390.4" x2="1836.5" y2="1390.4" stroke="#444" stroke-width="0.9"/>
<line x1="1833.5" y1="1387.4" x2="1833.5" y2="1393.4" stroke="#444" stroke-width="0.9"/>
<line x1="1862.6" y1="1422.0" x2="1909.5" y2="1422.0" stroke="#555" stroke-width="1.2"/>
<line x1="1886.0" y1="1421.7" x2="1886.0" y2="1369.3" stroke="#444" stroke-width="0.9"/>
<rect x="1880.4" y="1416.2" width="11.2" height="5.5" fill="#fff" stroke="#444" stroke-width="0.8"/>
<line x1="1880.4" y1="1421.7" x2="1891.6" y2="1421.7" stroke="#444" stroke-width="0.9"/>
<line x1="1883.0" y1="1407.6" x2="1889.0" y2="1407.6" stroke="#444" stroke-width="0.9"/>
<line x1="1886.0" y1="1404.6" x2="1886.0" y2="1410.6" stroke="#444" stroke-width="0.9"/>
<path d="M1949.00,1422.80 L1949.00,1422.80 L1945.00,1420.06 L1943.50,1418.41 L1949.00,1417.86 L1949.00,1417.86 L1954.50,1418.41 L1953.00,1420.06 L1949.00,1422.80 Z" fill="#c25a92" stroke="#555" stroke-width="0.6" stroke-linejoin="round"/>
<line x1="1949.0" y1="1418.4" x2="1949.0" y2="1383.9" stroke="#444" stroke-width="0.9"/>
<rect x="1943.3" y="1407.0" width="11.4" height="11.4" fill="#fff" stroke="#444" stroke-width="0.8"/>
<line x1="1943.3" y1="1418.4" x2="1954.7" y2="1418.4" stroke="#444" stroke-width="0.9"/>
<line x1="1946.0" y1="1391.4" x2="1952.0" y2="1391.4" stroke="#444" stroke-width="0.9"/>
<line x1="1949.0" y1="1388.4" x2="1949.0" y2="1394.4" stroke="#444" stroke-width="0.9"/>
<line x1="1977.9" y1="1422.0" x2="2025.2" y2="1422.0" stroke="#555" stroke-width="1.2"/>
<line x1="2001.6" y1="1422.3" x2="2001.6" y2="1368.5" stroke="#444" stroke-width="0.9"/>
<rect x="1996.3" y="1418.4" width="10.6" height="3.9" fill="#fff" stroke="#444" stroke-width="0.8"/>
<line x1="1996.3" y1="1422.3" x2="2006.9" y2="1422.3" stroke="#444" stroke-width="0.9"/>
<line x1="1998.6" y1="1412.5" x2="2004.6" y2="1412.5" stroke="#444" stroke-width="0.9"/>
<line x1="2001.6" y1="1409.5" x2="2001.6" y2="1415.5" stroke="#444" stroke-width="0.9"/>
<path d="M1487.3,1344 V1341 H1539.8 V1344" fill="none" stroke="#555" stroke-width="0.9"/>
<text class="s" x="1478.0" y="1337.4" font-size="17" textLength="70.5" lengthAdjust="spacingAndGlyphs">8.76e-53</text>
<path d="M1602.3,1180.4 V1177.4 H1655.4 V1180.4" fill="none" stroke="#555" stroke-width="0.9"/>
<text class="s" x="1594.0" y="1174.8" font-size="17" textLength="69.5" lengthAdjust="spacingAndGlyphs">1.37e-09</text>
<path d="M1718.5,1347 V1344 H1770.6 V1347" fill="none" stroke="#555" stroke-width="0.9"/>
<text class="s" x="1703.3" y="1341.0" font-size="17" textLength="80.0" lengthAdjust="spacingAndGlyphs">2.69e-177</text>
<path d="M1833.5,1350.4 V1347.4 H1886.3 V1350.4" fill="none" stroke="#555" stroke-width="0.9"/>
<text class="s" x="1859.6" y="1344.8" font-size="18" text-anchor="middle">0</text>
<path d="M1949,1349.7 V1346.7 H2001.6 V1349.7" fill="none" stroke="#555" stroke-width="0.9"/>
<text class="s" x="1974.6" y="1343.7" font-size="18" text-anchor="middle">0</text>
<line x1="1487.3" y1="1455.1" x2="1487.3" y2="1458.5" stroke="#666" stroke-width="0.8"/>
<text class="s" font-size="20.5" transform="translate(1500.3,1560) rotate(-90)">Hub genes</text>
<line x1="1539.8" y1="1455.1" x2="1539.8" y2="1458.5" stroke="#666" stroke-width="0.8"/>
<text class="s" font-size="20.5" transform="translate(1552.8,1549) rotate(-90)">Random</text>
<line x1="1602.7" y1="1455.1" x2="1602.7" y2="1458.5" stroke="#666" stroke-width="0.8"/>
<text class="s" font-size="20.5" transform="translate(1615.7,1560) rotate(-90)">Hub genes</text>
<line x1="1655.4" y1="1455.1" x2="1655.4" y2="1458.5" stroke="#666" stroke-width="0.8"/>
<text class="s" font-size="20.5" transform="translate(1668.4,1549) rotate(-90)">Random</text>
<line x1="1718.5" y1="1455.1" x2="1718.5" y2="1458.5" stroke="#666" stroke-width="0.8"/>
<text class="s" font-size="20.5" transform="translate(1731.5,1560) rotate(-90)">Hub genes</text>
<line x1="1770.6" y1="1455.1" x2="1770.6" y2="1458.5" stroke="#666" stroke-width="0.8"/>
<text class="s" font-size="20.5" transform="translate(1783.6,1549) rotate(-90)">Random</text>
<line x1="1833.5" y1="1455.1" x2="1833.5" y2="1458.5" stroke="#666" stroke-width="0.8"/>
<text class="s" font-size="20.5" transform="translate(1846.5,1560) rotate(-90)">Hub genes</text>
<line x1="1886.0" y1="1455.1" x2="1886.0" y2="1458.5" stroke="#666" stroke-width="0.8"/>
<text class="s" font-size="20.5" transform="translate(1899.0,1549) rotate(-90)">Random</text>
<line x1="1949.0" y1="1455.1" x2="1949.0" y2="1458.5" stroke="#666" stroke-width="0.8"/>
<text class="s" font-size="20.5" transform="translate(1962.0,1560) rotate(-90)">Hub genes</text>
<line x1="2001.6" y1="1455.1" x2="2001.6" y2="1458.5" stroke="#666" stroke-width="0.8"/>
<text class="s" font-size="20.5" transform="translate(2014.6,1549) rotate(-90)">Random</text>
<text class="s" x="756.5" y="1573.8" font-size="43">K</text>
<g transform="matrix(678.8,0,0,-696.1,739.3,2212.3)">
<ellipse cx="0.65" cy="0.47" rx="0.35" ry="0.2" transform="rotate(45 0.65 0.47)" fill="rgb(113,181,237)" fill-opacity="0.5"/>
<ellipse cx="0.35" cy="0.47" rx="0.35" ry="0.2" transform="rotate(135 0.35 0.47)" fill="rgb(253,157,53)" fill-opacity="0.5"/>
<ellipse cx="0.5" cy="0.57" rx="0.33" ry="0.15" transform="rotate(45 0.5 0.57)" fill="rgb(121,185,217)" fill-opacity="0.5"/>
<ellipse cx="0.5" cy="0.57" rx="0.35" ry="0.15" transform="rotate(135 0.5 0.57)" fill="rgb(129,137,201)" fill-opacity="0.5"/>
<ellipse cx="0.35" cy="0.47" rx="0.35" ry="0.2" transform="rotate(135 0.35 0.47)" fill="none" stroke="#000" stroke-width="1.1" vector-effect="non-scaling-stroke"/>
<ellipse cx="0.5" cy="0.57" rx="0.35" ry="0.15" transform="rotate(135 0.5 0.57)" fill="none" stroke="#000" stroke-width="1.1" vector-effect="non-scaling-stroke"/>
<ellipse cx="0.5" cy="0.57" rx="0.33" ry="0.15" transform="rotate(45 0.5 0.57)" fill="none" stroke="#000" stroke-width="1.1" vector-effect="non-scaling-stroke"/>
<ellipse cx="0.65" cy="0.47" rx="0.35" ry="0.2" transform="rotate(45 0.65 0.47)" fill="none" stroke="#000" stroke-width="1.1" vector-effect="non-scaling-stroke"/>
</g>
<text class="r" x="976.8" y="1685.2" font-size="24.5" text-anchor="middle">3774</text>
<text class="r" x="1180.5" y="1684.7" font-size="24.5" text-anchor="middle">716</text>
<text class="r" x="949.5" y="1754.7" font-size="24.5" text-anchor="middle">602</text>
<text class="r" x="1078.8" y="1741.8" font-size="24.5" text-anchor="middle">94</text>
<text class="r" x="1207.5" y="1754.3" font-size="24.5" text-anchor="middle">89</text>
<text class="r" x="860.9" y="1817.4" font-size="24.5" text-anchor="middle">4539</text>
<text class="r" x="1010.6" y="1817.4" font-size="24.5" text-anchor="middle">96</text>
<text class="r" x="1146.1" y="1817.4" font-size="24.5" text-anchor="middle">46</text>
<text class="r" x="1294.7" y="1817.4" font-size="24.5" text-anchor="middle">3261</text>
<text class="r" x="1078.8" y="1894.1" font-size="24.5" text-anchor="middle">605</text>
<text class="r" x="956.7" y="1929.1" font-size="24.5" text-anchor="middle">103</text>
<text class="r" x="1200.6" y="1929.1" font-size="24.5" text-anchor="middle">424</text>
<text class="r" x="1027.4" y="1957.0" font-size="24.5" text-anchor="middle">60</text>
<text class="r" x="1129.3" y="1957.0" font-size="24.5" text-anchor="middle">741</text>
<text class="r" x="1079.0" y="2026.1" font-size="24.5" text-anchor="middle">520</text>
<text class="r" x="801.5" y="1676.0" font-size="27" textLength="72.0" lengthAdjust="spacingAndGlyphs">Cotton</text>
<text class="r" x="924.5" y="1622.9" font-size="27" textLength="70.5" lengthAdjust="spacingAndGlyphs">Wheat</text>
<text class="r" x="1181.5" y="1624.3" font-size="27" textLength="49.5" lengthAdjust="spacingAndGlyphs">Rice</text>
<text class="r" x="1292.5" y="1682.5" font-size="27" textLength="67.5" lengthAdjust="spacingAndGlyphs">Maize</text>
<text class="s" x="1380.5" y="1573.2" font-size="43">L</text>
<text class="s" x="1422" y="1678.9" font-size="13" text-anchor="end" transform="translate(1422,0) scale(0.92,1) translate(-1422,0)">0.0</text>
<text class="s" x="1422" y="1660.6" font-size="13" text-anchor="end" transform="translate(1422,0) scale(0.92,1) translate(-1422,0)">0.5</text>
<text class="s" x="1422" y="1642.2" font-size="13" text-anchor="end" transform="translate(1422,0) scale(0.92,1) translate(-1422,0)">1.0</text>
<text class="s" x="1422" y="1623.9" font-size="13" text-anchor="end" transform="translate(1422,0) scale(0.92,1) translate(-1422,0)">1.5</text>
<text class="s" x="1422" y="1605.6" font-size="13" text-anchor="end" transform="translate(1422,0) scale(0.92,1) translate(-1422,0)">2.0</text>
<text class="s" x="1442.5" y="1694.2" font-size="13.5" text-anchor="middle">1</text>
<text class="s" x="1457.7" y="1694.2" font-size="13.5" text-anchor="middle">2</text>
<text class="s" x="1473.0" y="1694.2" font-size="13.5" text-anchor="middle">3</text>
<text class="s" x="1488.2" y="1694.2" font-size="13.5" text-anchor="middle">4</text>
<text class="s" x="1503.4" y="1694.2" font-size="13.5" text-anchor="middle">5</text>
<text class="s" x="1518.7" y="1694.2" font-size="13.5" text-anchor="middle">6</text>
<text class="s" x="1533.9" y="1694.2" font-size="13.5" text-anchor="middle">7</text>
<text class="s" x="1549.1" y="1694.2" font-size="13.5" text-anchor="middle">8</text>
<text class="s" x="1564.3" y="1694.2" font-size="13.5" text-anchor="middle">9</text>
<text class="s" x="1579.6" y="1694.2" font-size="13.5" text-anchor="middle" textLength="13.0" lengthAdjust="spacingAndGlyphs">10</text>
<text class="s" x="1594.8" y="1694.2" font-size="13.5" text-anchor="middle" textLength="13.0" lengthAdjust="spacingAndGlyphs">11</text>
<text class="s" x="1610.0" y="1694.2" font-size="13.5" text-anchor="middle" textLength="13.0" lengthAdjust="spacingAndGlyphs">12</text>
<text class="b" x="0" y="0" font-size="100" text-anchor="middle" fill="#d7263d" transform="translate(1457.73,1674.60) scale(0.2466,0.0409)">T</text>
<text class="b" x="0" y="0" font-size="100" text-anchor="middle" fill="#1a9641" transform="translate(1457.73,1671.67) scale(0.2087,0.1280)">A</text>
<text class="b" x="0" y="0" font-size="100" text-anchor="middle" fill="#1a9641" transform="translate(1472.96,1674.60) scale(0.2087,0.0205)">A</text>
<text class="b" x="0" y="0" font-size="100" text-anchor="middle" fill="#d7263d" transform="translate(1472.96,1673.13) scale(0.2466,0.0154)">T</text>
<text class="b" x="0" y="0" font-size="100" text-anchor="middle" fill="#2166ac" transform="translate(1472.96,1672.03) scale(0.2087,0.0205)">C</text>
<text class="b" x="0" y="0" font-size="100" text-anchor="middle" fill="#d7263d" transform="translate(1488.19,1674.60) scale(0.2466,0.0154)">T</text>
<text class="b" x="0" y="0" font-size="100" text-anchor="middle" fill="#2166ac" transform="translate(1488.19,1673.50) scale(0.2087,0.0307)">C</text>
<text class="b" x="0" y="0" font-size="100" text-anchor="middle" fill="#f5b02a" transform="translate(1488.19,1671.30) scale(0.1937,0.0512)">G</text>
<text class="b" x="0" y="0" font-size="100" text-anchor="middle" fill="#1a9641" transform="translate(1503.42,1674.60) scale(0.2087,0.0205)">A</text>
<text class="b" x="0" y="0" font-size="100" text-anchor="middle" fill="#f5b02a" transform="translate(1503.42,1673.13) scale(0.1937,0.0614)">G</text>
<text class="b" x="0" y="0" font-size="100" text-anchor="middle" fill="#2166ac" transform="translate(1503.42,1668.74) scale(0.2087,0.1331)">C</text>
<text class="b" x="0" y="0" font-size="100" text-anchor="middle" fill="#1a9641" transform="translate(1518.65,1674.60) scale(0.2087,0.0256)">A</text>
<text class="b" x="0" y="0" font-size="100" text-anchor="middle" fill="#d7263d" transform="translate(1518.65,1672.77) scale(0.2466,0.0614)">T</text>
<text class="b" x="0" y="0" font-size="100" text-anchor="middle" fill="#2166ac" transform="translate(1518.65,1668.37) scale(0.2087,0.5016)">C</text>
<text class="b" x="0" y="0" font-size="100" text-anchor="middle" fill="#d7263d" transform="translate(1533.88,1674.60) scale(0.2466,0.0154)">T</text>
<text class="b" x="0" y="0" font-size="100" text-anchor="middle" fill="#f5b02a" transform="translate(1533.88,1673.50) scale(0.1937,0.9060)">G</text>
<text class="b" x="0" y="0" font-size="100" text-anchor="middle" fill="#d7263d" transform="translate(1549.11,1674.60) scale(0.2466,0.0154)">T</text>
<text class="b" x="0" y="0" font-size="100" text-anchor="middle" fill="#2166ac" transform="translate(1549.11,1673.50) scale(0.2087,0.0614)">C</text>
<text class="b" x="0" y="0" font-size="100" text-anchor="middle" fill="#f5b02a" transform="translate(1549.11,1669.10) scale(0.1937,0.1024)">G</text>
<text class="b" x="0" y="0" font-size="100" text-anchor="middle" fill="#1a9641" transform="translate(1564.34,1674.60) scale(0.2087,0.0154)">A</text>
<text class="b" x="0" y="0" font-size="100" text-anchor="middle" fill="#d7263d" transform="translate(1564.34,1673.50) scale(0.2466,0.0205)">T</text>
<text class="b" x="0" y="0" font-size="100" text-anchor="middle" fill="#d7263d" transform="translate(1579.57,1674.60) scale(0.2466,0.0307)">T</text>
<text class="b" x="0" y="0" font-size="100" text-anchor="middle" fill="#1a9641" transform="translate(1579.57,1672.40) scale(0.2087,0.0512)">A</text>
<text class="b" x="0" y="0" font-size="100" text-anchor="middle" fill="#2166ac" transform="translate(1579.57,1668.74) scale(0.2087,0.1433)">C</text>
<text class="b" x="0" y="0" font-size="100" text-anchor="middle" fill="#2166ac" transform="translate(1594.80,1674.60) scale(0.2087,0.8702)">C</text>
<text class="s" x="1422" y="1678.9" font-size="13" text-anchor="end" transform="translate(1422,0) scale(0.92,1) translate(-1422,0)">0.0</text>
<text class="s" x="1422" y="1660.6" font-size="13" text-anchor="end" transform="translate(1422,0) scale(0.92,1) translate(-1422,0)">0.5</text>
<text class="s" x="1422" y="1642.2" font-size="13" text-anchor="end" transform="translate(1422,0) scale(0.92,1) translate(-1422,0)">1.0</text>
<text class="s" x="1422" y="1623.9" font-size="13" text-anchor="end" transform="translate(1422,0) scale(0.92,1) translate(-1422,0)">1.5</text>
<text class="s" x="1422" y="1605.6" font-size="13" text-anchor="end" transform="translate(1422,0) scale(0.92,1) translate(-1422,0)">2.0</text>
<text class="s" x="1647.8" y="1694.2" font-size="13.5" text-anchor="middle">1</text>
<text class="s" x="1660.0" y="1694.2" font-size="13.5" text-anchor="middle">2</text>
<text class="s" x="1672.2" y="1694.2" font-size="13.5" text-anchor="middle">3</text>
<text class="s" x="1684.4" y="1694.2" font-size="13.5" text-anchor="middle">4</text>
<text class="s" x="1696.6" y="1694.2" font-size="13.5" text-anchor="middle">5</text>
<text class="s" x="1708.8" y="1694.2" font-size="13.5" text-anchor="middle">6</text>
<text class="s" x="1721.1" y="1694.2" font-size="13.5" text-anchor="middle">7</text>
<text class="s" x="1733.3" y="1694.2" font-size="13.5" text-anchor="middle">8</text>
<text class="s" x="1745.5" y="1694.2" font-size="13.5" text-anchor="middle">9</text>
<text class="s" x="1757.7" y="1694.2" font-size="13.5" text-anchor="middle" textLength="11.7" lengthAdjust="spacingAndGlyphs">10</text>
<text class="s" x="1769.9" y="1694.2" font-size="13.5" text-anchor="middle" textLength="11.7" lengthAdjust="spacingAndGlyphs">11</text>
<text class="s" x="1782.1" y="1694.2" font-size="13.5" text-anchor="middle" textLength="11.7" lengthAdjust="spacingAndGlyphs">12</text>
<text class="s" x="1794.3" y="1694.2" font-size="13.5" text-anchor="middle" textLength="11.7" lengthAdjust="spacingAndGlyphs">13</text>
<text class="s" x="1806.5" y="1694.2" font-size="13.5" text-anchor="middle" textLength="11.7" lengthAdjust="spacingAndGlyphs">14</text>
<text class="s" x="1818.7" y="1694.2" font-size="13.5" text-anchor="middle" textLength="11.7" lengthAdjust="spacingAndGlyphs">15</text>
<text class="b" x="0" y="0" font-size="100" text-anchor="middle" fill="#d7263d" transform="translate(1647.80,1674.60) scale(0.1977,0.4556)">T</text>
<text class="b" x="0" y="0" font-size="100" text-anchor="middle" fill="#1a9641" transform="translate(1660.01,1674.60) scale(0.1673,0.0512)">A</text>
<text class="b" x="0" y="0" font-size="100" text-anchor="middle" fill="#2166ac" transform="translate(1660.01,1670.93) scale(0.1673,0.1126)">C</text>
<text class="b" x="0" y="0" font-size="100" text-anchor="middle" fill="#d7263d" transform="translate(1672.22,1674.60) scale(0.1977,0.0512)">T</text>
<text class="b" x="0" y="0" font-size="100" text-anchor="middle" fill="#f5b02a" transform="translate(1672.22,1670.93) scale(0.1553,0.0921)">G</text>
<text class="b" x="0" y="0" font-size="100" text-anchor="middle" fill="#2166ac" transform="translate(1684.43,1674.60) scale(0.1673,0.0512)">C</text>
<text class="b" x="0" y="0" font-size="100" text-anchor="middle" fill="#d7263d" transform="translate(1684.43,1670.93) scale(0.1977,0.4760)">T</text>
<text class="b" x="0" y="0" font-size="100" text-anchor="middle" fill="#2166ac" transform="translate(1696.64,1674.60) scale(0.1673,0.9572)">C</text>
<text class="b" x="0" y="0" font-size="100" text-anchor="middle" fill="#2166ac" transform="translate(1708.85,1674.60) scale(0.1673,0.0205)">C</text>
<text class="b" x="0" y="0" font-size="100" text-anchor="middle" fill="#d7263d" transform="translate(1708.85,1673.13) scale(0.1977,0.0409)">T</text>
<text class="b" x="0" y="0" font-size="100" text-anchor="middle" fill="#1a9641" transform="translate(1721.06,1674.60) scale(0.1673,0.0205)">A</text>
<text class="b" x="0" y="0" font-size="100" text-anchor="middle" fill="#f5b02a" transform="translate(1721.06,1673.13) scale(0.1553,0.0256)">G</text>
<text class="b" x="0" y="0" font-size="100" text-anchor="middle" fill="#1a9641" transform="translate(1733.27,1674.60) scale(0.1673,0.0512)">A</text>
<text class="b" x="0" y="0" font-size="100" text-anchor="middle" fill="#d7263d" transform="translate(1733.27,1670.93) scale(0.1977,0.0768)">T</text>
<text class="b" x="0" y="0" font-size="100" text-anchor="middle" fill="#1a9641" transform="translate(1745.48,1674.60) scale(0.1673,0.0512)">A</text>
<text class="b" x="0" y="0" font-size="100" text-anchor="middle" fill="#d7263d" transform="translate(1745.48,1670.93) scale(0.1977,0.6142)">T</text>
<text class="b" x="0" y="0" font-size="100" text-anchor="middle" fill="#2166ac" transform="translate(1757.69,1674.60) scale(0.1673,0.0307)">C</text>
<text class="b" x="0" y="0" font-size="100" text-anchor="middle" fill="#f5b02a" transform="translate(1757.69,1672.40) scale(0.1553,0.7780)">G</text>
<text class="b" x="0" y="0" font-size="100" text-anchor="middle" fill="#f5b02a" transform="translate(1769.90,1674.60) scale(0.1553,0.0256)">G</text>
<text class="b" x="0" y="0" font-size="100" text-anchor="middle" fill="#d7263d" transform="translate(1769.90,1672.77) scale(0.1977,0.0768)">T</text>
<text class="b" x="0" y="0" font-size="100" text-anchor="middle" fill="#2166ac" transform="translate(1769.90,1667.27) scale(0.1673,0.1228)">C</text>
<text class="b" x="0" y="0" font-size="100" text-anchor="middle" fill="#2166ac" transform="translate(1782.11,1674.60) scale(0.1673,0.0205)">C</text>
<text class="b" x="0" y="0" font-size="100" text-anchor="middle" fill="#d7263d" transform="translate(1782.11,1673.13) scale(0.1977,0.0409)">T</text>
<text class="b" x="0" y="0" font-size="100" text-anchor="middle" fill="#2166ac" transform="translate(1794.32,1674.60) scale(0.1673,0.0205)">C</text>
<text class="b" x="0" y="0" font-size="100" text-anchor="middle" fill="#d7263d" transform="translate(1794.32,1673.13) scale(0.1977,0.0819)">T</text>
<text class="b" x="0" y="0" font-size="100" text-anchor="middle" fill="#1a9641" transform="translate(1806.53,1674.60) scale(0.1673,0.0205)">A</text>
<text class="b" x="0" y="0" font-size="100" text-anchor="middle" fill="#d7263d" transform="translate(1806.53,1673.13) scale(0.1977,0.0409)">T</text>
<text class="s" x="1422" y="1678.9" font-size="13" text-anchor="end" transform="translate(1422,0) scale(0.92,1) translate(-1422,0)">0.0</text>
<text class="s" x="1422" y="1660.6" font-size="13" text-anchor="end" transform="translate(1422,0) scale(0.92,1) translate(-1422,0)">0.5</text>
<text class="s" x="1422" y="1642.2" font-size="13" text-anchor="end" transform="translate(1422,0) scale(0.92,1) translate(-1422,0)">1.0</text>
<text class="s" x="1422" y="1623.9" font-size="13" text-anchor="end" transform="translate(1422,0) scale(0.92,1) translate(-1422,0)">1.5</text>
<text class="s" x="1422" y="1605.6" font-size="13" text-anchor="end" transform="translate(1422,0) scale(0.92,1) translate(-1422,0)">2.0</text>
<text class="s" x="1856.7" y="1694.2" font-size="13.5" text-anchor="middle">1</text>
<text class="s" x="1873.3" y="1694.2" font-size="13.5" text-anchor="middle">2</text>
<text class="s" x="1890.0" y="1694.2" font-size="13.5" text-anchor="middle">3</text>
<text class="s" x="1906.6" y="1694.2" font-size="13.5" text-anchor="middle">4</text>
<text class="s" x="1923.3" y="1694.2" font-size="13.5" text-anchor="middle">5</text>
<text class="s" x="1939.9" y="1694.2" font-size="13.5" text-anchor="middle">6</text>
<text class="s" x="1956.5" y="1694.2" font-size="13.5" text-anchor="middle">7</text>
<text class="s" x="1973.2" y="1694.2" font-size="13.5" text-anchor="middle">8</text>
<text class="s" x="1989.8" y="1694.2" font-size="13.5" text-anchor="middle">9</text>
<text class="s" x="2006.5" y="1694.2" font-size="13.5" text-anchor="middle" textLength="13.0" lengthAdjust="spacingAndGlyphs">10</text>
<text class="s" x="2023.1" y="1694.2" font-size="13.5" text-anchor="middle" textLength="13.0" lengthAdjust="spacingAndGlyphs">11</text>
<text class="b" x="0" y="0" font-size="100" text-anchor="middle" fill="#f5b02a" transform="translate(1889.98,1674.60) scale(0.2116,0.0307)">G</text>
<text class="b" x="0" y="0" font-size="100" text-anchor="middle" fill="#2166ac" transform="translate(1889.98,1672.40) scale(0.2280,0.0512)">C</text>
<text class="b" x="0" y="0" font-size="100" text-anchor="middle" fill="#1a9641" transform="translate(1889.98,1668.74) scale(0.2280,0.2713)">A</text>
<text class="b" x="0" y="0" font-size="100" text-anchor="middle" fill="#d7263d" transform="translate(1906.62,1674.60) scale(0.2694,0.0205)">T</text>
<text class="b" x="0" y="0" font-size="100" text-anchor="middle" fill="#f5b02a" transform="translate(1906.62,1673.13) scale(0.2116,0.0307)">G</text>
<text class="b" x="0" y="0" font-size="100" text-anchor="middle" fill="#1a9641" transform="translate(1906.62,1670.93) scale(0.2280,0.1945)">A</text>
<text class="b" x="0" y="0" font-size="100" text-anchor="middle" fill="#d7263d" transform="translate(1923.26,1674.60) scale(0.2694,0.8036)">T</text>
<text class="b" x="0" y="0" font-size="100" text-anchor="middle" fill="#f5b02a" transform="translate(1939.90,1674.60) scale(0.2116,0.0307)">G</text>
<text class="b" x="0" y="0" font-size="100" text-anchor="middle" fill="#2166ac" transform="translate(1939.90,1672.40) scale(0.2280,0.0205)">C</text>
<text class="b" x="0" y="0" font-size="100" text-anchor="middle" fill="#1a9641" transform="translate(1939.90,1670.93) scale(0.2280,0.0614)">A</text>
<text class="b" x="0" y="0" font-size="100" text-anchor="middle" fill="#f5b02a" transform="translate(1956.54,1674.60) scale(0.2116,0.0154)">G</text>
<text class="b" x="0" y="0" font-size="100" text-anchor="middle" fill="#d7263d" transform="translate(1973.18,1674.60) scale(0.2694,0.0409)">T</text>
<text class="b" x="0" y="0" font-size="100" text-anchor="middle" fill="#f5b02a" transform="translate(1973.18,1671.67) scale(0.2116,0.0256)">G</text>
<text class="b" x="0" y="0" font-size="100" text-anchor="middle" fill="#1a9641" transform="translate(1973.18,1669.84) scale(0.2280,0.3225)">A</text>
<text class="b" x="0" y="0" font-size="100" text-anchor="middle" fill="#1a9641" transform="translate(1989.82,1674.60) scale(0.2280,0.0205)">A</text>
<text class="b" x="0" y="0" font-size="100" text-anchor="middle" fill="#f5b02a" transform="translate(2006.46,1674.60) scale(0.2116,0.0409)">G</text>
<text class="b" x="0" y="0" font-size="100" text-anchor="middle" fill="#d7263d" transform="translate(2006.46,1671.67) scale(0.2694,0.1280)">T</text>
<text class="s" x="1422" y="1809.9" font-size="13" text-anchor="end" transform="translate(1422,0) scale(0.92,1) translate(-1422,0)">0.0</text>
<text class="s" x="1422" y="1791.4" font-size="13" text-anchor="end" transform="translate(1422,0) scale(0.92,1) translate(-1422,0)">0.5</text>
<text class="s" x="1422" y="1773.0" font-size="13" text-anchor="end" transform="translate(1422,0) scale(0.92,1) translate(-1422,0)">1.0</text>
<text class="s" x="1422" y="1754.5" font-size="13" text-anchor="end" transform="translate(1422,0) scale(0.92,1) translate(-1422,0)">1.5</text>
<text class="s" x="1422" y="1736.1" font-size="13" text-anchor="end" transform="translate(1422,0) scale(0.92,1) translate(-1422,0)">2.0</text>
<text class="s" x="1442.5" y="1824.8" font-size="13.5" text-anchor="middle">1</text>
<text class="s" x="1457.7" y="1824.8" font-size="13.5" text-anchor="middle">2</text>
<text class="s" x="1473.0" y="1824.8" font-size="13.5" text-anchor="middle">3</text>
<text class="s" x="1488.2" y="1824.8" font-size="13.5" text-anchor="middle">4</text>
<text class="s" x="1503.4" y="1824.8" font-size="13.5" text-anchor="middle">5</text>
<text class="s" x="1518.7" y="1824.8" font-size="13.5" text-anchor="middle">6</text>
<text class="s" x="1533.9" y="1824.8" font-size="13.5" text-anchor="middle">7</text>
<text class="s" x="1549.1" y="1824.8" font-size="13.5" text-anchor="middle">8</text>
<text class="s" x="1564.3" y="1824.8" font-size="13.5" text-anchor="middle">9</text>
<text class="s" x="1579.6" y="1824.8" font-size="13.5" text-anchor="middle" textLength="13.0" lengthAdjust="spacingAndGlyphs">10</text>
<text class="s" x="1594.8" y="1824.8" font-size="13.5" text-anchor="middle" textLength="13.0" lengthAdjust="spacingAndGlyphs">11</text>
<text class="s" x="1610.0" y="1824.8" font-size="13.5" text-anchor="middle" textLength="13.0" lengthAdjust="spacingAndGlyphs">12</text>
<text class="b" x="0" y="0" font-size="100" text-anchor="middle" fill="#2166ac" transform="translate(1457.73,1805.60) scale(0.2087,0.4638)">C</text>
<text class="b" x="0" y="0" font-size="100" text-anchor="middle" fill="#f5b02a" transform="translate(1472.96,1805.60) scale(0.1937,0.0258)">G</text>
<text class="b" x="0" y="0" font-size="100" text-anchor="middle" fill="#2166ac" transform="translate(1472.96,1803.75) scale(0.2087,0.0412)">C</text>
<text class="b" x="0" y="0" font-size="100" text-anchor="middle" fill="#d7263d" transform="translate(1472.96,1800.80) scale(0.2466,0.1907)">T</text>
<text class="b" x="0" y="0" font-size="100" text-anchor="middle" fill="#1a9641" transform="translate(1488.19,1805.60) scale(0.2087,0.0206)">A</text>
<text class="b" x="0" y="0" font-size="100" text-anchor="middle" fill="#d7263d" transform="translate(1488.19,1804.12) scale(0.2466,0.0309)">T</text>
<text class="b" x="0" y="0" font-size="100" text-anchor="middle" fill="#2166ac" transform="translate(1488.19,1801.91) scale(0.2087,0.6184)">C</text>
<text class="b" x="0" y="0" font-size="100" text-anchor="middle" fill="#1a9641" transform="translate(1503.42,1805.60) scale(0.2087,0.0258)">A</text>
<text class="b" x="0" y="0" font-size="100" text-anchor="middle" fill="#f5b02a" transform="translate(1503.42,1803.75) scale(0.1937,0.0309)">G</text>
<text class="b" x="0" y="0" font-size="100" text-anchor="middle" fill="#2166ac" transform="translate(1503.42,1801.54) scale(0.2087,0.3092)">C</text>
<text class="b" x="0" y="0" font-size="100" text-anchor="middle" fill="#1a9641" transform="translate(1518.65,1805.60) scale(0.2087,0.0206)">A</text>
<text class="b" x="0" y="0" font-size="100" text-anchor="middle" fill="#f5b02a" transform="translate(1518.65,1804.12) scale(0.1937,0.0309)">G</text>
<text class="b" x="0" y="0" font-size="100" text-anchor="middle" fill="#d7263d" transform="translate(1518.65,1801.91) scale(0.2466,0.3608)">T</text>
<text class="b" x="0" y="0" font-size="100" text-anchor="middle" fill="#f5b02a" transform="translate(1533.88,1805.60) scale(0.1937,0.0206)">G</text>
<text class="b" x="0" y="0" font-size="100" text-anchor="middle" fill="#2166ac" transform="translate(1533.88,1804.12) scale(0.2087,0.7473)">C</text>
<text class="b" x="0" y="0" font-size="100" text-anchor="middle" fill="#d7263d" transform="translate(1549.11,1805.60) scale(0.2466,0.0206)">T</text>
<text class="b" x="0" y="0" font-size="100" text-anchor="middle" fill="#2166ac" transform="translate(1549.11,1804.12) scale(0.2087,0.7730)">C</text>
<text class="b" x="0" y="0" font-size="100" text-anchor="middle" fill="#d7263d" transform="translate(1564.34,1805.60) scale(0.2466,0.0258)">T</text>
<text class="b" x="0" y="0" font-size="100" text-anchor="middle" fill="#f5b02a" transform="translate(1564.34,1803.75) scale(0.1937,0.0258)">G</text>
<text class="b" x="0" y="0" font-size="100" text-anchor="middle" fill="#2166ac" transform="translate(1564.34,1801.91) scale(0.2087,0.4020)">C</text>
<text class="b" x="0" y="0" font-size="100" text-anchor="middle" fill="#1a9641" transform="translate(1579.57,1805.60) scale(0.2087,0.0258)">A</text>
<text class="b" x="0" y="0" font-size="100" text-anchor="middle" fill="#2166ac" transform="translate(1579.57,1803.75) scale(0.2087,0.0309)">C</text>
<text class="b" x="0" y="0" font-size="100" text-anchor="middle" fill="#d7263d" transform="translate(1579.57,1801.54) scale(0.2466,0.0412)">T</text>
<text class="b" x="0" y="0" font-size="100" text-anchor="middle" fill="#f5b02a" transform="translate(1594.80,1805.60) scale(0.1937,0.0258)">G</text>
<text class="b" x="0" y="0" font-size="100" text-anchor="middle" fill="#2166ac" transform="translate(1594.80,1803.75) scale(0.2087,0.0258)">C</text>
<text class="b" x="0" y="0" font-size="100" text-anchor="middle" fill="#d7263d" transform="translate(1594.80,1801.91) scale(0.2466,0.0412)">T</text>
<text class="s" x="1422" y="1809.9" font-size="13" text-anchor="end" transform="translate(1422,0) scale(0.92,1) translate(-1422,0)">0.0</text>
<text class="s" x="1422" y="1791.4" font-size="13" text-anchor="end" transform="translate(1422,0) scale(0.92,1) translate(-1422,0)">0.5</text>
<text class="s" x="1422" y="1773.0" font-size="13" text-anchor="end" transform="translate(1422,0) scale(0.92,1) translate(-1422,0)">1.0</text>
<text class="s" x="1422" y="1754.5" font-size="13" text-anchor="end" transform="translate(1422,0) scale(0.92,1) translate(-1422,0)">1.5</text>
<text class="s" x="1422" y="1736.1" font-size="13" text-anchor="end" transform="translate(1422,0) scale(0.92,1) translate(-1422,0)">2.0</text>
<text class="s" x="1649.6" y="1824.8" font-size="13.5" text-anchor="middle">1</text>
<text class="s" x="1666.2" y="1824.8" font-size="13.5" text-anchor="middle">2</text>
<text class="s" x="1682.9" y="1824.8" font-size="13.5" text-anchor="middle">3</text>
<text class="s" x="1699.5" y="1824.8" font-size="13.5" text-anchor="middle">4</text>
<text class="s" x="1716.2" y="1824.8" font-size="13.5" text-anchor="middle">5</text>
<text class="s" x="1732.8" y="1824.8" font-size="13.5" text-anchor="middle">6</text>
<text class="s" x="1749.4" y="1824.8" font-size="13.5" text-anchor="middle">7</text>
<text class="s" x="1766.1" y="1824.8" font-size="13.5" text-anchor="middle">8</text>
<text class="s" x="1782.7" y="1824.8" font-size="13.5" text-anchor="middle">9</text>
<text class="s" x="1799.4" y="1824.8" font-size="13.5" text-anchor="middle" textLength="13.0" lengthAdjust="spacingAndGlyphs">10</text>
<text class="s" x="1816.0" y="1824.8" font-size="13.5" text-anchor="middle" textLength="13.0" lengthAdjust="spacingAndGlyphs">11</text>
<text class="b" x="0" y="0" font-size="100" text-anchor="middle" fill="#1a9641" transform="translate(1649.60,1805.60) scale(0.2280,0.6391)">A</text>
<text class="b" x="0" y="0" font-size="100" text-anchor="middle" fill="#f5b02a" transform="translate(1699.52,1805.60) scale(0.2116,0.0206)">G</text>
<text class="b" x="0" y="0" font-size="100" text-anchor="middle" fill="#1a9641" transform="translate(1699.52,1804.12) scale(0.2280,0.0515)">A</text>
<text class="b" x="0" y="0" font-size="100" text-anchor="middle" fill="#2166ac" transform="translate(1699.52,1800.43) scale(0.2280,0.1495)">C</text>
<text class="b" x="0" y="0" font-size="100" text-anchor="middle" fill="#2166ac" transform="translate(1716.16,1805.60) scale(0.2280,0.7988)">C</text>
<text class="b" x="0" y="0" font-size="100" text-anchor="middle" fill="#1a9641" transform="translate(1732.80,1805.60) scale(0.2280,0.8503)">A</text>
<text class="b" x="0" y="0" font-size="100" text-anchor="middle" fill="#f5b02a" transform="translate(1749.44,1805.60) scale(0.2116,0.0258)">G</text>
<text class="b" x="0" y="0" font-size="100" text-anchor="middle" fill="#2166ac" transform="translate(1749.44,1803.75) scale(0.2280,0.0412)">C</text>
<text class="b" x="0" y="0" font-size="100" text-anchor="middle" fill="#1a9641" transform="translate(1749.44,1800.80) scale(0.2280,0.1134)">A</text>
<text class="b" x="0" y="0" font-size="100" text-anchor="middle" fill="#1a9641" transform="translate(1766.08,1805.60) scale(0.2280,0.0258)">A</text>
<text class="b" x="0" y="0" font-size="100" text-anchor="middle" fill="#d7263d" transform="translate(1766.08,1803.75) scale(0.2694,0.0258)">T</text>
<text class="b" x="0" y="0" font-size="100" text-anchor="middle" fill="#2166ac" transform="translate(1766.08,1801.91) scale(0.2280,0.2680)">C</text>
<text class="b" x="0" y="0" font-size="100" text-anchor="middle" fill="#f5b02a" transform="translate(1799.36,1805.60) scale(0.2116,0.4535)">G</text>
<text class="s" x="1422" y="1809.9" font-size="13" text-anchor="end" transform="translate(1422,0) scale(0.92,1) translate(-1422,0)">0.0</text>
<text class="s" x="1422" y="1791.4" font-size="13" text-anchor="end" transform="translate(1422,0) scale(0.92,1) translate(-1422,0)">0.5</text>
<text class="s" x="1422" y="1773.0" font-size="13" text-anchor="end" transform="translate(1422,0) scale(0.92,1) translate(-1422,0)">1.0</text>
<text class="s" x="1422" y="1754.5" font-size="13" text-anchor="end" transform="translate(1422,0) scale(0.92,1) translate(-1422,0)">1.5</text>
<text class="s" x="1422" y="1736.1" font-size="13" text-anchor="end" transform="translate(1422,0) scale(0.92,1) translate(-1422,0)">2.0</text>
<text class="s" x="1854.6" y="1824.8" font-size="13.5" text-anchor="middle">1</text>
<text class="s" x="1867.2" y="1824.8" font-size="13.5" text-anchor="middle">2</text>
<text class="s" x="1879.8" y="1824.8" font-size="13.5" text-anchor="middle">3</text>
<text class="s" x="1892.5" y="1824.8" font-size="13.5" text-anchor="middle">4</text>
<text class="s" x="1905.1" y="1824.8" font-size="13.5" text-anchor="middle">5</text>
<text class="s" x="1917.7" y="1824.8" font-size="13.5" text-anchor="middle">6</text>
<text class="s" x="1930.3" y="1824.8" font-size="13.5" text-anchor="middle">7</text>
<text class="s" x="1942.9" y="1824.8" font-size="13.5" text-anchor="middle">8</text>
<text class="s" x="1955.6" y="1824.8" font-size="13.5" text-anchor="middle">9</text>
<text class="s" x="1968.2" y="1824.8" font-size="13.5" text-anchor="middle" textLength="12.1" lengthAdjust="spacingAndGlyphs">10</text>
<text class="s" x="1980.8" y="1824.8" font-size="13.5" text-anchor="middle" textLength="12.1" lengthAdjust="spacingAndGlyphs">11</text>
<text class="s" x="1993.4" y="1824.8" font-size="13.5" text-anchor="middle" textLength="12.1" lengthAdjust="spacingAndGlyphs">12</text>
<text class="s" x="2006.0" y="1824.8" font-size="13.5" text-anchor="middle" textLength="12.1" lengthAdjust="spacingAndGlyphs">13</text>
<text class="s" x="2018.7" y="1824.8" font-size="13.5" text-anchor="middle" textLength="12.1" lengthAdjust="spacingAndGlyphs">14</text>
<text class="s" x="2031.3" y="1824.8" font-size="13.5" text-anchor="middle" textLength="12.1" lengthAdjust="spacingAndGlyphs">15</text>
<text class="b" x="0" y="0" font-size="100" text-anchor="middle" fill="#d7263d" transform="translate(1867.22,1805.60) scale(0.2043,0.0258)">T</text>
<text class="b" x="0" y="0" font-size="100" text-anchor="middle" fill="#2166ac" transform="translate(1867.22,1803.75) scale(0.1729,0.0258)">C</text>
<text class="b" x="0" y="0" font-size="100" text-anchor="middle" fill="#1a9641" transform="translate(1867.22,1801.91) scale(0.1729,0.4123)">A</text>
<text class="b" x="0" y="0" font-size="100" text-anchor="middle" fill="#2166ac" transform="translate(1879.84,1805.60) scale(0.1729,0.0258)">C</text>
<text class="b" x="0" y="0" font-size="100" text-anchor="middle" fill="#1a9641" transform="translate(1879.84,1803.75) scale(0.1729,0.1031)">A</text>
<text class="b" x="0" y="0" font-size="100" text-anchor="middle" fill="#2166ac" transform="translate(1892.46,1805.60) scale(0.1729,0.0412)">C</text>
<text class="b" x="0" y="0" font-size="100" text-anchor="middle" fill="#f5b02a" transform="translate(1892.46,1802.65) scale(0.1605,0.7215)">G</text>
<text class="b" x="0" y="0" font-size="100" text-anchor="middle" fill="#2166ac" transform="translate(1905.08,1805.60) scale(0.1729,0.0412)">C</text>
<text class="b" x="0" y="0" font-size="100" text-anchor="middle" fill="#f5b02a" transform="translate(1905.08,1802.65) scale(0.1605,0.6442)">G</text>
<text class="b" x="0" y="0" font-size="100" text-anchor="middle" fill="#2166ac" transform="translate(1917.70,1805.60) scale(0.1729,0.0515)">C</text>
<text class="b" x="0" y="0" font-size="100" text-anchor="middle" fill="#1a9641" transform="translate(1917.70,1801.91) scale(0.1729,0.3608)">A</text>
<text class="b" x="0" y="0" font-size="100" text-anchor="middle" fill="#2166ac" transform="translate(1930.32,1805.60) scale(0.1729,0.0309)">C</text>
<text class="b" x="0" y="0" font-size="100" text-anchor="middle" fill="#d7263d" transform="translate(1930.32,1803.39) scale(0.2043,0.0258)">T</text>
<text class="b" x="0" y="0" font-size="100" text-anchor="middle" fill="#1a9641" transform="translate(1930.32,1801.54) scale(0.1729,0.1546)">A</text>
<text class="b" x="0" y="0" font-size="100" text-anchor="middle" fill="#d7263d" transform="translate(1942.94,1805.60) scale(0.2043,0.0258)">T</text>
<text class="b" x="0" y="0" font-size="100" text-anchor="middle" fill="#f5b02a" transform="translate(1942.94,1803.75) scale(0.1605,0.7730)">G</text>
<text class="b" x="0" y="0" font-size="100" text-anchor="middle" fill="#d7263d" transform="translate(1955.56,1805.60) scale(0.2043,0.0309)">T</text>
<text class="b" x="0" y="0" font-size="100" text-anchor="middle" fill="#1a9641" transform="translate(1955.56,1803.39) scale(0.1729,0.8143)">A</text>
<text class="b" x="0" y="0" font-size="100" text-anchor="middle" fill="#2166ac" transform="translate(1968.18,1805.60) scale(0.1729,0.0412)">C</text>
<text class="b" x="0" y="0" font-size="100" text-anchor="middle" fill="#f5b02a" transform="translate(1968.18,1802.65) scale(0.1605,0.7421)">G</text>
<text class="b" x="0" y="0" font-size="100" text-anchor="middle" fill="#2166ac" transform="translate(1980.80,1805.60) scale(0.1729,0.0309)">C</text>
<text class="b" x="0" y="0" font-size="100" text-anchor="middle" fill="#1a9641" transform="translate(1980.80,1803.39) scale(0.1729,0.7730)">A</text>
<text class="b" x="0" y="0" font-size="100" text-anchor="middle" fill="#f5b02a" transform="translate(1993.42,1805.60) scale(0.1605,0.7730)">G</text>
<text class="b" x="0" y="0" font-size="100" text-anchor="middle" fill="#d7263d" transform="translate(2018.66,1805.60) scale(0.2043,0.0206)">T</text>
<text class="b" x="0" y="0" font-size="100" text-anchor="middle" fill="#1a9641" transform="translate(2018.66,1804.12) scale(0.1729,0.0670)">A</text>
<text class="b" x="0" y="0" font-size="100" text-anchor="middle" fill="#f5b02a" transform="translate(2031.28,1805.60) scale(0.1605,0.6391)">G</text>
<text class="s" x="1422" y="1940.1" font-size="13" text-anchor="end" transform="translate(1422,0) scale(0.92,1) translate(-1422,0)">0.0</text>
<text class="s" x="1422" y="1921.8" font-size="13" text-anchor="end" transform="translate(1422,0) scale(0.92,1) translate(-1422,0)">0.5</text>
<text class="s" x="1422" y="1903.6" font-size="13" text-anchor="end" transform="translate(1422,0) scale(0.92,1) translate(-1422,0)">1.0</text>
<text class="s" x="1422" y="1885.3" font-size="13" text-anchor="end" transform="translate(1422,0) scale(0.92,1) translate(-1422,0)">1.5</text>
<text class="s" x="1422" y="1867.1" font-size="13" text-anchor="end" transform="translate(1422,0) scale(0.92,1) translate(-1422,0)">2.0</text>
<text class="s" x="1439.7" y="1955.1" font-size="13.5" text-anchor="middle">1</text>
<text class="s" x="1450.6" y="1955.1" font-size="13.5" text-anchor="middle">2</text>
<text class="s" x="1461.4" y="1955.1" font-size="13.5" text-anchor="middle">3</text>
<text class="s" x="1472.3" y="1955.1" font-size="13.5" text-anchor="middle">4</text>
<text class="s" x="1483.1" y="1955.1" font-size="13.5" text-anchor="middle">5</text>
<text class="s" x="1494.0" y="1955.1" font-size="13.5" text-anchor="middle">6</text>
<text class="s" x="1504.9" y="1955.1" font-size="13.5" text-anchor="middle">7</text>
<text class="s" x="1515.7" y="1955.1" font-size="13.5" text-anchor="middle">8</text>
<text class="s" x="1526.6" y="1955.1" font-size="13.5" text-anchor="middle">9</text>
<text class="s" x="1537.4" y="1955.1" font-size="13.5" text-anchor="middle" textLength="10.4" lengthAdjust="spacingAndGlyphs">10</text>
<text class="s" x="1548.3" y="1955.1" font-size="13.5" text-anchor="middle" textLength="10.4" lengthAdjust="spacingAndGlyphs">11</text>
<text class="s" x="1559.2" y="1955.1" font-size="13.5" text-anchor="middle" textLength="10.4" lengthAdjust="spacingAndGlyphs">12</text>
<text class="s" x="1570.0" y="1955.1" font-size="13.5" text-anchor="middle" textLength="10.4" lengthAdjust="spacingAndGlyphs">13</text>
<text class="s" x="1580.9" y="1955.1" font-size="13.5" text-anchor="middle" textLength="10.4" lengthAdjust="spacingAndGlyphs">14</text>
<text class="s" x="1591.7" y="1955.1" font-size="13.5" text-anchor="middle" textLength="10.4" lengthAdjust="spacingAndGlyphs">15</text>
<text class="s" x="1602.6" y="1955.1" font-size="13.5" text-anchor="middle" textLength="10.4" lengthAdjust="spacingAndGlyphs">16</text>
<text class="s" x="1613.5" y="1955.1" font-size="13.5" text-anchor="middle" textLength="10.4" lengthAdjust="spacingAndGlyphs">17</text>
<text class="b" x="0" y="0" font-size="100" text-anchor="middle" fill="#d7263d" transform="translate(1450.56,1935.80) scale(0.1758,0.0510)">T</text>
<text class="b" x="0" y="0" font-size="100" text-anchor="middle" fill="#2166ac" transform="translate(1450.56,1932.15) scale(0.1488,0.2294)">C</text>
<text class="b" x="0" y="0" font-size="100" text-anchor="middle" fill="#d7263d" transform="translate(1461.42,1935.80) scale(0.1758,0.0408)">T</text>
<text class="b" x="0" y="0" font-size="100" text-anchor="middle" fill="#1a9641" transform="translate(1461.42,1932.88) scale(0.1488,0.1937)">A</text>
<text class="b" x="0" y="0" font-size="100" text-anchor="middle" fill="#d7263d" transform="translate(1472.28,1935.80) scale(0.1758,0.0153)">T</text>
<text class="b" x="0" y="0" font-size="100" text-anchor="middle" fill="#f5b02a" transform="translate(1483.14,1935.80) scale(0.1381,0.0408)">G</text>
<text class="b" x="0" y="0" font-size="100" text-anchor="middle" fill="#d7263d" transform="translate(1483.14,1932.88) scale(0.1758,0.4843)">T</text>
<text class="b" x="0" y="0" font-size="100" text-anchor="middle" fill="#d7263d" transform="translate(1494.00,1935.80) scale(0.1758,0.0510)">T</text>
<text class="b" x="0" y="0" font-size="100" text-anchor="middle" fill="#2166ac" transform="translate(1494.00,1932.15) scale(0.1488,0.5098)">C</text>
<text class="b" x="0" y="0" font-size="100" text-anchor="middle" fill="#d7263d" transform="translate(1504.86,1935.80) scale(0.1758,0.0510)">T</text>
<text class="b" x="0" y="0" font-size="100" text-anchor="middle" fill="#2166ac" transform="translate(1504.86,1932.15) scale(0.1488,0.3059)">C</text>
<text class="b" x="0" y="0" font-size="100" text-anchor="middle" fill="#d7263d" transform="translate(1515.72,1935.80) scale(0.1758,0.0306)">T</text>
<text class="b" x="0" y="0" font-size="100" text-anchor="middle" fill="#1a9641" transform="translate(1515.72,1933.61) scale(0.1488,0.7902)">A</text>
<text class="b" x="0" y="0" font-size="100" text-anchor="middle" fill="#d7263d" transform="translate(1526.58,1935.80) scale(0.1758,0.0408)">T</text>
<text class="b" x="0" y="0" font-size="100" text-anchor="middle" fill="#2166ac" transform="translate(1526.58,1932.88) scale(0.1488,0.1274)">C</text>
<text class="b" x="0" y="0" font-size="100" text-anchor="middle" fill="#f5b02a" transform="translate(1537.44,1935.80) scale(0.1381,0.0306)">G</text>
<text class="b" x="0" y="0" font-size="100" text-anchor="middle" fill="#2166ac" transform="translate(1537.44,1933.61) scale(0.1488,0.2549)">C</text>
<text class="b" x="0" y="0" font-size="100" text-anchor="middle" fill="#f5b02a" transform="translate(1548.30,1935.80) scale(0.1381,0.0255)">G</text>
<text class="b" x="0" y="0" font-size="100" text-anchor="middle" fill="#d7263d" transform="translate(1548.30,1933.97) scale(0.1758,0.3568)">T</text>
<text class="b" x="0" y="0" font-size="100" text-anchor="middle" fill="#f5b02a" transform="translate(1559.16,1935.80) scale(0.1381,0.0255)">G</text>
<text class="b" x="0" y="0" font-size="100" text-anchor="middle" fill="#2166ac" transform="translate(1559.16,1933.97) scale(0.1488,0.5200)">C</text>
<text class="b" x="0" y="0" font-size="100" text-anchor="middle" fill="#2166ac" transform="translate(1570.02,1935.80) scale(0.1488,0.0408)">C</text>
<text class="b" x="0" y="0" font-size="100" text-anchor="middle" fill="#1a9641" transform="translate(1570.02,1932.88) scale(0.1488,0.5506)">A</text>
<text class="b" x="0" y="0" font-size="100" text-anchor="middle" fill="#2166ac" transform="translate(1580.88,1935.80) scale(0.1488,0.0867)">C</text>
<text class="b" x="0" y="0" font-size="100" text-anchor="middle" fill="#f5b02a" transform="translate(1591.74,1935.80) scale(0.1381,0.6372)">G</text>
<text class="s" x="1422" y="1940.1" font-size="13" text-anchor="end" transform="translate(1422,0) scale(0.92,1) translate(-1422,0)">0.0</text>
<text class="s" x="1422" y="1921.8" font-size="13" text-anchor="end" transform="translate(1422,0) scale(0.92,1) translate(-1422,0)">0.5</text>
<text class="s" x="1422" y="1903.6" font-size="13" text-anchor="end" transform="translate(1422,0) scale(0.92,1) translate(-1422,0)">1.0</text>
<text class="s" x="1422" y="1885.3" font-size="13" text-anchor="end" transform="translate(1422,0) scale(0.92,1) translate(-1422,0)">1.5</text>
<text class="s" x="1422" y="1867.1" font-size="13" text-anchor="end" transform="translate(1422,0) scale(0.92,1) translate(-1422,0)">2.0</text>
<text class="s" x="1650.3" y="1955.1" font-size="13.5" text-anchor="middle">1</text>
<text class="s" x="1668.6" y="1955.1" font-size="13.5" text-anchor="middle">2</text>
<text class="s" x="1687.0" y="1955.1" font-size="13.5" text-anchor="middle">3</text>
<text class="s" x="1705.3" y="1955.1" font-size="13.5" text-anchor="middle">4</text>
<text class="s" x="1723.6" y="1955.1" font-size="13.5" text-anchor="middle">5</text>
<text class="s" x="1742.0" y="1955.1" font-size="13.5" text-anchor="middle">6</text>
<text class="s" x="1760.3" y="1955.1" font-size="13.5" text-anchor="middle">7</text>
<text class="s" x="1778.6" y="1955.1" font-size="13.5" text-anchor="middle">8</text>
<text class="s" x="1796.9" y="1955.1" font-size="13.5" text-anchor="middle">9</text>
<text class="s" x="1815.3" y="1955.1" font-size="13.5" text-anchor="middle" textLength="13.0" lengthAdjust="spacingAndGlyphs">10</text>
<text class="b" x="0" y="0" font-size="100" text-anchor="middle" fill="#f5b02a" transform="translate(1650.30,1935.80) scale(0.2331,0.0510)">G</text>
<text class="b" x="0" y="0" font-size="100" text-anchor="middle" fill="#1a9641" transform="translate(1650.30,1932.15) scale(0.2511,0.4996)">A</text>
<text class="b" x="0" y="0" font-size="100" text-anchor="middle" fill="#f5b02a" transform="translate(1686.96,1935.80) scale(0.2331,0.0306)">G</text>
<text class="b" x="0" y="0" font-size="100" text-anchor="middle" fill="#2166ac" transform="translate(1686.96,1933.61) scale(0.2511,0.0867)">C</text>
<text class="b" x="0" y="0" font-size="100" text-anchor="middle" fill="#d7263d" transform="translate(1705.29,1935.80) scale(0.2968,0.0408)">T</text>
<text class="b" x="0" y="0" font-size="100" text-anchor="middle" fill="#1a9641" transform="translate(1705.29,1932.88) scale(0.2511,0.7035)">A</text>
<text class="b" x="0" y="0" font-size="100" text-anchor="middle" fill="#d7263d" transform="translate(1723.62,1935.80) scale(0.2968,0.0306)">T</text>
<text class="b" x="0" y="0" font-size="100" text-anchor="middle" fill="#1a9641" transform="translate(1723.62,1933.61) scale(0.2511,0.7749)">A</text>
<text class="b" x="0" y="0" font-size="100" text-anchor="middle" fill="#f5b02a" transform="translate(1741.95,1935.80) scale(0.2331,0.0408)">G</text>
<text class="b" x="0" y="0" font-size="100" text-anchor="middle" fill="#2166ac" transform="translate(1741.95,1932.88) scale(0.2511,0.0204)">C</text>
<text class="b" x="0" y="0" font-size="100" text-anchor="middle" fill="#1a9641" transform="translate(1741.95,1931.42) scale(0.2511,0.5506)">A</text>
<text class="b" x="0" y="0" font-size="100" text-anchor="middle" fill="#d7263d" transform="translate(1760.28,1935.80) scale(0.2968,0.0255)">T</text>
<text class="b" x="0" y="0" font-size="100" text-anchor="middle" fill="#f5b02a" transform="translate(1760.28,1933.97) scale(0.2331,0.0255)">G</text>
<text class="b" x="0" y="0" font-size="100" text-anchor="middle" fill="#1a9641" transform="translate(1760.28,1932.15) scale(0.2511,0.3976)">A</text>
<text class="b" x="0" y="0" font-size="100" text-anchor="middle" fill="#1a9641" transform="translate(1815.27,1935.80) scale(0.2511,0.4486)">A</text>
<text class="s" x="1422" y="1940.1" font-size="13" text-anchor="end" transform="translate(1422,0) scale(0.92,1) translate(-1422,0)">0.0</text>
<text class="s" x="1422" y="1921.8" font-size="13" text-anchor="end" transform="translate(1422,0) scale(0.92,1) translate(-1422,0)">0.5</text>
<text class="s" x="1422" y="1903.6" font-size="13" text-anchor="end" transform="translate(1422,0) scale(0.92,1) translate(-1422,0)">1.0</text>
<text class="s" x="1422" y="1885.3" font-size="13" text-anchor="end" transform="translate(1422,0) scale(0.92,1) translate(-1422,0)">1.5</text>
<text class="s" x="1422" y="1867.1" font-size="13" text-anchor="end" transform="translate(1422,0) scale(0.92,1) translate(-1422,0)">2.0</text>
<text class="s" x="1856.7" y="1955.1" font-size="13.5" text-anchor="middle">1</text>
<text class="s" x="1873.3" y="1955.1" font-size="13.5" text-anchor="middle">2</text>
<text class="s" x="1890.0" y="1955.1" font-size="13.5" text-anchor="middle">3</text>
<text class="s" x="1906.6" y="1955.1" font-size="13.5" text-anchor="middle">4</text>
<text class="s" x="1923.3" y="1955.1" font-size="13.5" text-anchor="middle">5</text>
<text class="s" x="1939.9" y="1955.1" font-size="13.5" text-anchor="middle">6</text>
<text class="s" x="1956.5" y="1955.1" font-size="13.5" text-anchor="middle">7</text>
<text class="s" x="1973.2" y="1955.1" font-size="13.5" text-anchor="middle">8</text>
<text class="s" x="1989.8" y="1955.1" font-size="13.5" text-anchor="middle">9</text>
<text class="s" x="2006.5" y="1955.1" font-size="13.5" text-anchor="middle" textLength="13.0" lengthAdjust="spacingAndGlyphs">10</text>
<text class="s" x="2023.1" y="1955.1" font-size="13.5" text-anchor="middle" textLength="13.0" lengthAdjust="spacingAndGlyphs">11</text>
<text class="b" x="0" y="0" font-size="100" text-anchor="middle" fill="#2166ac" transform="translate(1856.70,1935.80) scale(0.2280,0.7341)">C</text>
<text class="b" x="0" y="0" font-size="100" text-anchor="middle" fill="#f5b02a" transform="translate(1889.98,1935.80) scale(0.2116,0.0153)">G</text>
<text class="b" x="0" y="0" font-size="100" text-anchor="middle" fill="#1a9641" transform="translate(1889.98,1934.70) scale(0.2280,0.0357)">A</text>
<text class="b" x="0" y="0" font-size="100" text-anchor="middle" fill="#2166ac" transform="translate(1906.62,1935.80) scale(0.2280,0.0153)">C</text>
<text class="b" x="0" y="0" font-size="100" text-anchor="middle" fill="#f5b02a" transform="translate(1906.62,1934.70) scale(0.2116,0.0204)">G</text>
<text class="b" x="0" y="0" font-size="100" text-anchor="middle" fill="#f5b02a" transform="translate(1923.26,1935.80) scale(0.2116,0.9890)">G</text>
<text class="b" x="0" y="0" font-size="100" text-anchor="middle" fill="#d7263d" transform="translate(1939.90,1935.80) scale(0.2694,0.0204)">T</text>
<text class="b" x="0" y="0" font-size="100" text-anchor="middle" fill="#f5b02a" transform="translate(1939.90,1934.34) scale(0.2116,0.8360)">G</text>
<text class="b" x="0" y="0" font-size="100" text-anchor="middle" fill="#d7263d" transform="translate(1956.54,1935.80) scale(0.2694,0.0408)">T</text>
<text class="b" x="0" y="0" font-size="100" text-anchor="middle" fill="#2166ac" transform="translate(1956.54,1932.88) scale(0.2280,0.0510)">C</text>
<text class="b" x="0" y="0" font-size="100" text-anchor="middle" fill="#1a9641" transform="translate(1956.54,1929.23) scale(0.2280,0.1020)">A</text>
<text class="b" x="0" y="0" font-size="100" text-anchor="middle" fill="#1a9641" transform="translate(1973.18,1935.80) scale(0.2280,0.0306)">A</text>
<text class="b" x="0" y="0" font-size="100" text-anchor="middle" fill="#d7263d" transform="translate(1973.18,1933.61) scale(0.2694,0.0306)">T</text>
<text class="b" x="0" y="0" font-size="100" text-anchor="middle" fill="#f5b02a" transform="translate(1973.18,1931.42) scale(0.2116,0.0867)">G</text>
<text class="b" x="0" y="0" font-size="100" text-anchor="middle" fill="#d7263d" transform="translate(2006.46,1935.80) scale(0.2694,0.1020)">T</text>
<text class="b" x="0" y="0" font-size="100" text-anchor="middle" fill="#f5b02a" transform="translate(2006.46,1928.50) scale(0.2116,0.2192)">G</text>
<text class="b" x="0" y="0" font-size="100" text-anchor="middle" fill="#f5b02a" transform="translate(2023.10,1935.80) scale(0.2116,0.7341)">G</text>
<text class="s" x="1422" y="2071.1" font-size="13" text-anchor="end" transform="translate(1422,0) scale(0.92,1) translate(-1422,0)">0.0</text>
<text class="s" x="1422" y="2052.6" font-size="13" text-anchor="end" transform="translate(1422,0) scale(0.92,1) translate(-1422,0)">0.5</text>
<text class="s" x="1422" y="2034.0" font-size="13" text-anchor="end" transform="translate(1422,0) scale(0.92,1) translate(-1422,0)">1.0</text>
<text class="s" x="1422" y="2015.5" font-size="13" text-anchor="end" transform="translate(1422,0) scale(0.92,1) translate(-1422,0)">1.5</text>
<text class="s" x="1422" y="1997.0" font-size="13" text-anchor="end" transform="translate(1422,0) scale(0.92,1) translate(-1422,0)">2.0</text>
<text class="s" x="1442.5" y="2085.3" font-size="13.5" text-anchor="middle">1</text>
<text class="s" x="1459.1" y="2085.3" font-size="13.5" text-anchor="middle">2</text>
<text class="s" x="1475.8" y="2085.3" font-size="13.5" text-anchor="middle">3</text>
<text class="s" x="1492.4" y="2085.3" font-size="13.5" text-anchor="middle">4</text>
<text class="s" x="1509.1" y="2085.3" font-size="13.5" text-anchor="middle">5</text>
<text class="s" x="1525.7" y="2085.3" font-size="13.5" text-anchor="middle">6</text>
<text class="s" x="1542.3" y="2085.3" font-size="13.5" text-anchor="middle">7</text>
<text class="s" x="1559.0" y="2085.3" font-size="13.5" text-anchor="middle">8</text>
<text class="s" x="1575.6" y="2085.3" font-size="13.5" text-anchor="middle">9</text>
<text class="s" x="1592.3" y="2085.3" font-size="13.5" text-anchor="middle" textLength="13.0" lengthAdjust="spacingAndGlyphs">10</text>
<text class="s" x="1608.9" y="2085.3" font-size="13.5" text-anchor="middle" textLength="13.0" lengthAdjust="spacingAndGlyphs">11</text>
<text class="b" x="0" y="0" font-size="100" text-anchor="middle" fill="#1a9641" transform="translate(1459.14,2066.80) scale(0.2280,0.0207)">A</text>
<text class="b" x="0" y="0" font-size="100" text-anchor="middle" fill="#d7263d" transform="translate(1459.14,2065.32) scale(0.2694,0.0207)">T</text>
<text class="b" x="0" y="0" font-size="100" text-anchor="middle" fill="#2166ac" transform="translate(1459.14,2063.84) scale(0.2280,0.0414)">C</text>
<text class="b" x="0" y="0" font-size="100" text-anchor="middle" fill="#1a9641" transform="translate(1475.78,2066.80) scale(0.2280,0.0207)">A</text>
<text class="b" x="0" y="0" font-size="100" text-anchor="middle" fill="#2166ac" transform="translate(1475.78,2065.32) scale(0.2280,0.0259)">C</text>
<text class="b" x="0" y="0" font-size="100" text-anchor="middle" fill="#d7263d" transform="translate(1475.78,2063.47) scale(0.2694,0.0155)">T</text>
<text class="b" x="0" y="0" font-size="100" text-anchor="middle" fill="#f5b02a" transform="translate(1492.42,2066.80) scale(0.2116,0.0310)">G</text>
<text class="b" x="0" y="0" font-size="100" text-anchor="middle" fill="#2166ac" transform="translate(1492.42,2064.58) scale(0.2280,0.0259)">C</text>
<text class="b" x="0" y="0" font-size="100" text-anchor="middle" fill="#d7263d" transform="translate(1492.42,2062.72) scale(0.2694,0.5692)">T</text>
<text class="b" x="0" y="0" font-size="100" text-anchor="middle" fill="#2166ac" transform="translate(1509.06,2066.80) scale(0.2280,0.0310)">C</text>
<text class="b" x="0" y="0" font-size="100" text-anchor="middle" fill="#1a9641" transform="translate(1509.06,2064.58) scale(0.2280,0.0310)">A</text>
<text class="b" x="0" y="0" font-size="100" text-anchor="middle" fill="#d7263d" transform="translate(1509.06,2062.35) scale(0.2694,0.4916)">T</text>
<text class="b" x="0" y="0" font-size="100" text-anchor="middle" fill="#f5b02a" transform="translate(1525.70,2066.80) scale(0.2116,0.0155)">G</text>
<text class="b" x="0" y="0" font-size="100" text-anchor="middle" fill="#d7263d" transform="translate(1525.70,2065.69) scale(0.2694,0.9314)">T</text>
<text class="b" x="0" y="0" font-size="100" text-anchor="middle" fill="#d7263d" transform="translate(1542.34,2066.80) scale(0.2694,0.0155)">T</text>
<text class="b" x="0" y="0" font-size="100" text-anchor="middle" fill="#1a9641" transform="translate(1542.34,2065.69) scale(0.2280,0.0621)">A</text>
<text class="b" x="0" y="0" font-size="100" text-anchor="middle" fill="#2166ac" transform="translate(1542.34,2061.24) scale(0.2280,0.3519)">C</text>
<text class="b" x="0" y="0" font-size="100" text-anchor="middle" fill="#1a9641" transform="translate(1575.62,2066.80) scale(0.2280,0.0310)">A</text>
<text class="b" x="0" y="0" font-size="100" text-anchor="middle" fill="#f5b02a" transform="translate(1575.62,2064.58) scale(0.2116,0.0207)">G</text>
<text class="b" x="0" y="0" font-size="100" text-anchor="middle" fill="#d7263d" transform="translate(1575.62,2063.10) scale(0.2694,0.5019)">T</text>
<text class="b" x="0" y="0" font-size="100" text-anchor="middle" fill="#f5b02a" transform="translate(1592.26,2066.80) scale(0.2116,0.0414)">G</text>
<text class="b" x="0" y="0" font-size="100" text-anchor="middle" fill="#d7263d" transform="translate(1592.26,2063.84) scale(0.2694,0.5123)">T</text>
</svg>
</body></html>
